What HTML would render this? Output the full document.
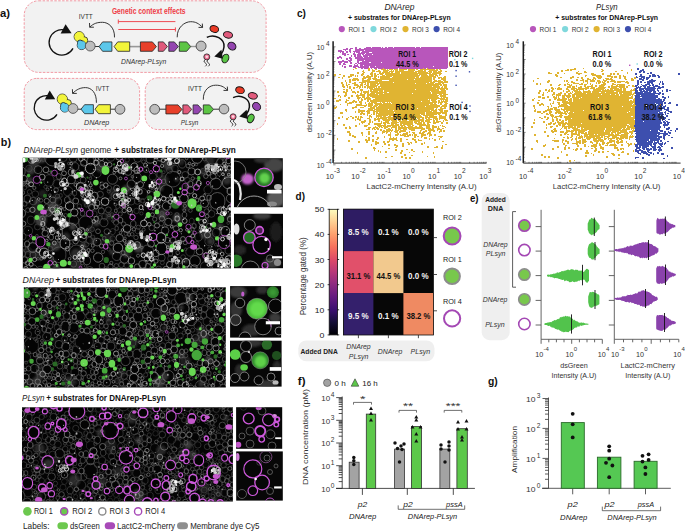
<!DOCTYPE html>
<html><head><meta charset="utf-8"><title>Figure</title>
<style>
html,body{margin:0;padding:0;background:#fff;width:685px;height:531px;overflow:hidden}
svg{display:block}
text{font-family:"Liberation Sans", sans-serif}
</style></head><body>
<svg width="685" height="531" viewBox="0 0 685 531" font-family='"Liberation Sans", sans-serif'>
<rect width="685" height="531" fill="#fff"/>
<defs><filter id="blur1" x="-50%" y="-50%" width="200%" height="200%"><feGaussianBlur stdDeviation="1"/></filter><filter id="blur05" x="-50%" y="-50%" width="200%" height="200%"><feGaussianBlur stdDeviation="0.5"/></filter><filter id="blur03" x="-50%" y="-50%" width="200%" height="200%"><feGaussianBlur stdDeviation="0.3"/></filter></defs>
<g fill="#f2f2f2" stroke="#f0909b" stroke-width="0.9" stroke-dasharray="2.5 1.4">
<rect x="24.2" y="0.8" width="241.9" height="71.6" rx="14.5"/>
<rect x="24.2" y="78.4" width="115.4" height="51.2" rx="12.5"/>
<rect x="145.2" y="77.8" width="120.9" height="51.8" rx="13"/>
</g>
<text x="0.0" y="16.8" font-size="11.5" font-weight="bold" fill="#111" textLength="10.0" lengthAdjust="spacingAndGlyphs">a)</text>
<g stroke="#ee4a52" stroke-width="1" fill="none">
<path d="M118.3,21.6H175.4M118.3,19.5V23.7M118.3,29.5H175.4M175.4,27.4V31.6"/>
</g>
<text x="111.9" y="13.9" font-size="8.2" font-weight="bold" fill="#ee3b45" textLength="73.7" lengthAdjust="spacingAndGlyphs">Genetic context effects</text>
<text x="78.8" y="19.2" font-size="7" fill="#333" textLength="14.0" lengthAdjust="spacingAndGlyphs">IVTT</text>
<text x="121.0" y="63.6" font-size="7.3" font-style="italic" fill="#333" textLength="45.2" lengthAdjust="spacingAndGlyphs">DNArep-PLsyn</text>
<text x="95.8" y="90.5" font-size="7" fill="#333" textLength="13.4" lengthAdjust="spacingAndGlyphs">IVTT</text>
<text x="188.0" y="90.5" font-size="7" fill="#333" textLength="14.0" lengthAdjust="spacingAndGlyphs">IVTT</text>
<text x="84.0" y="125.2" font-size="7.3" font-style="italic" fill="#333" textLength="25.3" lengthAdjust="spacingAndGlyphs">DNArep</text>
<text x="180.7" y="125.2" font-size="7.3" font-style="italic" fill="#333" textLength="17.7" lengthAdjust="spacingAndGlyphs">PLsyn</text>
<path d="M73,48.4A12.7,12.7 0 1 1 64.4,30.0" fill="none" stroke="#111" stroke-width="1.3"/>
<path d="M65.6,24.2L71.6,33.2L60.6,33.4Z" fill="#111"/>
<path d="M95,46.5H99.5" stroke="#333" stroke-width="1"/>
<path d="M129.7,46.6H140.4" stroke="#999" stroke-width="1.6"/>
<path d="M190.5,46.5H196.5" stroke="#999" stroke-width="1.4"/>
<g stroke="#222" stroke-width="0.8">
<circle cx="79.2" cy="36.7" r="5.1" fill="#f2f43a"/>
<circle cx="84.1" cy="40.4" r="3.7" fill="#f2f43a"/>
<circle cx="79.2" cy="36.7" r="4.7" fill="#f2f43a" stroke="none"/>
<circle cx="81.6" cy="45.2" r="4.4" fill="#5cc7ea"/>
<circle cx="80.1" cy="42.6" r="2.6" fill="#5cc7ea"/>
<circle cx="81.6" cy="45.2" r="4" fill="#5cc7ea" stroke="none"/>
<circle cx="90.2" cy="46.1" r="4.9" fill="#bdbdbd" stroke="#444"/>
</g>
<path d="M99,46.6L102.6,41.9H111.9V51.300000000000004H102.6Z" fill="#5cc7ea" stroke="#222" stroke-width="0.8"/>
<path d="M114.1,46.6L117.69999999999999,41.9H129.7V51.300000000000004H117.69999999999999Z" fill="#f2f43a" stroke="#222" stroke-width="0.8"/>
<path d="M140.4,41.9H152.4L156.4,46.6L152.4,51.300000000000004H140.4Z" fill="#e8402a" stroke="#222" stroke-width="0.8"/>
<path d="M158.3,41.9H163.4L167.4,46.6L163.4,51.300000000000004H158.3Z" fill="#e15a7c" stroke="#222" stroke-width="0.8"/>
<path d="M168.8,41.9H174.3L178.3,46.6L174.3,51.300000000000004H168.8Z" fill="#9446b0" stroke="#222" stroke-width="0.8"/>
<path d="M179.3,41.9H186.7L190.7,46.6L186.7,51.300000000000004H179.3Z" fill="#5cc544" stroke="#222" stroke-width="0.8"/>
<circle cx="201.1" cy="46.1" r="5" fill="#bdbdbd" stroke="#333" stroke-width="0.8"/>
<path d="M114.5,37.4C114.8,27.4 108.5,22.3 102.5,22.3C97.5,22.3 93.7,23.2 89.7,27.2" fill="none" stroke="#2a2a2a" stroke-width="0.95"/>
<path d="M89.5,23.0L89.7,27.2L93.9,27.2" fill="none" stroke="#2a2a2a" stroke-width="0.95"/>
<path d="M177.2,37.3C176.89999999999998,27.299999999999997 184.7,21.7 190.7,21.7C195.7,21.7 198.6,23.4 202.6,27.4" fill="none" stroke="#2a2a2a" stroke-width="0.95"/>
<path d="M198.5,27.4L202.6,27.4L202.29999999999998,23.599999999999998" fill="none" stroke="#2a2a2a" stroke-width="0.95"/>
<ellipse cx="214.3" cy="29" rx="4.4" ry="3.3" transform="rotate(18 214.3 29)" fill="#ea3a26" stroke="#151515" stroke-width="0.95"/>
<ellipse cx="228" cy="34.9" rx="4.6" ry="3.2" transform="rotate(12 228 34.9)" fill="#e25b7d" stroke="#151515" stroke-width="0.95"/>
<ellipse cx="231.9" cy="46.1" rx="4.3" ry="3.6" transform="rotate(40 231.9 46.1)" fill="#9446b0" stroke="#151515" stroke-width="0.95"/>
<ellipse cx="225.4" cy="58.5" rx="3.2" ry="4.5" transform="rotate(25 225.4 58.5)" fill="#58c444" stroke="#151515" stroke-width="0.95"/>
<path d="M206.8,37.3C214.8,33.3 225,39 224,47C223.5,51 222.9,51.8 221.4,53.8" fill="none" stroke="#111" stroke-width="1.5"/>
<path d="M214.3,56.4L221.4,49.8L222.20000000000002,54.099999999999994L222.6,58.8Z" fill="#111"/>
<circle cx="206.8" cy="56.9" r="3" fill="#ee6d90" stroke="#222" stroke-width="0.8"/>
<circle cx="206.8" cy="56.699999999999996" r="1.3" fill="#fcd9e3" filter="url(#blur05)"/>
<path d="M205.3,59.699999999999996c-1.6,1 -1.6,2.2 0,3.2c1.6,1 1.6,2.2 0,3.4M208.3,59.699999999999996c-1.6,1 -1.6,2.2 0,3.2c1.6,1 1.6,2.2 0,3.4" fill="none" stroke="#111" stroke-width="0.85"/>
<path d="M57,114.3A12.3,12.3 0 1 1 48.5,95.7" fill="none" stroke="#111" stroke-width="1.3"/>
<path d="M49.7,90.5L55.2,99.2L44.8,99.6Z" fill="#111"/>
<path d="M77.5,109.2H82" stroke="#333" stroke-width="1"/>
<path d="M110.4,109.2H116" stroke="#333" stroke-width="1"/>
<g stroke="#222" stroke-width="0.8">
<circle cx="62.3" cy="99.1" r="5.1" fill="#f2f43a"/>
<circle cx="67.7" cy="103.2" r="3.7" fill="#f2f43a"/>
<circle cx="62.3" cy="99.1" r="4.7" fill="#f2f43a" stroke="none"/>
<circle cx="64.8" cy="107.7" r="4.4" fill="#5cc7ea"/>
<circle cx="63.3" cy="105.10000000000001" r="2.6" fill="#5cc7ea"/>
<circle cx="64.8" cy="107.7" r="4" fill="#5cc7ea" stroke="none"/>
<circle cx="73" cy="108.5" r="4.9" fill="#bdbdbd" stroke="#444"/>
</g>
<path d="M81,109.2L84.6,104.7H93.4V113.7H84.6Z" fill="#5cc7ea" stroke="#222" stroke-width="0.8"/>
<path d="M95,109.2L98.6,104.7H110.4V113.7H98.6Z" fill="#f2f43a" stroke="#222" stroke-width="0.8"/>
<circle cx="120" cy="109.3" r="4.9" fill="#bdbdbd" stroke="#333" stroke-width="0.8"/>
<path d="M96.4,102.8C96.7,92.8 91.5,87.6 85.5,87.6C80.5,87.6 76.6,89.4 72.6,93.4" fill="none" stroke="#2a2a2a" stroke-width="0.95"/>
<path d="M72.39999999999999,89.2L72.6,93.4L76.8,93.4" fill="none" stroke="#2a2a2a" stroke-width="0.95"/>
<path d="M159,109.2H166" stroke="#333" stroke-width="1"/>
<path d="M213.5,109.2H219.5" stroke="#333" stroke-width="1"/>
<circle cx="154.7" cy="109.3" r="4.9" fill="#bdbdbd" stroke="#333" stroke-width="0.8"/>
<path d="M165.9,104.9H178L182,109.4L178,113.9H165.9Z" fill="#e8402a" stroke="#222" stroke-width="0.8"/>
<path d="M182.9,104.9H187.7L191.7,109.4L187.7,113.9H182.9Z" fill="#e15a7c" stroke="#222" stroke-width="0.8"/>
<path d="M193.1,104.9H197.9L201.9,109.4L197.9,113.9H193.1Z" fill="#9446b0" stroke="#222" stroke-width="0.8"/>
<path d="M203.3,104.9H209.6L213.6,109.4L209.6,113.9H203.3Z" fill="#5cc544" stroke="#222" stroke-width="0.8"/>
<circle cx="224" cy="109.1" r="4.8" fill="#bdbdbd" stroke="#333" stroke-width="0.8"/>
<path d="M203.3,99.7C203.0,89.7 209.7,85.2 215.7,85.2C220.7,85.2 223.6,86.4 227.6,90.4" fill="none" stroke="#2a2a2a" stroke-width="0.95"/>
<path d="M223.5,90.4L227.6,90.4L227.29999999999998,86.60000000000001" fill="none" stroke="#2a2a2a" stroke-width="0.95"/>
<ellipse cx="240" cy="90.2" rx="4.4" ry="3.3" transform="rotate(18 240 90.2)" fill="#ea3a26" stroke="#151515" stroke-width="0.95"/>
<ellipse cx="252.8" cy="95.8" rx="4.6" ry="3.2" transform="rotate(12 252.8 95.8)" fill="#e25b7d" stroke="#151515" stroke-width="0.95"/>
<ellipse cx="256.6" cy="106.5" rx="4.3" ry="3.6" transform="rotate(40 256.6 106.5)" fill="#9446b0" stroke="#151515" stroke-width="0.95"/>
<ellipse cx="250.7" cy="118.4" rx="3.2" ry="4.5" transform="rotate(25 250.7 118.4)" fill="#58c444" stroke="#151515" stroke-width="0.95"/>
<path d="M233.1,97.7C241.1,93.7 250.4,99 249.4,107C248.9,111 248.1,111.85 246.6,113.85" fill="none" stroke="#111" stroke-width="1.5"/>
<path d="M239.3,116.5L246.6,109.8L247.4,114.14999999999999L247.8,118.9Z" fill="#111"/>
<circle cx="233.1" cy="116.8" r="3" fill="#ee6d90" stroke="#222" stroke-width="0.8"/>
<circle cx="233.1" cy="116.6" r="1.3" fill="#fcd9e3" filter="url(#blur05)"/>
<path d="M231.6,119.6c-1.6,1 -1.6,2.2 0,3.2c1.6,1 1.6,2.2 0,3.4M234.6,119.6c-1.6,1 -1.6,2.2 0,3.2c1.6,1 1.6,2.2 0,3.4" fill="none" stroke="#111" stroke-width="0.85"/>
<text x="0.8" y="146.3" font-size="11.5" font-weight="bold" fill="#111" textLength="10.2" lengthAdjust="spacingAndGlyphs">b)</text>
<text x="23.5" y="152.6" font-size="8.9" font-style="italic" fill="#222" textLength="54.5" lengthAdjust="spacingAndGlyphs">DNArep-PLsyn</text>
<text x="80.4" y="152.6" font-size="8.9" fill="#222" textLength="30.9" lengthAdjust="spacingAndGlyphs">genome</text>
<text x="114.3" y="152.6" font-size="8.9" font-weight="bold" fill="#111" textLength="121.5" lengthAdjust="spacingAndGlyphs">+ substrates for DNArep-PLsyn</text>
<text x="22.6" y="282.6" font-size="8.9" font-style="italic" fill="#222" textLength="31.2" lengthAdjust="spacingAndGlyphs">DNArep</text>
<text x="55.5" y="282.6" font-size="8.9" font-weight="bold" fill="#111" textLength="121.0" lengthAdjust="spacingAndGlyphs">+ substrates for DNArep-PLsyn</text>
<text x="22.1" y="401.3" font-size="8.9" font-style="italic" fill="#222" textLength="22.3" lengthAdjust="spacingAndGlyphs">PLsyn</text>
<text x="46.3" y="401.3" font-size="8.9" font-weight="bold" fill="#111" textLength="119.7" lengthAdjust="spacingAndGlyphs">+ substrates for DNArep-PLsyn</text>
<clipPath id="cp11"><rect x="22.8" y="157.8" width="208.1" height="110.6"/></clipPath>
<rect x="22.8" y="157.8" width="208.1" height="110.6" fill="#040404"/>
<g clip-path="url(#cp11)">
<g filter="url(#blur1)"><circle cx="49.6" cy="213.0" r="4.4" fill="rgb(27,27,27)"/><circle cx="53.6" cy="260.5" r="2.3" fill="rgb(31,31,31)"/><circle cx="220.1" cy="226.6" r="3.5" fill="rgb(46,46,46)"/><circle cx="160.7" cy="188.2" r="2.6" fill="rgb(57,57,57)"/><circle cx="162.3" cy="214.5" r="5.3" fill="rgb(47,47,47)"/><circle cx="226.9" cy="180.4" r="4.2" fill="rgb(45,45,45)"/><circle cx="96.3" cy="223.2" r="2.9" fill="rgb(58,58,58)"/><circle cx="203.3" cy="172.0" r="3.9" fill="rgb(37,37,37)"/><circle cx="40.1" cy="256.9" r="3.7" fill="rgb(31,31,31)"/><circle cx="162.9" cy="180.2" r="5.6" fill="rgb(34,34,34)"/><circle cx="29.7" cy="180.0" r="3.4" fill="rgb(44,44,44)"/><circle cx="211.4" cy="234.9" r="3.4" fill="rgb(26,26,26)"/><circle cx="56.1" cy="268.0" r="3.8" fill="rgb(53,53,53)"/><circle cx="34.2" cy="161.6" r="5.4" fill="rgb(49,49,49)"/><circle cx="87.0" cy="192.9" r="2.4" fill="rgb(32,32,32)"/><circle cx="27.9" cy="250.6" r="3.9" fill="rgb(31,31,31)"/><circle cx="176.6" cy="179.4" r="2.2" fill="rgb(49,49,49)"/><circle cx="209.2" cy="160.8" r="5.2" fill="rgb(33,33,33)"/><circle cx="42.1" cy="159.8" r="3.2" fill="rgb(55,55,55)"/><circle cx="125.4" cy="252.1" r="2.9" fill="rgb(38,38,38)"/><circle cx="76.5" cy="266.0" r="5.8" fill="rgb(39,39,39)"/><circle cx="113.5" cy="192.6" r="5.0" fill="rgb(27,27,27)"/><circle cx="36.8" cy="202.5" r="3.0" fill="rgb(59,59,59)"/><circle cx="177.2" cy="218.2" r="4.6" fill="rgb(53,53,53)"/><circle cx="185.3" cy="260.4" r="2.6" fill="rgb(51,51,51)"/><circle cx="52.7" cy="206.8" r="5.1" fill="rgb(61,61,61)"/><circle cx="180.8" cy="161.7" r="3.4" fill="rgb(32,32,32)"/><circle cx="230.7" cy="173.7" r="3.0" fill="rgb(40,40,40)"/><circle cx="35.5" cy="254.1" r="4.5" fill="rgb(32,32,32)"/><circle cx="126.5" cy="166.5" r="4.4" fill="rgb(35,35,35)"/><circle cx="30.8" cy="170.5" r="4.2" fill="rgb(51,51,51)"/><circle cx="90.4" cy="229.0" r="3.4" fill="rgb(31,31,31)"/><circle cx="88.4" cy="201.5" r="5.7" fill="rgb(30,30,30)"/><circle cx="40.7" cy="219.9" r="5.9" fill="rgb(62,62,62)"/><circle cx="168.5" cy="165.2" r="5.2" fill="rgb(53,53,53)"/><circle cx="52.8" cy="209.2" r="2.2" fill="rgb(58,58,58)"/><circle cx="172.3" cy="246.8" r="5.0" fill="rgb(36,36,36)"/><circle cx="187.1" cy="185.4" r="2.6" fill="rgb(41,41,41)"/><circle cx="126.4" cy="189.4" r="4.4" fill="rgb(50,50,50)"/><circle cx="72.7" cy="226.7" r="3.4" fill="rgb(55,55,55)"/><circle cx="83.2" cy="246.1" r="3.7" fill="rgb(48,48,48)"/><circle cx="162.9" cy="215.1" r="3.0" fill="rgb(65,65,65)"/><circle cx="42.8" cy="193.7" r="4.2" fill="rgb(27,27,27)"/><circle cx="55.0" cy="246.2" r="5.1" fill="rgb(51,51,51)"/><circle cx="210.5" cy="241.4" r="3.2" fill="rgb(51,51,51)"/><circle cx="93.6" cy="240.7" r="3.5" fill="rgb(32,32,32)"/><circle cx="205.2" cy="234.2" r="5.0" fill="rgb(48,48,48)"/><circle cx="185.7" cy="207.3" r="4.3" fill="rgb(28,28,28)"/><circle cx="138.3" cy="247.9" r="4.8" fill="rgb(58,58,58)"/><circle cx="126.0" cy="255.3" r="2.4" fill="rgb(61,61,61)"/><circle cx="100.1" cy="167.9" r="4.5" fill="rgb(44,44,44)"/><circle cx="111.9" cy="252.0" r="2.6" fill="rgb(50,50,50)"/><circle cx="108.9" cy="216.2" r="4.0" fill="rgb(31,31,31)"/><circle cx="129.4" cy="253.1" r="2.7" fill="rgb(26,26,26)"/><circle cx="36.9" cy="208.7" r="5.9" fill="rgb(27,27,27)"/><circle cx="229.0" cy="217.1" r="2.5" fill="rgb(42,42,42)"/><circle cx="66.0" cy="236.8" r="4.2" fill="rgb(37,37,37)"/><circle cx="76.0" cy="253.7" r="5.1" fill="rgb(43,43,43)"/><circle cx="107.2" cy="239.4" r="5.9" fill="rgb(29,29,29)"/><circle cx="55.9" cy="197.9" r="4.0" fill="rgb(28,28,28)"/></g>
<g filter="url(#blur03)">
<path d="M64.6 200.0a2.8 2.8 0 1 0 5.5 0a2.8 2.8 0 1 0 -5.5 0M95.6 231.3a2.4 2.4 0 1 0 4.8 0a2.4 2.4 0 1 0 -4.8 0M190.8 268.8a3.5 3.5 0 1 0 6.9 0a3.5 3.5 0 1 0 -6.9 0M44.7 157.9a8.1 8.1 0 1 0 16.2 0a8.1 8.1 0 1 0 -16.2 0M39.5 219.0a2.9 2.9 0 1 0 5.8 0a2.9 2.9 0 1 0 -5.8 0M160.0 191.3a6.4 6.4 0 1 0 12.9 0a6.4 6.4 0 1 0 -12.9 0M109.4 243.0a2.2 2.2 0 1 0 4.5 0a2.2 2.2 0 1 0 -4.5 0M87.2 160.9a3.4 3.4 0 1 0 6.7 0a3.4 3.4 0 1 0 -6.7 0M34.1 169.7a4.0 4.0 0 1 0 8.0 0a4.0 4.0 0 1 0 -8.0 0M50.0 200.0a2.9 2.9 0 1 0 5.9 0a2.9 2.9 0 1 0 -5.9 0M87.6 234.5a1.9 1.9 0 1 0 3.7 0a1.9 1.9 0 1 0 -3.7 0M161.3 230.6a3.8 3.8 0 1 0 7.6 0a3.8 3.8 0 1 0 -7.6 0M182.8 210.2a1.4 1.4 0 1 0 2.9 0a1.4 1.4 0 1 0 -2.9 0M98.2 210.9a3.1 3.1 0 1 0 6.2 0a3.1 3.1 0 1 0 -6.2 0M183.1 242.6a2.1 2.1 0 1 0 4.2 0a2.1 2.1 0 1 0 -4.2 0M170.0 240.4a3.0 3.0 0 1 0 6.1 0a3.0 3.0 0 1 0 -6.1 0M39.8 258.8a1.4 1.4 0 1 0 2.8 0a1.4 1.4 0 1 0 -2.8 0M185.3 158.5a1.3 1.3 0 1 0 2.6 0a1.3 1.3 0 1 0 -2.6 0M182.2 214.9a2.3 2.3 0 1 0 4.5 0a2.3 2.3 0 1 0 -4.5 0M226.4 198.3a4.4 4.4 0 1 0 8.8 0a4.4 4.4 0 1 0 -8.8 0M107.5 179.2a5.0 5.0 0 1 0 10.0 0a5.0 5.0 0 1 0 -10.0 0M192.0 226.1a2.1 2.1 0 1 0 4.1 0a2.1 2.1 0 1 0 -4.1 0M83.2 260.5a3.7 3.7 0 1 0 7.3 0a3.7 3.7 0 1 0 -7.3 0M121.6 252.8a1.7 1.7 0 1 0 3.3 0a1.7 1.7 0 1 0 -3.3 0M155.3 201.5a2.5 2.5 0 1 0 5.0 0a2.5 2.5 0 1 0 -5.0 0M63.0 209.0a1.6 1.6 0 1 0 3.2 0a1.6 1.6 0 1 0 -3.2 0M206.5 225.8a2.4 2.4 0 1 0 4.9 0a2.4 2.4 0 1 0 -4.9 0M157.7 158.7a1.9 1.9 0 1 0 3.7 0a1.9 1.9 0 1 0 -3.7 0M46.1 189.4a1.4 1.4 0 1 0 2.9 0a1.4 1.4 0 1 0 -2.9 0M16.6 171.4a4.3 4.3 0 1 0 8.5 0a4.3 4.3 0 1 0 -8.5 0M113.6 188.1a3.0 3.0 0 1 0 6.0 0a3.0 3.0 0 1 0 -6.0 0M24.1 199.0a3.4 3.4 0 1 0 6.7 0a3.4 3.4 0 1 0 -6.7 0M165.5 199.4a1.9 1.9 0 1 0 3.8 0a1.9 1.9 0 1 0 -3.8 0M186.0 165.9a2.0 2.0 0 1 0 4.0 0a2.0 2.0 0 1 0 -4.0 0M183.2 205.9a1.6 1.6 0 1 0 3.3 0a1.6 1.6 0 1 0 -3.3 0M45.2 213.1a3.2 3.2 0 1 0 6.4 0a3.2 3.2 0 1 0 -6.4 0M211.3 254.8a1.3 1.3 0 1 0 2.6 0a1.3 1.3 0 1 0 -2.6 0M21.5 192.6a1.5 1.5 0 1 0 2.9 0a1.5 1.5 0 1 0 -2.9 0M53.8 190.0a2.3 2.3 0 1 0 4.6 0a2.3 2.3 0 1 0 -4.6 0M140.6 247.6a1.3 1.3 0 1 0 2.6 0a1.3 1.3 0 1 0 -2.6 0M109.7 262.9a1.6 1.6 0 1 0 3.2 0a1.6 1.6 0 1 0 -3.2 0" fill="none" stroke="rgb(140,140,140)" stroke-width="0.55"/>
<path d="M146.1 159.1a4.1 4.1 0 1 0 8.2 0a4.1 4.1 0 1 0 -8.2 0M187.8 184.0a2.5 2.5 0 1 0 4.9 0a2.5 2.5 0 1 0 -4.9 0M116.0 238.1a3.7 3.7 0 1 0 7.4 0a3.7 3.7 0 1 0 -7.4 0M200.5 203.5a4.0 4.0 0 1 0 8.0 0a4.0 4.0 0 1 0 -8.0 0M206.9 197.7a2.2 2.2 0 1 0 4.3 0a2.2 2.2 0 1 0 -4.3 0M189.7 260.9a5.3 5.3 0 1 0 10.7 0a5.3 5.3 0 1 0 -10.7 0M21.0 178.6a3.1 3.1 0 1 0 6.3 0a3.1 3.1 0 1 0 -6.3 0M164.6 221.9a3.7 3.7 0 1 0 7.4 0a3.7 3.7 0 1 0 -7.4 0M74.0 184.9a1.6 1.6 0 1 0 3.2 0a1.6 1.6 0 1 0 -3.2 0M191.8 157.2a5.4 5.4 0 1 0 10.7 0a5.4 5.4 0 1 0 -10.7 0M210.4 183.6a5.5 5.5 0 1 0 11.0 0a5.5 5.5 0 1 0 -11.0 0M227.3 219.1a2.8 2.8 0 1 0 5.7 0a2.8 2.8 0 1 0 -5.7 0M54.6 206.6a1.7 1.7 0 1 0 3.4 0a1.7 1.7 0 1 0 -3.4 0M62.3 231.7a7.8 7.8 0 1 0 15.5 0a7.8 7.8 0 1 0 -15.5 0M173.3 228.5a2.8 2.8 0 1 0 5.6 0a2.8 2.8 0 1 0 -5.6 0M72.8 201.0a2.9 2.9 0 1 0 5.9 0a2.9 2.9 0 1 0 -5.9 0M186.7 190.0a3.6 3.6 0 1 0 7.3 0a3.6 3.6 0 1 0 -7.3 0M44.1 200.9a2.6 2.6 0 1 0 5.2 0a2.6 2.6 0 1 0 -5.2 0M230.0 215.0a1.8 1.8 0 1 0 3.5 0a1.8 1.8 0 1 0 -3.5 0M134.3 267.5a3.0 3.0 0 1 0 5.9 0a3.0 3.0 0 1 0 -5.9 0M112.9 172.6a1.3 1.3 0 1 0 2.6 0a1.3 1.3 0 1 0 -2.6 0M163.2 269.1a2.9 2.9 0 1 0 5.8 0a2.9 2.9 0 1 0 -5.8 0M27.5 159.0a4.4 4.4 0 1 0 8.9 0a4.4 4.4 0 1 0 -8.9 0M187.9 171.4a3.6 3.6 0 1 0 7.2 0a3.6 3.6 0 1 0 -7.2 0M21.3 259.9a3.2 3.2 0 1 0 6.4 0a3.2 3.2 0 1 0 -6.4 0M127.8 212.0a2.3 2.3 0 1 0 4.5 0a2.3 2.3 0 1 0 -4.5 0M205.2 216.2a1.9 1.9 0 1 0 3.8 0a1.9 1.9 0 1 0 -3.8 0M222.4 182.9a5.8 5.8 0 1 0 11.6 0a5.8 5.8 0 1 0 -11.6 0M63.7 223.9a1.8 1.8 0 1 0 3.5 0a1.8 1.8 0 1 0 -3.5 0M16.1 213.3a4.7 4.7 0 1 0 9.4 0a4.7 4.7 0 1 0 -9.4 0M132.1 229.3a1.7 1.7 0 1 0 3.5 0a1.7 1.7 0 1 0 -3.5 0M68.2 258.8a1.3 1.3 0 1 0 2.7 0a1.3 1.3 0 1 0 -2.7 0M195.6 200.1a1.6 1.6 0 1 0 3.1 0a1.6 1.6 0 1 0 -3.1 0M91.5 245.5a1.4 1.4 0 1 0 2.7 0a1.4 1.4 0 1 0 -2.7 0M211.8 266.4a4.0 4.0 0 1 0 8.0 0a4.0 4.0 0 1 0 -8.0 0M98.5 157.7a2.7 2.7 0 1 0 5.5 0a2.7 2.7 0 1 0 -5.5 0M22.8 184.1a1.3 1.3 0 1 0 2.6 0a1.3 1.3 0 1 0 -2.6 0M92.6 204.0a1.3 1.3 0 1 0 2.6 0a1.3 1.3 0 1 0 -2.6 0M67.3 179.6a4.0 4.0 0 1 0 8.1 0a4.0 4.0 0 1 0 -8.1 0M159.4 218.5a2.5 2.5 0 1 0 5.1 0a2.5 2.5 0 1 0 -5.1 0M138.7 264.3a3.9 3.9 0 1 0 7.8 0a3.9 3.9 0 1 0 -7.8 0M120.1 259.0a4.3 4.3 0 1 0 8.6 0a4.3 4.3 0 1 0 -8.6 0M48.9 237.2a2.3 2.3 0 1 0 4.5 0a2.3 2.3 0 1 0 -4.5 0M187.6 267.6a1.8 1.8 0 1 0 3.6 0a1.8 1.8 0 1 0 -3.6 0M188.2 163.5a1.3 1.3 0 1 0 2.6 0a1.3 1.3 0 1 0 -2.6 0M72.9 241.2a2.7 2.7 0 1 0 5.4 0a2.7 2.7 0 1 0 -5.4 0M150.6 214.7a1.9 1.9 0 1 0 3.8 0a1.9 1.9 0 1 0 -3.8 0M99.9 187.0a2.2 2.2 0 1 0 4.5 0a2.2 2.2 0 1 0 -4.5 0M127.7 234.5a1.4 1.4 0 1 0 2.7 0a1.4 1.4 0 1 0 -2.7 0" fill="none" stroke="rgb(170,170,170)" stroke-width="0.55"/>
<path d="M112.3 256.1a4.4 4.4 0 1 0 8.8 0a4.4 4.4 0 1 0 -8.8 0M200.4 266.7a5.0 5.0 0 1 0 10.0 0a5.0 5.0 0 1 0 -10.0 0M67.5 163.5a1.3 1.3 0 1 0 2.6 0a1.3 1.3 0 1 0 -2.6 0M136.2 227.3a2.1 2.1 0 1 0 4.2 0a2.1 2.1 0 1 0 -4.2 0M158.7 206.5a1.3 1.3 0 1 0 2.6 0a1.3 1.3 0 1 0 -2.6 0M164.9 179.1a7.9 7.9 0 1 0 15.8 0a7.9 7.9 0 1 0 -15.8 0M121.5 202.5a1.3 1.3 0 1 0 2.6 0a1.3 1.3 0 1 0 -2.6 0M115.0 228.3a1.7 1.7 0 1 0 3.3 0a1.7 1.7 0 1 0 -3.3 0M175.8 260.6a3.2 3.2 0 1 0 6.5 0a3.2 3.2 0 1 0 -6.5 0M113.4 222.7a2.6 2.6 0 1 0 5.2 0a2.6 2.6 0 1 0 -5.2 0M85.9 270.2a3.7 3.7 0 1 0 7.4 0a3.7 3.7 0 1 0 -7.4 0M52.0 254.8a7.0 7.0 0 1 0 13.9 0a7.0 7.0 0 1 0 -13.9 0M22.8 203.7a2.1 2.1 0 1 0 4.1 0a2.1 2.1 0 1 0 -4.1 0M126.8 193.6a5.3 5.3 0 1 0 10.6 0a5.3 5.3 0 1 0 -10.6 0M198.9 229.9a2.1 2.1 0 1 0 4.3 0a2.1 2.1 0 1 0 -4.3 0M69.4 252.0a7.0 7.0 0 1 0 14.0 0a7.0 7.0 0 1 0 -14.0 0M29.5 201.1a3.7 3.7 0 1 0 7.4 0a3.7 3.7 0 1 0 -7.4 0M217.3 251.2a2.0 2.0 0 1 0 3.9 0a2.0 2.0 0 1 0 -3.9 0M175.0 215.1a2.0 2.0 0 1 0 3.9 0a2.0 2.0 0 1 0 -3.9 0M101.3 251.9a1.7 1.7 0 1 0 3.4 0a1.7 1.7 0 1 0 -3.4 0M162.1 181.4a1.9 1.9 0 1 0 3.7 0a1.9 1.9 0 1 0 -3.7 0M195.0 236.9a3.6 3.6 0 1 0 7.1 0a3.6 3.6 0 1 0 -7.1 0M158.2 257.7a3.5 3.5 0 1 0 7.0 0a3.5 3.5 0 1 0 -7.0 0M90.3 189.6a1.3 1.3 0 1 0 2.6 0a1.3 1.3 0 1 0 -2.6 0M132.8 177.6a4.3 4.3 0 1 0 8.5 0a4.3 4.3 0 1 0 -8.5 0M121.7 165.7a3.1 3.1 0 1 0 6.2 0a3.1 3.1 0 1 0 -6.2 0M220.4 258.5a1.3 1.3 0 1 0 2.6 0a1.3 1.3 0 1 0 -2.6 0M38.1 161.0a1.3 1.3 0 1 0 2.6 0a1.3 1.3 0 1 0 -2.6 0M97.5 222.1a1.3 1.3 0 1 0 2.6 0a1.3 1.3 0 1 0 -2.6 0M225.1 266.7a3.1 3.1 0 1 0 6.2 0a3.1 3.1 0 1 0 -6.2 0M105.5 209.8a2.9 2.9 0 1 0 5.8 0a2.9 2.9 0 1 0 -5.8 0M155.7 269.1a3.0 3.0 0 1 0 6.0 0a3.0 3.0 0 1 0 -6.0 0M25.5 210.1a2.3 2.3 0 1 0 4.6 0a2.3 2.3 0 1 0 -4.6 0M102.6 238.4a1.7 1.7 0 1 0 3.3 0a1.7 1.7 0 1 0 -3.3 0M195.1 164.4a1.3 1.3 0 1 0 2.6 0a1.3 1.3 0 1 0 -2.6 0M69.1 220.3a4.8 4.8 0 1 0 9.6 0a4.8 4.8 0 1 0 -9.6 0M206.3 169.3a1.5 1.5 0 1 0 2.9 0a1.5 1.5 0 1 0 -2.9 0M181.9 174.8a3.3 3.3 0 1 0 6.6 0a3.3 3.3 0 1 0 -6.6 0M216.6 161.7a3.2 3.2 0 1 0 6.4 0a3.2 3.2 0 1 0 -6.4 0M230.0 254.4a1.3 1.3 0 1 0 2.6 0a1.3 1.3 0 1 0 -2.6 0M216.9 261.0a1.9 1.9 0 1 0 3.7 0a1.9 1.9 0 1 0 -3.7 0M104.0 268.5a1.7 1.7 0 1 0 3.5 0a1.7 1.7 0 1 0 -3.5 0M48.5 195.3a1.4 1.4 0 1 0 2.8 0a1.4 1.4 0 1 0 -2.8 0M221.4 171.3a1.3 1.3 0 1 0 2.6 0a1.3 1.3 0 1 0 -2.6 0M130.4 234.3a1.8 1.8 0 1 0 3.6 0a1.8 1.8 0 1 0 -3.6 0M66.1 184.1a1.5 1.5 0 1 0 3.0 0a1.5 1.5 0 1 0 -3.0 0M186.6 194.5a1.6 1.6 0 1 0 3.2 0a1.6 1.6 0 1 0 -3.2 0M222.9 160.0a1.3 1.3 0 1 0 2.6 0a1.3 1.3 0 1 0 -2.6 0M35.6 235.8a1.3 1.3 0 1 0 2.6 0a1.3 1.3 0 1 0 -2.6 0M50.9 258.3a1.4 1.4 0 1 0 2.7 0a1.4 1.4 0 1 0 -2.7 0" fill="none" stroke="rgb(110,110,110)" stroke-width="0.55"/>
<path d="M93.5 257.5a4.7 4.7 0 1 0 9.4 0a4.7 4.7 0 1 0 -9.4 0M208.2 260.3a3.5 3.5 0 1 0 6.9 0a3.5 3.5 0 1 0 -6.9 0M20.6 223.7a2.6 2.6 0 1 0 5.2 0a2.6 2.6 0 1 0 -5.2 0M162.4 206.0a4.3 4.3 0 1 0 8.6 0a4.3 4.3 0 1 0 -8.6 0M198.7 222.2a2.7 2.7 0 1 0 5.4 0a2.7 2.7 0 1 0 -5.4 0M170.3 159.1a4.6 4.6 0 1 0 9.3 0a4.6 4.6 0 1 0 -9.3 0M107.3 164.8a2.3 2.3 0 1 0 4.7 0a2.3 2.3 0 1 0 -4.7 0M27.9 247.5a4.8 4.8 0 1 0 9.6 0a4.8 4.8 0 1 0 -9.6 0M80.6 162.9a3.2 3.2 0 1 0 6.4 0a3.2 3.2 0 1 0 -6.4 0M152.4 253.4a3.3 3.3 0 1 0 6.7 0a3.3 3.3 0 1 0 -6.7 0M68.2 172.3a3.5 3.5 0 1 0 7.0 0a3.5 3.5 0 1 0 -7.0 0M137.2 184.7a3.1 3.1 0 1 0 6.3 0a3.1 3.1 0 1 0 -6.3 0M118.2 220.2a2.3 2.3 0 1 0 4.5 0a2.3 2.3 0 1 0 -4.5 0M42.0 233.4a3.1 3.1 0 1 0 6.3 0a3.1 3.1 0 1 0 -6.3 0M24.7 244.0a2.5 2.5 0 1 0 4.9 0a2.5 2.5 0 1 0 -4.9 0M99.4 246.0a2.0 2.0 0 1 0 4.1 0a2.0 2.0 0 1 0 -4.1 0M122.0 210.5a2.2 2.2 0 1 0 4.4 0a2.2 2.2 0 1 0 -4.4 0M99.2 163.8a2.7 2.7 0 1 0 5.3 0a2.7 2.7 0 1 0 -5.3 0M196.2 251.4a3.4 3.4 0 1 0 6.8 0a3.4 3.4 0 1 0 -6.8 0M153.9 261.1a2.1 2.1 0 1 0 4.2 0a2.1 2.1 0 1 0 -4.2 0M119.1 178.4a1.4 1.4 0 1 0 2.8 0a1.4 1.4 0 1 0 -2.8 0M180.5 239.0a2.4 2.4 0 1 0 4.9 0a2.4 2.4 0 1 0 -4.9 0M81.8 198.7a1.5 1.5 0 1 0 3.1 0a1.5 1.5 0 1 0 -3.1 0M88.6 207.4a3.0 3.0 0 1 0 6.1 0a3.0 3.0 0 1 0 -6.1 0" fill="none" stroke="rgb(140,140,140)" stroke-width="0.75"/>
<path d="M45.1 221.7a8.3 8.3 0 1 0 16.5 0a8.3 8.3 0 1 0 -16.5 0M224.4 174.8a1.7 1.7 0 1 0 3.3 0a1.7 1.7 0 1 0 -3.3 0M89.9 175.1a1.3 1.3 0 1 0 2.6 0a1.3 1.3 0 1 0 -2.6 0M141.3 156.0a2.1 2.1 0 1 0 4.2 0a2.1 2.1 0 1 0 -4.2 0M204.9 241.3a4.5 4.5 0 1 0 9.0 0a4.5 4.5 0 1 0 -9.0 0M203.9 189.7a4.1 4.1 0 1 0 8.2 0a4.1 4.1 0 1 0 -8.2 0M167.7 258.5a3.0 3.0 0 1 0 6.1 0a3.0 3.0 0 1 0 -6.1 0M63.3 191.2a4.7 4.7 0 1 0 9.5 0a4.7 4.7 0 1 0 -9.5 0M138.1 193.9a4.7 4.7 0 1 0 9.3 0a4.7 4.7 0 1 0 -9.3 0M227.2 207.2a1.6 1.6 0 1 0 3.2 0a1.6 1.6 0 1 0 -3.2 0M78.8 168.1a3.2 3.2 0 1 0 6.3 0a3.2 3.2 0 1 0 -6.3 0M217.3 174.1a1.9 1.9 0 1 0 3.9 0a1.9 1.9 0 1 0 -3.9 0M124.8 159.8a2.3 2.3 0 1 0 4.6 0a2.3 2.3 0 1 0 -4.6 0M83.1 195.4a2.8 2.8 0 1 0 5.6 0a2.8 2.8 0 1 0 -5.6 0M220.2 169.0a1.3 1.3 0 1 0 2.6 0a1.3 1.3 0 1 0 -2.6 0M59.4 181.1a2.1 2.1 0 1 0 4.1 0a2.1 2.1 0 1 0 -4.1 0M226.8 223.1a1.3 1.3 0 1 0 2.7 0a1.3 1.3 0 1 0 -2.7 0M166.5 170.3a3.0 3.0 0 1 0 6.0 0a3.0 3.0 0 1 0 -6.0 0M26.5 185.9a1.3 1.3 0 1 0 2.6 0a1.3 1.3 0 1 0 -2.6 0M111.1 196.0a4.6 4.6 0 1 0 9.3 0a4.6 4.6 0 1 0 -9.3 0M189.4 221.1a2.4 2.4 0 1 0 4.7 0a2.4 2.4 0 1 0 -4.7 0M52.8 183.9a4.2 4.2 0 1 0 8.4 0a4.2 4.2 0 1 0 -8.4 0M89.9 229.3a2.3 2.3 0 1 0 4.6 0a2.3 2.3 0 1 0 -4.6 0M72.5 193.2a2.1 2.1 0 1 0 4.1 0a2.1 2.1 0 1 0 -4.1 0M98.1 217.4a1.9 1.9 0 1 0 3.9 0a1.9 1.9 0 1 0 -3.9 0M195.8 242.5a1.3 1.3 0 1 0 2.6 0a1.3 1.3 0 1 0 -2.6 0M141.0 200.8a1.7 1.7 0 1 0 3.3 0a1.7 1.7 0 1 0 -3.3 0M43.9 180.5a5.1 5.1 0 1 0 10.1 0a5.1 5.1 0 1 0 -10.1 0M69.5 245.4a1.7 1.7 0 1 0 3.4 0a1.7 1.7 0 1 0 -3.4 0M23.5 230.8a4.6 4.6 0 1 0 9.2 0a4.6 4.6 0 1 0 -9.2 0M34.5 226.9a3.0 3.0 0 1 0 6.0 0a3.0 3.0 0 1 0 -6.0 0M84.3 266.0a1.3 1.3 0 1 0 2.6 0a1.3 1.3 0 1 0 -2.6 0M205.9 156.9a6.3 6.3 0 1 0 12.5 0a6.3 6.3 0 1 0 -12.5 0M192.8 181.1a2.5 2.5 0 1 0 4.9 0a2.5 2.5 0 1 0 -4.9 0M107.4 249.4a1.4 1.4 0 1 0 2.7 0a1.4 1.4 0 1 0 -2.7 0M92.3 213.9a2.4 2.4 0 1 0 4.7 0a2.4 2.4 0 1 0 -4.7 0M185.8 251.8a4.3 4.3 0 1 0 8.7 0a4.3 4.3 0 1 0 -8.7 0M32.0 194.1a3.3 3.3 0 1 0 6.6 0a3.3 3.3 0 1 0 -6.6 0M64.1 215.3a1.5 1.5 0 1 0 2.9 0a1.5 1.5 0 1 0 -2.9 0M102.1 216.8a2.6 2.6 0 1 0 5.1 0a2.6 2.6 0 1 0 -5.1 0M89.9 202.6a1.3 1.3 0 1 0 2.6 0a1.3 1.3 0 1 0 -2.6 0M92.9 270.4a1.4 1.4 0 1 0 2.7 0a1.4 1.4 0 1 0 -2.7 0M184.4 249.3a1.3 1.3 0 1 0 2.6 0a1.3 1.3 0 1 0 -2.6 0M115.6 206.5a2.0 2.0 0 1 0 4.1 0a2.0 2.0 0 1 0 -4.1 0M201.4 225.8a1.5 1.5 0 1 0 2.9 0a1.5 1.5 0 1 0 -2.9 0M25.6 168.5a3.3 3.3 0 1 0 6.6 0a3.3 3.3 0 1 0 -6.6 0M124.2 233.7a1.5 1.5 0 1 0 2.9 0a1.5 1.5 0 1 0 -2.9 0M162.3 172.2a1.4 1.4 0 1 0 2.9 0a1.4 1.4 0 1 0 -2.9 0M171.4 168.6a3.4 3.4 0 1 0 6.8 0a3.4 3.4 0 1 0 -6.8 0M100.1 183.6a1.6 1.6 0 1 0 3.1 0a1.6 1.6 0 1 0 -3.1 0M27.3 220.3a3.6 3.6 0 1 0 7.1 0a3.6 3.6 0 1 0 -7.1 0M143.6 203.7a1.7 1.7 0 1 0 3.4 0a1.7 1.7 0 1 0 -3.4 0M225.8 168.7a2.8 2.8 0 1 0 5.6 0a2.8 2.8 0 1 0 -5.6 0M135.3 231.0a2.3 2.3 0 1 0 4.5 0a2.3 2.3 0 1 0 -4.5 0M160.2 213.6a1.8 1.8 0 1 0 3.5 0a1.8 1.8 0 1 0 -3.5 0M59.3 195.5a1.5 1.5 0 1 0 2.9 0a1.5 1.5 0 1 0 -2.9 0M92.7 173.4a4.2 4.2 0 1 0 8.4 0a4.2 4.2 0 1 0 -8.4 0M106.6 187.9a2.5 2.5 0 1 0 5.0 0a2.5 2.5 0 1 0 -5.0 0M19.8 219.0a1.3 1.3 0 1 0 2.6 0a1.3 1.3 0 1 0 -2.6 0M151.5 201.9a2.1 2.1 0 1 0 4.3 0a2.1 2.1 0 1 0 -4.3 0M214.5 244.8a1.3 1.3 0 1 0 2.6 0a1.3 1.3 0 1 0 -2.6 0M149.1 176.7a3.7 3.7 0 1 0 7.4 0a3.7 3.7 0 1 0 -7.4 0M58.2 231.8a2.1 2.1 0 1 0 4.2 0a2.1 2.1 0 1 0 -4.2 0M207.8 248.4a1.4 1.4 0 1 0 2.8 0a1.4 1.4 0 1 0 -2.8 0M84.7 205.3a1.5 1.5 0 1 0 2.9 0a1.5 1.5 0 1 0 -2.9 0M22.2 248.2a1.8 1.8 0 1 0 3.6 0a1.8 1.8 0 1 0 -3.6 0M77.2 206.6a2.2 2.2 0 1 0 4.3 0a2.2 2.2 0 1 0 -4.3 0M98.5 206.5a1.8 1.8 0 1 0 3.6 0a1.8 1.8 0 1 0 -3.6 0M124.1 265.5a2.6 2.6 0 1 0 5.2 0a2.6 2.6 0 1 0 -5.2 0M134.3 201.2a3.1 3.1 0 1 0 6.3 0a3.1 3.1 0 1 0 -6.3 0M180.7 257.2a2.4 2.4 0 1 0 4.9 0a2.4 2.4 0 1 0 -4.9 0M139.8 213.4a1.6 1.6 0 1 0 3.2 0a1.6 1.6 0 1 0 -3.2 0M200.7 170.9a2.6 2.6 0 1 0 5.2 0a2.6 2.6 0 1 0 -5.2 0M169.2 213.5a1.4 1.4 0 1 0 2.9 0a1.4 1.4 0 1 0 -2.9 0M84.0 244.4a2.4 2.4 0 1 0 4.8 0a2.4 2.4 0 1 0 -4.8 0M55.4 196.2a2.0 2.0 0 1 0 4.1 0a2.0 2.0 0 1 0 -4.1 0M124.7 204.7a2.1 2.1 0 1 0 4.1 0a2.1 2.1 0 1 0 -4.1 0M90.9 237.1a2.0 2.0 0 1 0 4.0 0a2.0 2.0 0 1 0 -4.0 0M27.3 191.9a2.2 2.2 0 1 0 4.5 0a2.2 2.2 0 1 0 -4.5 0M133.8 210.9a2.7 2.7 0 1 0 5.4 0a2.7 2.7 0 1 0 -5.4 0M76.2 182.9a1.3 1.3 0 1 0 2.6 0a1.3 1.3 0 1 0 -2.6 0M120.0 207.3a1.3 1.3 0 1 0 2.6 0a1.3 1.3 0 1 0 -2.6 0M184.6 180.2a2.8 2.8 0 1 0 5.6 0a2.8 2.8 0 1 0 -5.6 0M160.3 262.7a2.0 2.0 0 1 0 4.0 0a2.0 2.0 0 1 0 -4.0 0M150.9 190.6a1.3 1.3 0 1 0 2.6 0a1.3 1.3 0 1 0 -2.6 0M68.7 196.8a2.9 2.9 0 1 0 5.7 0a2.9 2.9 0 1 0 -5.7 0M221.8 157.5a1.6 1.6 0 1 0 3.2 0a1.6 1.6 0 1 0 -3.2 0M108.6 199.2a1.4 1.4 0 1 0 2.9 0a1.4 1.4 0 1 0 -2.9 0M59.8 158.0a3.6 3.6 0 1 0 7.2 0a3.6 3.6 0 1 0 -7.2 0M19.1 165.4a2.0 2.0 0 1 0 4.0 0a2.0 2.0 0 1 0 -4.0 0M22.8 187.8a1.9 1.9 0 1 0 3.8 0a1.9 1.9 0 1 0 -3.8 0M86.1 240.5a3.4 3.4 0 1 0 6.8 0a3.4 3.4 0 1 0 -6.8 0M203.5 220.8a2.4 2.4 0 1 0 4.8 0a2.4 2.4 0 1 0 -4.8 0M19.2 236.6a3.4 3.4 0 1 0 6.8 0a3.4 3.4 0 1 0 -6.8 0M41.0 158.9a2.5 2.5 0 1 0 5.1 0a2.5 2.5 0 1 0 -5.1 0M28.3 240.9a2.2 2.2 0 1 0 4.5 0a2.2 2.2 0 1 0 -4.5 0M43.8 186.9a1.6 1.6 0 1 0 3.2 0a1.6 1.6 0 1 0 -3.2 0M207.9 213.8a3.5 3.5 0 1 0 7.0 0a3.5 3.5 0 1 0 -7.0 0M44.1 206.9a2.7 2.7 0 1 0 5.4 0a2.7 2.7 0 1 0 -5.4 0M204.6 165.9a1.3 1.3 0 1 0 2.6 0a1.3 1.3 0 1 0 -2.6 0M110.0 238.5a2.7 2.7 0 1 0 5.4 0a2.7 2.7 0 1 0 -5.4 0M110.3 231.6a2.5 2.5 0 1 0 4.9 0a2.5 2.5 0 1 0 -4.9 0M127.5 201.3a3.7 3.7 0 1 0 7.4 0a3.7 3.7 0 1 0 -7.4 0M171.4 223.0a3.0 3.0 0 1 0 6.1 0a3.0 3.0 0 1 0 -6.1 0M36.9 269.5a3.3 3.3 0 1 0 6.6 0a3.3 3.3 0 1 0 -6.6 0M110.3 214.9a1.8 1.8 0 1 0 3.5 0a1.8 1.8 0 1 0 -3.5 0" fill="none" stroke="rgb(85,85,85)" stroke-width="0.55"/>
<path d="M156.1 248.5a5.4 5.4 0 1 0 10.7 0a5.4 5.4 0 1 0 -10.7 0M113.2 169.3a2.6 2.6 0 1 0 5.2 0a2.6 2.6 0 1 0 -5.2 0M85.0 200.2a3.1 3.1 0 1 0 6.2 0a3.1 3.1 0 1 0 -6.2 0M154.5 225.5a2.5 2.5 0 1 0 5.1 0a2.5 2.5 0 1 0 -5.1 0M143.5 165.1a1.9 1.9 0 1 0 3.8 0a1.9 1.9 0 1 0 -3.8 0M121.2 230.0a1.3 1.3 0 1 0 2.6 0a1.3 1.3 0 1 0 -2.6 0M208.4 168.8a3.6 3.6 0 1 0 7.3 0a3.6 3.6 0 1 0 -7.3 0M90.6 195.9a3.8 3.8 0 1 0 7.6 0a3.8 3.8 0 1 0 -7.6 0M43.0 169.8a2.9 2.9 0 1 0 5.9 0a2.9 2.9 0 1 0 -5.9 0M128.1 260.9a3.3 3.3 0 1 0 6.6 0a3.3 3.3 0 1 0 -6.6 0M94.1 218.8a2.1 2.1 0 1 0 4.1 0a2.1 2.1 0 1 0 -4.1 0M103.5 185.2a2.3 2.3 0 1 0 4.6 0a2.3 2.3 0 1 0 -4.6 0M191.7 164.8a1.5 1.5 0 1 0 3.0 0a1.5 1.5 0 1 0 -3.0 0M177.7 172.1a1.6 1.6 0 1 0 3.2 0a1.6 1.6 0 1 0 -3.2 0M179.1 230.2a1.6 1.6 0 1 0 3.3 0a1.6 1.6 0 1 0 -3.3 0M86.9 250.1a1.6 1.6 0 1 0 3.2 0a1.6 1.6 0 1 0 -3.2 0M61.6 173.3a2.4 2.4 0 1 0 4.8 0a2.4 2.4 0 1 0 -4.8 0M204.5 234.9a3.0 3.0 0 1 0 6.0 0a3.0 3.0 0 1 0 -6.0 0M166.5 264.6a3.1 3.1 0 1 0 6.3 0a3.1 3.1 0 1 0 -6.3 0M123.1 228.5a3.9 3.9 0 1 0 7.8 0a3.9 3.9 0 1 0 -7.8 0M185.6 229.8a1.3 1.3 0 1 0 2.6 0a1.3 1.3 0 1 0 -2.6 0M144.2 258.5a2.8 2.8 0 1 0 5.6 0a2.8 2.8 0 1 0 -5.6 0M123.1 240.8a1.5 1.5 0 1 0 3.0 0a1.5 1.5 0 1 0 -3.0 0M133.8 245.0a3.3 3.3 0 1 0 6.7 0a3.3 3.3 0 1 0 -6.7 0M57.6 166.3a3.6 3.6 0 1 0 7.1 0a3.6 3.6 0 1 0 -7.1 0M191.0 235.9a1.8 1.8 0 1 0 3.6 0a1.8 1.8 0 1 0 -3.6 0M160.5 165.9a1.6 1.6 0 1 0 3.2 0a1.6 1.6 0 1 0 -3.2 0M213.0 252.7a1.7 1.7 0 1 0 3.4 0a1.7 1.7 0 1 0 -3.4 0M52.4 243.0a1.9 1.9 0 1 0 3.8 0a1.9 1.9 0 1 0 -3.8 0M94.8 203.0a2.5 2.5 0 1 0 4.9 0a2.5 2.5 0 1 0 -4.9 0M147.6 243.7a3.4 3.4 0 1 0 6.8 0a3.4 3.4 0 1 0 -6.8 0M86.0 229.9a1.3 1.3 0 1 0 2.6 0a1.3 1.3 0 1 0 -2.6 0M29.8 209.8a2.6 2.6 0 1 0 5.3 0a2.6 2.6 0 1 0 -5.3 0M37.4 199.0a1.3 1.3 0 1 0 2.6 0a1.3 1.3 0 1 0 -2.6 0" fill="none" stroke="rgb(205,205,205)" stroke-width="0.55"/>
<path d="M161.4 198.6a2.3 2.3 0 1 0 4.6 0a2.3 2.3 0 1 0 -4.6 0M101.2 201.6a3.8 3.8 0 1 0 7.7 0a3.8 3.8 0 1 0 -7.7 0M28.8 184.3a2.3 2.3 0 1 0 4.7 0a2.3 2.3 0 1 0 -4.7 0M76.3 186.8a4.1 4.1 0 1 0 8.2 0a4.1 4.1 0 1 0 -8.2 0M225.0 259.5a3.9 3.9 0 1 0 7.8 0a3.9 3.9 0 1 0 -7.8 0M161.3 160.5a1.8 1.8 0 1 0 3.7 0a1.8 1.8 0 1 0 -3.7 0M219.1 228.7a1.3 1.3 0 1 0 2.7 0a1.3 1.3 0 1 0 -2.7 0M180.1 179.0a1.9 1.9 0 1 0 3.9 0a1.9 1.9 0 1 0 -3.9 0M182.3 262.8a3.7 3.7 0 1 0 7.3 0a3.7 3.7 0 1 0 -7.3 0M85.4 168.4a5.1 5.1 0 1 0 10.2 0a5.1 5.1 0 1 0 -10.2 0M140.5 223.5a3.3 3.3 0 1 0 6.7 0a3.3 3.3 0 1 0 -6.7 0M216.9 210.6a3.7 3.7 0 1 0 7.4 0a3.7 3.7 0 1 0 -7.4 0M58.3 235.0a1.3 1.3 0 1 0 2.6 0a1.3 1.3 0 1 0 -2.6 0M194.8 171.9a2.9 2.9 0 1 0 5.8 0a2.9 2.9 0 1 0 -5.8 0M29.2 264.4a2.0 2.0 0 1 0 4.0 0a2.0 2.0 0 1 0 -4.0 0M156.6 237.9a4.6 4.6 0 1 0 9.1 0a4.6 4.6 0 1 0 -9.1 0M139.2 207.3a1.9 1.9 0 1 0 3.7 0a1.9 1.9 0 1 0 -3.7 0M23.2 269.9a2.7 2.7 0 1 0 5.3 0a2.7 2.7 0 1 0 -5.3 0M192.5 195.7a2.1 2.1 0 1 0 4.2 0a2.1 2.1 0 1 0 -4.2 0M167.4 163.5a1.9 1.9 0 1 0 3.8 0a1.9 1.9 0 1 0 -3.8 0M65.4 206.0a4.2 4.2 0 1 0 8.4 0a4.2 4.2 0 1 0 -8.4 0M221.6 174.3a1.3 1.3 0 1 0 2.6 0a1.3 1.3 0 1 0 -2.6 0M39.2 252.8a4.7 4.7 0 1 0 9.5 0a4.7 4.7 0 1 0 -9.5 0M176.8 243.4a1.3 1.3 0 1 0 2.6 0a1.3 1.3 0 1 0 -2.6 0M80.7 246.5a1.4 1.4 0 1 0 2.8 0a1.4 1.4 0 1 0 -2.8 0M40.8 224.0a2.0 2.0 0 1 0 3.9 0a2.0 2.0 0 1 0 -3.9 0M94.0 162.6a2.2 2.2 0 1 0 4.3 0a2.2 2.2 0 1 0 -4.3 0M196.4 183.4a2.4 2.4 0 1 0 4.7 0a2.4 2.4 0 1 0 -4.7 0M153.3 163.0a1.7 1.7 0 1 0 3.4 0a1.7 1.7 0 1 0 -3.4 0M36.0 250.1a2.3 2.3 0 1 0 4.6 0a2.3 2.3 0 1 0 -4.6 0M147.3 191.8a1.3 1.3 0 1 0 2.7 0a1.3 1.3 0 1 0 -2.7 0M92.8 201.0a1.3 1.3 0 1 0 2.6 0a1.3 1.3 0 1 0 -2.6 0M229.8 239.6a2.3 2.3 0 1 0 4.7 0a2.3 2.3 0 1 0 -4.7 0M62.0 237.2a1.7 1.7 0 1 0 3.4 0a1.7 1.7 0 1 0 -3.4 0M175.0 218.6a2.2 2.2 0 1 0 4.3 0a2.2 2.2 0 1 0 -4.3 0M104.2 163.9a1.7 1.7 0 1 0 3.4 0a1.7 1.7 0 1 0 -3.4 0M153.9 156.7a2.2 2.2 0 1 0 4.4 0a2.2 2.2 0 1 0 -4.4 0M77.6 231.2a3.7 3.7 0 1 0 7.4 0a3.7 3.7 0 1 0 -7.4 0M209.8 251.2a1.8 1.8 0 1 0 3.7 0a1.8 1.8 0 1 0 -3.7 0M79.7 259.2a2.2 2.2 0 1 0 4.3 0a2.2 2.2 0 1 0 -4.3 0" fill="none" stroke="rgb(205,205,205)" stroke-width="0.75"/>
<path d="M78.8 238.4a3.9 3.9 0 1 0 7.8 0a3.9 3.9 0 1 0 -7.8 0M99.7 222.6a4.1 4.1 0 1 0 8.3 0a4.1 4.1 0 1 0 -8.3 0M188.6 210.5a1.8 1.8 0 1 0 3.6 0a1.8 1.8 0 1 0 -3.6 0M97.1 194.4a3.1 3.1 0 1 0 6.3 0a3.1 3.1 0 1 0 -6.3 0M178.6 163.9a3.6 3.6 0 1 0 7.1 0a3.6 3.6 0 1 0 -7.1 0M69.3 158.2a3.9 3.9 0 1 0 7.9 0a3.9 3.9 0 1 0 -7.9 0M78.7 222.9a7.0 7.0 0 1 0 14.0 0a7.0 7.0 0 1 0 -14.0 0M148.9 227.9a2.8 2.8 0 1 0 5.6 0a2.8 2.8 0 1 0 -5.6 0M208.3 208.7a1.5 1.5 0 1 0 2.9 0a1.5 1.5 0 1 0 -2.9 0M29.8 255.0a3.1 3.1 0 1 0 6.2 0a3.1 3.1 0 1 0 -6.2 0M212.5 232.6a3.8 3.8 0 1 0 7.5 0a3.8 3.8 0 1 0 -7.5 0M150.2 187.1a1.9 1.9 0 1 0 3.8 0a1.9 1.9 0 1 0 -3.8 0M19.6 253.6a3.0 3.0 0 1 0 6.0 0a3.0 3.0 0 1 0 -6.0 0M39.2 200.4a1.8 1.8 0 1 0 3.6 0a1.8 1.8 0 1 0 -3.6 0M141.6 161.7a1.9 1.9 0 1 0 3.8 0a1.9 1.9 0 1 0 -3.8 0M107.2 191.5a1.5 1.5 0 1 0 3.0 0a1.5 1.5 0 1 0 -3.0 0M106.5 157.1a4.1 4.1 0 1 0 8.2 0a4.1 4.1 0 1 0 -8.2 0M70.5 264.0a3.1 3.1 0 1 0 6.2 0a3.1 3.1 0 1 0 -6.2 0M133.9 158.5a3.7 3.7 0 1 0 7.5 0a3.7 3.7 0 1 0 -7.5 0M156.2 163.6a2.6 2.6 0 1 0 5.1 0a2.6 2.6 0 1 0 -5.1 0M175.9 252.7a1.9 1.9 0 1 0 3.8 0a1.9 1.9 0 1 0 -3.8 0M99.2 266.0a2.8 2.8 0 1 0 5.6 0a2.8 2.8 0 1 0 -5.6 0M168.4 253.8a2.1 2.1 0 1 0 4.1 0a2.1 2.1 0 1 0 -4.1 0M156.9 174.8a2.6 2.6 0 1 0 5.1 0a2.6 2.6 0 1 0 -5.1 0M43.6 228.9a1.9 1.9 0 1 0 3.9 0a1.9 1.9 0 1 0 -3.9 0M85.8 188.0a2.4 2.4 0 1 0 4.8 0a2.4 2.4 0 1 0 -4.8 0M203.2 195.0a1.3 1.3 0 1 0 2.6 0a1.3 1.3 0 1 0 -2.6 0M158.6 223.4a2.5 2.5 0 1 0 5.0 0a2.5 2.5 0 1 0 -5.0 0M225.1 250.1a3.5 3.5 0 1 0 6.9 0a3.5 3.5 0 1 0 -6.9 0M80.4 262.9a1.9 1.9 0 1 0 3.8 0a1.9 1.9 0 1 0 -3.8 0M141.6 251.0a6.0 6.0 0 1 0 12.0 0a6.0 6.0 0 1 0 -12.0 0M71.9 166.6a3.4 3.4 0 1 0 6.7 0a3.4 3.4 0 1 0 -6.7 0M104.1 231.6a2.9 2.9 0 1 0 5.9 0a2.9 2.9 0 1 0 -5.9 0M133.8 237.5a2.2 2.2 0 1 0 4.4 0a2.2 2.2 0 1 0 -4.4 0M47.6 172.8a1.5 1.5 0 1 0 3.0 0a1.5 1.5 0 1 0 -3.0 0M118.9 171.5a1.9 1.9 0 1 0 3.8 0a1.9 1.9 0 1 0 -3.8 0M30.3 268.8a3.4 3.4 0 1 0 6.7 0a3.4 3.4 0 1 0 -6.7 0M118.2 214.0a2.0 2.0 0 1 0 4.1 0a2.0 2.0 0 1 0 -4.1 0M83.4 156.8a1.3 1.3 0 1 0 2.6 0a1.3 1.3 0 1 0 -2.6 0M114.1 204.6a1.3 1.3 0 1 0 2.6 0a1.3 1.3 0 1 0 -2.6 0M143.3 169.7a2.7 2.7 0 1 0 5.5 0a2.7 2.7 0 1 0 -5.5 0M152.7 181.3a1.3 1.3 0 1 0 2.6 0a1.3 1.3 0 1 0 -2.6 0M48.2 248.7a2.2 2.2 0 1 0 4.5 0a2.2 2.2 0 1 0 -4.5 0M80.1 180.1a3.0 3.0 0 1 0 6.0 0a3.0 3.0 0 1 0 -6.0 0M43.2 214.9a1.6 1.6 0 1 0 3.1 0a1.6 1.6 0 1 0 -3.1 0M204.1 211.3a2.5 2.5 0 1 0 5.0 0a2.5 2.5 0 1 0 -5.0 0M89.1 178.3a1.3 1.3 0 1 0 2.6 0a1.3 1.3 0 1 0 -2.6 0M118.6 264.9a2.7 2.7 0 1 0 5.4 0a2.7 2.7 0 1 0 -5.4 0M114.1 265.8a2.2 2.2 0 1 0 4.4 0a2.2 2.2 0 1 0 -4.4 0M111.7 221.1a1.3 1.3 0 1 0 2.6 0a1.3 1.3 0 1 0 -2.6 0M142.2 229.6a1.5 1.5 0 1 0 3.0 0a1.5 1.5 0 1 0 -3.0 0M147.2 262.1a2.1 2.1 0 1 0 4.3 0a2.1 2.1 0 1 0 -4.3 0M25.3 254.5a2.6 2.6 0 1 0 5.1 0a2.6 2.6 0 1 0 -5.1 0M55.2 201.5a3.2 3.2 0 1 0 6.3 0a3.2 3.2 0 1 0 -6.3 0M87.5 193.0a1.3 1.3 0 1 0 2.6 0a1.3 1.3 0 1 0 -2.6 0M49.0 207.3a2.5 2.5 0 1 0 5.0 0a2.5 2.5 0 1 0 -5.0 0M164.4 225.6a1.4 1.4 0 1 0 2.9 0a1.4 1.4 0 1 0 -2.9 0M175.9 269.6a2.4 2.4 0 1 0 4.9 0a2.4 2.4 0 1 0 -4.9 0M203.1 159.4a1.5 1.5 0 1 0 3.0 0a1.5 1.5 0 1 0 -3.0 0M36.7 258.7a1.4 1.4 0 1 0 2.8 0a1.4 1.4 0 1 0 -2.8 0M121.3 224.1a2.3 2.3 0 1 0 4.6 0a2.3 2.3 0 1 0 -4.6 0M80.4 213.4a2.2 2.2 0 1 0 4.3 0a2.2 2.2 0 1 0 -4.3 0M107.7 215.3a1.3 1.3 0 1 0 2.6 0a1.3 1.3 0 1 0 -2.6 0" fill="none" stroke="rgb(85,85,85)" stroke-width="0.75"/>
<path d="M53.0 263.2a1.7 1.7 0 1 0 3.4 0a1.7 1.7 0 1 0 -3.4 0M86.1 255.3a1.3 1.3 0 1 0 2.6 0a1.3 1.3 0 1 0 -2.6 0M227.4 174.6a1.4 1.4 0 1 0 2.8 0a1.4 1.4 0 1 0 -2.8 0M182.2 220.9a2.4 2.4 0 1 0 4.9 0a2.4 2.4 0 1 0 -4.9 0M130.9 167.0a3.5 3.5 0 1 0 6.9 0a3.5 3.5 0 1 0 -6.9 0M170.4 226.8a1.3 1.3 0 1 0 2.6 0a1.3 1.3 0 1 0 -2.6 0M115.6 156.6a3.6 3.6 0 1 0 7.3 0a3.6 3.6 0 1 0 -7.3 0M139.6 232.6a1.7 1.7 0 1 0 3.4 0a1.7 1.7 0 1 0 -3.4 0M226.1 160.8a2.5 2.5 0 1 0 4.9 0a2.5 2.5 0 1 0 -4.9 0M92.0 221.4a1.8 1.8 0 1 0 3.6 0a1.8 1.8 0 1 0 -3.6 0M113.2 247.9a4.8 4.8 0 1 0 9.6 0a4.8 4.8 0 1 0 -9.6 0M179.6 198.6a4.3 4.3 0 1 0 8.6 0a4.3 4.3 0 1 0 -8.6 0M60.1 243.3a4.9 4.9 0 1 0 9.7 0a4.9 4.9 0 1 0 -9.7 0M70.6 212.5a3.7 3.7 0 1 0 7.4 0a3.7 3.7 0 1 0 -7.4 0M227.2 191.1a3.2 3.2 0 1 0 6.3 0a3.2 3.2 0 1 0 -6.3 0M151.6 208.7a1.3 1.3 0 1 0 2.6 0a1.3 1.3 0 1 0 -2.6 0M69.9 163.6a1.3 1.3 0 1 0 2.6 0a1.3 1.3 0 1 0 -2.6 0M80.8 195.2a1.3 1.3 0 1 0 2.6 0a1.3 1.3 0 1 0 -2.6 0M221.0 231.5a4.4 4.4 0 1 0 8.7 0a4.4 4.4 0 1 0 -8.7 0M55.5 237.7a1.5 1.5 0 1 0 2.9 0a1.5 1.5 0 1 0 -2.9 0M223.9 263.3a1.6 1.6 0 1 0 3.3 0a1.6 1.6 0 1 0 -3.3 0M228.7 234.5a3.2 3.2 0 1 0 6.4 0a3.2 3.2 0 1 0 -6.4 0M39.2 177.1a2.9 2.9 0 1 0 5.9 0a2.9 2.9 0 1 0 -5.9 0M137.2 171.8a1.5 1.5 0 1 0 3.0 0a1.5 1.5 0 1 0 -3.0 0M230.7 176.1a2.0 2.0 0 1 0 3.9 0a2.0 2.0 0 1 0 -3.9 0M78.6 159.0a2.2 2.2 0 1 0 4.5 0a2.2 2.2 0 1 0 -4.5 0M45.4 240.5a1.3 1.3 0 1 0 2.6 0a1.3 1.3 0 1 0 -2.6 0M32.5 259.5a2.1 2.1 0 1 0 4.2 0a2.1 2.1 0 1 0 -4.2 0M166.4 247.2a1.4 1.4 0 1 0 2.8 0a1.4 1.4 0 1 0 -2.8 0M124.8 244.2a1.3 1.3 0 1 0 2.6 0a1.3 1.3 0 1 0 -2.6 0M89.0 185.3a1.6 1.6 0 1 0 3.2 0a1.6 1.6 0 1 0 -3.2 0M199.7 198.5a2.4 2.4 0 1 0 4.9 0a2.4 2.4 0 1 0 -4.9 0M25.7 263.1a1.8 1.8 0 1 0 3.5 0a1.8 1.8 0 1 0 -3.5 0M206.6 173.4a2.0 2.0 0 1 0 4.0 0a2.0 2.0 0 1 0 -4.0 0M95.1 159.1a1.7 1.7 0 1 0 3.4 0a1.7 1.7 0 1 0 -3.4 0M26.0 182.4a1.5 1.5 0 1 0 3.0 0a1.5 1.5 0 1 0 -3.0 0M147.4 224.3a1.8 1.8 0 1 0 3.7 0a1.8 1.8 0 1 0 -3.7 0M94.0 207.0a2.0 2.0 0 1 0 4.0 0a2.0 2.0 0 1 0 -4.0 0M65.7 248.8a1.8 1.8 0 1 0 3.5 0a1.8 1.8 0 1 0 -3.5 0M220.4 254.0a1.8 1.8 0 1 0 3.6 0a1.8 1.8 0 1 0 -3.6 0" fill="none" stroke="rgb(170,170,170)" stroke-width="0.75"/>
<path d="M56.4 176.5a2.4 2.4 0 1 0 4.7 0a2.4 2.4 0 1 0 -4.7 0M209.8 201.0a7.6 7.6 0 1 0 15.1 0a7.6 7.6 0 1 0 -15.1 0M171.8 265.6a3.4 3.4 0 1 0 6.7 0a3.4 3.4 0 1 0 -6.7 0M130.6 223.8a2.7 2.7 0 1 0 5.3 0a2.7 2.7 0 1 0 -5.3 0M114.5 210.8a1.4 1.4 0 1 0 2.7 0a1.4 1.4 0 1 0 -2.7 0M57.6 240.9a1.5 1.5 0 1 0 3.0 0a1.5 1.5 0 1 0 -3.0 0M127.1 184.2a4.2 4.2 0 1 0 8.4 0a4.2 4.2 0 1 0 -8.4 0M219.6 269.9a1.9 1.9 0 1 0 3.9 0a1.9 1.9 0 1 0 -3.9 0M107.9 266.6a2.6 2.6 0 1 0 5.3 0a2.6 2.6 0 1 0 -5.3 0M203.6 176.2a2.2 2.2 0 1 0 4.5 0a2.2 2.2 0 1 0 -4.5 0M191.1 178.5a1.7 1.7 0 1 0 3.4 0a1.7 1.7 0 1 0 -3.4 0M93.3 242.1a3.9 3.9 0 1 0 7.8 0a3.9 3.9 0 1 0 -7.8 0M152.6 219.2a2.1 2.1 0 1 0 4.3 0a2.1 2.1 0 1 0 -4.3 0M123.7 238.3a1.3 1.3 0 1 0 2.6 0a1.3 1.3 0 1 0 -2.6 0M210.3 176.4a2.9 2.9 0 1 0 5.8 0a2.9 2.9 0 1 0 -5.8 0M77.1 260.4a1.3 1.3 0 1 0 2.6 0a1.3 1.3 0 1 0 -2.6 0M124.8 172.0a3.4 3.4 0 1 0 6.8 0a3.4 3.4 0 1 0 -6.8 0M142.4 237.8a1.3 1.3 0 1 0 2.6 0a1.3 1.3 0 1 0 -2.6 0M214.2 165.5a1.9 1.9 0 1 0 3.7 0a1.9 1.9 0 1 0 -3.7 0M145.2 266.1a2.7 2.7 0 1 0 5.4 0a2.7 2.7 0 1 0 -5.4 0M164.8 240.1a2.6 2.6 0 1 0 5.3 0a2.6 2.6 0 1 0 -5.3 0M136.5 255.7a1.5 1.5 0 1 0 3.1 0a1.5 1.5 0 1 0 -3.1 0M127.8 242.1a1.7 1.7 0 1 0 3.5 0a1.7 1.7 0 1 0 -3.5 0M153.8 186.2a2.9 2.9 0 1 0 5.8 0a2.9 2.9 0 1 0 -5.8 0M32.7 187.9a1.6 1.6 0 1 0 3.2 0a1.6 1.6 0 1 0 -3.2 0M195.6 247.1a1.9 1.9 0 1 0 3.7 0a1.9 1.9 0 1 0 -3.7 0M191.1 229.2a1.6 1.6 0 1 0 3.1 0a1.6 1.6 0 1 0 -3.1 0M90.7 250.7a1.7 1.7 0 1 0 3.5 0a1.7 1.7 0 1 0 -3.5 0M131.1 176.8a1.3 1.3 0 1 0 2.6 0a1.3 1.3 0 1 0 -2.6 0M164.3 157.0a2.8 2.8 0 1 0 5.6 0a2.8 2.8 0 1 0 -5.6 0M119.2 232.7a1.3 1.3 0 1 0 2.6 0a1.3 1.3 0 1 0 -2.6 0" fill="none" stroke="rgb(110,110,110)" stroke-width="0.75"/>
</g>
<g filter="url(#blur03)"><path d="M104.6 241.3a2.4 2.4 0 1 0 4.8 0a2.4 2.4 0 1 0 -4.8 0M101.6 170.4a3.9 3.9 0 1 0 7.7 0a3.9 3.9 0 1 0 -7.7 0M43.1 267.4a3.6 3.6 0 1 0 7.3 0a3.6 3.6 0 1 0 -7.3 0M169.7 246.6a2.7 2.7 0 1 0 5.4 0a2.7 2.7 0 1 0 -5.4 0M37.1 207.5a3.3 3.3 0 1 0 6.7 0a3.3 3.3 0 1 0 -6.7 0M195.6 219.2a2.0 2.0 0 1 0 4.1 0a2.0 2.0 0 1 0 -4.1 0M176.9 248.2a1.5 1.5 0 1 0 3.0 0a1.5 1.5 0 1 0 -3.0 0M125.1 248.6a4.2 4.2 0 1 0 8.4 0a4.2 4.2 0 1 0 -8.4 0M179.1 188.8a1.2 1.2 0 1 0 2.5 0a1.2 1.2 0 1 0 -2.5 0M211.5 224.7a2.4 2.4 0 1 0 4.7 0a2.4 2.4 0 1 0 -4.7 0M141.4 178.4a2.9 2.9 0 1 0 5.8 0a2.9 2.9 0 1 0 -5.8 0M117.8 269.2a1.1 1.1 0 1 0 2.2 0a1.1 1.1 0 1 0 -2.2 0M28.2 259.9a2.2 2.2 0 1 0 4.5 0a2.2 2.2 0 1 0 -4.5 0M59.8 263.3a3.5 3.5 0 1 0 7.1 0a3.5 3.5 0 1 0 -7.1 0M67.6 263.1a1.8 1.8 0 1 0 3.5 0a1.8 1.8 0 1 0 -3.5 0M34.4 217.4a2.5 2.5 0 1 0 5.0 0a2.5 2.5 0 1 0 -5.0 0M75.8 174.8a2.9 2.9 0 1 0 5.8 0a2.9 2.9 0 1 0 -5.8 0M127.9 167.4a1.2 1.2 0 1 0 2.5 0a1.2 1.2 0 1 0 -2.5 0M176.8 192.5a1.5 1.5 0 1 0 3.1 0a1.5 1.5 0 1 0 -3.1 0M182.4 267.2a1.5 1.5 0 1 0 2.9 0a1.5 1.5 0 1 0 -2.9 0M93.1 182.6a2.8 2.8 0 1 0 5.6 0a2.8 2.8 0 1 0 -5.6 0M187.4 231.8a1.6 1.6 0 1 0 3.2 0a1.6 1.6 0 1 0 -3.2 0M40.1 182.7a1.1 1.1 0 1 0 2.2 0a1.1 1.1 0 1 0 -2.2 0M154.9 211.8a2.1 2.1 0 1 0 4.1 0a2.1 2.1 0 1 0 -4.1 0M153.5 194.0a3.3 3.3 0 1 0 6.7 0a3.3 3.3 0 1 0 -6.7 0M145.8 215.0a2.5 2.5 0 1 0 4.9 0a2.5 2.5 0 1 0 -4.9 0M187.6 203.5a4.5 4.5 0 1 0 8.9 0a4.5 4.5 0 1 0 -8.9 0M31.6 238.2a2.3 2.3 0 1 0 4.6 0a2.3 2.3 0 1 0 -4.6 0M120.8 190.2a3.0 3.0 0 1 0 6.0 0a3.0 3.0 0 1 0 -6.0 0M177.6 224.6a2.4 2.4 0 1 0 4.9 0a2.4 2.4 0 1 0 -4.9 0M84.0 233.8a1.9 1.9 0 1 0 3.8 0a1.9 1.9 0 1 0 -3.8 0M214.9 238.4a2.2 2.2 0 1 0 4.4 0a2.2 2.2 0 1 0 -4.4 0M129.4 266.2a1.9 1.9 0 1 0 3.8 0a1.9 1.9 0 1 0 -3.8 0M152.7 264.9a1.7 1.7 0 1 0 3.5 0a1.7 1.7 0 1 0 -3.5 0M180.8 250.4a1.5 1.5 0 1 0 3.0 0a1.5 1.5 0 1 0 -3.0 0" fill="#68d852"/><path d="M21.3 158.9a3.3 3.3 0 1 0 6.6 0a3.3 3.3 0 1 0 -6.6 0M217.7 219.2a3.3 3.3 0 1 0 6.5 0a3.3 3.3 0 1 0 -6.5 0M195.9 208.2a3.1 3.1 0 1 0 6.1 0a3.1 3.1 0 1 0 -6.1 0M204.1 227.3a1.3 1.3 0 1 0 2.6 0a1.3 1.3 0 1 0 -2.6 0M40.0 212.6a1.2 1.2 0 1 0 2.4 0a1.2 1.2 0 1 0 -2.4 0M154.7 245.9a1.1 1.1 0 1 0 2.2 0a1.1 1.1 0 1 0 -2.2 0M26.8 175.6a1.8 1.8 0 1 0 3.6 0a1.8 1.8 0 1 0 -3.6 0M165.7 235.0a1.2 1.2 0 1 0 2.4 0a1.2 1.2 0 1 0 -2.4 0M150.7 267.8a1.7 1.7 0 1 0 3.4 0a1.7 1.7 0 1 0 -3.4 0M55.8 265.4a1.3 1.3 0 1 0 2.5 0a1.3 1.3 0 1 0 -2.5 0M197.2 178.0a1.6 1.6 0 1 0 3.1 0a1.6 1.6 0 1 0 -3.1 0M46.1 244.2a2.2 2.2 0 1 0 4.5 0a2.2 2.2 0 1 0 -4.5 0M121.2 199.2a1.4 1.4 0 1 0 2.8 0a1.4 1.4 0 1 0 -2.8 0M67.2 215.2a2.3 2.3 0 1 0 4.6 0a2.3 2.3 0 1 0 -4.6 0M82.1 255.5a1.5 1.5 0 1 0 3.0 0a1.5 1.5 0 1 0 -3.0 0" fill="#45a83a"/><path d="M54.1 210.9a2.9 2.9 0 1 0 5.8 0a2.9 2.9 0 1 0 -5.8 0M171.1 203.6a4.5 4.5 0 1 0 8.9 0a4.5 4.5 0 1 0 -8.9 0M42.9 195.8a2.0 2.0 0 1 0 4.1 0a2.0 2.0 0 1 0 -4.1 0M103.7 260.0a2.6 2.6 0 1 0 5.1 0a2.6 2.6 0 1 0 -5.1 0M113.0 164.4a1.1 1.1 0 1 0 2.2 0a1.1 1.1 0 1 0 -2.2 0M159.1 170.9a1.7 1.7 0 1 0 3.4 0a1.7 1.7 0 1 0 -3.4 0M146.9 198.1a2.7 2.7 0 1 0 5.5 0a2.7 2.7 0 1 0 -5.5 0M86.4 177.6a1.1 1.1 0 1 0 2.2 0a1.1 1.1 0 1 0 -2.2 0M100.0 235.3a1.5 1.5 0 1 0 3.1 0a1.5 1.5 0 1 0 -3.1 0M111.0 217.7a1.1 1.1 0 1 0 2.2 0a1.1 1.1 0 1 0 -2.2 0M50.0 171.4a1.1 1.1 0 1 0 2.2 0a1.1 1.1 0 1 0 -2.2 0M153.1 222.3a1.1 1.1 0 1 0 2.2 0a1.1 1.1 0 1 0 -2.2 0" fill="#2a6a26"/></g>
<g filter="url(#blur03)">
<path d="M165.9 213.3a1.6 1.6 0 1 0 3.2 0a1.6 1.6 0 1 0 -3.2 0M86.3 213.6a3.4 3.4 0 1 0 6.8 0a3.4 3.4 0 1 0 -6.8 0M120.3 161.0a1.7 1.7 0 1 0 3.4 0a1.7 1.7 0 1 0 -3.4 0M218.4 242.0a5.9 5.9 0 1 0 11.7 0a5.9 5.9 0 1 0 -11.7 0M33.2 179.8a3.7 3.7 0 1 0 7.4 0a3.7 3.7 0 1 0 -7.4 0M202.7 255.9a2.8 2.8 0 1 0 5.7 0a2.8 2.8 0 1 0 -5.7 0M148.0 207.7a1.8 1.8 0 1 0 3.7 0a1.8 1.8 0 1 0 -3.7 0M113.6 216.8a2.7 2.7 0 1 0 5.4 0a2.7 2.7 0 1 0 -5.4 0M193.2 232.7a1.5 1.5 0 1 0 3.1 0a1.5 1.5 0 1 0 -3.1 0M182.2 186.9a3.1 3.1 0 1 0 6.1 0a3.1 3.1 0 1 0 -6.1 0M79.2 267.4a1.3 1.3 0 1 0 2.6 0a1.3 1.3 0 1 0 -2.6 0M186.0 239.8a3.0 3.0 0 1 0 5.9 0a3.0 3.0 0 1 0 -5.9 0M51.6 173.1a2.9 2.9 0 1 0 5.8 0a2.9 2.9 0 1 0 -5.8 0M206.3 183.0a1.6 1.6 0 1 0 3.2 0a1.6 1.6 0 1 0 -3.2 0M149.5 172.1a1.5 1.5 0 1 0 3.0 0a1.5 1.5 0 1 0 -3.0 0M124.5 178.5a1.4 1.4 0 1 0 2.9 0a1.4 1.4 0 1 0 -2.9 0M29.3 235.8a1.3 1.3 0 1 0 2.6 0a1.3 1.3 0 1 0 -2.6 0M185.9 226.8a2.5 2.5 0 1 0 5.1 0a2.5 2.5 0 1 0 -5.1 0M225.0 156.3a2.5 2.5 0 1 0 5.0 0a2.5 2.5 0 1 0 -5.0 0" fill="none" stroke="#cc58da" stroke-width="0.7"/>
<path d="M193.6 187.3a2.8 2.8 0 1 0 5.7 0a2.8 2.8 0 1 0 -5.7 0M80.3 209.8a1.4 1.4 0 1 0 2.9 0a1.4 1.4 0 1 0 -2.9 0M190.6 242.1a1.7 1.7 0 1 0 3.4 0a1.7 1.7 0 1 0 -3.4 0M172.0 234.4a2.9 2.9 0 1 0 5.8 0a2.9 2.9 0 1 0 -5.8 0M36.0 241.9a4.5 4.5 0 1 0 8.9 0a4.5 4.5 0 1 0 -8.9 0M129.8 217.1a2.7 2.7 0 1 0 5.4 0a2.7 2.7 0 1 0 -5.4 0M139.2 169.2a1.7 1.7 0 1 0 3.3 0a1.7 1.7 0 1 0 -3.3 0M156.4 181.6a2.6 2.6 0 1 0 5.3 0a2.6 2.6 0 1 0 -5.3 0M181.9 192.2a2.7 2.7 0 1 0 5.5 0a2.7 2.7 0 1 0 -5.5 0M149.3 236.9a3.8 3.8 0 1 0 7.6 0a3.8 3.8 0 1 0 -7.6 0M153.1 168.7a3.2 3.2 0 1 0 6.4 0a3.2 3.2 0 1 0 -6.4 0M121.8 205.4a1.7 1.7 0 1 0 3.3 0a1.7 1.7 0 1 0 -3.3 0M47.9 262.9a2.3 2.3 0 1 0 4.6 0a2.3 2.3 0 1 0 -4.6 0M230.2 204.6a1.3 1.3 0 1 0 2.6 0a1.3 1.3 0 1 0 -2.6 0M103.6 246.5a2.2 2.2 0 1 0 4.3 0a2.2 2.2 0 1 0 -4.3 0M199.5 214.2a2.4 2.4 0 1 0 4.9 0a2.4 2.4 0 1 0 -4.9 0" fill="none" stroke="#cc58da" stroke-width="1.0"/>
</g>
<g filter="url(#blur03)"><path d="M131.2 193.6a0.5 0.5 0 1 0 1.0 0a0.5 0.5 0 1 0 -1.0 0M50.3 228.0a0.9 0.9 0 1 0 1.9 0a0.9 0.9 0 1 0 -1.9 0M215.9 165.0a1.0 1.0 0 1 0 1.9 0a1.0 1.0 0 1 0 -1.9 0M168.8 163.3a1.6 1.6 0 1 0 3.1 0a1.6 1.6 0 1 0 -3.1 0M152.0 206.8a0.8 0.8 0 1 0 1.6 0a0.8 0.8 0 1 0 -1.6 0M157.1 204.6a0.8 0.8 0 1 0 1.6 0a0.8 0.8 0 1 0 -1.6 0M214.6 165.5a1.7 1.7 0 1 0 3.3 0a1.7 1.7 0 1 0 -3.3 0M176.3 201.1a0.9 0.9 0 1 0 1.8 0a0.9 0.9 0 1 0 -1.8 0M55.4 218.2a1.7 1.7 0 1 0 3.4 0a1.7 1.7 0 1 0 -3.4 0M65.0 224.0a1.8 1.8 0 1 0 3.5 0a1.8 1.8 0 1 0 -3.5 0M205.3 258.2a1.7 1.7 0 1 0 3.4 0a1.7 1.7 0 1 0 -3.4 0M54.6 166.4a1.0 1.0 0 1 0 1.9 0a1.0 1.0 0 1 0 -1.9 0M29.5 157.4a2.0 2.0 0 1 0 3.9 0a2.0 2.0 0 1 0 -3.9 0M202.0 226.1a0.6 0.6 0 1 0 1.2 0a0.6 0.6 0 1 0 -1.2 0M173.3 199.7a1.4 1.4 0 1 0 2.7 0a1.4 1.4 0 1 0 -2.7 0M83.8 185.2a1.4 1.4 0 1 0 2.8 0a1.4 1.4 0 1 0 -2.8 0M208.6 262.1a2.0 2.0 0 1 0 3.9 0a2.0 2.0 0 1 0 -3.9 0M148.5 185.1a1.1 1.1 0 1 0 2.3 0a1.1 1.1 0 1 0 -2.3 0M63.3 225.4a0.8 0.8 0 1 0 1.7 0a0.8 0.8 0 1 0 -1.7 0M52.7 219.1a1.8 1.8 0 1 0 3.6 0a1.8 1.8 0 1 0 -3.6 0M87.2 194.4a1.9 1.9 0 1 0 3.9 0a1.9 1.9 0 1 0 -3.9 0M126.3 169.5a0.9 0.9 0 1 0 1.7 0a0.9 0.9 0 1 0 -1.7 0M199.4 231.6a1.4 1.4 0 1 0 2.8 0a1.4 1.4 0 1 0 -2.8 0M232.6 241.4a1.4 1.4 0 1 0 2.8 0a1.4 1.4 0 1 0 -2.8 0M169.2 249.9a2.0 2.0 0 1 0 3.9 0a2.0 2.0 0 1 0 -3.9 0M223.4 262.3a0.8 0.8 0 1 0 1.7 0a0.8 0.8 0 1 0 -1.7 0M177.0 260.9a1.6 1.6 0 1 0 3.2 0a1.6 1.6 0 1 0 -3.2 0M223.3 214.6a1.2 1.2 0 1 0 2.3 0a1.2 1.2 0 1 0 -2.3 0M120.3 193.2a1.4 1.4 0 1 0 2.8 0a1.4 1.4 0 1 0 -2.8 0M117.8 171.0a0.8 0.8 0 1 0 1.6 0a0.8 0.8 0 1 0 -1.6 0M177.0 203.4a1.9 1.9 0 1 0 3.8 0a1.9 1.9 0 1 0 -3.8 0M136.4 166.5a0.7 0.7 0 1 0 1.3 0a0.7 0.7 0 1 0 -1.3 0M177.1 247.1a1.9 1.9 0 1 0 3.7 0a1.9 1.9 0 1 0 -3.7 0M80.5 187.3a0.5 0.5 0 1 0 1.1 0a0.5 0.5 0 1 0 -1.1 0M146.6 237.6a1.2 1.2 0 1 0 2.3 0a1.2 1.2 0 1 0 -2.3 0M148.9 234.3a1.1 1.1 0 1 0 2.2 0a1.1 1.1 0 1 0 -2.2 0M211.1 168.1a1.7 1.7 0 1 0 3.5 0a1.7 1.7 0 1 0 -3.5 0M135.0 197.2a1.2 1.2 0 1 0 2.5 0a1.2 1.2 0 1 0 -2.5 0M150.4 252.8a0.8 0.8 0 1 0 1.5 0a0.8 0.8 0 1 0 -1.5 0M135.2 247.4a0.9 0.9 0 1 0 1.9 0a0.9 0.9 0 1 0 -1.9 0M61.7 184.9a1.8 1.8 0 1 0 3.6 0a1.8 1.8 0 1 0 -3.6 0M123.5 168.6a0.6 0.6 0 1 0 1.1 0a0.6 0.6 0 1 0 -1.1 0M60.5 190.5a0.6 0.6 0 1 0 1.3 0a0.6 0.6 0 1 0 -1.3 0M132.4 244.9a2.0 2.0 0 1 0 4.0 0a2.0 2.0 0 1 0 -4.0 0M150.5 203.4a2.0 2.0 0 1 0 3.9 0a2.0 2.0 0 1 0 -3.9 0M225.5 264.8a1.0 1.0 0 1 0 2.0 0a1.0 1.0 0 1 0 -2.0 0M79.8 191.9a2.0 2.0 0 1 0 4.0 0a2.0 2.0 0 1 0 -4.0 0M78.0 254.7a1.1 1.1 0 1 0 2.2 0a1.1 1.1 0 1 0 -2.2 0M122.5 195.9a1.1 1.1 0 1 0 2.2 0a1.1 1.1 0 1 0 -2.2 0M140.0 237.5a1.7 1.7 0 1 0 3.4 0a1.7 1.7 0 1 0 -3.4 0M208.6 169.7a0.5 0.5 0 1 0 1.1 0a0.5 0.5 0 1 0 -1.1 0M63.5 188.6a1.7 1.7 0 1 0 3.4 0a1.7 1.7 0 1 0 -3.4 0M47.3 254.9a1.1 1.1 0 1 0 2.2 0a1.1 1.1 0 1 0 -2.2 0M177.7 242.8a1.5 1.5 0 1 0 3.1 0a1.5 1.5 0 1 0 -3.1 0M51.9 229.1a0.6 0.6 0 1 0 1.3 0a0.6 0.6 0 1 0 -1.3 0M226.2 266.8a1.0 1.0 0 1 0 2.0 0a1.0 1.0 0 1 0 -2.0 0M168.5 157.5a1.4 1.4 0 1 0 2.9 0a1.4 1.4 0 1 0 -2.9 0M214.2 168.0a1.6 1.6 0 1 0 3.2 0a1.6 1.6 0 1 0 -3.2 0M210.0 224.2a1.2 1.2 0 1 0 2.3 0a1.2 1.2 0 1 0 -2.3 0M121.2 173.1a0.6 0.6 0 1 0 1.2 0a0.6 0.6 0 1 0 -1.2 0M219.9 253.5a0.6 0.6 0 1 0 1.2 0a0.6 0.6 0 1 0 -1.2 0M78.7 232.2a0.9 0.9 0 1 0 1.7 0a0.9 0.9 0 1 0 -1.7 0M124.6 169.5a2.0 2.0 0 1 0 4.0 0a2.0 2.0 0 1 0 -4.0 0M127.3 205.6a0.7 0.7 0 1 0 1.4 0a0.7 0.7 0 1 0 -1.4 0M168.7 162.8a0.7 0.7 0 1 0 1.4 0a0.7 0.7 0 1 0 -1.4 0M173.1 257.4a1.7 1.7 0 1 0 3.5 0a1.7 1.7 0 1 0 -3.5 0M203.4 227.0a1.2 1.2 0 1 0 2.4 0a1.2 1.2 0 1 0 -2.4 0M74.6 176.8a1.9 1.9 0 1 0 3.9 0a1.9 1.9 0 1 0 -3.9 0M54.3 167.0a1.3 1.3 0 1 0 2.6 0a1.3 1.3 0 1 0 -2.6 0M118.3 196.1a0.6 0.6 0 1 0 1.2 0a0.6 0.6 0 1 0 -1.2 0M116.3 189.8a1.2 1.2 0 1 0 2.4 0a1.2 1.2 0 1 0 -2.4 0M130.7 167.3a0.8 0.8 0 1 0 1.5 0a0.8 0.8 0 1 0 -1.5 0M217.0 171.0a1.1 1.1 0 1 0 2.2 0a1.1 1.1 0 1 0 -2.2 0M81.6 255.5a1.0 1.0 0 1 0 2.1 0a1.0 1.0 0 1 0 -2.1 0M213.0 167.0a1.4 1.4 0 1 0 2.8 0a1.4 1.4 0 1 0 -2.8 0M153.7 197.9a1.3 1.3 0 1 0 2.5 0a1.3 1.3 0 1 0 -2.5 0M218.1 260.3a1.6 1.6 0 1 0 3.2 0a1.6 1.6 0 1 0 -3.2 0M131.3 190.5a0.6 0.6 0 1 0 1.2 0a0.6 0.6 0 1 0 -1.2 0M164.8 159.8a1.1 1.1 0 1 0 2.3 0a1.1 1.1 0 1 0 -2.3 0M145.8 255.4a1.3 1.3 0 1 0 2.7 0a1.3 1.3 0 1 0 -2.7 0M139.5 234.4a1.8 1.8 0 1 0 3.5 0a1.8 1.8 0 1 0 -3.5 0M133.4 248.6a1.2 1.2 0 1 0 2.4 0a1.2 1.2 0 1 0 -2.4 0M224.5 170.2a1.2 1.2 0 1 0 2.4 0a1.2 1.2 0 1 0 -2.4 0M73.6 176.4a1.9 1.9 0 1 0 3.7 0a1.9 1.9 0 1 0 -3.7 0M38.2 157.4a1.1 1.1 0 1 0 2.2 0a1.1 1.1 0 1 0 -2.2 0" fill="rgb(210,210,210)"/><path d="M176.9 248.3a1.4 1.4 0 1 0 2.7 0a1.4 1.4 0 1 0 -2.7 0M167.8 153.2a1.7 1.7 0 1 0 3.4 0a1.7 1.7 0 1 0 -3.4 0M62.6 224.4a2.6 2.6 0 1 0 5.2 0a2.6 2.6 0 1 0 -5.2 0M141.1 255.2a2.2 2.2 0 1 0 4.4 0a2.2 2.2 0 1 0 -4.4 0M207.1 264.9a1.4 1.4 0 1 0 2.8 0a1.4 1.4 0 1 0 -2.8 0M224.1 212.9a1.3 1.3 0 1 0 2.6 0a1.3 1.3 0 1 0 -2.6 0M117.5 163.6a1.9 1.9 0 1 0 3.7 0a1.9 1.9 0 1 0 -3.7 0M202.9 221.1a1.7 1.7 0 1 0 3.5 0a1.7 1.7 0 1 0 -3.5 0M220.3 213.6a1.9 1.9 0 1 0 3.8 0a1.9 1.9 0 1 0 -3.8 0M173.8 247.9a1.5 1.5 0 1 0 3.1 0a1.5 1.5 0 1 0 -3.1 0M115.1 168.3a1.1 1.1 0 1 0 2.2 0a1.1 1.1 0 1 0 -2.2 0M59.6 183.7a2.4 2.4 0 1 0 4.8 0a2.4 2.4 0 1 0 -4.8 0M220.7 239.1a1.8 1.8 0 1 0 3.7 0a1.8 1.8 0 1 0 -3.7 0M49.9 229.1a1.9 1.9 0 1 0 3.8 0a1.9 1.9 0 1 0 -3.8 0M136.5 189.8a1.7 1.7 0 1 0 3.4 0a1.7 1.7 0 1 0 -3.4 0M122.4 167.0a1.9 1.9 0 1 0 3.7 0a1.9 1.9 0 1 0 -3.7 0M43.5 253.5a2.4 2.4 0 1 0 4.8 0a2.4 2.4 0 1 0 -4.8 0M58.9 164.9a1.9 1.9 0 1 0 3.7 0a1.9 1.9 0 1 0 -3.7 0M61.3 165.1a1.4 1.4 0 1 0 2.9 0a1.4 1.4 0 1 0 -2.9 0M61.8 181.2a2.6 2.6 0 1 0 5.1 0a2.6 2.6 0 1 0 -5.1 0M89.7 198.1a2.3 2.3 0 1 0 4.6 0a2.3 2.3 0 1 0 -4.6 0M147.1 255.2a2.3 2.3 0 1 0 4.5 0a2.3 2.3 0 1 0 -4.5 0M119.8 194.4a1.9 1.9 0 1 0 3.9 0a1.9 1.9 0 1 0 -3.9 0M80.6 189.1a1.2 1.2 0 1 0 2.5 0a1.2 1.2 0 1 0 -2.5 0M209.1 263.2a1.9 1.9 0 1 0 3.7 0a1.9 1.9 0 1 0 -3.7 0M81.5 190.3a2.2 2.2 0 1 0 4.5 0a2.2 2.2 0 1 0 -4.5 0M65.0 184.5a1.7 1.7 0 1 0 3.5 0a1.7 1.7 0 1 0 -3.5 0M208.6 251.9a1.2 1.2 0 1 0 2.3 0a1.2 1.2 0 1 0 -2.3 0M60.1 213.9a1.2 1.2 0 1 0 2.4 0a1.2 1.2 0 1 0 -2.4 0M145.4 204.4a2.0 2.0 0 1 0 4.0 0a2.0 2.0 0 1 0 -4.0 0M116.4 189.6a1.3 1.3 0 1 0 2.7 0a1.3 1.3 0 1 0 -2.7 0M205.0 167.1a1.9 1.9 0 1 0 3.8 0a1.9 1.9 0 1 0 -3.8 0M148.8 238.2a1.5 1.5 0 1 0 3.1 0a1.5 1.5 0 1 0 -3.1 0M55.2 212.6a2.3 2.3 0 1 0 4.7 0a2.3 2.3 0 1 0 -4.7 0M221.6 263.3a1.5 1.5 0 1 0 3.0 0a1.5 1.5 0 1 0 -3.0 0M57.8 167.8a2.1 2.1 0 1 0 4.3 0a2.1 2.1 0 1 0 -4.3 0M212.3 255.9a2.2 2.2 0 1 0 4.4 0a2.2 2.2 0 1 0 -4.4 0M174.2 201.7a1.3 1.3 0 1 0 2.6 0a1.3 1.3 0 1 0 -2.6 0M158.3 199.8a1.2 1.2 0 1 0 2.4 0a1.2 1.2 0 1 0 -2.4 0M47.9 256.4a1.6 1.6 0 1 0 3.3 0a1.6 1.6 0 1 0 -3.3 0M32.6 159.7a2.1 2.1 0 1 0 4.3 0a2.1 2.1 0 1 0 -4.3 0M227.0 236.9a2.1 2.1 0 1 0 4.1 0a2.1 2.1 0 1 0 -4.1 0M201.3 227.5a1.8 1.8 0 1 0 3.6 0a1.8 1.8 0 1 0 -3.6 0M73.6 234.1a2.4 2.4 0 1 0 4.8 0a2.4 2.4 0 1 0 -4.8 0M124.3 202.2a2.1 2.1 0 1 0 4.2 0a2.1 2.1 0 1 0 -4.2 0M123.5 166.1a2.3 2.3 0 1 0 4.6 0a2.3 2.3 0 1 0 -4.6 0M153.0 200.8a2.1 2.1 0 1 0 4.2 0a2.1 2.1 0 1 0 -4.2 0M174.5 161.0a2.4 2.4 0 1 0 4.9 0a2.4 2.4 0 1 0 -4.9 0M150.3 185.4a1.9 1.9 0 1 0 3.8 0a1.9 1.9 0 1 0 -3.8 0M85.1 193.6a2.4 2.4 0 1 0 4.7 0a2.4 2.4 0 1 0 -4.7 0M167.0 157.1a2.6 2.6 0 1 0 5.2 0a2.6 2.6 0 1 0 -5.2 0M119.1 203.0a2.1 2.1 0 1 0 4.1 0a2.1 2.1 0 1 0 -4.1 0M149.3 258.9a2.3 2.3 0 1 0 4.6 0a2.3 2.3 0 1 0 -4.6 0M77.5 257.2a1.8 1.8 0 1 0 3.6 0a1.8 1.8 0 1 0 -3.6 0" fill="none" stroke="rgb(250,250,250)" stroke-width="0.8"/><path d="M208.4 229.9a1.3 1.3 0 1 0 2.5 0a1.3 1.3 0 1 0 -2.5 0M220.7 261.3a1.9 1.9 0 1 0 3.8 0a1.9 1.9 0 1 0 -3.8 0M57.2 212.9a1.2 1.2 0 1 0 2.5 0a1.2 1.2 0 1 0 -2.5 0M174.0 258.9a1.8 1.8 0 1 0 3.7 0a1.8 1.8 0 1 0 -3.7 0M122.4 191.6a2.1 2.1 0 1 0 4.3 0a2.1 2.1 0 1 0 -4.3 0M132.1 247.0a1.3 1.3 0 1 0 2.6 0a1.3 1.3 0 1 0 -2.6 0M127.2 209.5a2.1 2.1 0 1 0 4.3 0a2.1 2.1 0 1 0 -4.3 0M225.0 265.6a2.2 2.2 0 1 0 4.3 0a2.2 2.2 0 1 0 -4.3 0M42.7 257.3a1.5 1.5 0 1 0 3.1 0a1.5 1.5 0 1 0 -3.1 0M57.1 210.5a2.2 2.2 0 1 0 4.3 0a2.2 2.2 0 1 0 -4.3 0M72.3 233.1a2.3 2.3 0 1 0 4.7 0a2.3 2.3 0 1 0 -4.7 0M134.2 190.0a2.5 2.5 0 1 0 5.0 0a2.5 2.5 0 1 0 -5.0 0M121.7 169.3a2.3 2.3 0 1 0 4.6 0a2.3 2.3 0 1 0 -4.6 0M173.5 257.5a1.4 1.4 0 1 0 2.8 0a1.4 1.4 0 1 0 -2.8 0M175.5 245.8a1.6 1.6 0 1 0 3.3 0a1.6 1.6 0 1 0 -3.3 0M135.2 193.3a1.4 1.4 0 1 0 2.7 0a1.4 1.4 0 1 0 -2.7 0M73.3 257.3a1.7 1.7 0 1 0 3.3 0a1.7 1.7 0 1 0 -3.3 0M145.3 239.5a2.0 2.0 0 1 0 4.0 0a2.0 2.0 0 1 0 -4.0 0M81.2 250.9a2.1 2.1 0 1 0 4.2 0a2.1 2.1 0 1 0 -4.2 0M151.2 185.6a1.3 1.3 0 1 0 2.5 0a1.3 1.3 0 1 0 -2.5 0M127.1 200.1a1.7 1.7 0 1 0 3.5 0a1.7 1.7 0 1 0 -3.5 0M127.8 244.2a1.1 1.1 0 1 0 2.2 0a1.1 1.1 0 1 0 -2.2 0M176.8 242.6a2.3 2.3 0 1 0 4.7 0a2.3 2.3 0 1 0 -4.7 0M214.0 167.6a2.0 2.0 0 1 0 4.0 0a2.0 2.0 0 1 0 -4.0 0M175.3 261.9a1.6 1.6 0 1 0 3.1 0a1.6 1.6 0 1 0 -3.1 0M79.9 254.2a2.3 2.3 0 1 0 4.6 0a2.3 2.3 0 1 0 -4.6 0M59.1 224.2a1.5 1.5 0 1 0 2.9 0a1.5 1.5 0 1 0 -2.9 0M71.9 174.5a1.3 1.3 0 1 0 2.5 0a1.3 1.3 0 1 0 -2.5 0M168.8 158.8a1.5 1.5 0 1 0 3.0 0a1.5 1.5 0 1 0 -3.0 0M173.2 155.1a1.1 1.1 0 1 0 2.2 0a1.1 1.1 0 1 0 -2.2 0M170.8 199.5a2.5 2.5 0 1 0 5.0 0a2.5 2.5 0 1 0 -5.0 0M117.1 195.9a1.7 1.7 0 1 0 3.4 0a1.7 1.7 0 1 0 -3.4 0M204.1 230.3a1.5 1.5 0 1 0 3.0 0a1.5 1.5 0 1 0 -3.0 0M221.3 210.3a2.4 2.4 0 1 0 4.7 0a2.4 2.4 0 1 0 -4.7 0M218.2 168.3a2.3 2.3 0 1 0 4.6 0a2.3 2.3 0 1 0 -4.6 0M149.9 259.5a1.5 1.5 0 1 0 3.0 0a1.5 1.5 0 1 0 -3.0 0M129.6 242.5a1.8 1.8 0 1 0 3.6 0a1.8 1.8 0 1 0 -3.6 0M155.0 189.6a1.3 1.3 0 1 0 2.6 0a1.3 1.3 0 1 0 -2.6 0M227.0 262.0a1.5 1.5 0 1 0 3.1 0a1.5 1.5 0 1 0 -3.1 0M121.6 203.8a1.2 1.2 0 1 0 2.5 0a1.2 1.2 0 1 0 -2.5 0M173.4 244.5a2.2 2.2 0 1 0 4.3 0a2.2 2.2 0 1 0 -4.3 0M61.7 226.7a1.4 1.4 0 1 0 2.7 0a1.4 1.4 0 1 0 -2.7 0M224.6 261.7a2.6 2.6 0 1 0 5.1 0a2.6 2.6 0 1 0 -5.1 0M35.1 159.0a1.2 1.2 0 1 0 2.5 0a1.2 1.2 0 1 0 -2.5 0M78.9 189.0a1.9 1.9 0 1 0 3.7 0a1.9 1.9 0 1 0 -3.7 0M127.6 246.0a2.0 2.0 0 1 0 3.9 0a2.0 2.0 0 1 0 -3.9 0M153.5 183.9a1.5 1.5 0 1 0 2.9 0a1.5 1.5 0 1 0 -2.9 0M57.7 220.8a1.6 1.6 0 1 0 3.2 0a1.6 1.6 0 1 0 -3.2 0M204.9 260.8a1.7 1.7 0 1 0 3.5 0a1.7 1.7 0 1 0 -3.5 0M227.9 207.3a2.5 2.5 0 1 0 5.0 0a2.5 2.5 0 1 0 -5.0 0M135.4 189.9a1.6 1.6 0 1 0 3.2 0a1.6 1.6 0 1 0 -3.2 0M214.7 253.6a1.3 1.3 0 1 0 2.6 0a1.3 1.3 0 1 0 -2.6 0" fill="none" stroke="rgb(210,210,210)" stroke-width="0.8"/><path d="M135.5 187.2a1.5 1.5 0 1 0 2.9 0a1.5 1.5 0 1 0 -2.9 0M177.0 243.1a0.8 0.8 0 1 0 1.5 0a0.8 0.8 0 1 0 -1.5 0M33.0 159.1a1.4 1.4 0 1 0 2.8 0a1.4 1.4 0 1 0 -2.8 0M148.0 257.3a1.3 1.3 0 1 0 2.7 0a1.3 1.3 0 1 0 -2.7 0M60.1 226.6a0.9 0.9 0 1 0 1.8 0a0.9 0.9 0 1 0 -1.8 0M57.2 214.2a0.6 0.6 0 1 0 1.1 0a0.6 0.6 0 1 0 -1.1 0M44.1 252.9a1.1 1.1 0 1 0 2.1 0a1.1 1.1 0 1 0 -2.1 0M225.8 209.0a1.0 1.0 0 1 0 2.0 0a1.0 1.0 0 1 0 -2.0 0M54.0 163.7a1.8 1.8 0 1 0 3.6 0a1.8 1.8 0 1 0 -3.6 0M223.8 166.8a1.3 1.3 0 1 0 2.6 0a1.3 1.3 0 1 0 -2.6 0M80.2 256.5a1.7 1.7 0 1 0 3.4 0a1.7 1.7 0 1 0 -3.4 0M227.3 237.4a1.8 1.8 0 1 0 3.6 0a1.8 1.8 0 1 0 -3.6 0M213.5 253.9a1.0 1.0 0 1 0 2.0 0a1.0 1.0 0 1 0 -2.0 0M129.4 195.6a0.7 0.7 0 1 0 1.5 0a0.7 0.7 0 1 0 -1.5 0M150.5 254.2a1.6 1.6 0 1 0 3.2 0a1.6 1.6 0 1 0 -3.2 0M71.3 171.6a1.5 1.5 0 1 0 2.9 0a1.5 1.5 0 1 0 -2.9 0M174.5 242.1a1.3 1.3 0 1 0 2.6 0a1.3 1.3 0 1 0 -2.6 0M224.0 264.6a1.4 1.4 0 1 0 2.9 0a1.4 1.4 0 1 0 -2.9 0M208.9 169.2a0.6 0.6 0 1 0 1.1 0a0.6 0.6 0 1 0 -1.1 0M212.8 170.5a1.6 1.6 0 1 0 3.1 0a1.6 1.6 0 1 0 -3.1 0M56.6 223.2a1.3 1.3 0 1 0 2.6 0a1.3 1.3 0 1 0 -2.6 0M173.3 259.2a1.0 1.0 0 1 0 2.0 0a1.0 1.0 0 1 0 -2.0 0M167.6 161.0a1.4 1.4 0 1 0 2.9 0a1.4 1.4 0 1 0 -2.9 0M206.5 165.8a1.9 1.9 0 1 0 3.7 0a1.9 1.9 0 1 0 -3.7 0M31.2 161.6a1.8 1.8 0 1 0 3.7 0a1.8 1.8 0 1 0 -3.7 0M80.8 176.2a1.5 1.5 0 1 0 3.0 0a1.5 1.5 0 1 0 -3.0 0M57.6 166.1a1.6 1.6 0 1 0 3.2 0a1.6 1.6 0 1 0 -3.2 0M223.4 212.6a1.2 1.2 0 1 0 2.4 0a1.2 1.2 0 1 0 -2.4 0M167.9 155.0a1.7 1.7 0 1 0 3.5 0a1.7 1.7 0 1 0 -3.5 0M225.4 260.2a1.5 1.5 0 1 0 3.1 0a1.5 1.5 0 1 0 -3.1 0M47.5 228.6a0.8 0.8 0 1 0 1.7 0a0.8 0.8 0 1 0 -1.7 0M54.1 214.9a1.8 1.8 0 1 0 3.6 0a1.8 1.8 0 1 0 -3.6 0M222.7 207.0a1.0 1.0 0 1 0 2.0 0a1.0 1.0 0 1 0 -2.0 0M88.0 252.9a0.8 0.8 0 1 0 1.6 0a0.8 0.8 0 1 0 -1.6 0M145.7 237.2a1.7 1.7 0 1 0 3.3 0a1.7 1.7 0 1 0 -3.3 0M173.8 201.5a1.8 1.8 0 1 0 3.7 0a1.8 1.8 0 1 0 -3.7 0M171.0 260.3a1.8 1.8 0 1 0 3.5 0a1.8 1.8 0 1 0 -3.5 0M40.5 224.3a1.1 1.1 0 1 0 2.2 0a1.1 1.1 0 1 0 -2.2 0M228.6 208.6a1.8 1.8 0 1 0 3.6 0a1.8 1.8 0 1 0 -3.6 0M222.1 260.4a1.5 1.5 0 1 0 2.9 0a1.5 1.5 0 1 0 -2.9 0M178.8 204.2a0.7 0.7 0 1 0 1.5 0a0.7 0.7 0 1 0 -1.5 0M206.5 256.1a1.4 1.4 0 1 0 2.8 0a1.4 1.4 0 1 0 -2.8 0M215.5 261.2a1.1 1.1 0 1 0 2.1 0a1.1 1.1 0 1 0 -2.1 0M119.1 196.4a0.9 0.9 0 1 0 1.8 0a0.9 0.9 0 1 0 -1.8 0M78.5 251.5a0.7 0.7 0 1 0 1.4 0a0.7 0.7 0 1 0 -1.4 0M209.8 262.6a1.7 1.7 0 1 0 3.3 0a1.7 1.7 0 1 0 -3.3 0M60.1 229.2a0.9 0.9 0 1 0 1.8 0a0.9 0.9 0 1 0 -1.8 0M116.1 165.7a0.7 0.7 0 1 0 1.3 0a0.7 0.7 0 1 0 -1.3 0M145.5 238.4a0.6 0.6 0 1 0 1.2 0a0.6 0.6 0 1 0 -1.2 0M156.0 187.2a0.7 0.7 0 1 0 1.4 0a0.7 0.7 0 1 0 -1.4 0M224.7 261.1a1.6 1.6 0 1 0 3.2 0a1.6 1.6 0 1 0 -3.2 0M74.0 239.0a1.8 1.8 0 1 0 3.5 0a1.8 1.8 0 1 0 -3.5 0M151.4 254.3a1.2 1.2 0 1 0 2.4 0a1.2 1.2 0 1 0 -2.4 0M206.3 260.6a1.6 1.6 0 1 0 3.2 0a1.6 1.6 0 1 0 -3.2 0M94.3 202.5a1.1 1.1 0 1 0 2.2 0a1.1 1.1 0 1 0 -2.2 0M171.0 259.5a1.2 1.2 0 1 0 2.3 0a1.2 1.2 0 1 0 -2.3 0M59.9 221.3a1.3 1.3 0 1 0 2.6 0a1.3 1.3 0 1 0 -2.6 0M210.9 254.9a0.5 0.5 0 1 0 1.0 0a0.5 0.5 0 1 0 -1.0 0M49.6 231.1a1.0 1.0 0 1 0 1.9 0a1.0 1.0 0 1 0 -1.9 0M136.5 198.4a1.6 1.6 0 1 0 3.2 0a1.6 1.6 0 1 0 -3.2 0M56.2 232.4a1.6 1.6 0 1 0 3.3 0a1.6 1.6 0 1 0 -3.3 0M89.1 190.4a0.8 0.8 0 1 0 1.6 0a0.8 0.8 0 1 0 -1.6 0" fill="rgb(170,170,170)"/><path d="M222.9 212.7a1.1 1.1 0 1 0 2.2 0a1.1 1.1 0 1 0 -2.2 0M91.9 200.1a1.1 1.1 0 1 0 2.1 0a1.1 1.1 0 1 0 -2.1 0M173.5 198.5a1.5 1.5 0 1 0 2.9 0a1.5 1.5 0 1 0 -2.9 0M135.3 191.9a1.1 1.1 0 1 0 2.2 0a1.1 1.1 0 1 0 -2.2 0M211.7 252.5a1.1 1.1 0 1 0 2.1 0a1.1 1.1 0 1 0 -2.1 0M219.8 169.2a0.7 0.7 0 1 0 1.3 0a0.7 0.7 0 1 0 -1.3 0M167.2 158.5a1.6 1.6 0 1 0 3.1 0a1.6 1.6 0 1 0 -3.1 0M133.8 193.9a1.7 1.7 0 1 0 3.3 0a1.7 1.7 0 1 0 -3.3 0M83.8 199.9a1.4 1.4 0 1 0 2.7 0a1.4 1.4 0 1 0 -2.7 0M122.5 173.6a1.0 1.0 0 1 0 2.0 0a1.0 1.0 0 1 0 -2.0 0M222.2 263.9a0.8 0.8 0 1 0 1.6 0a0.8 0.8 0 1 0 -1.6 0M217.4 266.2a0.8 0.8 0 1 0 1.5 0a0.8 0.8 0 1 0 -1.5 0M167.3 159.4a0.6 0.6 0 1 0 1.1 0a0.6 0.6 0 1 0 -1.1 0M226.3 263.2a0.7 0.7 0 1 0 1.4 0a0.7 0.7 0 1 0 -1.4 0M83.9 255.0a2.0 2.0 0 1 0 4.0 0a2.0 2.0 0 1 0 -4.0 0M135.3 248.7a0.6 0.6 0 1 0 1.3 0a0.6 0.6 0 1 0 -1.3 0M205.0 260.2a1.1 1.1 0 1 0 2.2 0a1.1 1.1 0 1 0 -2.2 0M205.3 261.7a0.6 0.6 0 1 0 1.3 0a0.6 0.6 0 1 0 -1.3 0M61.6 218.8a1.0 1.0 0 1 0 2.1 0a1.0 1.0 0 1 0 -2.1 0M62.4 164.3a1.0 1.0 0 1 0 2.0 0a1.0 1.0 0 1 0 -2.0 0M79.6 236.9a1.1 1.1 0 1 0 2.3 0a1.1 1.1 0 1 0 -2.3 0M205.0 230.5a1.7 1.7 0 1 0 3.4 0a1.7 1.7 0 1 0 -3.4 0M59.5 224.4a1.6 1.6 0 1 0 3.2 0a1.6 1.6 0 1 0 -3.2 0M210.9 165.8a0.9 0.9 0 1 0 1.8 0a0.9 0.9 0 1 0 -1.8 0M205.2 259.7a1.8 1.8 0 1 0 3.5 0a1.8 1.8 0 1 0 -3.5 0M219.4 261.3a1.6 1.6 0 1 0 3.3 0a1.6 1.6 0 1 0 -3.3 0M115.9 194.6a1.4 1.4 0 1 0 2.9 0a1.4 1.4 0 1 0 -2.9 0M201.8 230.2a1.5 1.5 0 1 0 3.0 0a1.5 1.5 0 1 0 -3.0 0M230.8 237.1a0.6 0.6 0 1 0 1.3 0a0.6 0.6 0 1 0 -1.3 0M212.1 258.5a1.9 1.9 0 1 0 3.9 0a1.9 1.9 0 1 0 -3.9 0M210.8 169.5a1.9 1.9 0 1 0 3.9 0a1.9 1.9 0 1 0 -3.9 0M150.5 252.2a0.8 0.8 0 1 0 1.5 0a0.8 0.8 0 1 0 -1.5 0M150.7 203.1a1.6 1.6 0 1 0 3.1 0a1.6 1.6 0 1 0 -3.1 0M85.8 201.8a2.0 2.0 0 1 0 3.9 0a2.0 2.0 0 1 0 -3.9 0M83.1 253.4a1.9 1.9 0 1 0 3.8 0a1.9 1.9 0 1 0 -3.8 0M220.2 267.0a1.4 1.4 0 1 0 2.8 0a1.4 1.4 0 1 0 -2.8 0M123.8 200.2a1.5 1.5 0 1 0 3.1 0a1.5 1.5 0 1 0 -3.1 0M217.4 264.4a0.7 0.7 0 1 0 1.4 0a0.7 0.7 0 1 0 -1.4 0M167.1 156.2a1.3 1.3 0 1 0 2.5 0a1.3 1.3 0 1 0 -2.5 0M130.1 189.1a0.5 0.5 0 1 0 1.1 0a0.5 0.5 0 1 0 -1.1 0M222.4 264.6a1.7 1.7 0 1 0 3.3 0a1.7 1.7 0 1 0 -3.3 0M147.5 202.7a0.9 0.9 0 1 0 1.8 0a0.9 0.9 0 1 0 -1.8 0M148.5 186.6a1.0 1.0 0 1 0 2.1 0a1.0 1.0 0 1 0 -2.1 0M176.5 201.9a0.8 0.8 0 1 0 1.5 0a0.8 0.8 0 1 0 -1.5 0M204.5 259.2a1.8 1.8 0 1 0 3.5 0a1.8 1.8 0 1 0 -3.5 0M126.6 166.3a0.5 0.5 0 1 0 1.1 0a0.5 0.5 0 1 0 -1.1 0M136.0 195.2a0.6 0.6 0 1 0 1.1 0a0.6 0.6 0 1 0 -1.1 0M150.9 182.5a1.1 1.1 0 1 0 2.1 0a1.1 1.1 0 1 0 -2.1 0M74.5 238.1a1.4 1.4 0 1 0 2.9 0a1.4 1.4 0 1 0 -2.9 0M21.7 160.2a1.9 1.9 0 1 0 3.7 0a1.9 1.9 0 1 0 -3.7 0M230.9 236.2a0.6 0.6 0 1 0 1.1 0a0.6 0.6 0 1 0 -1.1 0M145.5 240.1a1.4 1.4 0 1 0 2.8 0a1.4 1.4 0 1 0 -2.8 0M59.4 220.9a1.3 1.3 0 1 0 2.6 0a1.3 1.3 0 1 0 -2.6 0M61.7 220.4a1.8 1.8 0 1 0 3.7 0a1.8 1.8 0 1 0 -3.7 0M48.7 230.9a1.8 1.8 0 1 0 3.6 0a1.8 1.8 0 1 0 -3.6 0M223.3 214.1a1.3 1.3 0 1 0 2.7 0a1.3 1.3 0 1 0 -2.7 0M152.4 200.7a1.0 1.0 0 1 0 2.0 0a1.0 1.0 0 1 0 -2.0 0M129.6 242.4a0.8 0.8 0 1 0 1.6 0a0.8 0.8 0 1 0 -1.6 0M146.9 205.2a1.8 1.8 0 1 0 3.5 0a1.8 1.8 0 1 0 -3.5 0M169.0 159.4a1.1 1.1 0 1 0 2.2 0a1.1 1.1 0 1 0 -2.2 0M58.3 160.1a1.2 1.2 0 1 0 2.5 0a1.2 1.2 0 1 0 -2.5 0M217.9 166.9a0.8 0.8 0 1 0 1.7 0a0.8 0.8 0 1 0 -1.7 0M61.6 166.1a0.6 0.6 0 1 0 1.1 0a0.6 0.6 0 1 0 -1.1 0M171.4 201.1a0.8 0.8 0 1 0 1.6 0a0.8 0.8 0 1 0 -1.6 0M78.9 234.4a0.8 0.8 0 1 0 1.6 0a0.8 0.8 0 1 0 -1.6 0M231.4 264.6a1.5 1.5 0 1 0 3.1 0a1.5 1.5 0 1 0 -3.1 0M205.5 229.9a1.0 1.0 0 1 0 1.9 0a1.0 1.0 0 1 0 -1.9 0M175.5 201.0a1.0 1.0 0 1 0 1.9 0a1.0 1.0 0 1 0 -1.9 0M52.1 253.5a1.3 1.3 0 1 0 2.7 0a1.3 1.3 0 1 0 -2.7 0M229.2 209.1a1.1 1.1 0 1 0 2.1 0a1.1 1.1 0 1 0 -2.1 0M59.0 222.3a2.0 2.0 0 1 0 3.9 0a2.0 2.0 0 1 0 -3.9 0M223.2 266.4a1.0 1.0 0 1 0 2.1 0a1.0 1.0 0 1 0 -2.1 0M79.3 173.1a1.2 1.2 0 1 0 2.4 0a1.2 1.2 0 1 0 -2.4 0M59.4 168.4a0.7 0.7 0 1 0 1.4 0a0.7 0.7 0 1 0 -1.4 0M81.8 258.2a1.4 1.4 0 1 0 2.8 0a1.4 1.4 0 1 0 -2.8 0M80.0 173.5a1.9 1.9 0 1 0 3.9 0a1.9 1.9 0 1 0 -3.9 0" fill="rgb(250,250,250)"/><path d="M62.0 225.4a1.2 1.2 0 1 0 2.4 0a1.2 1.2 0 1 0 -2.4 0M215.5 171.0a1.1 1.1 0 1 0 2.3 0a1.1 1.1 0 1 0 -2.3 0M212.6 169.2a1.7 1.7 0 1 0 3.3 0a1.7 1.7 0 1 0 -3.3 0M220.2 258.5a1.4 1.4 0 1 0 2.9 0a1.4 1.4 0 1 0 -2.9 0M168.1 202.0a2.0 2.0 0 1 0 4.0 0a2.0 2.0 0 1 0 -4.0 0M55.0 215.0a1.7 1.7 0 1 0 3.4 0a1.7 1.7 0 1 0 -3.4 0M77.4 254.5a1.8 1.8 0 1 0 3.5 0a1.8 1.8 0 1 0 -3.5 0M169.4 196.0a1.7 1.7 0 1 0 3.5 0a1.7 1.7 0 1 0 -3.5 0M59.2 208.0a1.5 1.5 0 1 0 3.1 0a1.5 1.5 0 1 0 -3.1 0M123.9 199.4a2.2 2.2 0 1 0 4.3 0a2.2 2.2 0 1 0 -4.3 0M206.7 261.0a1.5 1.5 0 1 0 3.0 0a1.5 1.5 0 1 0 -3.0 0M50.1 229.5a2.0 2.0 0 1 0 3.9 0a2.0 2.0 0 1 0 -3.9 0M222.7 163.9a1.6 1.6 0 1 0 3.2 0a1.6 1.6 0 1 0 -3.2 0M134.1 170.3a2.6 2.6 0 1 0 5.1 0a2.6 2.6 0 1 0 -5.1 0M52.4 213.0a1.8 1.8 0 1 0 3.6 0a1.8 1.8 0 1 0 -3.6 0M171.2 156.8a1.4 1.4 0 1 0 2.9 0a1.4 1.4 0 1 0 -2.9 0M79.4 252.3a1.2 1.2 0 1 0 2.3 0a1.2 1.2 0 1 0 -2.3 0M132.3 194.6a1.7 1.7 0 1 0 3.4 0a1.7 1.7 0 1 0 -3.4 0M81.8 236.3a2.3 2.3 0 1 0 4.6 0a2.3 2.3 0 1 0 -4.6 0M89.1 192.5a1.8 1.8 0 1 0 3.5 0a1.8 1.8 0 1 0 -3.5 0M154.7 207.0a2.5 2.5 0 1 0 5.0 0a2.5 2.5 0 1 0 -5.0 0M123.2 206.5a1.3 1.3 0 1 0 2.6 0a1.3 1.3 0 1 0 -2.6 0M64.8 224.4a2.0 2.0 0 1 0 3.9 0a2.0 2.0 0 1 0 -3.9 0M199.4 227.3a2.3 2.3 0 1 0 4.7 0a2.3 2.3 0 1 0 -4.7 0M118.9 195.9a2.6 2.6 0 1 0 5.1 0a2.6 2.6 0 1 0 -5.1 0M212.9 171.9a2.1 2.1 0 1 0 4.2 0a2.1 2.1 0 1 0 -4.2 0M209.7 166.9a1.4 1.4 0 1 0 2.9 0a1.4 1.4 0 1 0 -2.9 0M121.4 200.3a2.3 2.3 0 1 0 4.6 0a2.3 2.3 0 1 0 -4.6 0M113.3 196.3a2.5 2.5 0 1 0 5.0 0a2.5 2.5 0 1 0 -5.0 0M50.1 231.6a2.5 2.5 0 1 0 4.9 0a2.5 2.5 0 1 0 -4.9 0M146.6 253.5a1.6 1.6 0 1 0 3.2 0a1.6 1.6 0 1 0 -3.2 0M208.2 260.7a2.5 2.5 0 1 0 5.0 0a2.5 2.5 0 1 0 -5.0 0M211.9 254.3a1.1 1.1 0 1 0 2.3 0a1.1 1.1 0 1 0 -2.3 0M218.1 262.3a2.2 2.2 0 1 0 4.5 0a2.2 2.2 0 1 0 -4.5 0M128.6 243.2a2.4 2.4 0 1 0 4.9 0a2.4 2.4 0 1 0 -4.9 0M78.0 231.6a1.9 1.9 0 1 0 3.9 0a1.9 1.9 0 1 0 -3.9 0M36.0 159.9a1.2 1.2 0 1 0 2.3 0a1.2 1.2 0 1 0 -2.3 0M42.0 229.0a1.2 1.2 0 1 0 2.4 0a1.2 1.2 0 1 0 -2.4 0M132.6 193.1a1.4 1.4 0 1 0 2.7 0a1.4 1.4 0 1 0 -2.7 0M223.5 166.6a1.9 1.9 0 1 0 3.8 0a1.9 1.9 0 1 0 -3.8 0M60.3 167.1a2.0 2.0 0 1 0 4.1 0a2.0 2.0 0 1 0 -4.1 0M213.0 167.6a1.7 1.7 0 1 0 3.4 0a1.7 1.7 0 1 0 -3.4 0M227.0 167.9a2.2 2.2 0 1 0 4.5 0a2.2 2.2 0 1 0 -4.5 0M204.1 255.2a2.3 2.3 0 1 0 4.5 0a2.3 2.3 0 1 0 -4.5 0M60.5 218.8a2.5 2.5 0 1 0 4.9 0a2.5 2.5 0 1 0 -4.9 0M205.2 170.2a1.5 1.5 0 1 0 3.0 0a1.5 1.5 0 1 0 -3.0 0M117.9 171.0a2.1 2.1 0 1 0 4.3 0a2.1 2.1 0 1 0 -4.3 0M121.4 172.2a1.8 1.8 0 1 0 3.6 0a1.8 1.8 0 1 0 -3.6 0M138.0 191.6a2.1 2.1 0 1 0 4.1 0a2.1 2.1 0 1 0 -4.1 0M84.5 188.5a1.8 1.8 0 1 0 3.5 0a1.8 1.8 0 1 0 -3.5 0M49.8 209.7a2.6 2.6 0 1 0 5.2 0a2.6 2.6 0 1 0 -5.2 0" fill="none" stroke="rgb(170,170,170)" stroke-width="0.8"/></g>
<path d="M217.2 246.0a0.8 0.8 0 1 0 1.6 0a0.8 0.8 0 1 0 -1.6 0M93.1 169.3a0.6 0.6 0 1 0 1.2 0a0.6 0.6 0 1 0 -1.2 0M130.2 214.3a0.5 0.5 0 1 0 0.9 0a0.5 0.5 0 1 0 -0.9 0M215.1 202.9a0.7 0.7 0 1 0 1.4 0a0.7 0.7 0 1 0 -1.4 0M149.0 256.6a0.8 0.8 0 1 0 1.5 0a0.8 0.8 0 1 0 -1.5 0M47.0 182.1a0.7 0.7 0 1 0 1.4 0a0.7 0.7 0 1 0 -1.4 0M129.7 256.9a0.5 0.5 0 1 0 0.9 0a0.5 0.5 0 1 0 -0.9 0M102.5 239.3a0.4 0.4 0 1 0 0.9 0a0.4 0.4 0 1 0 -0.9 0M138.2 168.3a0.6 0.6 0 1 0 1.2 0a0.6 0.6 0 1 0 -1.2 0M142.2 206.4a0.5 0.5 0 1 0 0.9 0a0.5 0.5 0 1 0 -0.9 0M209.5 262.2a0.4 0.4 0 1 0 0.8 0a0.4 0.4 0 1 0 -0.8 0M64.6 188.5a0.6 0.6 0 1 0 1.1 0a0.6 0.6 0 1 0 -1.1 0M169.2 206.9a0.7 0.7 0 1 0 1.4 0a0.7 0.7 0 1 0 -1.4 0M58.0 259.5a0.5 0.5 0 1 0 1.1 0a0.5 0.5 0 1 0 -1.1 0M204.1 245.6a0.6 0.6 0 1 0 1.1 0a0.6 0.6 0 1 0 -1.1 0M189.6 236.5a0.6 0.6 0 1 0 1.1 0a0.6 0.6 0 1 0 -1.1 0M38.9 184.9a0.4 0.4 0 1 0 0.8 0a0.4 0.4 0 1 0 -0.8 0M142.6 209.8a0.7 0.7 0 1 0 1.4 0a0.7 0.7 0 1 0 -1.4 0M210.3 187.8a0.4 0.4 0 1 0 0.8 0a0.4 0.4 0 1 0 -0.8 0M177.4 177.1a0.4 0.4 0 1 0 0.9 0a0.4 0.4 0 1 0 -0.9 0M202.7 203.4a0.6 0.6 0 1 0 1.2 0a0.6 0.6 0 1 0 -1.2 0M148.7 252.9a0.5 0.5 0 1 0 1.1 0a0.5 0.5 0 1 0 -1.1 0M216.3 213.6a0.6 0.6 0 1 0 1.2 0a0.6 0.6 0 1 0 -1.2 0M124.9 201.6a0.7 0.7 0 1 0 1.3 0a0.7 0.7 0 1 0 -1.3 0M69.7 167.4a0.6 0.6 0 1 0 1.1 0a0.6 0.6 0 1 0 -1.1 0M191.8 233.0a0.5 0.5 0 1 0 1.0 0a0.5 0.5 0 1 0 -1.0 0M51.0 190.2a0.5 0.5 0 1 0 1.0 0a0.5 0.5 0 1 0 -1.0 0M42.5 207.1a0.7 0.7 0 1 0 1.3 0a0.7 0.7 0 1 0 -1.3 0M121.9 160.0a0.4 0.4 0 1 0 0.8 0a0.4 0.4 0 1 0 -0.8 0M112.4 216.4a0.6 0.6 0 1 0 1.1 0a0.6 0.6 0 1 0 -1.1 0M95.8 240.3a0.6 0.6 0 1 0 1.2 0a0.6 0.6 0 1 0 -1.2 0M195.6 267.8a0.6 0.6 0 1 0 1.2 0a0.6 0.6 0 1 0 -1.2 0M154.8 249.7a0.7 0.7 0 1 0 1.4 0a0.7 0.7 0 1 0 -1.4 0M48.8 197.1a0.6 0.6 0 1 0 1.2 0a0.6 0.6 0 1 0 -1.2 0M78.2 208.3a0.8 0.8 0 1 0 1.7 0a0.8 0.8 0 1 0 -1.7 0M174.9 201.1a0.6 0.6 0 1 0 1.1 0a0.6 0.6 0 1 0 -1.1 0M199.8 183.5a0.7 0.7 0 1 0 1.4 0a0.7 0.7 0 1 0 -1.4 0M168.9 181.9a0.5 0.5 0 1 0 1.1 0a0.5 0.5 0 1 0 -1.1 0M125.9 193.9a0.8 0.8 0 1 0 1.6 0a0.8 0.8 0 1 0 -1.6 0M145.9 170.1a0.6 0.6 0 1 0 1.1 0a0.6 0.6 0 1 0 -1.1 0M48.0 207.7a0.7 0.7 0 1 0 1.4 0a0.7 0.7 0 1 0 -1.4 0M110.4 231.3a0.5 0.5 0 1 0 1.0 0a0.5 0.5 0 1 0 -1.0 0M54.1 191.9a0.8 0.8 0 1 0 1.5 0a0.8 0.8 0 1 0 -1.5 0M57.8 208.6a0.7 0.7 0 1 0 1.4 0a0.7 0.7 0 1 0 -1.4 0M136.0 177.3a0.6 0.6 0 1 0 1.2 0a0.6 0.6 0 1 0 -1.2 0M214.9 202.2a0.4 0.4 0 1 0 0.8 0a0.4 0.4 0 1 0 -0.8 0M145.1 217.6a0.8 0.8 0 1 0 1.5 0a0.8 0.8 0 1 0 -1.5 0M169.1 240.7a0.6 0.6 0 1 0 1.3 0a0.6 0.6 0 1 0 -1.3 0M107.9 233.3a0.8 0.8 0 1 0 1.6 0a0.8 0.8 0 1 0 -1.6 0M56.1 265.9a0.7 0.7 0 1 0 1.4 0a0.7 0.7 0 1 0 -1.4 0M209.0 211.5a0.4 0.4 0 1 0 0.8 0a0.4 0.4 0 1 0 -0.8 0M69.1 223.1a0.4 0.4 0 1 0 0.9 0a0.4 0.4 0 1 0 -0.9 0M211.9 186.1a0.7 0.7 0 1 0 1.4 0a0.7 0.7 0 1 0 -1.4 0M149.0 188.3a0.4 0.4 0 1 0 0.9 0a0.4 0.4 0 1 0 -0.9 0M28.8 201.2a0.8 0.8 0 1 0 1.6 0a0.8 0.8 0 1 0 -1.6 0M135.7 198.6a0.7 0.7 0 1 0 1.4 0a0.7 0.7 0 1 0 -1.4 0M162.7 239.8a0.7 0.7 0 1 0 1.3 0a0.7 0.7 0 1 0 -1.3 0M204.4 193.9a0.5 0.5 0 1 0 0.9 0a0.5 0.5 0 1 0 -0.9 0M115.5 268.3a0.7 0.7 0 1 0 1.4 0a0.7 0.7 0 1 0 -1.4 0M154.9 171.6a0.6 0.6 0 1 0 1.1 0a0.6 0.6 0 1 0 -1.1 0M153.6 192.6a0.5 0.5 0 1 0 0.9 0a0.5 0.5 0 1 0 -0.9 0M199.7 207.7a0.5 0.5 0 1 0 1.0 0a0.5 0.5 0 1 0 -1.0 0M138.2 201.0a0.8 0.8 0 1 0 1.6 0a0.8 0.8 0 1 0 -1.6 0M74.0 238.3a0.5 0.5 0 1 0 1.1 0a0.5 0.5 0 1 0 -1.1 0M74.0 190.7a0.6 0.6 0 1 0 1.2 0a0.6 0.6 0 1 0 -1.2 0M178.2 196.8a0.7 0.7 0 1 0 1.4 0a0.7 0.7 0 1 0 -1.4 0M226.2 229.8a0.7 0.7 0 1 0 1.5 0a0.7 0.7 0 1 0 -1.5 0M198.2 210.0a0.5 0.5 0 1 0 1.0 0a0.5 0.5 0 1 0 -1.0 0M223.9 178.3a0.8 0.8 0 1 0 1.6 0a0.8 0.8 0 1 0 -1.6 0M95.7 177.7a0.7 0.7 0 1 0 1.5 0a0.7 0.7 0 1 0 -1.5 0M219.0 176.7a0.4 0.4 0 1 0 0.9 0a0.4 0.4 0 1 0 -0.9 0M87.8 181.7a0.7 0.7 0 1 0 1.4 0a0.7 0.7 0 1 0 -1.4 0M31.7 200.4a0.6 0.6 0 1 0 1.2 0a0.6 0.6 0 1 0 -1.2 0M183.0 219.4a0.6 0.6 0 1 0 1.2 0a0.6 0.6 0 1 0 -1.2 0M212.1 252.5a0.7 0.7 0 1 0 1.3 0a0.7 0.7 0 1 0 -1.3 0M147.6 199.7a0.8 0.8 0 1 0 1.6 0a0.8 0.8 0 1 0 -1.6 0M143.9 182.6a0.5 0.5 0 1 0 1.1 0a0.5 0.5 0 1 0 -1.1 0M211.1 246.8a0.7 0.7 0 1 0 1.4 0a0.7 0.7 0 1 0 -1.4 0M176.8 254.6a0.4 0.4 0 1 0 0.7 0a0.4 0.4 0 1 0 -0.7 0M162.2 227.2a0.7 0.7 0 1 0 1.5 0a0.7 0.7 0 1 0 -1.5 0M100.2 182.6a0.6 0.6 0 1 0 1.3 0a0.6 0.6 0 1 0 -1.3 0M210.2 262.3a0.4 0.4 0 1 0 0.7 0a0.4 0.4 0 1 0 -0.7 0M96.2 253.0a0.4 0.4 0 1 0 0.8 0a0.4 0.4 0 1 0 -0.8 0M183.5 261.7a0.7 0.7 0 1 0 1.4 0a0.7 0.7 0 1 0 -1.4 0M202.0 158.6a0.4 0.4 0 1 0 0.7 0a0.4 0.4 0 1 0 -0.7 0M191.0 205.4a0.7 0.7 0 1 0 1.3 0a0.7 0.7 0 1 0 -1.3 0M105.7 163.1a0.4 0.4 0 1 0 0.8 0a0.4 0.4 0 1 0 -0.8 0M85.9 162.0a0.4 0.4 0 1 0 0.8 0a0.4 0.4 0 1 0 -0.8 0M50.1 187.4a0.8 0.8 0 1 0 1.6 0a0.8 0.8 0 1 0 -1.6 0M227.8 211.7a0.5 0.5 0 1 0 0.9 0a0.5 0.5 0 1 0 -0.9 0M146.5 165.5a0.8 0.8 0 1 0 1.6 0a0.8 0.8 0 1 0 -1.6 0M28.2 230.3a0.4 0.4 0 1 0 0.7 0a0.4 0.4 0 1 0 -0.7 0M41.8 218.9a0.7 0.7 0 1 0 1.4 0a0.7 0.7 0 1 0 -1.4 0M83.7 159.4a0.6 0.6 0 1 0 1.2 0a0.6 0.6 0 1 0 -1.2 0M135.7 183.4a0.8 0.8 0 1 0 1.6 0a0.8 0.8 0 1 0 -1.6 0M49.5 196.3a0.8 0.8 0 1 0 1.6 0a0.8 0.8 0 1 0 -1.6 0M113.6 203.2a0.7 0.7 0 1 0 1.4 0a0.7 0.7 0 1 0 -1.4 0M145.5 260.6a0.7 0.7 0 1 0 1.4 0a0.7 0.7 0 1 0 -1.4 0M175.1 178.6a0.7 0.7 0 1 0 1.3 0a0.7 0.7 0 1 0 -1.3 0M112.9 253.7a0.6 0.6 0 1 0 1.3 0a0.6 0.6 0 1 0 -1.3 0M85.1 184.9a0.7 0.7 0 1 0 1.4 0a0.7 0.7 0 1 0 -1.4 0M68.2 225.2a0.8 0.8 0 1 0 1.6 0a0.8 0.8 0 1 0 -1.6 0M213.4 173.4a0.4 0.4 0 1 0 0.8 0a0.4 0.4 0 1 0 -0.8 0M154.4 230.7a0.6 0.6 0 1 0 1.1 0a0.6 0.6 0 1 0 -1.1 0M143.8 219.2a0.8 0.8 0 1 0 1.6 0a0.8 0.8 0 1 0 -1.6 0M59.0 238.6a0.7 0.7 0 1 0 1.3 0a0.7 0.7 0 1 0 -1.3 0M90.1 182.2a0.6 0.6 0 1 0 1.2 0a0.6 0.6 0 1 0 -1.2 0M180.8 233.7a0.5 0.5 0 1 0 1.1 0a0.5 0.5 0 1 0 -1.1 0M230.0 265.1a0.8 0.8 0 1 0 1.6 0a0.8 0.8 0 1 0 -1.6 0M65.1 220.1a0.6 0.6 0 1 0 1.1 0a0.6 0.6 0 1 0 -1.1 0M64.9 243.1a0.8 0.8 0 1 0 1.6 0a0.8 0.8 0 1 0 -1.6 0M62.4 218.5a0.7 0.7 0 1 0 1.4 0a0.7 0.7 0 1 0 -1.4 0M225.5 245.6a0.7 0.7 0 1 0 1.5 0a0.7 0.7 0 1 0 -1.5 0M47.2 237.0a0.8 0.8 0 1 0 1.7 0a0.8 0.8 0 1 0 -1.7 0M71.7 191.8a0.5 0.5 0 1 0 0.9 0a0.5 0.5 0 1 0 -0.9 0" fill="#c8c8c8" opacity="0.85"/>
<g filter="url(#blur05)"><ellipse cx="43.6" cy="211.9" rx="3.3" ry="2.5" fill="#c458cc"/><ellipse cx="179.1" cy="203.3" rx="2.8" ry="2.2" fill="#c458cc"/><ellipse cx="82.0" cy="189.3" rx="2.2" ry="1.7" fill="#c458cc"/><ellipse cx="167.4" cy="252.0" rx="2.2" ry="1.7" fill="#c458cc"/><ellipse cx="193.6" cy="247.0" rx="3.5" ry="2.7" fill="#c458cc"/></g>
</g>
<clipPath id="cp12"><rect x="23.9" y="287.3" width="201.9" height="100.2"/></clipPath>
<rect x="23.9" y="287.3" width="201.9" height="100.2" fill="#040404"/>
<g clip-path="url(#cp12)">
<g filter="url(#blur1)"><circle cx="74.5" cy="382.2" r="2.8" fill="rgb(31,31,31)"/><circle cx="94.5" cy="310.4" r="4.7" fill="rgb(29,29,29)"/><circle cx="204.9" cy="373.3" r="2.0" fill="rgb(41,41,41)"/><circle cx="45.5" cy="313.1" r="3.7" fill="rgb(38,38,38)"/><circle cx="118.4" cy="380.2" r="3.0" fill="rgb(31,31,31)"/><circle cx="159.3" cy="382.2" r="5.7" fill="rgb(50,50,50)"/><circle cx="36.9" cy="381.2" r="4.6" fill="rgb(50,50,50)"/><circle cx="106.3" cy="309.3" r="5.2" fill="rgb(44,44,44)"/><circle cx="181.1" cy="307.5" r="2.5" fill="rgb(47,47,47)"/><circle cx="28.0" cy="382.0" r="2.5" fill="rgb(42,42,42)"/><circle cx="108.5" cy="319.8" r="2.7" fill="rgb(47,47,47)"/><circle cx="208.5" cy="360.3" r="4.4" fill="rgb(45,45,45)"/><circle cx="132.1" cy="343.2" r="5.6" fill="rgb(33,33,33)"/><circle cx="68.8" cy="382.2" r="5.8" fill="rgb(39,39,39)"/><circle cx="185.6" cy="361.8" r="5.8" fill="rgb(28,28,28)"/><circle cx="205.2" cy="337.4" r="3.8" fill="rgb(45,45,45)"/><circle cx="148.4" cy="331.0" r="3.2" fill="rgb(51,51,51)"/><circle cx="189.2" cy="297.6" r="3.6" fill="rgb(47,47,47)"/><circle cx="201.4" cy="383.7" r="3.0" fill="rgb(50,50,50)"/><circle cx="164.2" cy="294.1" r="2.8" fill="rgb(31,31,31)"/><circle cx="39.5" cy="356.2" r="3.2" fill="rgb(45,45,45)"/><circle cx="40.4" cy="374.6" r="4.8" fill="rgb(47,47,47)"/><circle cx="146.3" cy="333.2" r="2.8" fill="rgb(52,52,52)"/><circle cx="53.3" cy="339.5" r="2.5" fill="rgb(29,29,29)"/><circle cx="164.6" cy="376.4" r="3.8" fill="rgb(48,48,48)"/><circle cx="197.4" cy="341.0" r="5.1" fill="rgb(34,34,34)"/><circle cx="54.2" cy="306.2" r="2.0" fill="rgb(27,27,27)"/><circle cx="175.6" cy="377.8" r="2.2" fill="rgb(46,46,46)"/><circle cx="180.9" cy="355.6" r="4.0" fill="rgb(39,39,39)"/><circle cx="164.2" cy="311.9" r="5.0" fill="rgb(31,31,31)"/><circle cx="31.0" cy="380.9" r="2.4" fill="rgb(31,31,31)"/><circle cx="35.2" cy="288.3" r="2.5" fill="rgb(51,51,51)"/><circle cx="164.3" cy="327.9" r="2.0" fill="rgb(49,49,49)"/><circle cx="121.8" cy="372.9" r="4.0" fill="rgb(28,28,28)"/><circle cx="38.8" cy="366.4" r="2.9" fill="rgb(30,30,30)"/><circle cx="106.5" cy="313.5" r="3.1" fill="rgb(48,48,48)"/><circle cx="118.7" cy="387.1" r="2.4" fill="rgb(34,34,34)"/><circle cx="201.8" cy="330.9" r="5.1" fill="rgb(38,38,38)"/><circle cx="105.9" cy="376.1" r="3.3" fill="rgb(41,41,41)"/><circle cx="137.9" cy="291.6" r="2.4" fill="rgb(32,32,32)"/></g>
<g filter="url(#blur03)">
<path d="M159.8 345.6a2.8 2.8 0 1 0 5.6 0a2.8 2.8 0 1 0 -5.6 0M71.0 372.4a3.9 3.9 0 1 0 7.7 0a3.9 3.9 0 1 0 -7.7 0M159.2 289.0a2.7 2.7 0 1 0 5.3 0a2.7 2.7 0 1 0 -5.3 0M75.4 316.1a4.9 4.9 0 1 0 9.8 0a4.9 4.9 0 1 0 -9.8 0M182.1 332.7a1.8 1.8 0 1 0 3.6 0a1.8 1.8 0 1 0 -3.6 0M206.3 313.5a4.3 4.3 0 1 0 8.5 0a4.3 4.3 0 1 0 -8.5 0M182.8 371.3a1.8 1.8 0 1 0 3.6 0a1.8 1.8 0 1 0 -3.6 0M168.6 359.2a1.8 1.8 0 1 0 3.6 0a1.8 1.8 0 1 0 -3.6 0M75.0 341.5a9.2 9.2 0 1 0 18.4 0a9.2 9.2 0 1 0 -18.4 0M24.3 345.7a7.1 7.1 0 1 0 14.1 0a7.1 7.1 0 1 0 -14.1 0M25.2 334.3a3.2 3.2 0 1 0 6.4 0a3.2 3.2 0 1 0 -6.4 0M93.4 381.6a2.2 2.2 0 1 0 4.4 0a2.2 2.2 0 1 0 -4.4 0M203.2 321.2a3.6 3.6 0 1 0 7.1 0a3.6 3.6 0 1 0 -7.1 0M113.4 319.5a2.3 2.3 0 1 0 4.6 0a2.3 2.3 0 1 0 -4.6 0M63.0 315.8a3.6 3.6 0 1 0 7.2 0a3.6 3.6 0 1 0 -7.2 0M95.6 327.2a2.1 2.1 0 1 0 4.1 0a2.1 2.1 0 1 0 -4.1 0M106.6 322.0a2.3 2.3 0 1 0 4.7 0a2.3 2.3 0 1 0 -4.7 0M61.7 338.8a2.9 2.9 0 1 0 5.8 0a2.9 2.9 0 1 0 -5.8 0M121.3 389.1a2.8 2.8 0 1 0 5.6 0a2.8 2.8 0 1 0 -5.6 0M143.6 374.9a2.1 2.1 0 1 0 4.2 0a2.1 2.1 0 1 0 -4.2 0M101.2 335.5a1.7 1.7 0 1 0 3.4 0a1.7 1.7 0 1 0 -3.4 0M68.8 313.1a2.6 2.6 0 1 0 5.2 0a2.6 2.6 0 1 0 -5.2 0M123.1 382.5a2.9 2.9 0 1 0 5.7 0a2.9 2.9 0 1 0 -5.7 0M171.2 302.1a2.5 2.5 0 1 0 5.0 0a2.5 2.5 0 1 0 -5.0 0M169.7 355.3a2.0 2.0 0 1 0 4.0 0a2.0 2.0 0 1 0 -4.0 0M179.4 360.9a3.2 3.2 0 1 0 6.3 0a3.2 3.2 0 1 0 -6.3 0M190.5 330.2a2.1 2.1 0 1 0 4.2 0a2.1 2.1 0 1 0 -4.2 0M85.9 315.7a3.5 3.5 0 1 0 7.0 0a3.5 3.5 0 1 0 -7.0 0M132.7 293.3a3.1 3.1 0 1 0 6.2 0a3.1 3.1 0 1 0 -6.2 0M59.7 286.1a5.7 5.7 0 1 0 11.3 0a5.7 5.7 0 1 0 -11.3 0M108.2 294.5a4.2 4.2 0 1 0 8.4 0a4.2 4.2 0 1 0 -8.4 0M38.7 366.2a1.7 1.7 0 1 0 3.3 0a1.7 1.7 0 1 0 -3.3 0M35.4 341.0a1.5 1.5 0 1 0 3.0 0a1.5 1.5 0 1 0 -3.0 0M31.5 293.9a1.7 1.7 0 1 0 3.5 0a1.7 1.7 0 1 0 -3.5 0M198.6 301.5a3.4 3.4 0 1 0 6.8 0a3.4 3.4 0 1 0 -6.8 0M167.6 303.2a1.3 1.3 0 1 0 2.6 0a1.3 1.3 0 1 0 -2.6 0M159.2 323.9a1.3 1.3 0 1 0 2.6 0a1.3 1.3 0 1 0 -2.6 0M35.4 385.5a1.3 1.3 0 1 0 2.6 0a1.3 1.3 0 1 0 -2.6 0M191.3 364.2a1.3 1.3 0 1 0 2.6 0a1.3 1.3 0 1 0 -2.6 0M58.4 297.4a3.8 3.8 0 1 0 7.7 0a3.8 3.8 0 1 0 -7.7 0M182.7 291.3a2.2 2.2 0 1 0 4.5 0a2.2 2.2 0 1 0 -4.5 0M112.9 359.1a2.0 2.0 0 1 0 4.1 0a2.0 2.0 0 1 0 -4.1 0M20.9 357.1a4.8 4.8 0 1 0 9.6 0a4.8 4.8 0 1 0 -9.6 0M64.9 383.9a1.4 1.4 0 1 0 2.9 0a1.4 1.4 0 1 0 -2.9 0M59.7 317.2a2.1 2.1 0 1 0 4.3 0a2.1 2.1 0 1 0 -4.3 0M177.5 336.0a2.9 2.9 0 1 0 5.8 0a2.9 2.9 0 1 0 -5.8 0M164.8 338.3a2.0 2.0 0 1 0 3.9 0a2.0 2.0 0 1 0 -3.9 0M137.5 302.2a1.7 1.7 0 1 0 3.4 0a1.7 1.7 0 1 0 -3.4 0M48.5 289.6a4.1 4.1 0 1 0 8.2 0a4.1 4.1 0 1 0 -8.2 0M202.9 374.5a1.4 1.4 0 1 0 2.8 0a1.4 1.4 0 1 0 -2.8 0M68.6 328.0a5.2 5.2 0 1 0 10.4 0a5.2 5.2 0 1 0 -10.4 0M152.5 370.1a1.8 1.8 0 1 0 3.6 0a1.8 1.8 0 1 0 -3.6 0M170.4 315.0a1.7 1.7 0 1 0 3.3 0a1.7 1.7 0 1 0 -3.3 0M36.5 300.1a1.4 1.4 0 1 0 2.8 0a1.4 1.4 0 1 0 -2.8 0M58.3 323.7a2.0 2.0 0 1 0 4.1 0a2.0 2.0 0 1 0 -4.1 0M69.6 306.0a2.4 2.4 0 1 0 4.8 0a2.4 2.4 0 1 0 -4.8 0M112.3 328.5a1.3 1.3 0 1 0 2.6 0a1.3 1.3 0 1 0 -2.6 0M29.1 376.3a4.1 4.1 0 1 0 8.3 0a4.1 4.1 0 1 0 -8.3 0M224.7 353.7a1.5 1.5 0 1 0 3.0 0a1.5 1.5 0 1 0 -3.0 0M218.8 368.0a1.3 1.3 0 1 0 2.6 0a1.3 1.3 0 1 0 -2.6 0M186.1 376.2a1.6 1.6 0 1 0 3.2 0a1.6 1.6 0 1 0 -3.2 0M220.2 363.9a2.0 2.0 0 1 0 4.1 0a2.0 2.0 0 1 0 -4.1 0M55.5 360.3a2.0 2.0 0 1 0 4.1 0a2.0 2.0 0 1 0 -4.1 0M138.1 285.3a1.3 1.3 0 1 0 2.6 0a1.3 1.3 0 1 0 -2.6 0M72.0 350.2a4.0 4.0 0 1 0 8.1 0a4.0 4.0 0 1 0 -8.1 0M100.5 381.0a1.7 1.7 0 1 0 3.4 0a1.7 1.7 0 1 0 -3.4 0M24.3 383.8a1.6 1.6 0 1 0 3.1 0a1.6 1.6 0 1 0 -3.1 0M206.8 356.8a1.3 1.3 0 1 0 2.6 0a1.3 1.3 0 1 0 -2.6 0M197.9 285.5a1.6 1.6 0 1 0 3.3 0a1.6 1.6 0 1 0 -3.3 0M61.7 320.4a1.3 1.3 0 1 0 2.6 0a1.3 1.3 0 1 0 -2.6 0M48.1 362.3a2.4 2.4 0 1 0 4.8 0a2.4 2.4 0 1 0 -4.8 0M24.6 362.6a1.5 1.5 0 1 0 3.0 0a1.5 1.5 0 1 0 -3.0 0M113.0 340.2a2.5 2.5 0 1 0 5.0 0a2.5 2.5 0 1 0 -5.0 0M194.6 368.5a1.8 1.8 0 1 0 3.6 0a1.8 1.8 0 1 0 -3.6 0M158.4 334.5a2.7 2.7 0 1 0 5.4 0a2.7 2.7 0 1 0 -5.4 0M115.0 380.8a2.2 2.2 0 1 0 4.3 0a2.2 2.2 0 1 0 -4.3 0M75.8 377.4a2.7 2.7 0 1 0 5.5 0a2.7 2.7 0 1 0 -5.5 0M33.5 338.9a1.6 1.6 0 1 0 3.2 0a1.6 1.6 0 1 0 -3.2 0M54.3 327.3a2.6 2.6 0 1 0 5.1 0a2.6 2.6 0 1 0 -5.1 0M70.5 344.5a1.9 1.9 0 1 0 3.8 0a1.9 1.9 0 1 0 -3.8 0M145.5 371.1a1.7 1.7 0 1 0 3.4 0a1.7 1.7 0 1 0 -3.4 0M115.1 289.5a1.3 1.3 0 1 0 2.6 0a1.3 1.3 0 1 0 -2.6 0M50.2 332.9a1.3 1.3 0 1 0 2.6 0a1.3 1.3 0 1 0 -2.6 0M215.7 313.1a1.3 1.3 0 1 0 2.6 0a1.3 1.3 0 1 0 -2.6 0M111.4 301.0a1.3 1.3 0 1 0 2.6 0a1.3 1.3 0 1 0 -2.6 0M62.3 370.6a2.7 2.7 0 1 0 5.4 0a2.7 2.7 0 1 0 -5.4 0M130.8 343.0a2.5 2.5 0 1 0 4.9 0a2.5 2.5 0 1 0 -4.9 0M204.4 346.0a1.3 1.3 0 1 0 2.6 0a1.3 1.3 0 1 0 -2.6 0M47.3 285.6a1.4 1.4 0 1 0 2.7 0a1.4 1.4 0 1 0 -2.7 0M55.8 288.5a2.5 2.5 0 1 0 5.0 0a2.5 2.5 0 1 0 -5.0 0M72.0 321.0a2.2 2.2 0 1 0 4.4 0a2.2 2.2 0 1 0 -4.4 0M109.8 304.7a2.6 2.6 0 1 0 5.2 0a2.6 2.6 0 1 0 -5.2 0M203.4 295.5a2.3 2.3 0 1 0 4.6 0a2.3 2.3 0 1 0 -4.6 0M119.8 380.3a1.5 1.5 0 1 0 3.0 0a1.5 1.5 0 1 0 -3.0 0M148.4 387.0a1.5 1.5 0 1 0 3.0 0a1.5 1.5 0 1 0 -3.0 0M116.1 346.7a2.3 2.3 0 1 0 4.5 0a2.3 2.3 0 1 0 -4.5 0M116.2 336.7a2.0 2.0 0 1 0 4.0 0a2.0 2.0 0 1 0 -4.0 0M220.5 324.4a2.4 2.4 0 1 0 4.8 0a2.4 2.4 0 1 0 -4.8 0M136.5 340.9a1.3 1.3 0 1 0 2.6 0a1.3 1.3 0 1 0 -2.6 0M55.7 292.4a1.8 1.8 0 1 0 3.5 0a1.8 1.8 0 1 0 -3.5 0M149.4 309.8a1.3 1.3 0 1 0 2.6 0a1.3 1.3 0 1 0 -2.6 0M205.7 377.5a2.7 2.7 0 1 0 5.4 0a2.7 2.7 0 1 0 -5.4 0M220.2 291.6a1.6 1.6 0 1 0 3.2 0a1.6 1.6 0 1 0 -3.2 0M69.9 350.7a1.3 1.3 0 1 0 2.6 0a1.3 1.3 0 1 0 -2.6 0M105.7 329.6a1.3 1.3 0 1 0 2.6 0a1.3 1.3 0 1 0 -2.6 0M69.6 318.2a1.3 1.3 0 1 0 2.6 0a1.3 1.3 0 1 0 -2.6 0M78.9 302.3a1.9 1.9 0 1 0 3.9 0a1.9 1.9 0 1 0 -3.9 0M105.9 315.6a1.5 1.5 0 1 0 3.0 0a1.5 1.5 0 1 0 -3.0 0M179.0 368.0a1.3 1.3 0 1 0 2.6 0a1.3 1.3 0 1 0 -2.6 0M195.6 372.5a2.3 2.3 0 1 0 4.7 0a2.3 2.3 0 1 0 -4.7 0M43.7 318.3a2.1 2.1 0 1 0 4.3 0a2.1 2.1 0 1 0 -4.3 0M70.1 348.3a1.4 1.4 0 1 0 2.8 0a1.4 1.4 0 1 0 -2.8 0M168.6 341.4a1.6 1.6 0 1 0 3.2 0a1.6 1.6 0 1 0 -3.2 0M51.1 308.6a1.9 1.9 0 1 0 3.8 0a1.9 1.9 0 1 0 -3.8 0M221.5 354.6a1.4 1.4 0 1 0 2.8 0a1.4 1.4 0 1 0 -2.8 0M99.3 326.0a2.3 2.3 0 1 0 4.6 0a2.3 2.3 0 1 0 -4.6 0M21.1 371.3a1.6 1.6 0 1 0 3.2 0a1.6 1.6 0 1 0 -3.2 0M205.7 285.8a2.6 2.6 0 1 0 5.2 0a2.6 2.6 0 1 0 -5.2 0" fill="none" stroke="rgb(85,85,85)" stroke-width="0.55"/>
<path d="M106.5 289.6a1.7 1.7 0 1 0 3.4 0a1.7 1.7 0 1 0 -3.4 0M161.1 308.1a3.2 3.2 0 1 0 6.3 0a3.2 3.2 0 1 0 -6.3 0M95.8 291.3a5.4 5.4 0 1 0 10.7 0a5.4 5.4 0 1 0 -10.7 0M21.1 306.3a2.4 2.4 0 1 0 4.8 0a2.4 2.4 0 1 0 -4.8 0M213.6 363.6a2.9 2.9 0 1 0 5.8 0a2.9 2.9 0 1 0 -5.8 0M59.1 353.6a2.1 2.1 0 1 0 4.1 0a2.1 2.1 0 1 0 -4.1 0M191.1 304.2a2.7 2.7 0 1 0 5.5 0a2.7 2.7 0 1 0 -5.5 0M216.7 307.1a2.4 2.4 0 1 0 4.8 0a2.4 2.4 0 1 0 -4.8 0M41.0 312.7a2.6 2.6 0 1 0 5.2 0a2.6 2.6 0 1 0 -5.2 0M216.1 377.8a3.7 3.7 0 1 0 7.4 0a3.7 3.7 0 1 0 -7.4 0M54.4 335.4a1.9 1.9 0 1 0 3.8 0a1.9 1.9 0 1 0 -3.8 0M130.8 368.9a4.0 4.0 0 1 0 7.9 0a4.0 4.0 0 1 0 -7.9 0M113.5 353.6a2.6 2.6 0 1 0 5.2 0a2.6 2.6 0 1 0 -5.2 0M37.6 386.6a2.2 2.2 0 1 0 4.4 0a2.2 2.2 0 1 0 -4.4 0M183.2 287.0a1.9 1.9 0 1 0 3.7 0a1.9 1.9 0 1 0 -3.7 0M24.8 286.5a2.0 2.0 0 1 0 4.1 0a2.0 2.0 0 1 0 -4.1 0M157.3 339.2a2.4 2.4 0 1 0 4.8 0a2.4 2.4 0 1 0 -4.8 0M160.0 361.1a2.6 2.6 0 1 0 5.2 0a2.6 2.6 0 1 0 -5.2 0M224.8 345.4a2.7 2.7 0 1 0 5.4 0a2.7 2.7 0 1 0 -5.4 0M60.8 357.9a1.7 1.7 0 1 0 3.5 0a1.7 1.7 0 1 0 -3.5 0M208.1 290.1a1.7 1.7 0 1 0 3.3 0a1.7 1.7 0 1 0 -3.3 0M95.7 368.7a1.5 1.5 0 1 0 3.0 0a1.5 1.5 0 1 0 -3.0 0M150.3 323.7a2.3 2.3 0 1 0 4.6 0a2.3 2.3 0 1 0 -4.6 0M190.2 314.3a1.3 1.3 0 1 0 2.6 0a1.3 1.3 0 1 0 -2.6 0M182.2 385.2a3.4 3.4 0 1 0 6.8 0a3.4 3.4 0 1 0 -6.8 0M56.7 374.4a1.4 1.4 0 1 0 2.7 0a1.4 1.4 0 1 0 -2.7 0M139.6 385.1a1.3 1.3 0 1 0 2.6 0a1.3 1.3 0 1 0 -2.6 0M201.0 333.8a2.7 2.7 0 1 0 5.3 0a2.7 2.7 0 1 0 -5.3 0M79.9 322.7a1.3 1.3 0 1 0 2.6 0a1.3 1.3 0 1 0 -2.6 0M202.3 364.0a3.2 3.2 0 1 0 6.3 0a3.2 3.2 0 1 0 -6.3 0M132.0 299.6a1.9 1.9 0 1 0 3.7 0a1.9 1.9 0 1 0 -3.7 0M176.4 287.5a2.6 2.6 0 1 0 5.2 0a2.6 2.6 0 1 0 -5.2 0M67.8 335.2a1.3 1.3 0 1 0 2.6 0a1.3 1.3 0 1 0 -2.6 0M22.5 337.2a1.4 1.4 0 1 0 2.8 0a1.4 1.4 0 1 0 -2.8 0M45.3 299.9a2.2 2.2 0 1 0 4.5 0a2.2 2.2 0 1 0 -4.5 0M20.2 320.2a2.5 2.5 0 1 0 4.9 0a2.5 2.5 0 1 0 -4.9 0M176.1 375.6a2.1 2.1 0 1 0 4.2 0a2.1 2.1 0 1 0 -4.2 0M210.7 287.4a2.0 2.0 0 1 0 3.9 0a2.0 2.0 0 1 0 -3.9 0M71.7 355.3a2.2 2.2 0 1 0 4.3 0a2.2 2.2 0 1 0 -4.3 0M137.1 296.7a1.3 1.3 0 1 0 2.6 0a1.3 1.3 0 1 0 -2.6 0M147.0 319.1a1.9 1.9 0 1 0 3.8 0a1.9 1.9 0 1 0 -3.8 0M110.9 374.0a2.4 2.4 0 1 0 4.8 0a2.4 2.4 0 1 0 -4.8 0M108.5 315.3a1.5 1.5 0 1 0 3.0 0a1.5 1.5 0 1 0 -3.0 0M159.2 349.1a1.6 1.6 0 1 0 3.1 0a1.6 1.6 0 1 0 -3.1 0M127.1 385.5a1.9 1.9 0 1 0 3.8 0a1.9 1.9 0 1 0 -3.8 0M150.6 336.3a1.3 1.3 0 1 0 2.7 0a1.3 1.3 0 1 0 -2.7 0" fill="none" stroke="rgb(190,190,190)" stroke-width="0.75"/>
<path d="M192.0 289.2a3.1 3.1 0 1 0 6.2 0a3.1 3.1 0 1 0 -6.2 0M202.0 352.7a2.4 2.4 0 1 0 4.7 0a2.4 2.4 0 1 0 -4.7 0M174.1 369.1a1.5 1.5 0 1 0 3.0 0a1.5 1.5 0 1 0 -3.0 0M19.8 300.1a2.4 2.4 0 1 0 4.9 0a2.4 2.4 0 1 0 -4.9 0M177.3 382.4a3.0 3.0 0 1 0 6.0 0a3.0 3.0 0 1 0 -6.0 0M130.5 386.8a3.2 3.2 0 1 0 6.3 0a3.2 3.2 0 1 0 -6.3 0M174.0 330.0a1.9 1.9 0 1 0 3.7 0a1.9 1.9 0 1 0 -3.7 0M47.0 306.1a2.5 2.5 0 1 0 5.0 0a2.5 2.5 0 1 0 -5.0 0M94.0 372.5a2.1 2.1 0 1 0 4.2 0a2.1 2.1 0 1 0 -4.2 0M84.0 330.8a3.0 3.0 0 1 0 6.1 0a3.0 3.0 0 1 0 -6.1 0M154.6 355.3a1.8 1.8 0 1 0 3.6 0a1.8 1.8 0 1 0 -3.6 0M22.6 377.0a3.2 3.2 0 1 0 6.4 0a3.2 3.2 0 1 0 -6.4 0M223.2 377.5a2.2 2.2 0 1 0 4.4 0a2.2 2.2 0 1 0 -4.4 0M80.9 373.4a2.7 2.7 0 1 0 5.4 0a2.7 2.7 0 1 0 -5.4 0M91.1 377.1a2.4 2.4 0 1 0 4.8 0a2.4 2.4 0 1 0 -4.8 0M97.7 387.4a2.9 2.9 0 1 0 5.8 0a2.9 2.9 0 1 0 -5.8 0M67.5 320.8a1.7 1.7 0 1 0 3.4 0a1.7 1.7 0 1 0 -3.4 0M48.3 356.6a1.8 1.8 0 1 0 3.7 0a1.8 1.8 0 1 0 -3.7 0M186.1 361.9a1.3 1.3 0 1 0 2.6 0a1.3 1.3 0 1 0 -2.6 0M166.8 313.8a1.5 1.5 0 1 0 3.0 0a1.5 1.5 0 1 0 -3.0 0M203.3 285.4a1.5 1.5 0 1 0 3.1 0a1.5 1.5 0 1 0 -3.1 0M222.4 338.3a3.2 3.2 0 1 0 6.3 0a3.2 3.2 0 1 0 -6.3 0M36.7 305.8a2.7 2.7 0 1 0 5.3 0a2.7 2.7 0 1 0 -5.3 0M35.2 309.8a1.7 1.7 0 1 0 3.4 0a1.7 1.7 0 1 0 -3.4 0M54.8 355.1a2.0 2.0 0 1 0 4.1 0a2.0 2.0 0 1 0 -4.1 0M104.6 337.6a2.4 2.4 0 1 0 4.9 0a2.4 2.4 0 1 0 -4.9 0M138.1 375.4a2.0 2.0 0 1 0 4.1 0a2.0 2.0 0 1 0 -4.1 0M149.8 346.1a1.8 1.8 0 1 0 3.6 0a1.8 1.8 0 1 0 -3.6 0M42.8 382.1a2.1 2.1 0 1 0 4.2 0a2.1 2.1 0 1 0 -4.2 0M146.4 354.3a2.5 2.5 0 1 0 4.9 0a2.5 2.5 0 1 0 -4.9 0M36.4 360.6a3.5 3.5 0 1 0 7.1 0a3.5 3.5 0 1 0 -7.1 0M165.4 361.2a2.0 2.0 0 1 0 4.1 0a2.0 2.0 0 1 0 -4.1 0M139.1 350.1a1.4 1.4 0 1 0 2.9 0a1.4 1.4 0 1 0 -2.9 0M154.7 326.8a1.5 1.5 0 1 0 3.0 0a1.5 1.5 0 1 0 -3.0 0M164.1 323.1a1.9 1.9 0 1 0 3.8 0a1.9 1.9 0 1 0 -3.8 0M108.6 377.6a1.9 1.9 0 1 0 3.7 0a1.9 1.9 0 1 0 -3.7 0M42.1 329.3a2.3 2.3 0 1 0 4.5 0a2.3 2.3 0 1 0 -4.5 0M196.2 376.1a1.3 1.3 0 1 0 2.6 0a1.3 1.3 0 1 0 -2.6 0M215.3 315.8a1.7 1.7 0 1 0 3.4 0a1.7 1.7 0 1 0 -3.4 0M97.3 383.0a1.9 1.9 0 1 0 3.8 0a1.9 1.9 0 1 0 -3.8 0M45.5 359.8a1.6 1.6 0 1 0 3.3 0a1.6 1.6 0 1 0 -3.3 0M205.9 332.2a1.6 1.6 0 1 0 3.2 0a1.6 1.6 0 1 0 -3.2 0M132.5 330.6a1.7 1.7 0 1 0 3.4 0a1.7 1.7 0 1 0 -3.4 0M44.2 296.4a1.6 1.6 0 1 0 3.1 0a1.6 1.6 0 1 0 -3.1 0M155.8 381.5a2.1 2.1 0 1 0 4.1 0a2.1 2.1 0 1 0 -4.1 0M129.7 382.6a1.8 1.8 0 1 0 3.5 0a1.8 1.8 0 1 0 -3.5 0M90.5 386.2a1.5 1.5 0 1 0 3.1 0a1.5 1.5 0 1 0 -3.1 0M152.1 381.9a1.9 1.9 0 1 0 3.8 0a1.9 1.9 0 1 0 -3.8 0M68.5 323.5a1.3 1.3 0 1 0 2.6 0a1.3 1.3 0 1 0 -2.6 0M124.2 353.1a1.3 1.3 0 1 0 2.6 0a1.3 1.3 0 1 0 -2.6 0" fill="none" stroke="rgb(155,155,155)" stroke-width="0.55"/>
<path d="M55.0 344.3a3.9 3.9 0 1 0 7.9 0a3.9 3.9 0 1 0 -7.9 0M46.8 315.4a1.9 1.9 0 1 0 3.7 0a1.9 1.9 0 1 0 -3.7 0M199.9 374.6a1.5 1.5 0 1 0 3.1 0a1.5 1.5 0 1 0 -3.1 0M73.3 361.0a2.2 2.2 0 1 0 4.3 0a2.2 2.2 0 1 0 -4.3 0M39.6 323.0a3.3 3.3 0 1 0 6.6 0a3.3 3.3 0 1 0 -6.6 0M118.1 313.3a3.1 3.1 0 1 0 6.1 0a3.1 3.1 0 1 0 -6.1 0M88.9 366.6a1.9 1.9 0 1 0 3.9 0a1.9 1.9 0 1 0 -3.9 0M36.9 336.9a1.8 1.8 0 1 0 3.6 0a1.8 1.8 0 1 0 -3.6 0M114.9 331.7a2.3 2.3 0 1 0 4.6 0a2.3 2.3 0 1 0 -4.6 0M26.0 368.5a2.5 2.5 0 1 0 5.1 0a2.5 2.5 0 1 0 -5.1 0M207.3 373.5a1.9 1.9 0 1 0 3.7 0a1.9 1.9 0 1 0 -3.7 0M53.8 319.1a2.4 2.4 0 1 0 4.8 0a2.4 2.4 0 1 0 -4.8 0M126.8 353.8a3.2 3.2 0 1 0 6.5 0a3.2 3.2 0 1 0 -6.5 0M47.7 377.6a1.5 1.5 0 1 0 3.0 0a1.5 1.5 0 1 0 -3.0 0M41.1 287.7a1.5 1.5 0 1 0 3.1 0a1.5 1.5 0 1 0 -3.1 0M200.9 315.5a2.9 2.9 0 1 0 5.7 0a2.9 2.9 0 1 0 -5.7 0M77.5 356.5a1.8 1.8 0 1 0 3.5 0a1.8 1.8 0 1 0 -3.5 0M46.2 349.8a2.4 2.4 0 1 0 4.8 0a2.4 2.4 0 1 0 -4.8 0M57.1 366.3a2.8 2.8 0 1 0 5.6 0a2.8 2.8 0 1 0 -5.6 0M223.5 330.2a2.5 2.5 0 1 0 5.0 0a2.5 2.5 0 1 0 -5.0 0M61.4 375.7a1.5 1.5 0 1 0 3.0 0a1.5 1.5 0 1 0 -3.0 0M195.5 385.5a4.8 4.8 0 1 0 9.6 0a4.8 4.8 0 1 0 -9.6 0M86.9 355.7a1.3 1.3 0 1 0 2.6 0a1.3 1.3 0 1 0 -2.6 0M96.8 308.6a2.5 2.5 0 1 0 5.0 0a2.5 2.5 0 1 0 -5.0 0M68.4 300.5a2.5 2.5 0 1 0 5.1 0a2.5 2.5 0 1 0 -5.1 0M155.5 371.1a4.7 4.7 0 1 0 9.4 0a4.7 4.7 0 1 0 -9.4 0M132.8 354.1a4.3 4.3 0 1 0 8.5 0a4.3 4.3 0 1 0 -8.5 0M137.1 328.4a1.5 1.5 0 1 0 3.1 0a1.5 1.5 0 1 0 -3.1 0M92.8 388.6a2.3 2.3 0 1 0 4.5 0a2.3 2.3 0 1 0 -4.5 0M96.6 302.7a2.9 2.9 0 1 0 5.7 0a2.9 2.9 0 1 0 -5.7 0M70.0 339.7a2.1 2.1 0 1 0 4.3 0a2.1 2.1 0 1 0 -4.3 0M165.3 346.1a3.2 3.2 0 1 0 6.3 0a3.2 3.2 0 1 0 -6.3 0M44.8 291.6a2.2 2.2 0 1 0 4.4 0a2.2 2.2 0 1 0 -4.4 0M128.3 315.1a2.6 2.6 0 1 0 5.1 0a2.6 2.6 0 1 0 -5.1 0M178.9 324.7a3.4 3.4 0 1 0 6.8 0a3.4 3.4 0 1 0 -6.8 0M219.7 387.6a3.4 3.4 0 1 0 6.9 0a3.4 3.4 0 1 0 -6.9 0M35.2 332.0a2.4 2.4 0 1 0 4.7 0a2.4 2.4 0 1 0 -4.7 0M222.3 359.1a2.4 2.4 0 1 0 4.8 0a2.4 2.4 0 1 0 -4.8 0M63.8 363.7a2.2 2.2 0 1 0 4.5 0a2.2 2.2 0 1 0 -4.5 0M36.3 372.6a2.0 2.0 0 1 0 4.1 0a2.0 2.0 0 1 0 -4.1 0M144.1 294.3a2.2 2.2 0 1 0 4.4 0a2.2 2.2 0 1 0 -4.4 0M150.0 285.7a1.3 1.3 0 1 0 2.6 0a1.3 1.3 0 1 0 -2.6 0M60.8 306.6a2.1 2.1 0 1 0 4.1 0a2.1 2.1 0 1 0 -4.1 0M126.8 372.9a2.1 2.1 0 1 0 4.1 0a2.1 2.1 0 1 0 -4.1 0M23.3 317.1a3.4 3.4 0 1 0 6.9 0a3.4 3.4 0 1 0 -6.9 0M25.6 307.6a2.3 2.3 0 1 0 4.6 0a2.3 2.3 0 1 0 -4.6 0M77.5 362.7a1.4 1.4 0 1 0 2.7 0a1.4 1.4 0 1 0 -2.7 0M118.0 352.3a2.3 2.3 0 1 0 4.5 0a2.3 2.3 0 1 0 -4.5 0M84.7 389.5a3.6 3.6 0 1 0 7.3 0a3.6 3.6 0 1 0 -7.3 0M56.0 295.5a1.3 1.3 0 1 0 2.6 0a1.3 1.3 0 1 0 -2.6 0M208.8 381.6a3.1 3.1 0 1 0 6.1 0a3.1 3.1 0 1 0 -6.1 0M217.3 355.6a2.0 2.0 0 1 0 4.0 0a2.0 2.0 0 1 0 -4.0 0M125.9 319.8a2.0 2.0 0 1 0 4.0 0a2.0 2.0 0 1 0 -4.0 0M46.8 296.5a2.2 2.2 0 1 0 4.3 0a2.2 2.2 0 1 0 -4.3 0M61.6 379.1a1.5 1.5 0 1 0 3.0 0a1.5 1.5 0 1 0 -3.0 0M179.8 356.3a1.7 1.7 0 1 0 3.4 0a1.7 1.7 0 1 0 -3.4 0M147.7 305.6a2.9 2.9 0 1 0 5.7 0a2.9 2.9 0 1 0 -5.7 0M45.8 330.4a2.6 2.6 0 1 0 5.2 0a2.6 2.6 0 1 0 -5.2 0M201.0 326.7a1.4 1.4 0 1 0 2.8 0a1.4 1.4 0 1 0 -2.8 0M52.5 372.4a2.2 2.2 0 1 0 4.4 0a2.2 2.2 0 1 0 -4.4 0M27.9 352.8a1.4 1.4 0 1 0 2.8 0a1.4 1.4 0 1 0 -2.8 0M62.1 332.0a1.7 1.7 0 1 0 3.4 0a1.7 1.7 0 1 0 -3.4 0M189.5 378.4a1.8 1.8 0 1 0 3.7 0a1.8 1.8 0 1 0 -3.7 0M215.1 294.3a2.8 2.8 0 1 0 5.6 0a2.8 2.8 0 1 0 -5.6 0M136.8 381.7a1.9 1.9 0 1 0 3.7 0a1.9 1.9 0 1 0 -3.7 0M160.5 381.3a2.3 2.3 0 1 0 4.6 0a2.3 2.3 0 1 0 -4.6 0M121.1 376.2a3.2 3.2 0 1 0 6.4 0a3.2 3.2 0 1 0 -6.4 0M31.6 326.7a1.7 1.7 0 1 0 3.5 0a1.7 1.7 0 1 0 -3.5 0M63.9 388.4a1.5 1.5 0 1 0 3.1 0a1.5 1.5 0 1 0 -3.1 0M223.6 321.4a1.6 1.6 0 1 0 3.3 0a1.6 1.6 0 1 0 -3.3 0M141.4 356.0a1.9 1.9 0 1 0 3.8 0a1.9 1.9 0 1 0 -3.8 0M21.5 347.6a1.9 1.9 0 1 0 3.7 0a1.9 1.9 0 1 0 -3.7 0M131.8 335.3a1.7 1.7 0 1 0 3.4 0a1.7 1.7 0 1 0 -3.4 0M198.6 311.7a1.5 1.5 0 1 0 2.9 0a1.5 1.5 0 1 0 -2.9 0M73.6 366.2a1.9 1.9 0 1 0 3.7 0a1.9 1.9 0 1 0 -3.7 0M155.8 294.1a2.2 2.2 0 1 0 4.4 0a2.2 2.2 0 1 0 -4.4 0M197.6 334.4a1.7 1.7 0 1 0 3.4 0a1.7 1.7 0 1 0 -3.4 0M149.2 292.9a1.7 1.7 0 1 0 3.5 0a1.7 1.7 0 1 0 -3.5 0M53.2 323.4a1.6 1.6 0 1 0 3.2 0a1.6 1.6 0 1 0 -3.2 0M122.5 347.8a1.3 1.3 0 1 0 2.6 0a1.3 1.3 0 1 0 -2.6 0" fill="none" stroke="rgb(85,85,85)" stroke-width="0.75"/>
<path d="M223.8 348.9a1.3 1.3 0 1 0 2.6 0a1.3 1.3 0 1 0 -2.6 0M42.7 369.3a4.4 4.4 0 1 0 8.8 0a4.4 4.4 0 1 0 -8.8 0M206.0 369.0a1.8 1.8 0 1 0 3.7 0a1.8 1.8 0 1 0 -3.7 0M178.0 308.6a5.5 5.5 0 1 0 11.1 0a5.5 5.5 0 1 0 -11.1 0M67.6 387.8a3.1 3.1 0 1 0 6.2 0a3.1 3.1 0 1 0 -6.2 0M100.7 350.3a2.3 2.3 0 1 0 4.7 0a2.3 2.3 0 1 0 -4.7 0M175.1 379.6a1.5 1.5 0 1 0 3.0 0a1.5 1.5 0 1 0 -3.0 0M39.8 374.0a2.9 2.9 0 1 0 5.8 0a2.9 2.9 0 1 0 -5.8 0M126.3 334.3a3.0 3.0 0 1 0 6.0 0a3.0 3.0 0 1 0 -6.0 0M99.4 366.4a2.2 2.2 0 1 0 4.5 0a2.2 2.2 0 1 0 -4.5 0M143.8 309.2a1.3 1.3 0 1 0 2.6 0a1.3 1.3 0 1 0 -2.6 0M211.2 341.7a3.9 3.9 0 1 0 7.7 0a3.9 3.9 0 1 0 -7.7 0M129.7 303.9a2.8 2.8 0 1 0 5.6 0a2.8 2.8 0 1 0 -5.6 0M144.3 360.4a3.4 3.4 0 1 0 6.8 0a3.4 3.4 0 1 0 -6.8 0M216.6 286.7a3.3 3.3 0 1 0 6.7 0a3.3 3.3 0 1 0 -6.7 0M52.0 378.1a1.6 1.6 0 1 0 3.2 0a1.6 1.6 0 1 0 -3.2 0M169.2 310.7a3.3 3.3 0 1 0 6.6 0a3.3 3.3 0 1 0 -6.6 0M78.5 369.0a1.8 1.8 0 1 0 3.6 0a1.8 1.8 0 1 0 -3.6 0M138.6 289.9a3.0 3.0 0 1 0 5.9 0a3.0 3.0 0 1 0 -5.9 0M167.2 290.2a5.0 5.0 0 1 0 10.1 0a5.0 5.0 0 1 0 -10.1 0M217.1 389.0a1.7 1.7 0 1 0 3.4 0a1.7 1.7 0 1 0 -3.4 0M94.9 359.7a3.8 3.8 0 1 0 7.5 0a3.8 3.8 0 1 0 -7.5 0M170.7 349.5a3.4 3.4 0 1 0 6.9 0a3.4 3.4 0 1 0 -6.9 0M88.0 298.7a2.3 2.3 0 1 0 4.6 0a2.3 2.3 0 1 0 -4.6 0M171.0 321.3a1.9 1.9 0 1 0 3.7 0a1.9 1.9 0 1 0 -3.7 0M99.4 322.1a1.9 1.9 0 1 0 3.9 0a1.9 1.9 0 1 0 -3.9 0M142.6 383.7a2.4 2.4 0 1 0 4.9 0a2.4 2.4 0 1 0 -4.9 0M208.0 361.3a2.5 2.5 0 1 0 5.1 0a2.5 2.5 0 1 0 -5.1 0M208.4 333.5a1.8 1.8 0 1 0 3.7 0a1.8 1.8 0 1 0 -3.7 0M111.9 388.2a3.0 3.0 0 1 0 6.0 0a3.0 3.0 0 1 0 -6.0 0M94.9 295.6a1.3 1.3 0 1 0 2.6 0a1.3 1.3 0 1 0 -2.6 0M43.4 355.7a2.0 2.0 0 1 0 3.9 0a2.0 2.0 0 1 0 -3.9 0M166.2 385.9a2.2 2.2 0 1 0 4.4 0a2.2 2.2 0 1 0 -4.4 0M116.6 308.8a2.3 2.3 0 1 0 4.6 0a2.3 2.3 0 1 0 -4.6 0M142.6 341.7a1.4 1.4 0 1 0 2.8 0a1.4 1.4 0 1 0 -2.8 0M191.7 310.3a2.1 2.1 0 1 0 4.1 0a2.1 2.1 0 1 0 -4.1 0M189.2 297.4a4.0 4.0 0 1 0 8.0 0a4.0 4.0 0 1 0 -8.0 0M177.9 371.9a2.7 2.7 0 1 0 5.4 0a2.7 2.7 0 1 0 -5.4 0M46.5 321.3a1.3 1.3 0 1 0 2.7 0a1.3 1.3 0 1 0 -2.7 0M28.9 311.2a3.5 3.5 0 1 0 7.0 0a3.5 3.5 0 1 0 -7.0 0M220.7 295.4a3.8 3.8 0 1 0 7.5 0a3.8 3.8 0 1 0 -7.5 0M145.1 331.4a2.4 2.4 0 1 0 4.9 0a2.4 2.4 0 1 0 -4.9 0M75.6 289.7a3.0 3.0 0 1 0 6.0 0a3.0 3.0 0 1 0 -6.0 0M87.2 359.1a1.9 1.9 0 1 0 3.8 0a1.9 1.9 0 1 0 -3.8 0M163.7 291.5a1.5 1.5 0 1 0 3.0 0a1.5 1.5 0 1 0 -3.0 0M171.0 329.4a1.4 1.4 0 1 0 2.8 0a1.4 1.4 0 1 0 -2.8 0M55.5 379.0a2.7 2.7 0 1 0 5.5 0a2.7 2.7 0 1 0 -5.5 0M207.6 297.5a1.4 1.4 0 1 0 2.7 0a1.4 1.4 0 1 0 -2.7 0M186.6 299.7a1.4 1.4 0 1 0 2.7 0a1.4 1.4 0 1 0 -2.7 0M38.6 350.2a2.6 2.6 0 1 0 5.2 0a2.6 2.6 0 1 0 -5.2 0M73.4 336.6a1.9 1.9 0 1 0 3.9 0a1.9 1.9 0 1 0 -3.9 0M74.0 389.0a1.7 1.7 0 1 0 3.4 0a1.7 1.7 0 1 0 -3.4 0M224.9 383.5a2.7 2.7 0 1 0 5.4 0a2.7 2.7 0 1 0 -5.4 0M67.2 291.6a1.3 1.3 0 1 0 2.6 0a1.3 1.3 0 1 0 -2.6 0M166.5 351.6a2.4 2.4 0 1 0 4.7 0a2.4 2.4 0 1 0 -4.7 0M22.1 381.3a1.9 1.9 0 1 0 3.8 0a1.9 1.9 0 1 0 -3.8 0M165.4 300.9a1.9 1.9 0 1 0 3.8 0a1.9 1.9 0 1 0 -3.8 0M200.9 289.0a1.3 1.3 0 1 0 2.6 0a1.3 1.3 0 1 0 -2.6 0M39.5 300.0a2.8 2.8 0 1 0 5.6 0a2.8 2.8 0 1 0 -5.6 0M104.2 358.9a1.3 1.3 0 1 0 2.6 0a1.3 1.3 0 1 0 -2.6 0M179.7 351.9a2.3 2.3 0 1 0 4.5 0a2.3 2.3 0 1 0 -4.5 0M72.4 317.0a2.0 2.0 0 1 0 3.9 0a2.0 2.0 0 1 0 -3.9 0M102.3 332.1a1.3 1.3 0 1 0 2.6 0a1.3 1.3 0 1 0 -2.6 0" fill="none" stroke="rgb(190,190,190)" stroke-width="0.55"/>
<path d="M223.9 305.0a2.4 2.4 0 1 0 4.9 0a2.4 2.4 0 1 0 -4.9 0M200.3 379.2a3.2 3.2 0 1 0 6.5 0a3.2 3.2 0 1 0 -6.5 0M168.1 335.8a4.0 4.0 0 1 0 8.0 0a4.0 4.0 0 1 0 -8.0 0M61.7 346.6a4.1 4.1 0 1 0 8.2 0a4.1 4.1 0 1 0 -8.2 0M89.7 289.2a3.1 3.1 0 1 0 6.2 0a3.1 3.1 0 1 0 -6.2 0M141.5 366.1a2.6 2.6 0 1 0 5.2 0a2.6 2.6 0 1 0 -5.2 0M54.3 298.6a2.4 2.4 0 1 0 4.8 0a2.4 2.4 0 1 0 -4.8 0M127.5 293.8a2.6 2.6 0 1 0 5.2 0a2.6 2.6 0 1 0 -5.2 0M90.1 322.7a2.9 2.9 0 1 0 5.8 0a2.9 2.9 0 1 0 -5.8 0M30.4 368.5a4.2 4.2 0 1 0 8.4 0a4.2 4.2 0 1 0 -8.4 0M211.5 300.2a2.0 2.0 0 1 0 4.1 0a2.0 2.0 0 1 0 -4.1 0M225.0 318.7a1.3 1.3 0 1 0 2.6 0a1.3 1.3 0 1 0 -2.6 0M91.0 383.7a1.4 1.4 0 1 0 2.7 0a1.4 1.4 0 1 0 -2.7 0M205.9 327.7a2.7 2.7 0 1 0 5.5 0a2.7 2.7 0 1 0 -5.5 0M60.9 326.6a4.6 4.6 0 1 0 9.1 0a4.6 4.6 0 1 0 -9.1 0M150.8 313.4a5.2 5.2 0 1 0 10.4 0a5.2 5.2 0 1 0 -10.4 0M144.6 339.6a1.7 1.7 0 1 0 3.3 0a1.7 1.7 0 1 0 -3.3 0M164.1 368.8a2.2 2.2 0 1 0 4.3 0a2.2 2.2 0 1 0 -4.3 0M166.9 327.5a1.5 1.5 0 1 0 3.0 0a1.5 1.5 0 1 0 -3.0 0M108.6 358.1a1.3 1.3 0 1 0 2.6 0a1.3 1.3 0 1 0 -2.6 0M62.8 354.1a3.3 3.3 0 1 0 6.6 0a3.3 3.3 0 1 0 -6.6 0M133.8 308.1a1.3 1.3 0 1 0 2.6 0a1.3 1.3 0 1 0 -2.6 0M115.5 323.7a1.9 1.9 0 1 0 3.8 0a1.9 1.9 0 1 0 -3.8 0M114.4 313.0a1.5 1.5 0 1 0 3.0 0a1.5 1.5 0 1 0 -3.0 0M51.1 303.4a3.0 3.0 0 1 0 6.0 0a3.0 3.0 0 1 0 -6.0 0M150.9 350.5a3.5 3.5 0 1 0 7.0 0a3.5 3.5 0 1 0 -7.0 0M194.5 365.4a1.3 1.3 0 1 0 2.6 0a1.3 1.3 0 1 0 -2.6 0M81.6 354.3a2.9 2.9 0 1 0 5.8 0a2.9 2.9 0 1 0 -5.8 0M42.7 346.8a2.1 2.1 0 1 0 4.1 0a2.1 2.1 0 1 0 -4.1 0M33.4 354.6a1.8 1.8 0 1 0 3.5 0a1.8 1.8 0 1 0 -3.5 0M134.4 360.6a2.6 2.6 0 1 0 5.2 0a2.6 2.6 0 1 0 -5.2 0M206.7 353.4a2.0 2.0 0 1 0 4.1 0a2.0 2.0 0 1 0 -4.1 0M103.4 301.9a3.7 3.7 0 1 0 7.3 0a3.7 3.7 0 1 0 -7.3 0M62.5 312.2a1.4 1.4 0 1 0 2.7 0a1.4 1.4 0 1 0 -2.7 0M139.3 388.1a2.0 2.0 0 1 0 4.1 0a2.0 2.0 0 1 0 -4.1 0M225.0 301.0a1.3 1.3 0 1 0 2.6 0a1.3 1.3 0 1 0 -2.6 0M211.5 367.8a1.3 1.3 0 1 0 2.6 0a1.3 1.3 0 1 0 -2.6 0M183.9 328.3a1.8 1.8 0 1 0 3.7 0a1.8 1.8 0 1 0 -3.7 0M119.9 356.3a1.5 1.5 0 1 0 2.9 0a1.5 1.5 0 1 0 -2.9 0M107.5 340.4a1.3 1.3 0 1 0 2.6 0a1.3 1.3 0 1 0 -2.6 0M90.2 332.9a1.6 1.6 0 1 0 3.2 0a1.6 1.6 0 1 0 -3.2 0M69.5 295.4a1.8 1.8 0 1 0 3.6 0a1.8 1.8 0 1 0 -3.6 0M182.1 316.0a2.0 2.0 0 1 0 3.9 0a2.0 2.0 0 1 0 -3.9 0M211.0 337.9a1.3 1.3 0 1 0 2.6 0a1.3 1.3 0 1 0 -2.6 0M138.0 333.4a2.8 2.8 0 1 0 5.7 0a2.8 2.8 0 1 0 -5.7 0M24.0 310.9a1.6 1.6 0 1 0 3.3 0a1.6 1.6 0 1 0 -3.3 0M185.6 295.5a2.1 2.1 0 1 0 4.1 0a2.1 2.1 0 1 0 -4.1 0M204.6 299.8a2.2 2.2 0 1 0 4.4 0a2.2 2.2 0 1 0 -4.4 0M91.0 309.6a1.8 1.8 0 1 0 3.7 0a1.8 1.8 0 1 0 -3.7 0M80.7 380.2a1.3 1.3 0 1 0 2.6 0a1.3 1.3 0 1 0 -2.6 0" fill="none" stroke="rgb(105,105,105)" stroke-width="0.75"/>
<path d="M212.6 335.2a2.5 2.5 0 1 0 5.0 0a2.5 2.5 0 1 0 -5.0 0M103.2 382.7a3.7 3.7 0 1 0 7.4 0a3.7 3.7 0 1 0 -7.4 0M106.7 346.2a4.1 4.1 0 1 0 8.2 0a4.1 4.1 0 1 0 -8.2 0M64.6 366.9a1.3 1.3 0 1 0 2.6 0a1.3 1.3 0 1 0 -2.6 0M162.7 297.4a2.3 2.3 0 1 0 4.7 0a2.3 2.3 0 1 0 -4.7 0M103.8 326.2a2.2 2.2 0 1 0 4.5 0a2.2 2.2 0 1 0 -4.5 0M207.1 304.6a2.6 2.6 0 1 0 5.2 0a2.6 2.6 0 1 0 -5.2 0M49.6 388.0a3.4 3.4 0 1 0 6.8 0a3.4 3.4 0 1 0 -6.8 0M65.3 376.8a3.0 3.0 0 1 0 5.9 0a3.0 3.0 0 1 0 -5.9 0M146.9 313.9a1.6 1.6 0 1 0 3.1 0a1.6 1.6 0 1 0 -3.1 0M37.5 355.7a1.7 1.7 0 1 0 3.5 0a1.7 1.7 0 1 0 -3.5 0M101.5 346.0a2.8 2.8 0 1 0 5.7 0a2.8 2.8 0 1 0 -5.7 0M140.6 298.7a2.2 2.2 0 1 0 4.4 0a2.2 2.2 0 1 0 -4.4 0M185.9 320.4a5.3 5.3 0 1 0 10.6 0a5.3 5.3 0 1 0 -10.6 0M197.1 362.9a2.7 2.7 0 1 0 5.4 0a2.7 2.7 0 1 0 -5.4 0M28.0 321.5a3.9 3.9 0 1 0 7.8 0a3.9 3.9 0 1 0 -7.8 0M121.0 361.1a4.5 4.5 0 1 0 9.1 0a4.5 4.5 0 1 0 -9.1 0M24.9 326.7a3.2 3.2 0 1 0 6.4 0a3.2 3.2 0 1 0 -6.4 0M118.5 331.1a4.2 4.2 0 1 0 8.4 0a4.2 4.2 0 1 0 -8.4 0M131.8 288.2a2.7 2.7 0 1 0 5.4 0a2.7 2.7 0 1 0 -5.4 0M162.5 376.1a5.7 5.7 0 1 0 11.5 0a5.7 5.7 0 1 0 -11.5 0M27.9 298.5a1.3 1.3 0 1 0 2.6 0a1.3 1.3 0 1 0 -2.6 0M150.9 340.7a2.1 2.1 0 1 0 4.2 0a2.1 2.1 0 1 0 -4.2 0M122.5 307.7a3.0 3.0 0 1 0 6.0 0a3.0 3.0 0 1 0 -6.0 0M40.6 340.9a1.4 1.4 0 1 0 2.8 0a1.4 1.4 0 1 0 -2.8 0M188.1 388.7a3.1 3.1 0 1 0 6.1 0a3.1 3.1 0 1 0 -6.1 0M71.5 383.1a4.0 4.0 0 1 0 7.9 0a4.0 4.0 0 1 0 -7.9 0M196.6 347.5a2.1 2.1 0 1 0 4.2 0a2.1 2.1 0 1 0 -4.2 0M26.9 381.9a3.0 3.0 0 1 0 6.0 0a3.0 3.0 0 1 0 -6.0 0M193.4 387.4a1.6 1.6 0 1 0 3.2 0a1.6 1.6 0 1 0 -3.2 0M152.7 362.0a1.3 1.3 0 1 0 2.6 0a1.3 1.3 0 1 0 -2.6 0M173.9 306.0a2.0 2.0 0 1 0 4.1 0a2.0 2.0 0 1 0 -4.1 0M160.1 327.7a3.5 3.5 0 1 0 7.1 0a3.5 3.5 0 1 0 -7.1 0M153.8 365.6a2.2 2.2 0 1 0 4.4 0a2.2 2.2 0 1 0 -4.4 0M104.7 388.7a1.3 1.3 0 1 0 2.6 0a1.3 1.3 0 1 0 -2.6 0M73.8 378.0a1.3 1.3 0 1 0 2.6 0a1.3 1.3 0 1 0 -2.6 0M198.5 309.0a1.6 1.6 0 1 0 3.3 0a1.6 1.6 0 1 0 -3.3 0M184.0 350.9a2.0 2.0 0 1 0 4.0 0a2.0 2.0 0 1 0 -4.0 0M157.6 330.4a1.4 1.4 0 1 0 2.9 0a1.4 1.4 0 1 0 -2.9 0M40.5 344.4a1.3 1.3 0 1 0 2.6 0a1.3 1.3 0 1 0 -2.6 0M35.2 326.7a1.5 1.5 0 1 0 3.1 0a1.5 1.5 0 1 0 -3.1 0M91.8 346.3a1.3 1.3 0 1 0 2.6 0a1.3 1.3 0 1 0 -2.6 0M166.2 319.6a1.8 1.8 0 1 0 3.7 0a1.8 1.8 0 1 0 -3.7 0M142.5 315.7a2.7 2.7 0 1 0 5.5 0a2.7 2.7 0 1 0 -5.5 0M153.3 385.2a2.7 2.7 0 1 0 5.4 0a2.7 2.7 0 1 0 -5.4 0M144.7 290.0a2.5 2.5 0 1 0 5.0 0a2.5 2.5 0 1 0 -5.0 0M129.0 297.4a1.5 1.5 0 1 0 3.1 0a1.5 1.5 0 1 0 -3.1 0M119.5 384.0a2.1 2.1 0 1 0 4.3 0a2.1 2.1 0 1 0 -4.3 0M87.2 376.6a1.6 1.6 0 1 0 3.1 0a1.6 1.6 0 1 0 -3.1 0M223.5 310.9a3.1 3.1 0 1 0 6.2 0a3.1 3.1 0 1 0 -6.2 0M111.5 309.5a2.5 2.5 0 1 0 5.0 0a2.5 2.5 0 1 0 -5.0 0M146.8 299.4a1.5 1.5 0 1 0 2.9 0a1.5 1.5 0 1 0 -2.9 0M96.0 340.9a1.3 1.3 0 1 0 2.6 0a1.3 1.3 0 1 0 -2.6 0M156.4 361.1a1.6 1.6 0 1 0 3.3 0a1.6 1.6 0 1 0 -3.3 0M125.9 328.3a1.8 1.8 0 1 0 3.7 0a1.8 1.8 0 1 0 -3.7 0M209.8 321.3a1.3 1.3 0 1 0 2.6 0a1.3 1.3 0 1 0 -2.6 0M115.4 292.0a1.3 1.3 0 1 0 2.6 0a1.3 1.3 0 1 0 -2.6 0M213.5 373.4a1.3 1.3 0 1 0 2.6 0a1.3 1.3 0 1 0 -2.6 0M142.9 327.6a1.9 1.9 0 1 0 3.7 0a1.9 1.9 0 1 0 -3.7 0M153.7 320.4a2.6 2.6 0 1 0 5.3 0a2.6 2.6 0 1 0 -5.3 0M187.3 336.0a2.3 2.3 0 1 0 4.5 0a2.3 2.3 0 1 0 -4.5 0M125.8 302.2a2.1 2.1 0 1 0 4.1 0a2.1 2.1 0 1 0 -4.1 0M146.5 364.9a1.9 1.9 0 1 0 3.8 0a1.9 1.9 0 1 0 -3.8 0M82.5 322.3a1.3 1.3 0 1 0 2.6 0a1.3 1.3 0 1 0 -2.6 0M151.2 388.9a1.4 1.4 0 1 0 2.8 0a1.4 1.4 0 1 0 -2.8 0M199.9 318.3a1.3 1.3 0 1 0 2.6 0a1.3 1.3 0 1 0 -2.6 0M226.5 375.3a1.3 1.3 0 1 0 2.6 0a1.3 1.3 0 1 0 -2.6 0" fill="none" stroke="rgb(130,130,130)" stroke-width="0.55"/>
<path d="M174.7 298.4a6.2 6.2 0 1 0 12.4 0a6.2 6.2 0 1 0 -12.4 0M157.2 389.0a5.3 5.3 0 1 0 10.6 0a5.3 5.3 0 1 0 -10.6 0M133.1 317.0a4.9 4.9 0 1 0 9.8 0a4.9 4.9 0 1 0 -9.8 0M47.5 326.0a2.7 2.7 0 1 0 5.4 0a2.7 2.7 0 1 0 -5.4 0M42.6 336.6a4.2 4.2 0 1 0 8.5 0a4.2 4.2 0 1 0 -8.5 0M117.1 367.0a2.1 2.1 0 1 0 4.2 0a2.1 2.1 0 1 0 -4.2 0M192.1 337.7a3.3 3.3 0 1 0 6.6 0a3.3 3.3 0 1 0 -6.6 0M38.6 294.4a3.0 3.0 0 1 0 6.1 0a3.0 3.0 0 1 0 -6.1 0M98.6 377.8a1.7 1.7 0 1 0 3.4 0a1.7 1.7 0 1 0 -3.4 0M224.9 324.1a1.9 1.9 0 1 0 3.8 0a1.9 1.9 0 1 0 -3.8 0M80.4 287.6a4.7 4.7 0 1 0 9.4 0a4.7 4.7 0 1 0 -9.4 0M57.3 310.4a1.6 1.6 0 1 0 3.1 0a1.6 1.6 0 1 0 -3.1 0M140.3 338.3a2.4 2.4 0 1 0 4.7 0a2.4 2.4 0 1 0 -4.7 0M110.2 286.2a2.7 2.7 0 1 0 5.5 0a2.7 2.7 0 1 0 -5.5 0M19.8 367.3a2.2 2.2 0 1 0 4.4 0a2.2 2.2 0 1 0 -4.4 0M83.2 311.8a2.6 2.6 0 1 0 5.1 0a2.6 2.6 0 1 0 -5.1 0M81.1 377.9a1.3 1.3 0 1 0 2.6 0a1.3 1.3 0 1 0 -2.6 0M129.3 308.6a1.7 1.7 0 1 0 3.5 0a1.7 1.7 0 1 0 -3.5 0M119.2 370.2a2.0 2.0 0 1 0 4.0 0a2.0 2.0 0 1 0 -4.0 0M183.8 355.7a2.0 2.0 0 1 0 4.0 0a2.0 2.0 0 1 0 -4.0 0M146.4 327.0a2.3 2.3 0 1 0 4.5 0a2.3 2.3 0 1 0 -4.5 0M28.9 285.9a1.9 1.9 0 1 0 3.8 0a1.9 1.9 0 1 0 -3.8 0M90.5 371.9a2.0 2.0 0 1 0 3.9 0a2.0 2.0 0 1 0 -3.9 0M208.1 386.0a1.6 1.6 0 1 0 3.2 0a1.6 1.6 0 1 0 -3.2 0M194.1 325.1a3.7 3.7 0 1 0 7.3 0a3.7 3.7 0 1 0 -7.3 0M97.9 340.0a3.2 3.2 0 1 0 6.5 0a3.2 3.2 0 1 0 -6.5 0M48.5 375.1a1.6 1.6 0 1 0 3.1 0a1.6 1.6 0 1 0 -3.1 0M197.3 296.5a2.8 2.8 0 1 0 5.6 0a2.8 2.8 0 1 0 -5.6 0M149.8 299.2a1.6 1.6 0 1 0 3.1 0a1.6 1.6 0 1 0 -3.1 0M155.4 344.4a2.0 2.0 0 1 0 4.1 0a2.0 2.0 0 1 0 -4.1 0M211.9 323.8a1.9 1.9 0 1 0 3.8 0a1.9 1.9 0 1 0 -3.8 0M35.3 285.3a2.4 2.4 0 1 0 4.8 0a2.4 2.4 0 1 0 -4.8 0M116.3 374.8a2.8 2.8 0 1 0 5.6 0a2.8 2.8 0 1 0 -5.6 0M195.4 308.3a1.3 1.3 0 1 0 2.6 0a1.3 1.3 0 1 0 -2.6 0M136.2 334.8a1.3 1.3 0 1 0 2.6 0a1.3 1.3 0 1 0 -2.6 0M159.9 294.5a1.9 1.9 0 1 0 3.8 0a1.9 1.9 0 1 0 -3.8 0M159.5 353.6a2.0 2.0 0 1 0 4.0 0a2.0 2.0 0 1 0 -4.0 0M214.3 318.8a1.6 1.6 0 1 0 3.2 0a1.6 1.6 0 1 0 -3.2 0M201.3 308.7a3.3 3.3 0 1 0 6.6 0a3.3 3.3 0 1 0 -6.6 0M222.9 372.7a2.3 2.3 0 1 0 4.6 0a2.3 2.3 0 1 0 -4.6 0M160.3 285.5a1.4 1.4 0 1 0 2.7 0a1.4 1.4 0 1 0 -2.7 0M216.6 322.4a1.5 1.5 0 1 0 3.1 0a1.5 1.5 0 1 0 -3.1 0M219.6 383.5a1.4 1.4 0 1 0 2.9 0a1.4 1.4 0 1 0 -2.9 0M204.4 384.8a1.8 1.8 0 1 0 3.6 0a1.8 1.8 0 1 0 -3.6 0M118.9 324.4a2.0 2.0 0 1 0 4.0 0a2.0 2.0 0 1 0 -4.0 0M109.8 339.2a1.9 1.9 0 1 0 3.8 0a1.9 1.9 0 1 0 -3.8 0M171.3 343.1a3.1 3.1 0 1 0 6.2 0a3.1 3.1 0 1 0 -6.2 0M103.8 285.4a1.9 1.9 0 1 0 3.8 0a1.9 1.9 0 1 0 -3.8 0M101.3 318.5a1.3 1.3 0 1 0 2.6 0a1.3 1.3 0 1 0 -2.6 0M186.0 379.5a2.0 2.0 0 1 0 4.0 0a2.0 2.0 0 1 0 -4.0 0M138.6 305.6a2.3 2.3 0 1 0 4.6 0a2.3 2.3 0 1 0 -4.6 0M94.0 346.1a3.7 3.7 0 1 0 7.5 0a3.7 3.7 0 1 0 -7.5 0M197.6 288.3a1.4 1.4 0 1 0 2.8 0a1.4 1.4 0 1 0 -2.8 0M21.4 310.2a1.4 1.4 0 1 0 2.8 0a1.4 1.4 0 1 0 -2.8 0M49.6 347.6a2.2 2.2 0 1 0 4.4 0a2.2 2.2 0 1 0 -4.4 0M199.0 339.2a1.9 1.9 0 1 0 3.7 0a1.9 1.9 0 1 0 -3.7 0M185.2 313.8a1.9 1.9 0 1 0 3.7 0a1.9 1.9 0 1 0 -3.7 0" fill="none" stroke="rgb(105,105,105)" stroke-width="0.55"/>
<path d="M129.5 377.9a4.3 4.3 0 1 0 8.7 0a4.3 4.3 0 1 0 -8.7 0M129.5 325.0a3.7 3.7 0 1 0 7.5 0a3.7 3.7 0 1 0 -7.5 0M125.2 297.7a1.8 1.8 0 1 0 3.6 0a1.8 1.8 0 1 0 -3.6 0M117.5 342.0a1.8 1.8 0 1 0 3.7 0a1.8 1.8 0 1 0 -3.7 0M88.3 353.2a2.6 2.6 0 1 0 5.1 0a2.6 2.6 0 1 0 -5.1 0M211.2 385.6a1.7 1.7 0 1 0 3.4 0a1.7 1.7 0 1 0 -3.4 0M185.9 366.2a3.1 3.1 0 1 0 6.2 0a3.1 3.1 0 1 0 -6.2 0M113.9 301.1a4.9 4.9 0 1 0 9.7 0a4.9 4.9 0 1 0 -9.7 0M122.2 318.0a2.4 2.4 0 1 0 4.7 0a2.4 2.4 0 1 0 -4.7 0M137.2 366.3a2.2 2.2 0 1 0 4.5 0a2.2 2.2 0 1 0 -4.5 0M150.5 376.7a4.0 4.0 0 1 0 7.9 0a4.0 4.0 0 1 0 -7.9 0M213.0 347.9a3.1 3.1 0 1 0 6.2 0a3.1 3.1 0 1 0 -6.2 0M79.8 330.3a2.1 2.1 0 1 0 4.2 0a2.1 2.1 0 1 0 -4.2 0M92.0 364.2a2.4 2.4 0 1 0 4.7 0a2.4 2.4 0 1 0 -4.7 0M127.4 288.7a1.9 1.9 0 1 0 3.8 0a1.9 1.9 0 1 0 -3.8 0M110.3 332.3a2.6 2.6 0 1 0 5.3 0a2.6 2.6 0 1 0 -5.3 0M57.6 303.9a1.8 1.8 0 1 0 3.6 0a1.8 1.8 0 1 0 -3.6 0M152.3 334.0a3.2 3.2 0 1 0 6.3 0a3.2 3.2 0 1 0 -6.3 0M93.2 330.3a2.1 2.1 0 1 0 4.3 0a2.1 2.1 0 1 0 -4.3 0M56.4 332.0a2.6 2.6 0 1 0 5.1 0a2.6 2.6 0 1 0 -5.1 0M156.4 301.8a4.4 4.4 0 1 0 8.8 0a4.4 4.4 0 1 0 -8.8 0M186.9 287.2a1.6 1.6 0 1 0 3.2 0a1.6 1.6 0 1 0 -3.2 0M138.8 342.4a1.4 1.4 0 1 0 2.8 0a1.4 1.4 0 1 0 -2.8 0M173.9 387.8a1.6 1.6 0 1 0 3.3 0a1.6 1.6 0 1 0 -3.3 0M73.7 293.4a2.2 2.2 0 1 0 4.4 0a2.2 2.2 0 1 0 -4.4 0M196.3 318.6a1.3 1.3 0 1 0 2.6 0a1.3 1.3 0 1 0 -2.6 0M91.7 359.0a1.3 1.3 0 1 0 2.6 0a1.3 1.3 0 1 0 -2.6 0M172.4 326.5a1.3 1.3 0 1 0 2.6 0a1.3 1.3 0 1 0 -2.6 0M129.9 337.7a1.5 1.5 0 1 0 2.9 0a1.5 1.5 0 1 0 -2.9 0M174.1 322.1a1.4 1.4 0 1 0 2.8 0a1.4 1.4 0 1 0 -2.8 0M45.2 386.0a1.3 1.3 0 1 0 2.6 0a1.3 1.3 0 1 0 -2.6 0M75.9 322.4a1.3 1.3 0 1 0 2.6 0a1.3 1.3 0 1 0 -2.6 0" fill="none" stroke="rgb(155,155,155)" stroke-width="0.75"/>
<path d="M206.2 347.1a3.0 3.0 0 1 0 6.1 0a3.0 3.0 0 1 0 -6.1 0M85.4 384.5a1.9 1.9 0 1 0 3.8 0a1.9 1.9 0 1 0 -3.8 0M187.5 302.9a1.3 1.3 0 1 0 2.6 0a1.3 1.3 0 1 0 -2.6 0M104.6 364.8a2.4 2.4 0 1 0 4.7 0a2.4 2.4 0 1 0 -4.7 0M43.6 363.4a2.0 2.0 0 1 0 4.0 0a2.0 2.0 0 1 0 -4.0 0M185.8 331.7a2.3 2.3 0 1 0 4.6 0a2.3 2.3 0 1 0 -4.6 0M132.9 363.6a1.8 1.8 0 1 0 3.6 0a1.8 1.8 0 1 0 -3.6 0M213.6 329.5a4.7 4.7 0 1 0 9.4 0a4.7 4.7 0 1 0 -9.4 0M136.0 310.0a2.8 2.8 0 1 0 5.7 0a2.8 2.8 0 1 0 -5.7 0M112.1 381.8a1.3 1.3 0 1 0 2.7 0a1.3 1.3 0 1 0 -2.7 0M121.9 340.6a1.3 1.3 0 1 0 2.6 0a1.3 1.3 0 1 0 -2.6 0M170.2 382.8a2.8 2.8 0 1 0 5.6 0a2.8 2.8 0 1 0 -5.6 0M23.8 369.8a1.4 1.4 0 1 0 2.8 0a1.4 1.4 0 1 0 -2.8 0M35.1 381.7a2.6 2.6 0 1 0 5.3 0a2.6 2.6 0 1 0 -5.3 0M130.2 319.5a2.0 2.0 0 1 0 4.0 0a2.0 2.0 0 1 0 -4.0 0M30.2 385.8a2.2 2.2 0 1 0 4.3 0a2.2 2.2 0 1 0 -4.3 0M72.3 310.4a2.0 2.0 0 1 0 3.9 0a2.0 2.0 0 1 0 -3.9 0M77.8 388.8a2.2 2.2 0 1 0 4.5 0a2.2 2.2 0 1 0 -4.5 0M140.9 378.2a1.5 1.5 0 1 0 3.1 0a1.5 1.5 0 1 0 -3.1 0M44.0 377.4a1.7 1.7 0 1 0 3.4 0a1.7 1.7 0 1 0 -3.4 0M140.4 381.7a1.3 1.3 0 1 0 2.6 0a1.3 1.3 0 1 0 -2.6 0M121.7 351.0a1.8 1.8 0 1 0 3.7 0a1.8 1.8 0 1 0 -3.7 0M190.5 340.3a1.6 1.6 0 1 0 3.1 0a1.6 1.6 0 1 0 -3.1 0M94.2 311.6a1.3 1.3 0 1 0 2.6 0a1.3 1.3 0 1 0 -2.6 0M116.0 285.7a2.0 2.0 0 1 0 4.1 0a2.0 2.0 0 1 0 -4.1 0M47.3 384.9a1.8 1.8 0 1 0 3.7 0a1.8 1.8 0 1 0 -3.7 0M149.7 332.5a1.7 1.7 0 1 0 3.4 0a1.7 1.7 0 1 0 -3.4 0M142.5 304.6a2.1 2.1 0 1 0 4.2 0a2.1 2.1 0 1 0 -4.2 0M172.9 360.6a1.6 1.6 0 1 0 3.3 0a1.6 1.6 0 1 0 -3.3 0M162.5 355.5a1.3 1.3 0 1 0 2.6 0a1.3 1.3 0 1 0 -2.6 0M117.3 356.9a1.3 1.3 0 1 0 2.6 0a1.3 1.3 0 1 0 -2.6 0M86.1 302.5a1.3 1.3 0 1 0 2.6 0a1.3 1.3 0 1 0 -2.6 0" fill="none" stroke="rgb(130,130,130)" stroke-width="0.75"/>
</g>
<g filter="url(#blur03)"><path d="M121.1 345.3a1.5 1.5 0 1 0 2.9 0a1.5 1.5 0 1 0 -2.9 0M23.6 389.0a2.9 2.9 0 1 0 5.9 0a2.9 2.9 0 1 0 -5.9 0M219.3 299.4a1.9 1.9 0 1 0 3.7 0a1.9 1.9 0 1 0 -3.7 0M188.8 371.9a3.5 3.5 0 1 0 6.9 0a3.5 3.5 0 1 0 -6.9 0M76.5 296.1a1.8 1.8 0 1 0 3.6 0a1.8 1.8 0 1 0 -3.6 0M160.7 317.8a2.7 2.7 0 1 0 5.3 0a2.7 2.7 0 1 0 -5.3 0M80.3 362.9a3.8 3.8 0 1 0 7.6 0a3.8 3.8 0 1 0 -7.6 0M93.2 318.8a1.6 1.6 0 1 0 3.1 0a1.6 1.6 0 1 0 -3.1 0M95.0 352.2a2.9 2.9 0 1 0 5.9 0a2.9 2.9 0 1 0 -5.9 0M108.7 363.7a3.3 3.3 0 1 0 6.5 0a3.3 3.3 0 1 0 -6.5 0M35.1 295.8a1.6 1.6 0 1 0 3.3 0a1.6 1.6 0 1 0 -3.3 0M181.8 320.6a1.2 1.2 0 1 0 2.3 0a1.2 1.2 0 1 0 -2.3 0M125.4 343.0a2.8 2.8 0 1 0 5.7 0a2.8 2.8 0 1 0 -5.7 0M30.7 303.6a2.5 2.5 0 1 0 5.0 0a2.5 2.5 0 1 0 -5.0 0M48.0 343.4a2.2 2.2 0 1 0 4.4 0a2.2 2.2 0 1 0 -4.4 0M212.9 376.9a1.2 1.2 0 1 0 2.4 0a1.2 1.2 0 1 0 -2.4 0M84.8 322.6a2.8 2.8 0 1 0 5.7 0a2.8 2.8 0 1 0 -5.7 0M104.7 296.2a1.7 1.7 0 1 0 3.5 0a1.7 1.7 0 1 0 -3.5 0M87.3 381.3a1.4 1.4 0 1 0 2.8 0a1.4 1.4 0 1 0 -2.8 0M79.7 306.1a2.1 2.1 0 1 0 4.3 0a2.1 2.1 0 1 0 -4.3 0M103.8 353.5a3.7 3.7 0 1 0 7.4 0a3.7 3.7 0 1 0 -7.4 0M173.7 316.8a3.1 3.1 0 1 0 6.2 0a3.1 3.1 0 1 0 -6.2 0M199.9 369.8a3.2 3.2 0 1 0 6.4 0a3.2 3.2 0 1 0 -6.4 0M189.3 349.5a2.2 2.2 0 1 0 4.4 0a2.2 2.2 0 1 0 -4.4 0M75.8 308.8a2.0 2.0 0 1 0 4.1 0a2.0 2.0 0 1 0 -4.1 0M111.3 324.2a1.6 1.6 0 1 0 3.3 0a1.6 1.6 0 1 0 -3.3 0M152.9 296.5a1.9 1.9 0 1 0 3.9 0a1.9 1.9 0 1 0 -3.9 0M97.1 332.4a2.3 2.3 0 1 0 4.7 0a2.3 2.3 0 1 0 -4.7 0M162.8 351.1a1.9 1.9 0 1 0 3.7 0a1.9 1.9 0 1 0 -3.7 0M92.5 336.7a2.2 2.2 0 1 0 4.4 0a2.2 2.2 0 1 0 -4.4 0M50.9 317.7a1.6 1.6 0 1 0 3.3 0a1.6 1.6 0 1 0 -3.3 0M225.2 362.0a1.3 1.3 0 1 0 2.7 0a1.3 1.3 0 1 0 -2.7 0M130.2 285.5a1.2 1.2 0 1 0 2.3 0a1.2 1.2 0 1 0 -2.3 0M149.1 338.2a1.2 1.2 0 1 0 2.3 0a1.2 1.2 0 1 0 -2.3 0M201.3 359.8a1.6 1.6 0 1 0 3.2 0a1.6 1.6 0 1 0 -3.2 0M167.6 382.4a1.2 1.2 0 1 0 2.5 0a1.2 1.2 0 1 0 -2.5 0M39.3 309.3a1.2 1.2 0 1 0 2.3 0a1.2 1.2 0 1 0 -2.3 0M174.0 364.9a2.6 2.6 0 1 0 5.1 0a2.6 2.6 0 1 0 -5.1 0M210.0 295.7a1.8 1.8 0 1 0 3.6 0a1.8 1.8 0 1 0 -3.6 0M105.1 376.4a1.2 1.2 0 1 0 2.5 0a1.2 1.2 0 1 0 -2.5 0M175.9 340.3a1.5 1.5 0 1 0 3.1 0a1.5 1.5 0 1 0 -3.1 0M199.2 328.8a1.2 1.2 0 1 0 2.3 0a1.2 1.2 0 1 0 -2.3 0M139.5 324.1a1.7 1.7 0 1 0 3.5 0a1.7 1.7 0 1 0 -3.5 0M48.2 312.1a2.0 2.0 0 1 0 4.1 0a2.0 2.0 0 1 0 -4.1 0M100.0 313.9a2.6 2.6 0 1 0 5.2 0a2.6 2.6 0 1 0 -5.2 0M152.1 367.2a1.2 1.2 0 1 0 2.3 0a1.2 1.2 0 1 0 -2.3 0M219.0 344.7a1.2 1.2 0 1 0 2.4 0a1.2 1.2 0 1 0 -2.4 0M146.1 344.7a1.7 1.7 0 1 0 3.5 0a1.7 1.7 0 1 0 -3.5 0M80.5 293.4a1.2 1.2 0 1 0 2.3 0a1.2 1.2 0 1 0 -2.3 0M158.2 377.2a1.5 1.5 0 1 0 3.0 0a1.5 1.5 0 1 0 -3.0 0M222.3 314.5a1.8 1.8 0 1 0 3.6 0a1.8 1.8 0 1 0 -3.6 0M112.9 368.7a2.1 2.1 0 1 0 4.2 0a2.1 2.1 0 1 0 -4.2 0M87.0 294.0a1.9 1.9 0 1 0 3.8 0a1.9 1.9 0 1 0 -3.8 0M115.6 315.7a1.6 1.6 0 1 0 3.1 0a1.6 1.6 0 1 0 -3.1 0M92.9 314.7a1.3 1.3 0 1 0 2.6 0a1.3 1.3 0 1 0 -2.6 0M73.4 303.1a2.0 2.0 0 1 0 4.1 0a2.0 2.0 0 1 0 -4.1 0M61.6 334.6a1.2 1.2 0 1 0 2.5 0a1.2 1.2 0 1 0 -2.5 0M127.2 348.6a2.4 2.4 0 1 0 4.8 0a2.4 2.4 0 1 0 -4.8 0M102.2 307.4a1.7 1.7 0 1 0 3.5 0a1.7 1.7 0 1 0 -3.5 0M117.8 295.0a1.9 1.9 0 1 0 3.9 0a1.9 1.9 0 1 0 -3.9 0M81.0 295.6a1.2 1.2 0 1 0 2.3 0a1.2 1.2 0 1 0 -2.3 0M22.5 350.8a1.2 1.2 0 1 0 2.3 0a1.2 1.2 0 1 0 -2.3 0M216.6 303.0a1.9 1.9 0 1 0 3.7 0a1.9 1.9 0 1 0 -3.7 0M210.5 329.4a1.3 1.3 0 1 0 2.5 0a1.3 1.3 0 1 0 -2.5 0M146.4 302.6a1.4 1.4 0 1 0 2.9 0a1.4 1.4 0 1 0 -2.9 0M60.8 362.0a1.4 1.4 0 1 0 2.8 0a1.4 1.4 0 1 0 -2.8 0M80.9 309.5a1.4 1.4 0 1 0 2.7 0a1.4 1.4 0 1 0 -2.7 0M150.2 357.6a2.1 2.1 0 1 0 4.3 0a2.1 2.1 0 1 0 -4.3 0M82.4 298.5a1.8 1.8 0 1 0 3.5 0a1.8 1.8 0 1 0 -3.5 0M218.2 351.9a1.9 1.9 0 1 0 3.8 0a1.9 1.9 0 1 0 -3.8 0M217.6 338.2a2.1 2.1 0 1 0 4.3 0a2.1 2.1 0 1 0 -4.3 0M123.7 303.9a1.2 1.2 0 1 0 2.3 0a1.2 1.2 0 1 0 -2.3 0" fill="#68d852"/><path d="M87.5 306.0a2.7 2.7 0 1 0 5.4 0a2.7 2.7 0 1 0 -5.4 0M173.3 356.3a2.5 2.5 0 1 0 5.0 0a2.5 2.5 0 1 0 -5.0 0M224.0 365.0a1.7 1.7 0 1 0 3.4 0a1.7 1.7 0 1 0 -3.4 0M50.3 351.9a1.3 1.3 0 1 0 2.6 0a1.3 1.3 0 1 0 -2.6 0M70.1 291.2a1.3 1.3 0 1 0 2.7 0a1.3 1.3 0 1 0 -2.7 0M224.9 290.3a1.9 1.9 0 1 0 3.8 0a1.9 1.9 0 1 0 -3.8 0M183.2 366.9a1.3 1.3 0 1 0 2.6 0a1.3 1.3 0 1 0 -2.6 0M176.2 345.4a1.9 1.9 0 1 0 3.8 0a1.9 1.9 0 1 0 -3.8 0M54.6 383.4a1.6 1.6 0 1 0 3.3 0a1.6 1.6 0 1 0 -3.3 0M22.3 293.5a4.1 4.1 0 1 0 8.1 0a4.1 4.1 0 1 0 -8.1 0M101.8 370.7a2.9 2.9 0 1 0 5.8 0a2.9 2.9 0 1 0 -5.8 0M184.6 341.1a3.2 3.2 0 1 0 6.4 0a3.2 3.2 0 1 0 -6.4 0M29.5 361.2a2.1 2.1 0 1 0 4.1 0a2.1 2.1 0 1 0 -4.1 0M78.4 326.1a1.6 1.6 0 1 0 3.3 0a1.6 1.6 0 1 0 -3.3 0M191.5 355.1a5.2 5.2 0 1 0 10.5 0a5.2 5.2 0 1 0 -10.5 0M106.7 310.1a2.3 2.3 0 1 0 4.5 0a2.3 2.3 0 1 0 -4.5 0M50.3 339.2a1.7 1.7 0 1 0 3.4 0a1.7 1.7 0 1 0 -3.4 0M201.8 341.5a3.1 3.1 0 1 0 6.3 0a3.1 3.1 0 1 0 -6.3 0M132.9 338.6a2.1 2.1 0 1 0 4.2 0a2.1 2.1 0 1 0 -4.2 0M191.5 344.8a3.1 3.1 0 1 0 6.2 0a3.1 3.1 0 1 0 -6.2 0M105.7 332.8a1.2 1.2 0 1 0 2.3 0a1.2 1.2 0 1 0 -2.3 0M136.1 299.0a1.3 1.3 0 1 0 2.5 0a1.3 1.3 0 1 0 -2.5 0M180.6 344.8a1.3 1.3 0 1 0 2.6 0a1.3 1.3 0 1 0 -2.6 0M200.5 347.4a1.9 1.9 0 1 0 3.9 0a1.9 1.9 0 1 0 -3.9 0M67.5 359.5a1.2 1.2 0 1 0 2.4 0a1.2 1.2 0 1 0 -2.4 0M210.3 352.4a1.9 1.9 0 1 0 3.9 0a1.9 1.9 0 1 0 -3.9 0M34.8 319.7a2.4 2.4 0 1 0 4.8 0a2.4 2.4 0 1 0 -4.8 0M153.6 286.4a2.6 2.6 0 1 0 5.2 0a2.6 2.6 0 1 0 -5.2 0M148.0 380.0a2.1 2.1 0 1 0 4.2 0a2.1 2.1 0 1 0 -4.2 0M81.3 383.4a1.9 1.9 0 1 0 3.8 0a1.9 1.9 0 1 0 -3.8 0M158.3 357.3a2.0 2.0 0 1 0 4.0 0a2.0 2.0 0 1 0 -4.0 0M76.3 299.9a1.7 1.7 0 1 0 3.4 0a1.7 1.7 0 1 0 -3.4 0M194.7 377.8a1.2 1.2 0 1 0 2.3 0a1.2 1.2 0 1 0 -2.3 0M147.4 367.9a1.4 1.4 0 1 0 2.9 0a1.4 1.4 0 1 0 -2.9 0M149.2 384.1a1.2 1.2 0 1 0 2.3 0a1.2 1.2 0 1 0 -2.3 0M95.6 320.7a1.3 1.3 0 1 0 2.6 0a1.3 1.3 0 1 0 -2.6 0M43.5 343.0a1.8 1.8 0 1 0 3.6 0a1.8 1.8 0 1 0 -3.6 0M214.9 368.7a1.4 1.4 0 1 0 2.9 0a1.4 1.4 0 1 0 -2.9 0M55.9 314.3a2.6 2.6 0 1 0 5.1 0a2.6 2.6 0 1 0 -5.1 0M117.5 359.8a1.7 1.7 0 1 0 3.3 0a1.7 1.7 0 1 0 -3.3 0M101.8 377.7a1.8 1.8 0 1 0 3.7 0a1.8 1.8 0 1 0 -3.7 0M149.4 372.6a1.9 1.9 0 1 0 3.9 0a1.9 1.9 0 1 0 -3.9 0M143.8 321.8a1.2 1.2 0 1 0 2.3 0a1.2 1.2 0 1 0 -2.3 0M19.9 314.4a2.2 2.2 0 1 0 4.4 0a2.2 2.2 0 1 0 -4.4 0M145.7 335.4a1.8 1.8 0 1 0 3.6 0a1.8 1.8 0 1 0 -3.6 0M125.8 311.4a1.2 1.2 0 1 0 2.3 0a1.2 1.2 0 1 0 -2.3 0M154.1 290.9a1.7 1.7 0 1 0 3.5 0a1.7 1.7 0 1 0 -3.5 0M180.0 376.0a1.4 1.4 0 1 0 2.8 0a1.4 1.4 0 1 0 -2.8 0M67.3 382.7a1.8 1.8 0 1 0 3.7 0a1.8 1.8 0 1 0 -3.7 0M218.8 319.7a2.7 2.7 0 1 0 5.4 0a2.7 2.7 0 1 0 -5.4 0" fill="#45a83a"/><path d="M31.9 299.6a1.2 1.2 0 1 0 2.3 0a1.2 1.2 0 1 0 -2.3 0M60.9 383.6a2.1 2.1 0 1 0 4.3 0a2.1 2.1 0 1 0 -4.3 0M122.8 369.1a1.6 1.6 0 1 0 3.1 0a1.6 1.6 0 1 0 -3.1 0M119.3 288.0a4.2 4.2 0 1 0 8.4 0a4.2 4.2 0 1 0 -8.4 0M39.6 316.6a2.0 2.0 0 1 0 3.9 0a2.0 2.0 0 1 0 -3.9 0M159.6 365.7a1.3 1.3 0 1 0 2.5 0a1.3 1.3 0 1 0 -2.5 0M217.6 371.7a1.7 1.7 0 1 0 3.4 0a1.7 1.7 0 1 0 -3.4 0M52.5 364.1a2.5 2.5 0 1 0 5.0 0a2.5 2.5 0 1 0 -5.0 0M65.1 304.0a1.2 1.2 0 1 0 2.3 0a1.2 1.2 0 1 0 -2.3 0M181.6 379.4a1.4 1.4 0 1 0 2.8 0a1.4 1.4 0 1 0 -2.8 0M140.5 361.7a2.3 2.3 0 1 0 4.6 0a2.3 2.3 0 1 0 -4.6 0M122.6 325.7a1.7 1.7 0 1 0 3.5 0a1.7 1.7 0 1 0 -3.5 0M70.9 367.8a1.4 1.4 0 1 0 2.7 0a1.4 1.4 0 1 0 -2.7 0M150.1 289.6a1.5 1.5 0 1 0 3.0 0a1.5 1.5 0 1 0 -3.0 0M84.6 368.0a1.3 1.3 0 1 0 2.6 0a1.3 1.3 0 1 0 -2.6 0M225.6 315.8a1.5 1.5 0 1 0 3.0 0a1.5 1.5 0 1 0 -3.0 0M140.9 347.4a2.7 2.7 0 1 0 5.3 0a2.7 2.7 0 1 0 -5.3 0M213.8 379.1a1.2 1.2 0 1 0 2.3 0a1.2 1.2 0 1 0 -2.3 0M213.6 356.5a1.9 1.9 0 1 0 3.7 0a1.9 1.9 0 1 0 -3.7 0M23.3 324.5a1.3 1.3 0 1 0 2.5 0a1.3 1.3 0 1 0 -2.5 0M165.6 285.4a1.2 1.2 0 1 0 2.3 0a1.2 1.2 0 1 0 -2.3 0M167.5 366.3a1.9 1.9 0 1 0 3.8 0a1.9 1.9 0 1 0 -3.8 0M56.4 388.3a2.0 2.0 0 1 0 4.0 0a2.0 2.0 0 1 0 -4.0 0M89.8 327.0a1.5 1.5 0 1 0 3.1 0a1.5 1.5 0 1 0 -3.1 0M148.6 342.5a1.6 1.6 0 1 0 3.2 0a1.6 1.6 0 1 0 -3.2 0M51.3 369.0a1.3 1.3 0 1 0 2.5 0a1.3 1.3 0 1 0 -2.5 0M91.6 301.0a2.7 2.7 0 1 0 5.4 0a2.7 2.7 0 1 0 -5.4 0M132.5 346.8a1.2 1.2 0 1 0 2.3 0a1.2 1.2 0 1 0 -2.3 0M69.8 360.3a1.7 1.7 0 1 0 3.3 0a1.7 1.7 0 1 0 -3.3 0M21.6 286.9a1.6 1.6 0 1 0 3.1 0a1.6 1.6 0 1 0 -3.1 0M56.1 307.7a1.2 1.2 0 1 0 2.3 0a1.2 1.2 0 1 0 -2.3 0" fill="#2a6a26"/></g>
<g filter="url(#blur03)">
<path d="M165.5 332.0a1.3 1.3 0 1 0 2.6 0a1.3 1.3 0 1 0 -2.6 0" fill="none" stroke="#cc58da" stroke-width="0.7"/>
</g>
<g filter="url(#blur03)"><path d="M46.4 293.2a2.3 2.3 0 1 0 4.5 0a2.3 2.3 0 1 0 -4.5 0" fill="none" stroke="rgb(170,170,170)" stroke-width="0.8"/><path d="M220.9 305.1a0.8 0.8 0 1 0 1.7 0a0.8 0.8 0 1 0 -1.7 0M184.7 316.2a1.2 1.2 0 1 0 2.3 0a1.2 1.2 0 1 0 -2.3 0M217.9 307.7a1.2 1.2 0 1 0 2.4 0a1.2 1.2 0 1 0 -2.4 0M190.0 318.2a0.8 0.8 0 1 0 1.6 0a0.8 0.8 0 1 0 -1.6 0M221.4 305.6a1.1 1.1 0 1 0 2.3 0a1.1 1.1 0 1 0 -2.3 0M222.6 304.5a1.3 1.3 0 1 0 2.7 0a1.3 1.3 0 1 0 -2.7 0M186.7 319.9a1.5 1.5 0 1 0 3.1 0a1.5 1.5 0 1 0 -3.1 0M219.5 307.3a1.9 1.9 0 1 0 3.8 0a1.9 1.9 0 1 0 -3.8 0M192.0 318.2a1.2 1.2 0 1 0 2.3 0a1.2 1.2 0 1 0 -2.3 0M45.3 295.1a1.4 1.4 0 1 0 2.8 0a1.4 1.4 0 1 0 -2.8 0" fill="rgb(250,250,250)"/><path d="M47.6 286.6a1.8 1.8 0 1 0 3.5 0a1.8 1.8 0 1 0 -3.5 0M218.7 309.2a1.7 1.7 0 1 0 3.3 0a1.7 1.7 0 1 0 -3.3 0M181.9 318.4a1.5 1.5 0 1 0 2.9 0a1.5 1.5 0 1 0 -2.9 0M218.4 302.5a1.2 1.2 0 1 0 2.5 0a1.2 1.2 0 1 0 -2.5 0M47.5 294.7a1.5 1.5 0 1 0 2.9 0a1.5 1.5 0 1 0 -2.9 0" fill="none" stroke="rgb(210,210,210)" stroke-width="0.8"/><path d="M46.3 290.5a1.9 1.9 0 1 0 3.8 0a1.9 1.9 0 1 0 -3.8 0M223.7 304.1a1.4 1.4 0 1 0 2.8 0a1.4 1.4 0 1 0 -2.8 0M179.9 313.7a2.0 2.0 0 1 0 4.0 0a2.0 2.0 0 1 0 -4.0 0" fill="rgb(210,210,210)"/><path d="M188.7 318.5a1.6 1.6 0 1 0 3.2 0a1.6 1.6 0 1 0 -3.2 0M183.7 321.3a1.9 1.9 0 1 0 3.7 0a1.9 1.9 0 1 0 -3.7 0M214.6 303.4a2.5 2.5 0 1 0 5.1 0a2.5 2.5 0 1 0 -5.1 0M225.1 302.8a1.6 1.6 0 1 0 3.3 0a1.6 1.6 0 1 0 -3.3 0M217.5 308.1a1.3 1.3 0 1 0 2.7 0a1.3 1.3 0 1 0 -2.7 0" fill="none" stroke="rgb(250,250,250)" stroke-width="0.8"/><path d="M219.5 307.8a1.1 1.1 0 1 0 2.2 0a1.1 1.1 0 1 0 -2.2 0M219.6 308.2a1.0 1.0 0 1 0 2.0 0a1.0 1.0 0 1 0 -2.0 0M47.1 291.9a0.6 0.6 0 1 0 1.2 0a0.6 0.6 0 1 0 -1.2 0M215.6 308.0a1.9 1.9 0 1 0 3.8 0a1.9 1.9 0 1 0 -3.8 0M185.5 316.8a0.9 0.9 0 1 0 1.7 0a0.9 0.9 0 1 0 -1.7 0M47.0 293.9a1.7 1.7 0 1 0 3.3 0a1.7 1.7 0 1 0 -3.3 0" fill="rgb(170,170,170)"/></g>
<path d="M223.5 364.4a0.4 0.4 0 1 0 0.9 0a0.4 0.4 0 1 0 -0.9 0M186.2 302.3a0.8 0.8 0 1 0 1.6 0a0.8 0.8 0 1 0 -1.6 0M167.2 374.8a0.7 0.7 0 1 0 1.3 0a0.7 0.7 0 1 0 -1.3 0M27.9 346.7a0.5 0.5 0 1 0 0.9 0a0.5 0.5 0 1 0 -0.9 0M179.6 327.2a0.8 0.8 0 1 0 1.6 0a0.8 0.8 0 1 0 -1.6 0M79.9 304.8a0.4 0.4 0 1 0 0.9 0a0.4 0.4 0 1 0 -0.9 0M100.1 319.6a0.8 0.8 0 1 0 1.6 0a0.8 0.8 0 1 0 -1.6 0M48.4 310.1a0.4 0.4 0 1 0 0.7 0a0.4 0.4 0 1 0 -0.7 0M213.3 289.2a0.7 0.7 0 1 0 1.4 0a0.7 0.7 0 1 0 -1.4 0M208.4 304.3a0.7 0.7 0 1 0 1.4 0a0.7 0.7 0 1 0 -1.4 0M147.3 295.1a0.5 0.5 0 1 0 1.0 0a0.5 0.5 0 1 0 -1.0 0M202.0 371.8a0.6 0.6 0 1 0 1.2 0a0.6 0.6 0 1 0 -1.2 0M93.3 330.3a0.6 0.6 0 1 0 1.1 0a0.6 0.6 0 1 0 -1.1 0M41.3 326.0a0.7 0.7 0 1 0 1.3 0a0.7 0.7 0 1 0 -1.3 0M62.5 291.6a0.5 0.5 0 1 0 1.1 0a0.5 0.5 0 1 0 -1.1 0M72.2 298.2a0.8 0.8 0 1 0 1.6 0a0.8 0.8 0 1 0 -1.6 0M220.6 305.1a0.8 0.8 0 1 0 1.5 0a0.8 0.8 0 1 0 -1.5 0M215.0 324.6a0.4 0.4 0 1 0 0.7 0a0.4 0.4 0 1 0 -0.7 0M180.7 310.1a0.5 0.5 0 1 0 0.9 0a0.5 0.5 0 1 0 -0.9 0M224.8 377.8a0.6 0.6 0 1 0 1.1 0a0.6 0.6 0 1 0 -1.1 0M164.4 303.4a0.7 0.7 0 1 0 1.4 0a0.7 0.7 0 1 0 -1.4 0M212.2 383.3a0.6 0.6 0 1 0 1.2 0a0.6 0.6 0 1 0 -1.2 0M220.9 352.7a0.6 0.6 0 1 0 1.2 0a0.6 0.6 0 1 0 -1.2 0M147.1 300.8a0.8 0.8 0 1 0 1.6 0a0.8 0.8 0 1 0 -1.6 0M180.7 338.0a0.5 0.5 0 1 0 1.0 0a0.5 0.5 0 1 0 -1.0 0M135.7 323.0a0.5 0.5 0 1 0 1.0 0a0.5 0.5 0 1 0 -1.0 0M26.5 292.7a0.8 0.8 0 1 0 1.5 0a0.8 0.8 0 1 0 -1.5 0M101.6 362.2a0.6 0.6 0 1 0 1.3 0a0.6 0.6 0 1 0 -1.3 0M168.0 290.0a0.4 0.4 0 1 0 0.8 0a0.4 0.4 0 1 0 -0.8 0M82.7 343.8a0.4 0.4 0 1 0 0.8 0a0.4 0.4 0 1 0 -0.8 0M80.0 351.0a0.8 0.8 0 1 0 1.5 0a0.8 0.8 0 1 0 -1.5 0M51.6 357.0a0.5 0.5 0 1 0 0.9 0a0.5 0.5 0 1 0 -0.9 0M161.4 289.1a0.6 0.6 0 1 0 1.1 0a0.6 0.6 0 1 0 -1.1 0M174.3 359.7a0.8 0.8 0 1 0 1.6 0a0.8 0.8 0 1 0 -1.6 0M219.5 310.4a0.7 0.7 0 1 0 1.4 0a0.7 0.7 0 1 0 -1.4 0M164.1 353.2a0.6 0.6 0 1 0 1.3 0a0.6 0.6 0 1 0 -1.3 0M177.8 385.2a0.5 0.5 0 1 0 1.0 0a0.5 0.5 0 1 0 -1.0 0M83.4 363.5a0.4 0.4 0 1 0 0.8 0a0.4 0.4 0 1 0 -0.8 0M195.5 298.5a0.7 0.7 0 1 0 1.4 0a0.7 0.7 0 1 0 -1.4 0M59.6 383.9a0.7 0.7 0 1 0 1.3 0a0.7 0.7 0 1 0 -1.3 0M173.1 378.4a0.6 0.6 0 1 0 1.2 0a0.6 0.6 0 1 0 -1.2 0M163.8 365.8a0.6 0.6 0 1 0 1.2 0a0.6 0.6 0 1 0 -1.2 0M35.3 292.5a0.5 0.5 0 1 0 1.0 0a0.5 0.5 0 1 0 -1.0 0M216.8 314.1a0.7 0.7 0 1 0 1.3 0a0.7 0.7 0 1 0 -1.3 0M176.4 293.6a0.6 0.6 0 1 0 1.2 0a0.6 0.6 0 1 0 -1.2 0M88.5 342.9a0.8 0.8 0 1 0 1.5 0a0.8 0.8 0 1 0 -1.5 0M102.1 332.8a0.4 0.4 0 1 0 0.8 0a0.4 0.4 0 1 0 -0.8 0M210.7 302.0a0.6 0.6 0 1 0 1.2 0a0.6 0.6 0 1 0 -1.2 0M119.9 304.8a0.5 0.5 0 1 0 0.9 0a0.5 0.5 0 1 0 -0.9 0M133.0 329.9a0.6 0.6 0 1 0 1.2 0a0.6 0.6 0 1 0 -1.2 0M214.3 310.0a0.4 0.4 0 1 0 0.8 0a0.4 0.4 0 1 0 -0.8 0M151.8 326.0a0.6 0.6 0 1 0 1.2 0a0.6 0.6 0 1 0 -1.2 0M123.0 357.0a0.5 0.5 0 1 0 1.0 0a0.5 0.5 0 1 0 -1.0 0M137.8 384.6a0.7 0.7 0 1 0 1.5 0a0.7 0.7 0 1 0 -1.5 0M182.3 287.8a0.5 0.5 0 1 0 1.0 0a0.5 0.5 0 1 0 -1.0 0M145.6 383.4a0.8 0.8 0 1 0 1.7 0a0.8 0.8 0 1 0 -1.7 0M190.4 383.4a0.4 0.4 0 1 0 0.9 0a0.4 0.4 0 1 0 -0.9 0M43.8 381.1a0.4 0.4 0 1 0 0.9 0a0.4 0.4 0 1 0 -0.9 0M111.1 303.2a0.7 0.7 0 1 0 1.4 0a0.7 0.7 0 1 0 -1.4 0M71.6 299.1a0.8 0.8 0 1 0 1.5 0a0.8 0.8 0 1 0 -1.5 0M63.9 340.4a0.8 0.8 0 1 0 1.6 0a0.8 0.8 0 1 0 -1.6 0M44.7 295.3a0.8 0.8 0 1 0 1.6 0a0.8 0.8 0 1 0 -1.6 0M186.2 384.3a0.8 0.8 0 1 0 1.5 0a0.8 0.8 0 1 0 -1.5 0M67.5 343.0a0.8 0.8 0 1 0 1.7 0a0.8 0.8 0 1 0 -1.7 0M51.2 380.4a0.5 0.5 0 1 0 0.9 0a0.5 0.5 0 1 0 -0.9 0M68.5 313.3a0.8 0.8 0 1 0 1.6 0a0.8 0.8 0 1 0 -1.6 0M54.9 323.1a0.4 0.4 0 1 0 0.9 0a0.4 0.4 0 1 0 -0.9 0M91.7 305.4a0.4 0.4 0 1 0 0.7 0a0.4 0.4 0 1 0 -0.7 0M153.6 353.1a0.7 0.7 0 1 0 1.4 0a0.7 0.7 0 1 0 -1.4 0M215.4 359.7a0.6 0.6 0 1 0 1.2 0a0.6 0.6 0 1 0 -1.2 0M79.0 348.3a0.7 0.7 0 1 0 1.4 0a0.7 0.7 0 1 0 -1.4 0M178.8 357.2a0.6 0.6 0 1 0 1.2 0a0.6 0.6 0 1 0 -1.2 0M68.1 364.4a0.6 0.6 0 1 0 1.1 0a0.6 0.6 0 1 0 -1.1 0M61.3 361.9a0.5 0.5 0 1 0 1.1 0a0.5 0.5 0 1 0 -1.1 0M127.2 383.6a0.7 0.7 0 1 0 1.5 0a0.7 0.7 0 1 0 -1.5 0M24.7 373.6a0.4 0.4 0 1 0 0.7 0a0.4 0.4 0 1 0 -0.7 0M186.0 381.7a0.6 0.6 0 1 0 1.2 0a0.6 0.6 0 1 0 -1.2 0M125.0 335.9a0.8 0.8 0 1 0 1.6 0a0.8 0.8 0 1 0 -1.6 0M191.0 307.1a0.8 0.8 0 1 0 1.7 0a0.8 0.8 0 1 0 -1.7 0M207.1 295.6a0.4 0.4 0 1 0 0.9 0a0.4 0.4 0 1 0 -0.9 0M203.8 384.3a0.4 0.4 0 1 0 0.7 0a0.4 0.4 0 1 0 -0.7 0M165.4 296.1a0.8 0.8 0 1 0 1.6 0a0.8 0.8 0 1 0 -1.6 0M182.6 357.8a0.4 0.4 0 1 0 0.8 0a0.4 0.4 0 1 0 -0.8 0M178.8 363.8a0.5 0.5 0 1 0 1.0 0a0.5 0.5 0 1 0 -1.0 0M170.7 380.3a0.4 0.4 0 1 0 0.8 0a0.4 0.4 0 1 0 -0.8 0M70.6 310.5a0.6 0.6 0 1 0 1.1 0a0.6 0.6 0 1 0 -1.1 0M114.5 339.3a0.8 0.8 0 1 0 1.5 0a0.8 0.8 0 1 0 -1.5 0M70.2 355.0a0.6 0.6 0 1 0 1.2 0a0.6 0.6 0 1 0 -1.2 0M103.6 343.3a0.7 0.7 0 1 0 1.4 0a0.7 0.7 0 1 0 -1.4 0M215.9 317.9a0.4 0.4 0 1 0 0.8 0a0.4 0.4 0 1 0 -0.8 0M117.0 372.7a0.7 0.7 0 1 0 1.3 0a0.7 0.7 0 1 0 -1.3 0M116.4 343.5a0.7 0.7 0 1 0 1.4 0a0.7 0.7 0 1 0 -1.4 0M96.5 346.5a0.4 0.4 0 1 0 0.8 0a0.4 0.4 0 1 0 -0.8 0M47.0 360.5a0.8 0.8 0 1 0 1.6 0a0.8 0.8 0 1 0 -1.6 0M106.3 382.6a0.5 0.5 0 1 0 0.9 0a0.5 0.5 0 1 0 -0.9 0M180.1 369.2a0.4 0.4 0 1 0 0.7 0a0.4 0.4 0 1 0 -0.7 0M71.3 375.2a0.8 0.8 0 1 0 1.5 0a0.8 0.8 0 1 0 -1.5 0M45.9 336.9a0.5 0.5 0 1 0 1.0 0a0.5 0.5 0 1 0 -1.0 0M156.3 333.4a0.8 0.8 0 1 0 1.7 0a0.8 0.8 0 1 0 -1.7 0M94.7 341.0a0.7 0.7 0 1 0 1.4 0a0.7 0.7 0 1 0 -1.4 0M195.9 293.3a0.4 0.4 0 1 0 0.9 0a0.4 0.4 0 1 0 -0.9 0M142.9 321.4a0.5 0.5 0 1 0 1.1 0a0.5 0.5 0 1 0 -1.1 0M94.5 315.1a0.5 0.5 0 1 0 1.1 0a0.5 0.5 0 1 0 -1.1 0M29.5 339.1a0.8 0.8 0 1 0 1.6 0a0.8 0.8 0 1 0 -1.6 0M144.5 348.1a0.4 0.4 0 1 0 0.9 0a0.4 0.4 0 1 0 -0.9 0M174.8 354.1a0.4 0.4 0 1 0 0.7 0a0.4 0.4 0 1 0 -0.7 0M213.7 314.1a0.7 0.7 0 1 0 1.3 0a0.7 0.7 0 1 0 -1.3 0M99.9 336.1a0.6 0.6 0 1 0 1.1 0a0.6 0.6 0 1 0 -1.1 0M195.5 314.6a0.8 0.8 0 1 0 1.7 0a0.8 0.8 0 1 0 -1.7 0M73.2 374.7a0.8 0.8 0 1 0 1.6 0a0.8 0.8 0 1 0 -1.6 0M24.2 317.7a0.6 0.6 0 1 0 1.3 0a0.6 0.6 0 1 0 -1.3 0M197.5 348.8a0.5 0.5 0 1 0 1.0 0a0.5 0.5 0 1 0 -1.0 0M80.5 371.1a0.5 0.5 0 1 0 1.0 0a0.5 0.5 0 1 0 -1.0 0M36.5 370.0a0.4 0.4 0 1 0 0.8 0a0.4 0.4 0 1 0 -0.8 0M123.2 369.5a0.7 0.7 0 1 0 1.4 0a0.7 0.7 0 1 0 -1.4 0M203.4 330.1a0.6 0.6 0 1 0 1.2 0a0.6 0.6 0 1 0 -1.2 0M181.5 364.7a0.5 0.5 0 1 0 0.9 0a0.5 0.5 0 1 0 -0.9 0M70.5 360.6a0.7 0.7 0 1 0 1.3 0a0.7 0.7 0 1 0 -1.3 0M114.8 337.7a0.7 0.7 0 1 0 1.4 0a0.7 0.7 0 1 0 -1.4 0M211.2 378.6a0.5 0.5 0 1 0 1.0 0a0.5 0.5 0 1 0 -1.0 0M130.8 367.6a0.7 0.7 0 1 0 1.4 0a0.7 0.7 0 1 0 -1.4 0M93.3 303.0a0.6 0.6 0 1 0 1.3 0a0.6 0.6 0 1 0 -1.3 0M218.6 288.3a0.5 0.5 0 1 0 1.1 0a0.5 0.5 0 1 0 -1.1 0M90.0 307.7a0.4 0.4 0 1 0 0.8 0a0.4 0.4 0 1 0 -0.8 0M37.5 331.4a0.5 0.5 0 1 0 1.0 0a0.5 0.5 0 1 0 -1.0 0M203.6 367.0a0.7 0.7 0 1 0 1.5 0a0.7 0.7 0 1 0 -1.5 0" fill="#c8c8c8" opacity="0.85"/>
<g filter="url(#blur05)"></g>
</g>
<clipPath id="cp13"><rect x="22.0" y="407.3" width="210.9" height="94.2"/></clipPath>
<rect x="22.0" y="407.3" width="210.9" height="94.2" fill="#040404"/>
<g clip-path="url(#cp13)">
<g filter="url(#blur1)"><circle cx="204.4" cy="487.9" r="5.2" fill="rgb(33,33,33)"/><circle cx="38.3" cy="496.5" r="4.5" fill="rgb(26,26,26)"/><circle cx="214.0" cy="500.1" r="3.1" fill="rgb(48,48,48)"/><circle cx="39.4" cy="448.6" r="5.3" fill="rgb(37,37,37)"/><circle cx="131.2" cy="418.3" r="5.3" fill="rgb(39,39,39)"/><circle cx="74.4" cy="480.5" r="5.9" fill="rgb(41,41,41)"/><circle cx="177.5" cy="500.8" r="2.1" fill="rgb(42,42,42)"/><circle cx="226.0" cy="418.4" r="2.9" fill="rgb(41,41,41)"/><circle cx="174.3" cy="459.4" r="4.2" fill="rgb(27,27,27)"/><circle cx="177.9" cy="437.5" r="2.3" fill="rgb(52,52,52)"/><circle cx="161.1" cy="450.2" r="4.9" fill="rgb(39,39,39)"/><circle cx="48.3" cy="464.3" r="5.0" fill="rgb(46,46,46)"/><circle cx="138.3" cy="494.8" r="5.8" fill="rgb(50,50,50)"/><circle cx="100.4" cy="432.5" r="4.1" fill="rgb(44,44,44)"/><circle cx="55.9" cy="460.0" r="3.8" fill="rgb(26,26,26)"/><circle cx="110.3" cy="445.0" r="5.9" fill="rgb(27,27,27)"/><circle cx="217.8" cy="492.9" r="4.4" fill="rgb(31,31,31)"/><circle cx="188.9" cy="422.5" r="3.3" fill="rgb(44,44,44)"/><circle cx="111.7" cy="450.7" r="3.2" fill="rgb(27,27,27)"/><circle cx="98.1" cy="485.2" r="5.3" fill="rgb(28,28,28)"/><circle cx="138.6" cy="440.6" r="3.6" fill="rgb(53,53,53)"/><circle cx="192.7" cy="455.1" r="4.0" fill="rgb(51,51,51)"/><circle cx="101.1" cy="481.0" r="4.9" fill="rgb(46,46,46)"/><circle cx="118.1" cy="471.9" r="5.3" fill="rgb(34,34,34)"/><circle cx="183.0" cy="452.7" r="4.1" fill="rgb(39,39,39)"/><circle cx="101.1" cy="478.2" r="3.6" fill="rgb(31,31,31)"/><circle cx="188.1" cy="445.0" r="4.3" fill="rgb(53,53,53)"/><circle cx="158.6" cy="456.7" r="3.1" fill="rgb(45,45,45)"/></g>
<g filter="url(#blur03)">
<path d="M168.5 480.9a3.7 3.7 0 1 0 7.5 0a3.7 3.7 0 1 0 -7.5 0M190.6 437.0a4.4 4.4 0 1 0 8.8 0a4.4 4.4 0 1 0 -8.8 0M196.7 409.9a1.3 1.3 0 1 0 2.6 0a1.3 1.3 0 1 0 -2.6 0M49.1 454.7a3.6 3.6 0 1 0 7.2 0a3.6 3.6 0 1 0 -7.2 0M195.0 405.7a2.4 2.4 0 1 0 4.8 0a2.4 2.4 0 1 0 -4.8 0M76.1 485.1a4.8 4.8 0 1 0 9.6 0a4.8 4.8 0 1 0 -9.6 0M69.1 451.0a3.2 3.2 0 1 0 6.5 0a3.2 3.2 0 1 0 -6.5 0M118.4 405.4a5.3 5.3 0 1 0 10.7 0a5.3 5.3 0 1 0 -10.7 0M23.6 492.4a4.4 4.4 0 1 0 8.9 0a4.4 4.4 0 1 0 -8.9 0M142.7 405.6a2.2 2.2 0 1 0 4.4 0a2.2 2.2 0 1 0 -4.4 0M155.1 490.3a3.0 3.0 0 1 0 5.9 0a3.0 3.0 0 1 0 -5.9 0M149.2 460.6a2.2 2.2 0 1 0 4.5 0a2.2 2.2 0 1 0 -4.5 0M89.9 426.5a2.0 2.0 0 1 0 4.0 0a2.0 2.0 0 1 0 -4.0 0M17.4 421.1a3.6 3.6 0 1 0 7.2 0a3.6 3.6 0 1 0 -7.2 0M124.9 437.1a2.0 2.0 0 1 0 4.0 0a2.0 2.0 0 1 0 -4.0 0M20.1 453.9a1.5 1.5 0 1 0 3.0 0a1.5 1.5 0 1 0 -3.0 0M94.3 464.7a2.5 2.5 0 1 0 5.1 0a2.5 2.5 0 1 0 -5.1 0M108.5 456.3a3.1 3.1 0 1 0 6.2 0a3.1 3.1 0 1 0 -6.2 0M103.0 410.9a1.5 1.5 0 1 0 3.0 0a1.5 1.5 0 1 0 -3.0 0M224.1 499.1a1.7 1.7 0 1 0 3.4 0a1.7 1.7 0 1 0 -3.4 0M147.3 434.8a2.0 2.0 0 1 0 4.0 0a2.0 2.0 0 1 0 -4.0 0M95.7 408.8a2.8 2.8 0 1 0 5.5 0a2.8 2.8 0 1 0 -5.5 0M160.6 420.8a2.9 2.9 0 1 0 5.8 0a2.9 2.9 0 1 0 -5.8 0M133.8 437.0a3.0 3.0 0 1 0 5.9 0a3.0 3.0 0 1 0 -5.9 0M95.9 474.3a2.2 2.2 0 1 0 4.4 0a2.2 2.2 0 1 0 -4.4 0M203.3 405.4a3.9 3.9 0 1 0 7.8 0a3.9 3.9 0 1 0 -7.8 0M147.1 495.7a3.1 3.1 0 1 0 6.1 0a3.1 3.1 0 1 0 -6.1 0M215.6 436.3a3.3 3.3 0 1 0 6.6 0a3.3 3.3 0 1 0 -6.6 0M124.1 446.0a1.3 1.3 0 1 0 2.7 0a1.3 1.3 0 1 0 -2.7 0M218.7 461.1a1.3 1.3 0 1 0 2.6 0a1.3 1.3 0 1 0 -2.6 0M99.3 470.3a2.1 2.1 0 1 0 4.3 0a2.1 2.1 0 1 0 -4.3 0M146.0 425.9a2.0 2.0 0 1 0 3.9 0a2.0 2.0 0 1 0 -3.9 0M144.2 475.4a1.3 1.3 0 1 0 2.6 0a1.3 1.3 0 1 0 -2.6 0M53.5 409.7a1.3 1.3 0 1 0 2.6 0a1.3 1.3 0 1 0 -2.6 0M96.5 422.5a2.3 2.3 0 1 0 4.5 0a2.3 2.3 0 1 0 -4.5 0M178.8 461.1a1.5 1.5 0 1 0 3.0 0a1.5 1.5 0 1 0 -3.0 0M221.7 470.1a3.1 3.1 0 1 0 6.3 0a3.1 3.1 0 1 0 -6.3 0M18.4 408.2a2.0 2.0 0 1 0 4.0 0a2.0 2.0 0 1 0 -4.0 0M32.3 473.6a1.9 1.9 0 1 0 3.8 0a1.9 1.9 0 1 0 -3.8 0M139.4 419.8a2.9 2.9 0 1 0 5.9 0a2.9 2.9 0 1 0 -5.9 0M142.1 480.7a3.0 3.0 0 1 0 5.9 0a3.0 3.0 0 1 0 -5.9 0M201.3 490.0a2.9 2.9 0 1 0 5.9 0a2.9 2.9 0 1 0 -5.9 0M194.6 444.9a3.2 3.2 0 1 0 6.4 0a3.2 3.2 0 1 0 -6.4 0M142.0 484.4a1.5 1.5 0 1 0 3.0 0a1.5 1.5 0 1 0 -3.0 0M102.7 475.6a2.2 2.2 0 1 0 4.3 0a2.2 2.2 0 1 0 -4.3 0M193.8 428.8a2.2 2.2 0 1 0 4.4 0a2.2 2.2 0 1 0 -4.4 0M178.6 453.6a2.7 2.7 0 1 0 5.4 0a2.7 2.7 0 1 0 -5.4 0M41.8 426.5a1.4 1.4 0 1 0 2.7 0a1.4 1.4 0 1 0 -2.7 0M184.4 477.5a2.2 2.2 0 1 0 4.3 0a2.2 2.2 0 1 0 -4.3 0M75.7 477.0a3.0 3.0 0 1 0 5.9 0a3.0 3.0 0 1 0 -5.9 0M209.5 427.5a1.8 1.8 0 1 0 3.6 0a1.8 1.8 0 1 0 -3.6 0M83.9 433.1a1.9 1.9 0 1 0 3.7 0a1.9 1.9 0 1 0 -3.7 0M66.2 422.0a2.0 2.0 0 1 0 3.9 0a2.0 2.0 0 1 0 -3.9 0M170.4 498.1a1.8 1.8 0 1 0 3.7 0a1.8 1.8 0 1 0 -3.7 0M17.5 486.4a2.7 2.7 0 1 0 5.3 0a2.7 2.7 0 1 0 -5.3 0M161.6 458.9a2.4 2.4 0 1 0 4.9 0a2.4 2.4 0 1 0 -4.9 0M146.4 420.1a3.2 3.2 0 1 0 6.4 0a3.2 3.2 0 1 0 -6.4 0M35.8 473.8a2.0 2.0 0 1 0 3.9 0a2.0 2.0 0 1 0 -3.9 0M32.7 448.2a3.7 3.7 0 1 0 7.4 0a3.7 3.7 0 1 0 -7.4 0M204.9 496.2a2.1 2.1 0 1 0 4.1 0a2.1 2.1 0 1 0 -4.1 0M87.3 485.7a2.5 2.5 0 1 0 5.0 0a2.5 2.5 0 1 0 -5.0 0M93.7 443.8a1.7 1.7 0 1 0 3.4 0a1.7 1.7 0 1 0 -3.4 0M147.1 459.2a1.3 1.3 0 1 0 2.6 0a1.3 1.3 0 1 0 -2.6 0M139.6 498.3a1.4 1.4 0 1 0 2.8 0a1.4 1.4 0 1 0 -2.8 0M132.3 462.2a1.9 1.9 0 1 0 3.9 0a1.9 1.9 0 1 0 -3.9 0M53.2 483.4a2.2 2.2 0 1 0 4.4 0a2.2 2.2 0 1 0 -4.4 0M194.3 412.2a1.8 1.8 0 1 0 3.7 0a1.8 1.8 0 1 0 -3.7 0M38.6 480.7a2.9 2.9 0 1 0 5.9 0a2.9 2.9 0 1 0 -5.9 0M82.4 500.3a1.9 1.9 0 1 0 3.9 0a1.9 1.9 0 1 0 -3.9 0M39.7 458.8a1.9 1.9 0 1 0 3.9 0a1.9 1.9 0 1 0 -3.9 0M44.2 493.0a2.1 2.1 0 1 0 4.3 0a2.1 2.1 0 1 0 -4.3 0M56.0 494.3a1.3 1.3 0 1 0 2.6 0a1.3 1.3 0 1 0 -2.6 0M195.0 484.3a1.5 1.5 0 1 0 3.0 0a1.5 1.5 0 1 0 -3.0 0M62.4 449.0a2.8 2.8 0 1 0 5.6 0a2.8 2.8 0 1 0 -5.6 0M181.6 420.1a2.6 2.6 0 1 0 5.2 0a2.6 2.6 0 1 0 -5.2 0M26.0 453.5a3.0 3.0 0 1 0 6.0 0a3.0 3.0 0 1 0 -6.0 0M92.8 494.6a1.8 1.8 0 1 0 3.7 0a1.8 1.8 0 1 0 -3.7 0M51.3 427.4a1.6 1.6 0 1 0 3.2 0a1.6 1.6 0 1 0 -3.2 0M73.3 459.9a1.7 1.7 0 1 0 3.3 0a1.7 1.7 0 1 0 -3.3 0M197.2 487.5a1.3 1.3 0 1 0 2.6 0a1.3 1.3 0 1 0 -2.6 0M70.5 472.0a1.3 1.3 0 1 0 2.6 0a1.3 1.3 0 1 0 -2.6 0M147.9 413.1a1.7 1.7 0 1 0 3.3 0a1.7 1.7 0 1 0 -3.3 0M95.7 418.3a2.1 2.1 0 1 0 4.2 0a2.1 2.1 0 1 0 -4.2 0" fill="none" stroke="rgb(78,78,78)" stroke-width="0.55"/>
<path d="M85.4 440.4a1.9 1.9 0 1 0 3.8 0a1.9 1.9 0 1 0 -3.8 0M210.2 451.1a1.8 1.8 0 1 0 3.6 0a1.8 1.8 0 1 0 -3.6 0M42.3 436.5a2.7 2.7 0 1 0 5.3 0a2.7 2.7 0 1 0 -5.3 0M204.3 446.7a2.9 2.9 0 1 0 5.8 0a2.9 2.9 0 1 0 -5.8 0M169.2 425.2a2.8 2.8 0 1 0 5.6 0a2.8 2.8 0 1 0 -5.6 0M218.2 453.0a3.3 3.3 0 1 0 6.6 0a3.3 3.3 0 1 0 -6.6 0M56.8 438.9a1.5 1.5 0 1 0 3.0 0a1.5 1.5 0 1 0 -3.0 0M184.8 457.3a1.3 1.3 0 1 0 2.6 0a1.3 1.3 0 1 0 -2.6 0M115.7 406.0a1.3 1.3 0 1 0 2.6 0a1.3 1.3 0 1 0 -2.6 0M175.0 470.2a1.7 1.7 0 1 0 3.4 0a1.7 1.7 0 1 0 -3.4 0M55.7 469.1a3.3 3.3 0 1 0 6.6 0a3.3 3.3 0 1 0 -6.6 0M75.9 420.5a2.5 2.5 0 1 0 5.0 0a2.5 2.5 0 1 0 -5.0 0M25.0 412.6a1.4 1.4 0 1 0 2.8 0a1.4 1.4 0 1 0 -2.8 0M132.7 473.3a4.1 4.1 0 1 0 8.2 0a4.1 4.1 0 1 0 -8.2 0M54.5 444.4a3.4 3.4 0 1 0 6.8 0a3.4 3.4 0 1 0 -6.8 0M21.3 434.0a2.5 2.5 0 1 0 4.9 0a2.5 2.5 0 1 0 -4.9 0M126.4 465.1a1.6 1.6 0 1 0 3.3 0a1.6 1.6 0 1 0 -3.3 0M73.2 463.4a1.8 1.8 0 1 0 3.5 0a1.8 1.8 0 1 0 -3.5 0M62.4 497.5a1.7 1.7 0 1 0 3.5 0a1.7 1.7 0 1 0 -3.5 0M208.0 492.0a2.1 2.1 0 1 0 4.2 0a2.1 2.1 0 1 0 -4.2 0M126.7 429.8a2.2 2.2 0 1 0 4.4 0a2.2 2.2 0 1 0 -4.4 0M158.0 460.8a1.3 1.3 0 1 0 2.6 0a1.3 1.3 0 1 0 -2.6 0M203.0 434.1a1.6 1.6 0 1 0 3.2 0a1.6 1.6 0 1 0 -3.2 0M121.8 485.3a1.3 1.3 0 1 0 2.6 0a1.3 1.3 0 1 0 -2.6 0M64.5 413.7a2.3 2.3 0 1 0 4.7 0a2.3 2.3 0 1 0 -4.7 0M20.2 465.1a3.4 3.4 0 1 0 6.8 0a3.4 3.4 0 1 0 -6.8 0M80.1 502.8a1.9 1.9 0 1 0 3.7 0a1.9 1.9 0 1 0 -3.7 0M98.4 460.4a3.7 3.7 0 1 0 7.4 0a3.7 3.7 0 1 0 -7.4 0M72.7 428.4a3.1 3.1 0 1 0 6.2 0a3.1 3.1 0 1 0 -6.2 0M172.1 489.0a3.3 3.3 0 1 0 6.6 0a3.3 3.3 0 1 0 -6.6 0M196.8 421.0a1.5 1.5 0 1 0 3.0 0a1.5 1.5 0 1 0 -3.0 0M195.2 492.4a3.1 3.1 0 1 0 6.1 0a3.1 3.1 0 1 0 -6.1 0M186.3 467.4a2.4 2.4 0 1 0 4.7 0a2.4 2.4 0 1 0 -4.7 0M167.1 440.0a4.2 4.2 0 1 0 8.5 0a4.2 4.2 0 1 0 -8.5 0M220.9 493.0a3.6 3.6 0 1 0 7.3 0a3.6 3.6 0 1 0 -7.3 0M118.4 412.7a2.3 2.3 0 1 0 4.6 0a2.3 2.3 0 1 0 -4.6 0M213.1 409.3a3.1 3.1 0 1 0 6.3 0a3.1 3.1 0 1 0 -6.3 0M21.4 426.4a2.9 2.9 0 1 0 5.8 0a2.9 2.9 0 1 0 -5.8 0M70.2 419.6a2.2 2.2 0 1 0 4.5 0a2.2 2.2 0 1 0 -4.5 0M157.7 439.8a2.2 2.2 0 1 0 4.4 0a2.2 2.2 0 1 0 -4.4 0M118.2 502.2a1.4 1.4 0 1 0 2.7 0a1.4 1.4 0 1 0 -2.7 0M61.7 463.3a2.7 2.7 0 1 0 5.4 0a2.7 2.7 0 1 0 -5.4 0M186.9 429.4a1.6 1.6 0 1 0 3.1 0a1.6 1.6 0 1 0 -3.1 0M150.6 416.5a2.5 2.5 0 1 0 4.9 0a2.5 2.5 0 1 0 -4.9 0M225.8 462.3a2.2 2.2 0 1 0 4.5 0a2.2 2.2 0 1 0 -4.5 0M176.6 483.9a1.9 1.9 0 1 0 3.9 0a1.9 1.9 0 1 0 -3.9 0M159.2 500.7a2.1 2.1 0 1 0 4.1 0a2.1 2.1 0 1 0 -4.1 0M121.1 419.5a2.2 2.2 0 1 0 4.4 0a2.2 2.2 0 1 0 -4.4 0M148.8 485.9a1.3 1.3 0 1 0 2.6 0a1.3 1.3 0 1 0 -2.6 0M204.7 422.4a1.3 1.3 0 1 0 2.6 0a1.3 1.3 0 1 0 -2.6 0M60.9 430.0a1.3 1.3 0 1 0 2.6 0a1.3 1.3 0 1 0 -2.6 0M47.0 420.8a1.7 1.7 0 1 0 3.4 0a1.7 1.7 0 1 0 -3.4 0M142.3 492.0a2.5 2.5 0 1 0 5.0 0a2.5 2.5 0 1 0 -5.0 0M144.1 469.0a2.6 2.6 0 1 0 5.3 0a2.6 2.6 0 1 0 -5.3 0M94.6 497.8a2.9 2.9 0 1 0 5.7 0a2.9 2.9 0 1 0 -5.7 0M49.7 442.5a2.7 2.7 0 1 0 5.4 0a2.7 2.7 0 1 0 -5.4 0M231.4 467.5a2.2 2.2 0 1 0 4.3 0a2.2 2.2 0 1 0 -4.3 0M82.7 437.7a1.5 1.5 0 1 0 3.0 0a1.5 1.5 0 1 0 -3.0 0M174.8 423.7a1.5 1.5 0 1 0 2.9 0a1.5 1.5 0 1 0 -2.9 0M19.0 482.6a1.3 1.3 0 1 0 2.6 0a1.3 1.3 0 1 0 -2.6 0M116.8 433.3a3.2 3.2 0 1 0 6.3 0a3.2 3.2 0 1 0 -6.3 0M215.5 443.1a2.2 2.2 0 1 0 4.4 0a2.2 2.2 0 1 0 -4.4 0M212.6 426.6a1.3 1.3 0 1 0 2.6 0a1.3 1.3 0 1 0 -2.6 0M183.8 438.4a2.1 2.1 0 1 0 4.2 0a2.1 2.1 0 1 0 -4.2 0M158.6 463.3a1.9 1.9 0 1 0 3.9 0a1.9 1.9 0 1 0 -3.9 0M146.5 407.9a1.3 1.3 0 1 0 2.6 0a1.3 1.3 0 1 0 -2.6 0M30.7 465.7a1.6 1.6 0 1 0 3.2 0a1.6 1.6 0 1 0 -3.2 0M66.2 405.9a2.2 2.2 0 1 0 4.5 0a2.2 2.2 0 1 0 -4.5 0M38.9 443.4a1.4 1.4 0 1 0 2.8 0a1.4 1.4 0 1 0 -2.8 0M217.0 458.1a1.7 1.7 0 1 0 3.4 0a1.7 1.7 0 1 0 -3.4 0M128.8 439.8a1.5 1.5 0 1 0 3.1 0a1.5 1.5 0 1 0 -3.1 0M39.1 417.0a2.6 2.6 0 1 0 5.2 0a2.6 2.6 0 1 0 -5.2 0M104.9 461.7a1.7 1.7 0 1 0 3.5 0a1.7 1.7 0 1 0 -3.5 0M140.0 466.3a1.5 1.5 0 1 0 3.1 0a1.5 1.5 0 1 0 -3.1 0M42.0 501.9a1.6 1.6 0 1 0 3.3 0a1.6 1.6 0 1 0 -3.3 0M223.0 488.4a1.3 1.3 0 1 0 2.6 0a1.3 1.3 0 1 0 -2.6 0M47.1 489.8a2.1 2.1 0 1 0 4.1 0a2.1 2.1 0 1 0 -4.1 0M219.5 474.8a1.3 1.3 0 1 0 2.6 0a1.3 1.3 0 1 0 -2.6 0M117.3 451.7a1.3 1.3 0 1 0 2.6 0a1.3 1.3 0 1 0 -2.6 0M57.4 474.5a1.3 1.3 0 1 0 2.6 0a1.3 1.3 0 1 0 -2.6 0M227.9 488.4a1.9 1.9 0 1 0 3.8 0a1.9 1.9 0 1 0 -3.8 0M207.5 423.6a1.5 1.5 0 1 0 3.1 0a1.5 1.5 0 1 0 -3.1 0M84.8 489.0a2.4 2.4 0 1 0 4.7 0a2.4 2.4 0 1 0 -4.7 0M175.4 474.2a1.4 1.4 0 1 0 2.9 0a1.4 1.4 0 1 0 -2.9 0M194.8 467.5a2.3 2.3 0 1 0 4.5 0a2.3 2.3 0 1 0 -4.5 0" fill="none" stroke="rgb(60,60,60)" stroke-width="0.75"/>
<path d="M130.6 430.8a4.0 4.0 0 1 0 8.0 0a4.0 4.0 0 1 0 -8.0 0M128.0 443.8a2.9 2.9 0 1 0 5.8 0a2.9 2.9 0 1 0 -5.8 0M33.8 420.2a3.0 3.0 0 1 0 6.0 0a3.0 3.0 0 1 0 -6.0 0M166.4 410.9a1.8 1.8 0 1 0 3.5 0a1.8 1.8 0 1 0 -3.5 0M169.7 455.8a2.9 2.9 0 1 0 5.8 0a2.9 2.9 0 1 0 -5.8 0M210.1 422.7a2.1 2.1 0 1 0 4.1 0a2.1 2.1 0 1 0 -4.1 0M67.0 490.4a3.2 3.2 0 1 0 6.3 0a3.2 3.2 0 1 0 -6.3 0M72.4 470.6a2.8 2.8 0 1 0 5.5 0a2.8 2.8 0 1 0 -5.5 0M110.8 472.1a2.4 2.4 0 1 0 4.9 0a2.4 2.4 0 1 0 -4.9 0M197.3 471.5a2.2 2.2 0 1 0 4.3 0a2.2 2.2 0 1 0 -4.3 0M180.3 445.7a1.5 1.5 0 1 0 2.9 0a1.5 1.5 0 1 0 -2.9 0M115.2 411.0a2.1 2.1 0 1 0 4.1 0a2.1 2.1 0 1 0 -4.1 0M178.3 438.7a1.4 1.4 0 1 0 2.8 0a1.4 1.4 0 1 0 -2.8 0M50.8 469.6a1.3 1.3 0 1 0 2.7 0a1.3 1.3 0 1 0 -2.7 0M222.3 444.4a2.7 2.7 0 1 0 5.5 0a2.7 2.7 0 1 0 -5.5 0M49.5 498.3a2.0 2.0 0 1 0 4.0 0a2.0 2.0 0 1 0 -4.0 0M49.8 432.7a2.4 2.4 0 1 0 4.8 0a2.4 2.4 0 1 0 -4.8 0M220.9 465.3a2.7 2.7 0 1 0 5.4 0a2.7 2.7 0 1 0 -5.4 0M26.2 465.9a1.8 1.8 0 1 0 3.6 0a1.8 1.8 0 1 0 -3.6 0M227.1 422.5a3.5 3.5 0 1 0 7.1 0a3.5 3.5 0 1 0 -7.1 0M226.2 434.5a1.9 1.9 0 1 0 3.8 0a1.9 1.9 0 1 0 -3.8 0M31.6 421.7a1.5 1.5 0 1 0 3.1 0a1.5 1.5 0 1 0 -3.1 0M31.4 486.9a2.6 2.6 0 1 0 5.3 0a2.6 2.6 0 1 0 -5.3 0M32.2 502.0a2.3 2.3 0 1 0 4.7 0a2.3 2.3 0 1 0 -4.7 0M200.2 439.2a2.3 2.3 0 1 0 4.7 0a2.3 2.3 0 1 0 -4.7 0M83.5 417.9a1.9 1.9 0 1 0 3.8 0a1.9 1.9 0 1 0 -3.8 0M213.4 420.7a1.6 1.6 0 1 0 3.2 0a1.6 1.6 0 1 0 -3.2 0M219.3 407.2a1.8 1.8 0 1 0 3.6 0a1.8 1.8 0 1 0 -3.6 0M18.6 479.4a1.4 1.4 0 1 0 2.8 0a1.4 1.4 0 1 0 -2.8 0M86.7 436.0a2.8 2.8 0 1 0 5.5 0a2.8 2.8 0 1 0 -5.5 0M55.9 497.8a1.8 1.8 0 1 0 3.6 0a1.8 1.8 0 1 0 -3.6 0M122.8 482.0a2.6 2.6 0 1 0 5.3 0a2.6 2.6 0 1 0 -5.3 0M225.8 476.7a2.0 2.0 0 1 0 4.0 0a2.0 2.0 0 1 0 -4.0 0M182.6 431.2a1.4 1.4 0 1 0 2.8 0a1.4 1.4 0 1 0 -2.8 0M130.3 405.8a2.3 2.3 0 1 0 4.7 0a2.3 2.3 0 1 0 -4.7 0M120.8 470.0a1.4 1.4 0 1 0 2.7 0a1.4 1.4 0 1 0 -2.7 0M23.0 475.7a1.3 1.3 0 1 0 2.6 0a1.3 1.3 0 1 0 -2.6 0M141.9 444.0a2.7 2.7 0 1 0 5.4 0a2.7 2.7 0 1 0 -5.4 0M220.3 416.8a2.8 2.8 0 1 0 5.7 0a2.8 2.8 0 1 0 -5.7 0M169.5 447.1a1.3 1.3 0 1 0 2.6 0a1.3 1.3 0 1 0 -2.6 0M68.5 440.2a2.3 2.3 0 1 0 4.5 0a2.3 2.3 0 1 0 -4.5 0M213.3 501.3a1.3 1.3 0 1 0 2.6 0a1.3 1.3 0 1 0 -2.6 0M163.6 490.8a1.5 1.5 0 1 0 3.1 0a1.5 1.5 0 1 0 -3.1 0M217.8 464.4a1.6 1.6 0 1 0 3.2 0a1.6 1.6 0 1 0 -3.2 0M140.6 487.4a2.0 2.0 0 1 0 4.1 0a2.0 2.0 0 1 0 -4.1 0" fill="none" stroke="rgb(78,78,78)" stroke-width="0.75"/>
<path d="M90.1 498.7a2.7 2.7 0 1 0 5.4 0a2.7 2.7 0 1 0 -5.4 0M178.0 494.5a3.4 3.4 0 1 0 6.8 0a3.4 3.4 0 1 0 -6.8 0M36.4 409.1a3.3 3.3 0 1 0 6.6 0a3.3 3.3 0 1 0 -6.6 0M67.2 477.8a4.5 4.5 0 1 0 9.0 0a4.5 4.5 0 1 0 -9.0 0M183.5 414.2a1.5 1.5 0 1 0 3.0 0a1.5 1.5 0 1 0 -3.0 0M74.2 443.4a2.2 2.2 0 1 0 4.5 0a2.2 2.2 0 1 0 -4.5 0M44.4 416.0a1.3 1.3 0 1 0 2.6 0a1.3 1.3 0 1 0 -2.6 0M207.9 466.9a1.5 1.5 0 1 0 3.0 0a1.5 1.5 0 1 0 -3.0 0M223.7 413.3a3.2 3.2 0 1 0 6.5 0a3.2 3.2 0 1 0 -6.5 0M187.2 474.3a1.3 1.3 0 1 0 2.7 0a1.3 1.3 0 1 0 -2.7 0M168.2 503.3a1.9 1.9 0 1 0 3.9 0a1.9 1.9 0 1 0 -3.9 0M214.5 452.6a1.8 1.8 0 1 0 3.7 0a1.8 1.8 0 1 0 -3.7 0M107.9 494.4a2.3 2.3 0 1 0 4.6 0a2.3 2.3 0 1 0 -4.6 0M190.6 452.7a1.3 1.3 0 1 0 2.6 0a1.3 1.3 0 1 0 -2.6 0M61.6 481.6a2.8 2.8 0 1 0 5.6 0a2.8 2.8 0 1 0 -5.6 0M39.4 466.8a2.1 2.1 0 1 0 4.2 0a2.1 2.1 0 1 0 -4.2 0M105.6 444.1a2.2 2.2 0 1 0 4.3 0a2.2 2.2 0 1 0 -4.3 0M85.0 503.3a2.0 2.0 0 1 0 4.0 0a2.0 2.0 0 1 0 -4.0 0M60.0 487.3a3.0 3.0 0 1 0 6.0 0a3.0 3.0 0 1 0 -6.0 0M87.7 482.0a1.4 1.4 0 1 0 2.8 0a1.4 1.4 0 1 0 -2.8 0M195.2 451.9a2.0 2.0 0 1 0 3.9 0a2.0 2.0 0 1 0 -3.9 0M66.7 443.7a2.1 2.1 0 1 0 4.2 0a2.1 2.1 0 1 0 -4.2 0M118.9 496.1a3.8 3.8 0 1 0 7.6 0a3.8 3.8 0 1 0 -7.6 0M71.8 455.7a2.5 2.5 0 1 0 5.0 0a2.5 2.5 0 1 0 -5.0 0M53.5 429.9a1.3 1.3 0 1 0 2.6 0a1.3 1.3 0 1 0 -2.6 0M129.3 436.7a1.6 1.6 0 1 0 3.3 0a1.6 1.6 0 1 0 -3.3 0M114.0 500.2a2.5 2.5 0 1 0 5.0 0a2.5 2.5 0 1 0 -5.0 0M150.4 448.1a4.5 4.5 0 1 0 9.0 0a4.5 4.5 0 1 0 -9.0 0M117.7 446.4a2.6 2.6 0 1 0 5.1 0a2.6 2.6 0 1 0 -5.1 0M149.5 427.3a2.8 2.8 0 1 0 5.7 0a2.8 2.8 0 1 0 -5.7 0M86.4 445.5a4.0 4.0 0 1 0 7.9 0a4.0 4.0 0 1 0 -7.9 0M217.1 428.2a1.4 1.4 0 1 0 2.8 0a1.4 1.4 0 1 0 -2.8 0M100.1 424.5a2.4 2.4 0 1 0 4.8 0a2.4 2.4 0 1 0 -4.8 0M189.7 442.4a2.5 2.5 0 1 0 5.1 0a2.5 2.5 0 1 0 -5.1 0M31.3 470.5a1.7 1.7 0 1 0 3.4 0a1.7 1.7 0 1 0 -3.4 0M134.5 479.1a2.0 2.0 0 1 0 4.1 0a2.0 2.0 0 1 0 -4.1 0M211.9 483.1a2.6 2.6 0 1 0 5.3 0a2.6 2.6 0 1 0 -5.3 0M214.3 416.2a2.2 2.2 0 1 0 4.4 0a2.2 2.2 0 1 0 -4.4 0M221.5 484.3a2.1 2.1 0 1 0 4.3 0a2.1 2.1 0 1 0 -4.3 0M186.3 448.3a3.7 3.7 0 1 0 7.4 0a3.7 3.7 0 1 0 -7.4 0M184.4 408.0a3.5 3.5 0 1 0 7.0 0a3.5 3.5 0 1 0 -7.0 0M42.2 431.0a2.0 2.0 0 1 0 3.9 0a2.0 2.0 0 1 0 -3.9 0M52.3 459.6a2.7 2.7 0 1 0 5.4 0a2.7 2.7 0 1 0 -5.4 0M53.4 488.3a2.1 2.1 0 1 0 4.2 0a2.1 2.1 0 1 0 -4.2 0M45.0 451.3a2.0 2.0 0 1 0 4.0 0a2.0 2.0 0 1 0 -4.0 0M203.0 464.7a3.0 3.0 0 1 0 6.1 0a3.0 3.0 0 1 0 -6.1 0M136.9 482.1a2.3 2.3 0 1 0 4.7 0a2.3 2.3 0 1 0 -4.7 0M123.5 425.1a2.7 2.7 0 1 0 5.4 0a2.7 2.7 0 1 0 -5.4 0M98.0 434.8a2.3 2.3 0 1 0 4.6 0a2.3 2.3 0 1 0 -4.6 0M73.5 496.8a2.2 2.2 0 1 0 4.4 0a2.2 2.2 0 1 0 -4.4 0M27.4 476.9a1.4 1.4 0 1 0 2.8 0a1.4 1.4 0 1 0 -2.8 0M45.6 480.9a2.0 2.0 0 1 0 3.9 0a2.0 2.0 0 1 0 -3.9 0M105.7 451.3a2.9 2.9 0 1 0 5.8 0a2.9 2.9 0 1 0 -5.8 0M173.4 444.1a3.8 3.8 0 1 0 7.5 0a3.8 3.8 0 1 0 -7.5 0M152.8 433.4a2.7 2.7 0 1 0 5.4 0a2.7 2.7 0 1 0 -5.4 0M205.2 455.0a1.3 1.3 0 1 0 2.6 0a1.3 1.3 0 1 0 -2.6 0M113.6 468.6a3.9 3.9 0 1 0 7.7 0a3.9 3.9 0 1 0 -7.7 0M192.3 425.8a1.9 1.9 0 1 0 3.8 0a1.9 1.9 0 1 0 -3.8 0M107.8 420.7a3.2 3.2 0 1 0 6.4 0a3.2 3.2 0 1 0 -6.4 0M212.7 459.8a1.9 1.9 0 1 0 3.8 0a1.9 1.9 0 1 0 -3.8 0M85.0 414.1a3.2 3.2 0 1 0 6.4 0a3.2 3.2 0 1 0 -6.4 0M115.6 421.2a2.5 2.5 0 1 0 4.9 0a2.5 2.5 0 1 0 -4.9 0M18.6 446.2a1.7 1.7 0 1 0 3.5 0a1.7 1.7 0 1 0 -3.5 0M57.4 478.2a1.5 1.5 0 1 0 3.0 0a1.5 1.5 0 1 0 -3.0 0M66.6 427.9a1.7 1.7 0 1 0 3.4 0a1.7 1.7 0 1 0 -3.4 0M127.0 473.4a2.2 2.2 0 1 0 4.3 0a2.2 2.2 0 1 0 -4.3 0M36.5 503.0a2.4 2.4 0 1 0 4.9 0a2.4 2.4 0 1 0 -4.9 0M201.3 454.4a1.4 1.4 0 1 0 2.9 0a1.4 1.4 0 1 0 -2.9 0M67.9 495.5a1.8 1.8 0 1 0 3.5 0a1.8 1.8 0 1 0 -3.5 0M167.5 453.0a1.3 1.3 0 1 0 2.6 0a1.3 1.3 0 1 0 -2.6 0M150.7 410.8a2.0 2.0 0 1 0 4.0 0a2.0 2.0 0 1 0 -4.0 0M100.7 480.9a2.9 2.9 0 1 0 5.9 0a2.9 2.9 0 1 0 -5.9 0M157.5 429.0a2.6 2.6 0 1 0 5.3 0a2.6 2.6 0 1 0 -5.3 0M94.1 428.0a3.7 3.7 0 1 0 7.5 0a3.7 3.7 0 1 0 -7.5 0M127.7 409.2a2.1 2.1 0 1 0 4.3 0a2.1 2.1 0 1 0 -4.3 0M147.1 465.6a1.9 1.9 0 1 0 3.7 0a1.9 1.9 0 1 0 -3.7 0M228.5 437.1a2.5 2.5 0 1 0 5.1 0a2.5 2.5 0 1 0 -5.1 0M107.7 500.4a2.3 2.3 0 1 0 4.7 0a2.3 2.3 0 1 0 -4.7 0M223.0 434.3a1.3 1.3 0 1 0 2.6 0a1.3 1.3 0 1 0 -2.6 0M123.5 442.4a2.0 2.0 0 1 0 4.1 0a2.0 2.0 0 1 0 -4.1 0M45.7 430.7a2.2 2.2 0 1 0 4.5 0a2.2 2.2 0 1 0 -4.5 0M225.9 454.7a2.7 2.7 0 1 0 5.3 0a2.7 2.7 0 1 0 -5.3 0M44.7 442.5a1.3 1.3 0 1 0 2.6 0a1.3 1.3 0 1 0 -2.6 0M72.5 492.6a1.9 1.9 0 1 0 3.9 0a1.9 1.9 0 1 0 -3.9 0M105.6 407.3a2.0 2.0 0 1 0 3.9 0a2.0 2.0 0 1 0 -3.9 0M203.1 429.8a1.9 1.9 0 1 0 3.9 0a1.9 1.9 0 1 0 -3.9 0M197.6 418.3a1.4 1.4 0 1 0 2.8 0a1.4 1.4 0 1 0 -2.8 0M164.1 471.2a1.9 1.9 0 1 0 3.8 0a1.9 1.9 0 1 0 -3.8 0M35.1 479.7a2.0 2.0 0 1 0 4.0 0a2.0 2.0 0 1 0 -4.0 0M140.5 470.9a1.9 1.9 0 1 0 3.7 0a1.9 1.9 0 1 0 -3.7 0M79.2 493.6a1.4 1.4 0 1 0 2.7 0a1.4 1.4 0 1 0 -2.7 0M33.4 462.5a2.5 2.5 0 1 0 5.0 0a2.5 2.5 0 1 0 -5.0 0M180.9 406.5a1.5 1.5 0 1 0 3.0 0a1.5 1.5 0 1 0 -3.0 0M169.3 434.0a1.5 1.5 0 1 0 3.1 0a1.5 1.5 0 1 0 -3.1 0M98.5 492.4a1.9 1.9 0 1 0 3.7 0a1.9 1.9 0 1 0 -3.7 0M177.0 480.0a1.9 1.9 0 1 0 3.8 0a1.9 1.9 0 1 0 -3.8 0M141.7 474.5a1.5 1.5 0 1 0 3.0 0a1.5 1.5 0 1 0 -3.0 0M217.7 431.8a1.4 1.4 0 1 0 2.9 0a1.4 1.4 0 1 0 -2.9 0M151.0 476.3a2.2 2.2 0 1 0 4.3 0a2.2 2.2 0 1 0 -4.3 0M37.4 484.9a1.3 1.3 0 1 0 2.6 0a1.3 1.3 0 1 0 -2.6 0M199.2 495.6a1.3 1.3 0 1 0 2.6 0a1.3 1.3 0 1 0 -2.6 0M209.6 409.4a1.8 1.8 0 1 0 3.6 0a1.8 1.8 0 1 0 -3.6 0M91.8 413.4a2.4 2.4 0 1 0 4.8 0a2.4 2.4 0 1 0 -4.8 0M220.2 496.3a1.3 1.3 0 1 0 2.6 0a1.3 1.3 0 1 0 -2.6 0M55.4 412.9a1.7 1.7 0 1 0 3.4 0a1.7 1.7 0 1 0 -3.4 0M182.5 467.7a1.3 1.3 0 1 0 2.6 0a1.3 1.3 0 1 0 -2.6 0M200.0 410.5a2.9 2.9 0 1 0 5.8 0a2.9 2.9 0 1 0 -5.8 0M48.0 447.7a1.6 1.6 0 1 0 3.2 0a1.6 1.6 0 1 0 -3.2 0M140.5 406.5a1.3 1.3 0 1 0 2.6 0a1.3 1.3 0 1 0 -2.6 0M113.4 494.9a2.5 2.5 0 1 0 5.1 0a2.5 2.5 0 1 0 -5.1 0M214.4 431.2a1.3 1.3 0 1 0 2.6 0a1.3 1.3 0 1 0 -2.6 0" fill="none" stroke="rgb(60,60,60)" stroke-width="0.55"/>
<path d="M143.2 462.7a2.1 2.1 0 1 0 4.1 0a2.1 2.1 0 1 0 -4.1 0M179.8 435.2a2.9 2.9 0 1 0 5.8 0a2.9 2.9 0 1 0 -5.8 0M99.5 446.6a3.1 3.1 0 1 0 6.3 0a3.1 3.1 0 1 0 -6.3 0M160.3 415.5a2.2 2.2 0 1 0 4.3 0a2.2 2.2 0 1 0 -4.3 0M210.7 430.5a1.8 1.8 0 1 0 3.6 0a1.8 1.8 0 1 0 -3.6 0M30.9 477.6a2.6 2.6 0 1 0 5.2 0a2.6 2.6 0 1 0 -5.2 0M138.8 493.8a2.2 2.2 0 1 0 4.4 0a2.2 2.2 0 1 0 -4.4 0M129.5 415.1a4.5 4.5 0 1 0 9.1 0a4.5 4.5 0 1 0 -9.1 0M105.7 471.8a2.8 2.8 0 1 0 5.7 0a2.8 2.8 0 1 0 -5.7 0M99.1 476.4a2.1 2.1 0 1 0 4.2 0a2.1 2.1 0 1 0 -4.2 0M87.5 408.1a2.8 2.8 0 1 0 5.5 0a2.8 2.8 0 1 0 -5.5 0M33.8 469.1a3.4 3.4 0 1 0 6.9 0a3.4 3.4 0 1 0 -6.9 0M99.5 488.5a1.8 1.8 0 1 0 3.7 0a1.8 1.8 0 1 0 -3.7 0M27.6 445.0a2.7 2.7 0 1 0 5.3 0a2.7 2.7 0 1 0 -5.3 0M127.9 483.0a2.5 2.5 0 1 0 4.9 0a2.5 2.5 0 1 0 -4.9 0M103.3 500.4a1.3 1.3 0 1 0 2.6 0a1.3 1.3 0 1 0 -2.6 0M74.2 489.2a2.2 2.2 0 1 0 4.5 0a2.2 2.2 0 1 0 -4.5 0M227.9 468.5a1.9 1.9 0 1 0 3.9 0a1.9 1.9 0 1 0 -3.9 0M121.5 474.4a1.4 1.4 0 1 0 2.7 0a1.4 1.4 0 1 0 -2.7 0M100.0 497.5a2.6 2.6 0 1 0 5.3 0a2.6 2.6 0 1 0 -5.3 0M26.4 457.7a1.7 1.7 0 1 0 3.3 0a1.7 1.7 0 1 0 -3.3 0M176.4 456.4a1.6 1.6 0 1 0 3.2 0a1.6 1.6 0 1 0 -3.2 0M66.3 499.9a3.1 3.1 0 1 0 6.2 0a3.1 3.1 0 1 0 -6.2 0M126.6 433.6a1.5 1.5 0 1 0 3.0 0a1.5 1.5 0 1 0 -3.0 0M206.4 459.0a1.4 1.4 0 1 0 2.8 0a1.4 1.4 0 1 0 -2.8 0M231.2 431.2a2.3 2.3 0 1 0 4.5 0a2.3 2.3 0 1 0 -4.5 0M172.4 434.2a2.5 2.5 0 1 0 4.9 0a2.5 2.5 0 1 0 -4.9 0M120.6 449.6a2.6 2.6 0 1 0 5.3 0a2.6 2.6 0 1 0 -5.3 0M69.4 483.7a1.3 1.3 0 1 0 2.6 0a1.3 1.3 0 1 0 -2.6 0M147.2 440.2a2.1 2.1 0 1 0 4.1 0a2.1 2.1 0 1 0 -4.1 0M33.9 492.3a1.5 1.5 0 1 0 3.1 0a1.5 1.5 0 1 0 -3.1 0M168.2 458.1a1.4 1.4 0 1 0 2.7 0a1.4 1.4 0 1 0 -2.7 0M23.8 449.5a2.0 2.0 0 1 0 3.9 0a2.0 2.0 0 1 0 -3.9 0M163.5 502.9a1.6 1.6 0 1 0 3.3 0a1.6 1.6 0 1 0 -3.3 0M151.6 464.1a1.3 1.3 0 1 0 2.6 0a1.3 1.3 0 1 0 -2.6 0M204.8 412.1a2.6 2.6 0 1 0 5.3 0a2.6 2.6 0 1 0 -5.3 0M143.4 457.9a1.9 1.9 0 1 0 3.7 0a1.9 1.9 0 1 0 -3.7 0M197.8 432.8a2.6 2.6 0 1 0 5.2 0a2.6 2.6 0 1 0 -5.2 0M61.1 474.8a3.3 3.3 0 1 0 6.6 0a3.3 3.3 0 1 0 -6.6 0M61.1 417.6a2.1 2.1 0 1 0 4.1 0a2.1 2.1 0 1 0 -4.1 0M232.3 495.4a2.3 2.3 0 1 0 4.5 0a2.3 2.3 0 1 0 -4.5 0M201.8 496.4a1.3 1.3 0 1 0 2.6 0a1.3 1.3 0 1 0 -2.6 0M100.4 431.0a1.4 1.4 0 1 0 2.8 0a1.4 1.4 0 1 0 -2.8 0M184.3 471.2a2.1 2.1 0 1 0 4.1 0a2.1 2.1 0 1 0 -4.1 0M128.9 493.3a1.4 1.4 0 1 0 2.8 0a1.4 1.4 0 1 0 -2.8 0M168.2 472.5a1.7 1.7 0 1 0 3.5 0a1.7 1.7 0 1 0 -3.5 0M114.3 476.5a1.6 1.6 0 1 0 3.1 0a1.6 1.6 0 1 0 -3.1 0" fill="none" stroke="rgb(120,120,120)" stroke-width="0.75"/>
<path d="M227.7 409.5a2.5 2.5 0 1 0 5.0 0a2.5 2.5 0 1 0 -5.0 0M37.3 496.4a4.1 4.1 0 1 0 8.2 0a4.1 4.1 0 1 0 -8.2 0M230.1 484.8a2.9 2.9 0 1 0 5.9 0a2.9 2.9 0 1 0 -5.9 0M171.7 449.4a2.6 2.6 0 1 0 5.2 0a2.6 2.6 0 1 0 -5.2 0M53.9 434.1a2.0 2.0 0 1 0 4.0 0a2.0 2.0 0 1 0 -4.0 0M184.1 442.8a1.9 1.9 0 1 0 3.7 0a1.9 1.9 0 1 0 -3.7 0M55.1 453.5a4.6 4.6 0 1 0 9.3 0a4.6 4.6 0 1 0 -9.3 0M62.7 439.7a2.9 2.9 0 1 0 5.9 0a2.9 2.9 0 1 0 -5.9 0M108.4 440.9a3.0 3.0 0 1 0 6.1 0a3.0 3.0 0 1 0 -6.1 0M116.9 474.7a1.3 1.3 0 1 0 2.7 0a1.3 1.3 0 1 0 -2.7 0M225.5 430.1a2.9 2.9 0 1 0 5.8 0a2.9 2.9 0 1 0 -5.8 0M219.9 479.2a2.7 2.7 0 1 0 5.3 0a2.7 2.7 0 1 0 -5.3 0M83.1 454.2a2.9 2.9 0 1 0 5.7 0a2.9 2.9 0 1 0 -5.7 0M43.3 406.9a2.1 2.1 0 1 0 4.2 0a2.1 2.1 0 1 0 -4.2 0M78.5 464.7a1.6 1.6 0 1 0 3.2 0a1.6 1.6 0 1 0 -3.2 0M21.1 439.0a1.5 1.5 0 1 0 2.9 0a1.5 1.5 0 1 0 -2.9 0M232.4 434.7a1.4 1.4 0 1 0 2.8 0a1.4 1.4 0 1 0 -2.8 0M224.4 480.9a2.3 2.3 0 1 0 4.6 0a2.3 2.3 0 1 0 -4.6 0M122.6 429.2a1.4 1.4 0 1 0 2.8 0a1.4 1.4 0 1 0 -2.8 0M93.1 423.7a2.1 2.1 0 1 0 4.1 0a2.1 2.1 0 1 0 -4.1 0M66.9 452.5a1.4 1.4 0 1 0 2.9 0a1.4 1.4 0 1 0 -2.9 0M215.5 478.7a2.2 2.2 0 1 0 4.3 0a2.2 2.2 0 1 0 -4.3 0M97.4 501.5a2.0 2.0 0 1 0 4.1 0a2.0 2.0 0 1 0 -4.1 0M104.7 422.7a1.7 1.7 0 1 0 3.3 0a1.7 1.7 0 1 0 -3.3 0M124.6 485.4a1.4 1.4 0 1 0 2.9 0a1.4 1.4 0 1 0 -2.9 0M58.8 494.4a2.7 2.7 0 1 0 5.5 0a2.7 2.7 0 1 0 -5.5 0M156.2 463.9a1.3 1.3 0 1 0 2.6 0a1.3 1.3 0 1 0 -2.6 0" fill="none" stroke="rgb(98,98,98)" stroke-width="0.75"/>
<path d="M78.8 454.1a2.4 2.4 0 1 0 4.9 0a2.4 2.4 0 1 0 -4.9 0M112.2 414.0a2.5 2.5 0 1 0 5.1 0a2.5 2.5 0 1 0 -5.1 0M112.1 448.0a1.5 1.5 0 1 0 3.1 0a1.5 1.5 0 1 0 -3.1 0M152.6 423.0a3.9 3.9 0 1 0 7.8 0a3.9 3.9 0 1 0 -7.8 0M64.7 456.6a1.7 1.7 0 1 0 3.3 0a1.7 1.7 0 1 0 -3.3 0M123.6 477.6a2.3 2.3 0 1 0 4.7 0a2.3 2.3 0 1 0 -4.7 0M158.0 479.3a2.3 2.3 0 1 0 4.7 0a2.3 2.3 0 1 0 -4.7 0M71.1 446.4a2.3 2.3 0 1 0 4.5 0a2.3 2.3 0 1 0 -4.5 0M134.3 459.3a3.0 3.0 0 1 0 6.0 0a3.0 3.0 0 1 0 -6.0 0M142.8 423.9a2.1 2.1 0 1 0 4.2 0a2.1 2.1 0 1 0 -4.2 0M160.3 446.1a4.0 4.0 0 1 0 8.0 0a4.0 4.0 0 1 0 -8.0 0M215.3 464.2a1.3 1.3 0 1 0 2.6 0a1.3 1.3 0 1 0 -2.6 0M93.7 491.4a2.1 2.1 0 1 0 4.2 0a2.1 2.1 0 1 0 -4.2 0M100.3 485.6a1.5 1.5 0 1 0 2.9 0a1.5 1.5 0 1 0 -2.9 0M50.6 438.6a1.3 1.3 0 1 0 2.6 0a1.3 1.3 0 1 0 -2.6 0M86.5 460.7a4.0 4.0 0 1 0 8.0 0a4.0 4.0 0 1 0 -8.0 0M80.1 424.6a4.7 4.7 0 1 0 9.4 0a4.7 4.7 0 1 0 -9.4 0M200.5 476.1a1.8 1.8 0 1 0 3.6 0a1.8 1.8 0 1 0 -3.6 0M130.8 479.5a2.1 2.1 0 1 0 4.2 0a2.1 2.1 0 1 0 -4.2 0M182.2 503.1a3.2 3.2 0 1 0 6.3 0a3.2 3.2 0 1 0 -6.3 0M128.3 450.0a2.5 2.5 0 1 0 4.9 0a2.5 2.5 0 1 0 -4.9 0M211.3 488.0a1.5 1.5 0 1 0 3.0 0a1.5 1.5 0 1 0 -3.0 0M177.6 430.0a2.0 2.0 0 1 0 3.9 0a2.0 2.0 0 1 0 -3.9 0M168.4 492.5a1.3 1.3 0 1 0 2.6 0a1.3 1.3 0 1 0 -2.6 0M137.7 449.3a1.3 1.3 0 1 0 2.7 0a1.3 1.3 0 1 0 -2.7 0M197.2 414.2a2.6 2.6 0 1 0 5.2 0a2.6 2.6 0 1 0 -5.2 0M135.2 495.7a2.3 2.3 0 1 0 4.5 0a2.3 2.3 0 1 0 -4.5 0M146.7 474.7a1.7 1.7 0 1 0 3.4 0a1.7 1.7 0 1 0 -3.4 0M28.3 460.6a2.6 2.6 0 1 0 5.2 0a2.6 2.6 0 1 0 -5.2 0M111.5 484.6a3.9 3.9 0 1 0 7.9 0a3.9 3.9 0 1 0 -7.9 0M109.5 479.2a3.0 3.0 0 1 0 6.1 0a3.0 3.0 0 1 0 -6.1 0M143.5 453.4a1.8 1.8 0 1 0 3.5 0a1.8 1.8 0 1 0 -3.5 0M78.4 441.1a1.7 1.7 0 1 0 3.5 0a1.7 1.7 0 1 0 -3.5 0M175.4 426.9a2.1 2.1 0 1 0 4.2 0a2.1 2.1 0 1 0 -4.2 0M69.7 436.7a1.3 1.3 0 1 0 2.7 0a1.3 1.3 0 1 0 -2.7 0M72.9 438.2a1.5 1.5 0 1 0 2.9 0a1.5 1.5 0 1 0 -2.9 0M92.4 437.4a1.4 1.4 0 1 0 2.8 0a1.4 1.4 0 1 0 -2.8 0M52.7 448.1a1.3 1.3 0 1 0 2.6 0a1.3 1.3 0 1 0 -2.6 0M52.9 438.2a2.0 2.0 0 1 0 4.0 0a2.0 2.0 0 1 0 -4.0 0M172.6 429.6a1.3 1.3 0 1 0 2.6 0a1.3 1.3 0 1 0 -2.6 0M78.6 471.0a2.9 2.9 0 1 0 5.8 0a2.9 2.9 0 1 0 -5.8 0M139.6 460.4a2.0 2.0 0 1 0 4.1 0a2.0 2.0 0 1 0 -4.1 0" fill="none" stroke="rgb(150,150,150)" stroke-width="0.55"/>
<path d="M80.0 496.5a2.6 2.6 0 1 0 5.1 0a2.6 2.6 0 1 0 -5.1 0M100.5 452.8a2.7 2.7 0 1 0 5.3 0a2.7 2.7 0 1 0 -5.3 0M128.3 423.0a3.8 3.8 0 1 0 7.5 0a3.8 3.8 0 1 0 -7.5 0M73.6 503.4a3.5 3.5 0 1 0 7.0 0a3.5 3.5 0 1 0 -7.0 0M117.5 481.4a2.6 2.6 0 1 0 5.1 0a2.6 2.6 0 1 0 -5.1 0M23.2 502.0a4.0 4.0 0 1 0 8.0 0a4.0 4.0 0 1 0 -8.0 0M83.5 471.3a7.0 7.0 0 1 0 13.9 0a7.0 7.0 0 1 0 -13.9 0M37.5 476.7a1.8 1.8 0 1 0 3.6 0a1.8 1.8 0 1 0 -3.6 0M75.0 435.3a3.6 3.6 0 1 0 7.3 0a3.6 3.6 0 1 0 -7.3 0M39.2 471.6a2.7 2.7 0 1 0 5.5 0a2.7 2.7 0 1 0 -5.5 0M178.4 415.8a2.5 2.5 0 1 0 5.1 0a2.5 2.5 0 1 0 -5.1 0M39.4 454.4a3.4 3.4 0 1 0 6.8 0a3.4 3.4 0 1 0 -6.8 0M25.9 417.6a3.1 3.1 0 1 0 6.1 0a3.1 3.1 0 1 0 -6.1 0M159.6 407.9a3.9 3.9 0 1 0 7.8 0a3.9 3.9 0 1 0 -7.8 0M216.5 483.3a2.9 2.9 0 1 0 5.7 0a2.9 2.9 0 1 0 -5.7 0M35.8 440.1a2.8 2.8 0 1 0 5.7 0a2.8 2.8 0 1 0 -5.7 0M89.0 491.2a2.0 2.0 0 1 0 3.9 0a2.0 2.0 0 1 0 -3.9 0M80.8 476.8a3.0 3.0 0 1 0 5.9 0a3.0 3.0 0 1 0 -5.9 0M49.9 416.9a3.6 3.6 0 1 0 7.2 0a3.6 3.6 0 1 0 -7.2 0M185.1 496.4a2.2 2.2 0 1 0 4.4 0a2.2 2.2 0 1 0 -4.4 0M229.4 479.4a2.9 2.9 0 1 0 5.9 0a2.9 2.9 0 1 0 -5.9 0M159.0 434.7a3.3 3.3 0 1 0 6.6 0a3.3 3.3 0 1 0 -6.6 0M23.0 456.5a2.1 2.1 0 1 0 4.1 0a2.1 2.1 0 1 0 -4.1 0M189.6 412.2a2.1 2.1 0 1 0 4.1 0a2.1 2.1 0 1 0 -4.1 0M65.1 469.8a1.8 1.8 0 1 0 3.6 0a1.8 1.8 0 1 0 -3.6 0M199.1 467.7a2.2 2.2 0 1 0 4.5 0a2.2 2.2 0 1 0 -4.5 0M35.4 426.2a2.6 2.6 0 1 0 5.2 0a2.6 2.6 0 1 0 -5.2 0M44.4 470.8a2.7 2.7 0 1 0 5.4 0a2.7 2.7 0 1 0 -5.4 0M228.9 497.8a2.5 2.5 0 1 0 4.9 0a2.5 2.5 0 1 0 -4.9 0M89.8 430.3a2.1 2.1 0 1 0 4.1 0a2.1 2.1 0 1 0 -4.1 0M16.2 496.0a4.3 4.3 0 1 0 8.5 0a4.3 4.3 0 1 0 -8.5 0M33.2 498.0a1.7 1.7 0 1 0 3.3 0a1.7 1.7 0 1 0 -3.3 0M181.8 489.6a2.1 2.1 0 1 0 4.2 0a2.1 2.1 0 1 0 -4.2 0M110.8 451.5a2.4 2.4 0 1 0 4.9 0a2.4 2.4 0 1 0 -4.9 0M213.9 491.2a2.0 2.0 0 1 0 4.1 0a2.0 2.0 0 1 0 -4.1 0M210.8 496.3a2.0 2.0 0 1 0 4.0 0a2.0 2.0 0 1 0 -4.0 0M141.9 438.0a2.7 2.7 0 1 0 5.3 0a2.7 2.7 0 1 0 -5.3 0M190.5 469.1a1.9 1.9 0 1 0 3.8 0a1.9 1.9 0 1 0 -3.8 0M176.6 432.6a1.3 1.3 0 1 0 2.6 0a1.3 1.3 0 1 0 -2.6 0M129.0 467.9a2.8 2.8 0 1 0 5.7 0a2.8 2.8 0 1 0 -5.7 0M181.3 486.8a1.5 1.5 0 1 0 3.0 0a1.5 1.5 0 1 0 -3.0 0M124.7 416.5a1.9 1.9 0 1 0 3.7 0a1.9 1.9 0 1 0 -3.7 0M206.1 482.3a2.6 2.6 0 1 0 5.2 0a2.6 2.6 0 1 0 -5.2 0M137.6 441.5a1.3 1.3 0 1 0 2.6 0a1.3 1.3 0 1 0 -2.6 0M139.7 501.8a1.6 1.6 0 1 0 3.1 0a1.6 1.6 0 1 0 -3.1 0M148.7 455.9a3.0 3.0 0 1 0 6.1 0a3.0 3.0 0 1 0 -6.1 0M182.4 473.7a1.5 1.5 0 1 0 3.0 0a1.5 1.5 0 1 0 -3.0 0M45.7 439.8a2.6 2.6 0 1 0 5.1 0a2.6 2.6 0 1 0 -5.1 0M177.0 499.0a1.7 1.7 0 1 0 3.5 0a1.7 1.7 0 1 0 -3.5 0M63.6 443.8a1.4 1.4 0 1 0 2.8 0a1.4 1.4 0 1 0 -2.8 0M203.0 472.2a1.9 1.9 0 1 0 3.9 0a1.9 1.9 0 1 0 -3.9 0M163.0 426.9a2.4 2.4 0 1 0 4.8 0a2.4 2.4 0 1 0 -4.8 0M230.6 427.3a2.3 2.3 0 1 0 4.6 0a2.3 2.3 0 1 0 -4.6 0M216.6 447.3a3.3 3.3 0 1 0 6.6 0a3.3 3.3 0 1 0 -6.6 0M146.2 429.8a1.4 1.4 0 1 0 2.9 0a1.4 1.4 0 1 0 -2.9 0M64.6 418.9a1.7 1.7 0 1 0 3.4 0a1.7 1.7 0 1 0 -3.4 0M68.0 466.6a2.6 2.6 0 1 0 5.2 0a2.6 2.6 0 1 0 -5.2 0" fill="none" stroke="rgb(98,98,98)" stroke-width="0.55"/>
<path d="M152.7 469.3a4.4 4.4 0 1 0 8.8 0a4.4 4.4 0 1 0 -8.8 0M17.7 473.3a3.2 3.2 0 1 0 6.3 0a3.2 3.2 0 1 0 -6.3 0M149.1 489.3a1.3 1.3 0 1 0 2.6 0a1.3 1.3 0 1 0 -2.6 0M173.5 460.4a2.6 2.6 0 1 0 5.2 0a2.6 2.6 0 1 0 -5.2 0M208.4 443.7a3.8 3.8 0 1 0 7.6 0a3.8 3.8 0 1 0 -7.6 0M139.1 433.6a2.3 2.3 0 1 0 4.6 0a2.3 2.3 0 1 0 -4.6 0M23.9 473.1a2.0 2.0 0 1 0 3.9 0a2.0 2.0 0 1 0 -3.9 0M109.8 462.0a3.5 3.5 0 1 0 7.1 0a3.5 3.5 0 1 0 -7.1 0M48.5 411.7a1.6 1.6 0 1 0 3.2 0a1.6 1.6 0 1 0 -3.2 0M105.4 484.8a3.2 3.2 0 1 0 6.4 0a3.2 3.2 0 1 0 -6.4 0M138.6 426.8a3.0 3.0 0 1 0 6.0 0a3.0 3.0 0 1 0 -6.0 0M24.4 439.1a1.4 1.4 0 1 0 2.8 0a1.4 1.4 0 1 0 -2.8 0M183.6 427.5a1.8 1.8 0 1 0 3.6 0a1.8 1.8 0 1 0 -3.6 0M39.1 447.8a4.1 4.1 0 1 0 8.1 0a4.1 4.1 0 1 0 -8.1 0M45.8 501.8a2.2 2.2 0 1 0 4.4 0a2.2 2.2 0 1 0 -4.4 0M148.7 469.3a2.3 2.3 0 1 0 4.5 0a2.3 2.3 0 1 0 -4.5 0M135.8 453.7a3.8 3.8 0 1 0 7.5 0a3.8 3.8 0 1 0 -7.5 0M116.6 462.6a2.7 2.7 0 1 0 5.5 0a2.7 2.7 0 1 0 -5.5 0M167.3 407.1a3.4 3.4 0 1 0 6.9 0a3.4 3.4 0 1 0 -6.9 0M219.1 425.4a3.3 3.3 0 1 0 6.6 0a3.3 3.3 0 1 0 -6.6 0M110.3 490.0a1.6 1.6 0 1 0 3.3 0a1.6 1.6 0 1 0 -3.3 0M171.6 474.5a1.4 1.4 0 1 0 2.9 0a1.4 1.4 0 1 0 -2.9 0M80.2 460.3a2.6 2.6 0 1 0 5.1 0a2.6 2.6 0 1 0 -5.1 0M134.4 501.2a2.3 2.3 0 1 0 4.5 0a2.3 2.3 0 1 0 -4.5 0M118.2 439.6a3.1 3.1 0 1 0 6.3 0a3.1 3.1 0 1 0 -6.3 0M216.8 487.0a1.4 1.4 0 1 0 2.9 0a1.4 1.4 0 1 0 -2.9 0M175.9 502.7a1.5 1.5 0 1 0 3.0 0a1.5 1.5 0 1 0 -3.0 0M206.3 499.5a1.8 1.8 0 1 0 3.6 0a1.8 1.8 0 1 0 -3.6 0M216.4 494.3a1.9 1.9 0 1 0 3.8 0a1.9 1.9 0 1 0 -3.8 0M31.0 413.5a1.7 1.7 0 1 0 3.4 0a1.7 1.7 0 1 0 -3.4 0M167.0 489.5a1.6 1.6 0 1 0 3.1 0a1.6 1.6 0 1 0 -3.1 0M78.6 448.3a1.4 1.4 0 1 0 2.8 0a1.4 1.4 0 1 0 -2.8 0M194.6 488.9a1.5 1.5 0 1 0 3.0 0a1.5 1.5 0 1 0 -3.0 0M192.5 454.6a1.4 1.4 0 1 0 2.8 0a1.4 1.4 0 1 0 -2.8 0M197.6 428.4a2.0 2.0 0 1 0 4.1 0a2.0 2.0 0 1 0 -4.1 0M221.5 437.7a2.6 2.6 0 1 0 5.2 0a2.6 2.6 0 1 0 -5.2 0M138.3 445.9a2.3 2.3 0 1 0 4.7 0a2.3 2.3 0 1 0 -4.7 0M136.3 422.1a1.9 1.9 0 1 0 3.9 0a1.9 1.9 0 1 0 -3.9 0M116.4 454.6a1.9 1.9 0 1 0 3.9 0a1.9 1.9 0 1 0 -3.9 0M47.8 476.7a3.8 3.8 0 1 0 7.6 0a3.8 3.8 0 1 0 -7.6 0M94.1 440.1a3.2 3.2 0 1 0 6.3 0a3.2 3.2 0 1 0 -6.3 0M174.6 477.0a1.3 1.3 0 1 0 2.6 0a1.3 1.3 0 1 0 -2.6 0M222.0 410.6a1.3 1.3 0 1 0 2.7 0a1.3 1.3 0 1 0 -2.7 0M231.9 474.2a2.8 2.8 0 1 0 5.5 0a2.8 2.8 0 1 0 -5.5 0M181.1 466.0a1.3 1.3 0 1 0 2.6 0a1.3 1.3 0 1 0 -2.6 0M189.4 461.4a2.4 2.4 0 1 0 4.8 0a2.4 2.4 0 1 0 -4.8 0M28.9 424.0a2.1 2.1 0 1 0 4.2 0a2.1 2.1 0 1 0 -4.2 0M57.2 490.0a1.3 1.3 0 1 0 2.6 0a1.3 1.3 0 1 0 -2.6 0M192.6 472.9a2.2 2.2 0 1 0 4.3 0a2.2 2.2 0 1 0 -4.3 0M209.4 460.5a1.9 1.9 0 1 0 3.8 0a1.9 1.9 0 1 0 -3.8 0M52.7 502.3a1.3 1.3 0 1 0 2.6 0a1.3 1.3 0 1 0 -2.6 0M122.7 467.0a1.4 1.4 0 1 0 2.8 0a1.4 1.4 0 1 0 -2.8 0M223.7 449.7a2.0 2.0 0 1 0 4.1 0a2.0 2.0 0 1 0 -4.1 0M154.6 441.8a1.7 1.7 0 1 0 3.4 0a1.7 1.7 0 1 0 -3.4 0M210.5 436.7a3.0 3.0 0 1 0 6.0 0a3.0 3.0 0 1 0 -6.0 0M148.7 406.3a2.4 2.4 0 1 0 4.8 0a2.4 2.4 0 1 0 -4.8 0M33.8 455.3a2.2 2.2 0 1 0 4.4 0a2.2 2.2 0 1 0 -4.4 0M207.3 440.1a1.6 1.6 0 1 0 3.3 0a1.6 1.6 0 1 0 -3.3 0M208.4 489.0a1.4 1.4 0 1 0 2.8 0a1.4 1.4 0 1 0 -2.8 0" fill="none" stroke="rgb(120,120,120)" stroke-width="0.55"/>
<path d="M175.5 465.4a3.1 3.1 0 1 0 6.2 0a3.1 3.1 0 1 0 -6.2 0M180.1 481.0a2.6 2.6 0 1 0 5.2 0a2.6 2.6 0 1 0 -5.2 0M64.4 434.3a2.8 2.8 0 1 0 5.5 0a2.8 2.8 0 1 0 -5.5 0M31.6 457.2a1.5 1.5 0 1 0 3.1 0a1.5 1.5 0 1 0 -3.1 0M89.7 451.3a3.7 3.7 0 1 0 7.4 0a3.7 3.7 0 1 0 -7.4 0M206.1 417.7a3.7 3.7 0 1 0 7.4 0a3.7 3.7 0 1 0 -7.4 0M227.2 449.0a3.4 3.4 0 1 0 6.9 0a3.4 3.4 0 1 0 -6.9 0M25.9 409.0a1.7 1.7 0 1 0 3.5 0a1.7 1.7 0 1 0 -3.5 0M144.8 450.5a2.1 2.1 0 1 0 4.3 0a2.1 2.1 0 1 0 -4.3 0M16.0 414.2a4.2 4.2 0 1 0 8.4 0a4.2 4.2 0 1 0 -8.4 0M186.6 434.7a2.7 2.7 0 1 0 5.4 0a2.7 2.7 0 1 0 -5.4 0M157.6 474.7a2.4 2.4 0 1 0 4.9 0a2.4 2.4 0 1 0 -4.9 0M138.9 477.5a2.1 2.1 0 1 0 4.3 0a2.1 2.1 0 1 0 -4.3 0M108.9 407.5a2.3 2.3 0 1 0 4.6 0a2.3 2.3 0 1 0 -4.6 0M227.2 492.9a3.2 3.2 0 1 0 6.3 0a3.2 3.2 0 1 0 -6.3 0M94.0 456.9a2.1 2.1 0 1 0 4.3 0a2.1 2.1 0 1 0 -4.3 0M211.0 465.0a2.2 2.2 0 1 0 4.4 0a2.2 2.2 0 1 0 -4.4 0M222.2 406.2a1.7 1.7 0 1 0 3.3 0a1.7 1.7 0 1 0 -3.3 0M19.2 428.5a1.8 1.8 0 1 0 3.6 0a1.8 1.8 0 1 0 -3.6 0M162.1 466.9a2.0 2.0 0 1 0 4.0 0a2.0 2.0 0 1 0 -4.0 0M208.7 432.9a1.4 1.4 0 1 0 2.8 0a1.4 1.4 0 1 0 -2.8 0M157.1 457.0a2.8 2.8 0 1 0 5.6 0a2.8 2.8 0 1 0 -5.6 0M114.4 424.2a1.5 1.5 0 1 0 3.0 0a1.5 1.5 0 1 0 -3.0 0M23.7 421.5a2.0 2.0 0 1 0 4.0 0a2.0 2.0 0 1 0 -4.0 0M227.7 442.7a3.7 3.7 0 1 0 7.4 0a3.7 3.7 0 1 0 -7.4 0M137.0 408.5a1.9 1.9 0 1 0 3.9 0a1.9 1.9 0 1 0 -3.9 0M56.4 418.2a1.3 1.3 0 1 0 2.6 0a1.3 1.3 0 1 0 -2.6 0" fill="none" stroke="rgb(150,150,150)" stroke-width="0.75"/>
</g>
<g filter="url(#blur03)"></g>
<g filter="url(#blur03)">
<path d="M68.8 411.3a8.0 8.0 0 1 0 16.0 0a8.0 8.0 0 1 0 -16.0 0M101.9 430.6a8.3 8.3 0 1 0 16.6 0a8.3 8.3 0 1 0 -16.6 0M119.2 457.3a6.8 6.8 0 1 0 13.6 0a6.8 6.8 0 1 0 -13.6 0M47.0 485.6a2.7 2.7 0 1 0 5.3 0a2.7 2.7 0 1 0 -5.3 0M45.2 426.1a2.7 2.7 0 1 0 5.3 0a2.7 2.7 0 1 0 -5.3 0M166.9 430.2a2.8 2.8 0 1 0 5.6 0a2.8 2.8 0 1 0 -5.6 0M172.9 409.2a4.5 4.5 0 1 0 9.1 0a4.5 4.5 0 1 0 -9.1 0M153.0 407.8a3.4 3.4 0 1 0 6.7 0a3.4 3.4 0 1 0 -6.7 0M55.5 429.3a2.6 2.6 0 1 0 5.1 0a2.6 2.6 0 1 0 -5.1 0M194.0 460.2a4.8 4.8 0 1 0 9.5 0a4.8 4.8 0 1 0 -9.5 0M115.6 489.9a3.6 3.6 0 1 0 7.2 0a3.6 3.6 0 1 0 -7.2 0M41.8 461.6a5.9 5.9 0 1 0 11.9 0a5.9 5.9 0 1 0 -11.9 0M129.9 488.0a4.9 4.9 0 1 0 9.8 0a4.9 4.9 0 1 0 -9.8 0M165.7 465.0a4.9 4.9 0 1 0 9.8 0a4.9 4.9 0 1 0 -9.8 0M22.4 483.3a5.1 5.1 0 1 0 10.1 0a5.1 5.1 0 1 0 -10.1 0M104.2 491.1a2.8 2.8 0 1 0 5.6 0a2.8 2.8 0 1 0 -5.6 0M123.9 469.5a2.6 2.6 0 1 0 5.2 0a2.6 2.6 0 1 0 -5.2 0M190.7 405.7a1.3 1.3 0 1 0 2.6 0a1.3 1.3 0 1 0 -2.6 0M178.9 474.9a1.8 1.8 0 1 0 3.5 0a1.8 1.8 0 1 0 -3.5 0M197.8 482.4a3.6 3.6 0 1 0 7.2 0a3.6 3.6 0 1 0 -7.2 0M183.7 461.1a2.6 2.6 0 1 0 5.3 0a2.6 2.6 0 1 0 -5.3 0M124.4 500.1a5.0 5.0 0 1 0 10.0 0a5.0 5.0 0 1 0 -10.0 0M166.3 416.3a4.9 4.9 0 1 0 9.7 0a4.9 4.9 0 1 0 -9.7 0M99.4 416.2a3.0 3.0 0 1 0 6.1 0a3.0 3.0 0 1 0 -6.1 0M231.2 415.1a1.5 1.5 0 1 0 3.0 0a1.5 1.5 0 1 0 -3.0 0M48.3 493.7a3.1 3.1 0 1 0 6.2 0a3.1 3.1 0 1 0 -6.2 0M93.2 478.7a2.3 2.3 0 1 0 4.7 0a2.3 2.3 0 1 0 -4.7 0M221.8 457.8a2.9 2.9 0 1 0 5.7 0a2.9 2.9 0 1 0 -5.7 0M101.9 467.0a2.7 2.7 0 1 0 5.5 0a2.7 2.7 0 1 0 -5.5 0M29.2 408.6a3.8 3.8 0 1 0 7.6 0a3.8 3.8 0 1 0 -7.6 0M63.2 429.4a1.9 1.9 0 1 0 3.9 0a1.9 1.9 0 1 0 -3.9 0M163.9 478.0a2.4 2.4 0 1 0 4.8 0a2.4 2.4 0 1 0 -4.8 0M134.2 450.2a1.8 1.8 0 1 0 3.6 0a1.8 1.8 0 1 0 -3.6 0M134.0 465.8a2.8 2.8 0 1 0 5.6 0a2.8 2.8 0 1 0 -5.6 0M42.4 411.4a2.5 2.5 0 1 0 5.0 0a2.5 2.5 0 1 0 -5.0 0M118.4 416.1a1.6 1.6 0 1 0 3.3 0a1.6 1.6 0 1 0 -3.3 0M28.3 439.1a1.6 1.6 0 1 0 3.1 0a1.6 1.6 0 1 0 -3.1 0M126.0 448.6a1.3 1.3 0 1 0 2.7 0a1.3 1.3 0 1 0 -2.7 0M171.9 503.0a1.8 1.8 0 1 0 3.5 0a1.8 1.8 0 1 0 -3.5 0" fill="none" stroke="#cc58da" stroke-width="1.1"/>
<path d="M216.8 503.2a3.4 3.4 0 1 0 6.8 0a3.4 3.4 0 1 0 -6.8 0M50.0 405.4a3.4 3.4 0 1 0 6.8 0a3.4 3.4 0 1 0 -6.8 0M189.8 498.1a4.8 4.8 0 1 0 9.6 0a4.8 4.8 0 1 0 -9.6 0M142.3 502.8a5.0 5.0 0 1 0 10.0 0a5.0 5.0 0 1 0 -10.0 0M204.5 438.4a1.9 1.9 0 1 0 3.7 0a1.9 1.9 0 1 0 -3.7 0M56.8 424.1a4.6 4.6 0 1 0 9.1 0a4.6 4.6 0 1 0 -9.1 0M85.9 494.1a2.3 2.3 0 1 0 4.7 0a2.3 2.3 0 1 0 -4.7 0M89.7 418.9a2.3 2.3 0 1 0 4.6 0a2.3 2.3 0 1 0 -4.6 0M56.9 408.5a2.6 2.6 0 1 0 5.2 0a2.6 2.6 0 1 0 -5.2 0M92.1 485.1a4.0 4.0 0 1 0 8.0 0a4.0 4.0 0 1 0 -8.0 0M186.5 486.4a4.7 4.7 0 1 0 9.4 0a4.7 4.7 0 1 0 -9.4 0M28.4 432.4a5.3 5.3 0 1 0 10.5 0a5.3 5.3 0 1 0 -10.5 0M138.3 412.8a4.7 4.7 0 1 0 9.5 0a4.7 4.7 0 1 0 -9.5 0M102.0 407.8a2.1 2.1 0 1 0 4.2 0a2.1 2.1 0 1 0 -4.2 0M160.8 496.7a4.4 4.4 0 1 0 8.9 0a4.4 4.4 0 1 0 -8.9 0M153.9 500.7a2.1 2.1 0 1 0 4.1 0a2.1 2.1 0 1 0 -4.1 0M189.2 478.8a3.9 3.9 0 1 0 7.7 0a3.9 3.9 0 1 0 -7.7 0M51.1 423.5a1.3 1.3 0 1 0 2.6 0a1.3 1.3 0 1 0 -2.6 0M207.2 472.5a6.5 6.5 0 1 0 12.9 0a6.5 6.5 0 1 0 -12.9 0M162.4 485.3a3.8 3.8 0 1 0 7.5 0a3.8 3.8 0 1 0 -7.5 0M229.0 459.3a4.3 4.3 0 1 0 8.7 0a4.3 4.3 0 1 0 -8.7 0M151.3 483.4a4.5 4.5 0 1 0 9.0 0a4.5 4.5 0 1 0 -9.0 0M199.0 502.5a3.5 3.5 0 1 0 7.1 0a3.5 3.5 0 1 0 -7.1 0M208.1 502.3a2.7 2.7 0 1 0 5.4 0a2.7 2.7 0 1 0 -5.4 0M188.0 417.7a3.9 3.9 0 1 0 7.8 0a3.9 3.9 0 1 0 -7.8 0M38.4 487.8a3.8 3.8 0 1 0 7.6 0a3.8 3.8 0 1 0 -7.6 0M65.7 460.5a3.9 3.9 0 1 0 7.7 0a3.9 3.9 0 1 0 -7.7 0M104.6 415.7a3.2 3.2 0 1 0 6.5 0a3.2 3.2 0 1 0 -6.5 0M117.3 426.1a2.8 2.8 0 1 0 5.6 0a2.8 2.8 0 1 0 -5.6 0M123.8 490.2a3.3 3.3 0 1 0 6.5 0a3.3 3.3 0 1 0 -6.5 0M19.8 457.8a1.5 1.5 0 1 0 2.9 0a1.5 1.5 0 1 0 -2.9 0M89.3 455.6a1.8 1.8 0 1 0 3.7 0a1.8 1.8 0 1 0 -3.7 0M204.2 478.5a2.4 2.4 0 1 0 4.9 0a2.4 2.4 0 1 0 -4.9 0M226.9 485.1a1.3 1.3 0 1 0 2.6 0a1.3 1.3 0 1 0 -2.6 0M207.5 455.3a2.4 2.4 0 1 0 4.8 0a2.4 2.4 0 1 0 -4.8 0M201.3 418.0a2.5 2.5 0 1 0 4.9 0a2.5 2.5 0 1 0 -4.9 0M183.0 452.4a2.9 2.9 0 1 0 5.8 0a2.9 2.9 0 1 0 -5.8 0M155.0 417.1a1.8 1.8 0 1 0 3.7 0a1.8 1.8 0 1 0 -3.7 0M179.8 457.9a2.4 2.4 0 1 0 4.7 0a2.4 2.4 0 1 0 -4.7 0M185.9 491.5a2.2 2.2 0 1 0 4.4 0a2.2 2.2 0 1 0 -4.4 0" fill="none" stroke="#cc58da" stroke-width="1.45"/>
</g>
<g filter="url(#blur03)"><path d="M58.3 470.5a1.9 1.9 0 1 0 3.8 0a1.9 1.9 0 1 0 -3.8 0M64.4 468.9a2.1 2.1 0 1 0 4.2 0a2.1 2.1 0 1 0 -4.2 0M171.1 482.9a2.4 2.4 0 1 0 4.8 0a2.4 2.4 0 1 0 -4.8 0M179.6 482.5a1.4 1.4 0 1 0 2.7 0a1.4 1.4 0 1 0 -2.7 0" fill="none" stroke="rgb(250,250,250)" stroke-width="0.8"/><path d="M217.2 473.1a0.9 0.9 0 1 0 1.8 0a0.9 0.9 0 1 0 -1.8 0M170.0 491.5a1.9 1.9 0 1 0 3.9 0a1.9 1.9 0 1 0 -3.9 0M210.5 472.3a0.8 0.8 0 1 0 1.6 0a0.8 0.8 0 1 0 -1.6 0M177.0 482.1a1.2 1.2 0 1 0 2.4 0a1.2 1.2 0 1 0 -2.4 0M61.9 467.3a1.0 1.0 0 1 0 2.0 0a1.0 1.0 0 1 0 -2.0 0" fill="rgb(170,170,170)"/><path d="M175.2 484.9a1.0 1.0 0 1 0 2.0 0a1.0 1.0 0 1 0 -2.0 0M173.8 481.9a1.9 1.9 0 1 0 3.8 0a1.9 1.9 0 1 0 -3.8 0M175.3 491.3a0.6 0.6 0 1 0 1.3 0a0.6 0.6 0 1 0 -1.3 0M171.8 487.9a1.3 1.3 0 1 0 2.6 0a1.3 1.3 0 1 0 -2.6 0M213.7 471.6a1.1 1.1 0 1 0 2.1 0a1.1 1.1 0 1 0 -2.1 0M210.8 470.4a1.6 1.6 0 1 0 3.2 0a1.6 1.6 0 1 0 -3.2 0M66.6 465.5a0.6 0.6 0 1 0 1.3 0a0.6 0.6 0 1 0 -1.3 0M56.2 465.2a0.6 0.6 0 1 0 1.2 0a0.6 0.6 0 1 0 -1.2 0M64.0 465.0a0.6 0.6 0 1 0 1.2 0a0.6 0.6 0 1 0 -1.2 0M171.4 488.3a1.8 1.8 0 1 0 3.6 0a1.8 1.8 0 1 0 -3.6 0" fill="rgb(250,250,250)"/><path d="M173.4 489.3a1.8 1.8 0 1 0 3.5 0a1.8 1.8 0 1 0 -3.5 0M64.1 466.8a1.7 1.7 0 1 0 3.4 0a1.7 1.7 0 1 0 -3.4 0M169.4 487.7a2.6 2.6 0 1 0 5.1 0a2.6 2.6 0 1 0 -5.1 0M60.2 469.7a2.0 2.0 0 1 0 4.1 0a2.0 2.0 0 1 0 -4.1 0M170.8 481.2a1.9 1.9 0 1 0 3.8 0a1.9 1.9 0 1 0 -3.8 0M214.5 472.7a2.0 2.0 0 1 0 4.1 0a2.0 2.0 0 1 0 -4.1 0M214.5 472.3a2.5 2.5 0 1 0 5.1 0a2.5 2.5 0 1 0 -5.1 0" fill="none" stroke="rgb(210,210,210)" stroke-width="0.8"/><path d="M170.5 486.2a1.3 1.3 0 1 0 2.5 0a1.3 1.3 0 1 0 -2.5 0M167.3 490.0a1.7 1.7 0 1 0 3.3 0a1.7 1.7 0 1 0 -3.3 0M168.8 483.3a1.2 1.2 0 1 0 2.3 0a1.2 1.2 0 1 0 -2.3 0M213.4 472.7a1.3 1.3 0 1 0 2.6 0a1.3 1.3 0 1 0 -2.6 0M59.3 466.8a2.1 2.1 0 1 0 4.2 0a2.1 2.1 0 1 0 -4.2 0M216.3 469.1a2.0 2.0 0 1 0 4.0 0a2.0 2.0 0 1 0 -4.0 0M169.8 489.4a2.2 2.2 0 1 0 4.4 0a2.2 2.2 0 1 0 -4.4 0M215.4 470.2a2.6 2.6 0 1 0 5.1 0a2.6 2.6 0 1 0 -5.1 0" fill="none" stroke="rgb(170,170,170)" stroke-width="0.8"/><path d="M212.0 469.4a1.9 1.9 0 1 0 3.8 0a1.9 1.9 0 1 0 -3.8 0M214.1 472.6a1.5 1.5 0 1 0 3.0 0a1.5 1.5 0 1 0 -3.0 0M58.0 461.4a1.1 1.1 0 1 0 2.1 0a1.1 1.1 0 1 0 -2.1 0M172.7 489.9a0.8 0.8 0 1 0 1.6 0a0.8 0.8 0 1 0 -1.6 0M172.0 480.7a0.7 0.7 0 1 0 1.3 0a0.7 0.7 0 1 0 -1.3 0M217.4 470.0a1.1 1.1 0 1 0 2.2 0a1.1 1.1 0 1 0 -2.2 0" fill="rgb(210,210,210)"/></g>
<path d="M38.0 425.4a0.6 0.6 0 1 0 1.2 0a0.6 0.6 0 1 0 -1.2 0M112.7 463.7a0.6 0.6 0 1 0 1.3 0a0.6 0.6 0 1 0 -1.3 0M75.6 416.9a0.8 0.8 0 1 0 1.7 0a0.8 0.8 0 1 0 -1.7 0M163.0 462.8a0.7 0.7 0 1 0 1.3 0a0.7 0.7 0 1 0 -1.3 0M64.0 475.1a0.5 0.5 0 1 0 1.0 0a0.5 0.5 0 1 0 -1.0 0M31.0 465.6a0.5 0.5 0 1 0 0.9 0a0.5 0.5 0 1 0 -0.9 0M150.7 444.0a0.4 0.4 0 1 0 0.8 0a0.4 0.4 0 1 0 -0.8 0M132.6 429.5a0.7 0.7 0 1 0 1.3 0a0.7 0.7 0 1 0 -1.3 0M88.1 501.4a0.5 0.5 0 1 0 1.0 0a0.5 0.5 0 1 0 -1.0 0M118.8 486.0a0.7 0.7 0 1 0 1.5 0a0.7 0.7 0 1 0 -1.5 0M63.0 425.3a0.6 0.6 0 1 0 1.2 0a0.6 0.6 0 1 0 -1.2 0M140.0 417.2a0.4 0.4 0 1 0 0.8 0a0.4 0.4 0 1 0 -0.8 0M46.1 425.1a0.4 0.4 0 1 0 0.9 0a0.4 0.4 0 1 0 -0.9 0M104.3 416.9a0.4 0.4 0 1 0 0.8 0a0.4 0.4 0 1 0 -0.8 0M183.7 410.3a0.8 0.8 0 1 0 1.6 0a0.8 0.8 0 1 0 -1.6 0M104.8 412.7a0.5 0.5 0 1 0 1.1 0a0.5 0.5 0 1 0 -1.1 0M221.4 489.2a0.7 0.7 0 1 0 1.5 0a0.7 0.7 0 1 0 -1.5 0M74.1 453.1a0.6 0.6 0 1 0 1.1 0a0.6 0.6 0 1 0 -1.1 0M190.6 491.4a0.6 0.6 0 1 0 1.1 0a0.6 0.6 0 1 0 -1.1 0M128.8 436.4a0.7 0.7 0 1 0 1.4 0a0.7 0.7 0 1 0 -1.4 0M135.0 494.6a0.8 0.8 0 1 0 1.5 0a0.8 0.8 0 1 0 -1.5 0M40.4 432.5a0.8 0.8 0 1 0 1.5 0a0.8 0.8 0 1 0 -1.5 0M148.6 455.6a0.8 0.8 0 1 0 1.5 0a0.8 0.8 0 1 0 -1.5 0M84.5 491.8a0.6 0.6 0 1 0 1.3 0a0.6 0.6 0 1 0 -1.3 0M210.0 485.0a0.6 0.6 0 1 0 1.3 0a0.6 0.6 0 1 0 -1.3 0M95.0 418.9a0.8 0.8 0 1 0 1.6 0a0.8 0.8 0 1 0 -1.6 0M110.3 478.4a0.5 0.5 0 1 0 0.9 0a0.5 0.5 0 1 0 -0.9 0M140.1 427.3a0.7 0.7 0 1 0 1.4 0a0.7 0.7 0 1 0 -1.4 0M98.8 497.2a0.7 0.7 0 1 0 1.4 0a0.7 0.7 0 1 0 -1.4 0M43.7 469.1a0.7 0.7 0 1 0 1.3 0a0.7 0.7 0 1 0 -1.3 0M201.3 482.1a0.8 0.8 0 1 0 1.6 0a0.8 0.8 0 1 0 -1.6 0M145.5 424.0a0.8 0.8 0 1 0 1.7 0a0.8 0.8 0 1 0 -1.7 0M93.3 474.5a0.8 0.8 0 1 0 1.6 0a0.8 0.8 0 1 0 -1.6 0M117.0 474.3a0.5 0.5 0 1 0 1.0 0a0.5 0.5 0 1 0 -1.0 0M154.5 463.3a0.7 0.7 0 1 0 1.5 0a0.7 0.7 0 1 0 -1.5 0M126.6 485.5a0.4 0.4 0 1 0 0.9 0a0.4 0.4 0 1 0 -0.9 0M144.6 416.9a0.4 0.4 0 1 0 0.9 0a0.4 0.4 0 1 0 -0.9 0M200.8 477.3a0.5 0.5 0 1 0 0.9 0a0.5 0.5 0 1 0 -0.9 0M142.4 431.1a0.4 0.4 0 1 0 0.7 0a0.4 0.4 0 1 0 -0.7 0M215.3 443.5a0.4 0.4 0 1 0 0.8 0a0.4 0.4 0 1 0 -0.8 0M21.7 487.3a0.4 0.4 0 1 0 0.7 0a0.4 0.4 0 1 0 -0.7 0M156.7 413.4a0.8 0.8 0 1 0 1.7 0a0.8 0.8 0 1 0 -1.7 0M63.3 464.9a0.5 0.5 0 1 0 1.1 0a0.5 0.5 0 1 0 -1.1 0M79.8 498.4a0.8 0.8 0 1 0 1.7 0a0.8 0.8 0 1 0 -1.7 0M71.7 499.7a0.8 0.8 0 1 0 1.7 0a0.8 0.8 0 1 0 -1.7 0M161.0 410.8a0.5 0.5 0 1 0 1.0 0a0.5 0.5 0 1 0 -1.0 0M26.2 436.6a0.4 0.4 0 1 0 0.7 0a0.4 0.4 0 1 0 -0.7 0M128.9 442.7a0.6 0.6 0 1 0 1.3 0a0.6 0.6 0 1 0 -1.3 0M68.7 410.9a0.4 0.4 0 1 0 0.7 0a0.4 0.4 0 1 0 -0.7 0M154.1 471.3a0.7 0.7 0 1 0 1.4 0a0.7 0.7 0 1 0 -1.4 0M102.9 436.1a0.6 0.6 0 1 0 1.2 0a0.6 0.6 0 1 0 -1.2 0M222.6 484.2a0.4 0.4 0 1 0 0.8 0a0.4 0.4 0 1 0 -0.8 0M33.0 477.8a0.5 0.5 0 1 0 1.1 0a0.5 0.5 0 1 0 -1.1 0M26.0 427.8a0.7 0.7 0 1 0 1.4 0a0.7 0.7 0 1 0 -1.4 0M175.7 408.0a0.7 0.7 0 1 0 1.4 0a0.7 0.7 0 1 0 -1.4 0M100.5 469.0a0.4 0.4 0 1 0 0.8 0a0.4 0.4 0 1 0 -0.8 0M162.3 417.2a0.6 0.6 0 1 0 1.2 0a0.6 0.6 0 1 0 -1.2 0M31.7 496.3a0.7 0.7 0 1 0 1.3 0a0.7 0.7 0 1 0 -1.3 0M156.4 489.9a0.7 0.7 0 1 0 1.4 0a0.7 0.7 0 1 0 -1.4 0M178.0 471.8a0.6 0.6 0 1 0 1.2 0a0.6 0.6 0 1 0 -1.2 0M213.6 482.8a0.4 0.4 0 1 0 0.8 0a0.4 0.4 0 1 0 -0.8 0M172.2 500.8a0.4 0.4 0 1 0 0.7 0a0.4 0.4 0 1 0 -0.7 0M132.9 497.5a0.4 0.4 0 1 0 0.8 0a0.4 0.4 0 1 0 -0.8 0M139.6 436.4a0.5 0.5 0 1 0 1.0 0a0.5 0.5 0 1 0 -1.0 0M102.1 475.7a0.4 0.4 0 1 0 0.8 0a0.4 0.4 0 1 0 -0.8 0M186.2 423.6a0.7 0.7 0 1 0 1.5 0a0.7 0.7 0 1 0 -1.5 0M106.6 479.8a0.6 0.6 0 1 0 1.2 0a0.6 0.6 0 1 0 -1.2 0M142.8 457.1a0.7 0.7 0 1 0 1.5 0a0.7 0.7 0 1 0 -1.5 0M107.4 488.5a0.7 0.7 0 1 0 1.4 0a0.7 0.7 0 1 0 -1.4 0M56.9 501.4a0.8 0.8 0 1 0 1.5 0a0.8 0.8 0 1 0 -1.5 0M87.7 428.3a0.7 0.7 0 1 0 1.3 0a0.7 0.7 0 1 0 -1.3 0M177.4 494.9a0.4 0.4 0 1 0 0.7 0a0.4 0.4 0 1 0 -0.7 0M155.1 452.6a0.4 0.4 0 1 0 0.8 0a0.4 0.4 0 1 0 -0.8 0M34.7 439.2a0.5 0.5 0 1 0 0.9 0a0.5 0.5 0 1 0 -0.9 0M195.4 466.4a0.5 0.5 0 1 0 1.0 0a0.5 0.5 0 1 0 -1.0 0M226.5 415.3a0.4 0.4 0 1 0 0.7 0a0.4 0.4 0 1 0 -0.7 0M156.5 484.7a0.5 0.5 0 1 0 1.0 0a0.5 0.5 0 1 0 -1.0 0M182.2 451.6a0.8 0.8 0 1 0 1.6 0a0.8 0.8 0 1 0 -1.6 0M129.7 427.4a0.7 0.7 0 1 0 1.4 0a0.7 0.7 0 1 0 -1.4 0M215.9 432.0a0.4 0.4 0 1 0 0.9 0a0.4 0.4 0 1 0 -0.9 0M98.2 467.1a0.8 0.8 0 1 0 1.6 0a0.8 0.8 0 1 0 -1.6 0M75.9 433.6a0.8 0.8 0 1 0 1.5 0a0.8 0.8 0 1 0 -1.5 0M111.0 414.5a0.4 0.4 0 1 0 0.8 0a0.4 0.4 0 1 0 -0.8 0M44.9 467.2a0.8 0.8 0 1 0 1.5 0a0.8 0.8 0 1 0 -1.5 0M59.9 479.0a0.5 0.5 0 1 0 1.0 0a0.5 0.5 0 1 0 -1.0 0M98.7 488.0a0.7 0.7 0 1 0 1.4 0a0.7 0.7 0 1 0 -1.4 0M114.6 466.3a0.8 0.8 0 1 0 1.7 0a0.8 0.8 0 1 0 -1.7 0M43.9 464.4a0.8 0.8 0 1 0 1.7 0a0.8 0.8 0 1 0 -1.7 0M23.6 450.2a0.6 0.6 0 1 0 1.3 0a0.6 0.6 0 1 0 -1.3 0M174.4 500.5a0.7 0.7 0 1 0 1.4 0a0.7 0.7 0 1 0 -1.4 0" fill="#c8c8c8" opacity="0.85"/>
<g filter="url(#blur05)"><ellipse cx="120.4" cy="448.3" rx="1.3" ry="1.0" fill="#c458cc"/><ellipse cx="37.2" cy="409.0" rx="2.4" ry="1.9" fill="#c458cc"/><ellipse cx="134.2" cy="412.2" rx="2.0" ry="1.6" fill="#c458cc"/><ellipse cx="130.5" cy="455.7" rx="1.5" ry="1.1" fill="#c458cc"/><ellipse cx="215.8" cy="481.9" rx="2.6" ry="2.0" fill="#c458cc"/><ellipse cx="91.3" cy="498.1" rx="1.6" ry="1.2" fill="#c458cc"/><ellipse cx="215.9" cy="476.4" rx="3.1" ry="2.4" fill="#c458cc"/><ellipse cx="79.4" cy="444.2" rx="3.6" ry="2.8" fill="#c458cc"/><ellipse cx="191.4" cy="421.1" rx="3.8" ry="2.9" fill="#c458cc"/><ellipse cx="83.0" cy="490.9" rx="1.6" ry="1.2" fill="#c458cc"/><ellipse cx="72.8" cy="471.5" rx="2.5" ry="1.9" fill="#c458cc"/><ellipse cx="160.9" cy="424.7" rx="3.4" ry="2.6" fill="#c458cc"/><ellipse cx="38.6" cy="499.8" rx="3.6" ry="2.8" fill="#c458cc"/><ellipse cx="44.3" cy="489.8" rx="3.3" ry="2.5" fill="#c458cc"/><ellipse cx="228.9" cy="427.0" rx="3.5" ry="2.7" fill="#c458cc"/><ellipse cx="27.3" cy="410.6" rx="3.0" ry="2.3" fill="#c458cc"/><ellipse cx="208.3" cy="455.3" rx="2.3" ry="1.7" fill="#c458cc"/><ellipse cx="207.2" cy="417.2" rx="2.6" ry="2.0" fill="#c458cc"/><ellipse cx="37.0" cy="468.0" rx="1.9" ry="1.5" fill="#c458cc"/><ellipse cx="73.6" cy="460.1" rx="3.0" ry="2.3" fill="#c458cc"/><ellipse cx="106.1" cy="423.8" rx="2.3" ry="1.7" fill="#c458cc"/><ellipse cx="64.1" cy="498.9" rx="1.5" ry="1.2" fill="#c458cc"/></g>
</g>
<clipPath id="ci21"><rect x="234" y="158.2" width="48.8" height="49.0"/></clipPath>
<rect x="234" y="158.2" width="48.8" height="49.0" fill="#070707"/>
<g clip-path="url(#ci21)">
<g fill="none"></g>

<g filter="url(#blur1)">
<ellipse cx="274" cy="165" rx="10" ry="7" fill="#444"/>
<ellipse cx="262" cy="160" rx="8" ry="3" fill="#333"/>
<ellipse cx="276" cy="199" rx="9" ry="8" fill="#5a5a5a"/>
<ellipse cx="247.5" cy="179" rx="6.2" ry="5.6" fill="#c464cc"/>
</g>
<g filter="url(#blur05)">
<path d="M234,180c3,1 5,4 6,8c1,4 1,8 0,12" fill="none" stroke="#e8e8e8" stroke-width="2.2"/>
<ellipse cx="278" cy="187" rx="4" ry="3" fill="#bbb"/>
<ellipse cx="272" cy="204" rx="5" ry="2.5" fill="#888"/>
</g>
<circle cx="235" cy="172" r="11" fill="none" stroke="#8a8a8a" stroke-width="0.8"/>
<circle cx="254" cy="214" r="18" fill="none" stroke="#a0a0a0" stroke-width="1"/>
<circle cx="264" cy="177.4" r="9.2" fill="#2a7a28" stroke="#cc58da" stroke-width="1.3"/>
<circle cx="264.5" cy="178" r="5.2" fill="#62d04e" filter="url(#blur1)"/>
<rect x="267" y="189.8" width="14.6" height="3.7" fill="#fff"/>

</g>
<clipPath id="ci22"><rect x="234" y="213.8" width="49.0" height="54.4"/></clipPath>
<rect x="234" y="213.8" width="49.0" height="54.4" fill="#070707"/>
<g clip-path="url(#ci22)">
<g fill="none"></g>

<g filter="url(#blur1)">
<ellipse cx="262" cy="216" rx="9" ry="3.5" fill="#3a3a3a"/>
<ellipse cx="276" cy="232" rx="6" ry="10" fill="#1e1e1e"/>
<ellipse cx="240" cy="250" rx="6" ry="5" fill="#262626"/>
<ellipse cx="272" cy="263" rx="9" ry="5" fill="#3a3a3a"/>
</g>
<g filter="url(#blur05)">
<ellipse cx="236.5" cy="229" rx="3" ry="5.5" fill="#ddd"/>
<ellipse cx="277.5" cy="262.5" rx="3.6" ry="3.6" fill="#8a8a8a"/>
</g>
<circle cx="249.8" cy="225.1" r="5.5" fill="#060606" stroke="#a0a0a0" stroke-width="0.8"/>
<circle cx="259.6" cy="230.4" r="3.7" fill="#4a2050" stroke="#cc58da" stroke-width="1.7"/>
<circle cx="249.4" cy="237.4" r="5.8" fill="#246e24" stroke="#cc58da" stroke-width="1.3"/>
<circle cx="261.6" cy="245" r="8.7" fill="#060606" stroke="#cc58da" stroke-width="1.3"/>
<circle cx="266" cy="239.5" r="1.7" fill="#fff" filter="url(#blur05)"/>
<circle cx="268.5" cy="249" r="1" fill="#eee"/>
<circle cx="236.2" cy="260.7" r="6.2" fill="#2a7a2a"/>
<circle cx="250.3" cy="270" r="9" fill="none" stroke="#999" stroke-width="0.8"/>
<circle cx="265" cy="265.5" r="3" fill="none" stroke="#cc58da" stroke-width="1.1"/>
<circle cx="270" cy="258.5" r="3.6" fill="none" stroke="#999" stroke-width="0.6"/>
<rect x="272" y="256.2" width="10.2" height="2.2" fill="#fff"/>

</g>
<clipPath id="ci23"><rect x="230.1" y="286.1" width="51.0" height="51.5"/></clipPath>
<rect x="230.1" y="286.1" width="51.0" height="51.5" fill="#070707"/>
<g clip-path="url(#ci23)">
<g fill="none"></g>

<g filter="url(#blur1)">
<ellipse cx="238" cy="292" rx="9" ry="6" fill="#3a3a3a"/>
<ellipse cx="236" cy="310" rx="6" ry="8" fill="#333"/>
<ellipse cx="252" cy="330" rx="10" ry="6" fill="#2e2e2e"/>
<ellipse cx="275" cy="318" rx="6" ry="5" fill="#3a3a3a"/>
<ellipse cx="262" cy="290" rx="6" ry="4" fill="#2e2e2e"/>
</g>
<g stroke="#9a9a9a" stroke-width="0.8" fill="#060606">
<circle cx="275.5" cy="306" r="7"/>
<circle cx="263" cy="326.5" r="8.3"/>
<circle cx="240" cy="303" r="4.8"/>
<circle cx="245" cy="338" r="6"/>
<circle cx="279" cy="331" r="4"/>
</g>
<circle cx="235.7" cy="320.1" r="5.3" fill="#2a2a2a" stroke="#aaa" stroke-width="0.9"/>
<path d="M268,319a8.3,8.3 0 0 1 3,8" fill="none" stroke="#b060b8" stroke-width="0.9"/>
<circle cx="272.9" cy="292.3" r="6" fill="#2d7d2a"/>
<circle cx="272.9" cy="292.3" r="3.5" fill="#3a9a35" filter="url(#blur1)"/>
<circle cx="257" cy="308.7" r="10.4" fill="#4cbc3c" stroke="#8a8a8a" stroke-width="0.6"/>
<circle cx="257.5" cy="309" r="7.5" fill="#62da4c" filter="url(#blur1)"/>
<ellipse cx="242.8" cy="294" rx="1.6" ry="2.6" fill="#c05ccc" filter="url(#blur05)"/>
<rect x="265.8" y="321.2" width="14.2" height="3.1" fill="#fff"/>

</g>
<clipPath id="ci24"><rect x="230.0" y="340.7" width="51.6" height="45.9"/></clipPath>
<rect x="230.0" y="340.7" width="51.6" height="45.9" fill="#070707"/>
<g clip-path="url(#ci24)">
<g fill="none"></g>

<g filter="url(#blur1)">
<ellipse cx="252" cy="343" rx="10" ry="4" fill="#333"/>
<ellipse cx="240" cy="370" rx="5" ry="6" fill="#2c2c2c"/>
<ellipse cx="268" cy="384" rx="10" ry="4" fill="#333"/>
<ellipse cx="277" cy="366" rx="4" ry="5" fill="#2c2c2c"/>
</g>
<g stroke="#9a9a9a" stroke-width="0.8" fill="#060606">
<circle cx="246" cy="346" r="5.5"/>
<circle cx="246" cy="357" r="5.5"/>
<circle cx="244.4" cy="376.5" r="4.5"/>
<circle cx="258.6" cy="380.3" r="4.5"/>
<circle cx="235" cy="378" r="4.5"/>
<circle cx="271" cy="377" r="4"/>
</g>
<circle cx="266.9" cy="344.6" r="5.2" fill="#2a6a28"/>
<circle cx="276.6" cy="355.5" r="4.6" fill="#1f4f1e"/>
<circle cx="260.2" cy="360.3" r="8.5" fill="#2f8a2c" stroke="#8a8a8a" stroke-width="0.5"/>
<circle cx="260.5" cy="361.5" r="6" fill="#5ed04a" filter="url(#blur1)"/>
<circle cx="235.2" cy="354.5" r="5.3" fill="#5cd048"/>
<ellipse cx="244.1" cy="367.4" rx="3.8" ry="3.1" fill="#5cd048"/>
<ellipse cx="275.5" cy="382.4" rx="3" ry="2.2" fill="#bbb" filter="url(#blur05)"/>
<circle cx="249" cy="352" r="0.9" fill="#fff"/>
<rect x="269.7" y="367.1" width="11.6" height="3.7" fill="#fff"/>

</g>
<clipPath id="ci25"><rect x="236.1" y="407.2" width="46.1" height="41.6"/></clipPath>
<rect x="236.1" y="407.2" width="46.1" height="41.6" fill="#070707"/>
<g clip-path="url(#ci25)">
<g fill="none"><circle cx="243.5" cy="407.2" r="3.1" stroke="rgb(77,77,77)" stroke-width="0.5"/></g>

<g filter="url(#blur05)">
<ellipse cx="258.7" cy="408" rx="3" ry="2" fill="#c458cc"/>
<ellipse cx="238.3" cy="444.7" rx="3" ry="3" fill="#c458cc"/>
<ellipse cx="274.5" cy="416" rx="2.5" ry="2" fill="#d490d8"/>
</g>
<g fill="none" stroke="#cc58da">
<circle cx="248.7" cy="418.5" r="5.4" stroke-width="1.4"/>
<circle cx="268.6" cy="419.8" r="6" stroke-width="1.2"/>
<circle cx="277.2" cy="419.4" r="2.2" stroke-width="1.7"/>
<circle cx="276.3" cy="424.6" r="2.3" stroke-width="1.4"/>
<circle cx="260.2" cy="431.1" r="5.1" stroke-width="1.9"/>
<circle cx="261.7" cy="439.3" r="2.8" stroke-width="1.3"/>
</g>
<g fill="none" stroke="#888" stroke-width="0.6">
<circle cx="250" cy="431.1" r="4"/><circle cx="270.4" cy="434.3" r="4.5"/><circle cx="242" cy="436" r="3"/>
<circle cx="262" cy="411" r="4"/><circle cx="250" cy="444" r="4"/><circle cx="272" cy="446" r="4"/>
</g>
<rect x="275.2" y="437.3" width="6.1" height="1.8" fill="#fff"/>

</g>
<clipPath id="ci26"><rect x="236.2" y="451.4" width="46.6" height="49.2"/></clipPath>
<rect x="236.2" y="451.4" width="46.6" height="49.2" fill="#070707"/>
<g clip-path="url(#ci26)">
<g fill="none"><circle cx="259.1" cy="462.9" r="2.3" stroke="rgb(97,97,97)" stroke-width="0.5"/></g>

<g filter="url(#blur05)"><ellipse cx="237.5" cy="457" rx="2" ry="4" fill="#d080d8"/></g>
<g fill="none" stroke="#cc58da">
<circle cx="252.8" cy="468.9" r="9" stroke-width="1.2"/>
<circle cx="262.1" cy="482.5" r="7.3" stroke-width="1.3"/>
<circle cx="252.8" cy="490.7" r="4.8" stroke-width="1.2"/>
<circle cx="265.9" cy="456.8" r="6" stroke-width="0.7" stroke="#a060a8"/>
<circle cx="270" cy="503" r="5" stroke-width="0.9"/>
</g>
<g fill="none" stroke="#888" stroke-width="0.6">
<circle cx="267" cy="458" r="3"/><circle cx="270" cy="472" r="2.5"/><circle cx="270" cy="491" r="3.5"/>
<circle cx="242" cy="494" r="4.5"/><circle cx="276" cy="466" r="2"/>
</g>
<circle cx="255.6" cy="479" r="1.3" fill="#fff" filter="url(#blur05)"/>
<rect x="274.1" y="486.4" width="7.6" height="2.1" fill="#fff"/>

</g>
<circle cx="27.4" cy="511.4" r="4.3" fill="#6cc84e"/>
<circle cx="64.2" cy="511.4" r="3.6" fill="#6cc84e" stroke="#a84ab8" stroke-width="1.4"/>
<circle cx="102.3" cy="511.4" r="3.6" fill="#fff" stroke="#8a8a8a" stroke-width="1.4"/>
<circle cx="138.1" cy="511.4" r="3.6" fill="#fff" stroke="#a84ab8" stroke-width="1.4"/>
<text x="33.9" y="514.4" font-size="8.2" fill="#222" textLength="18.9" lengthAdjust="spacingAndGlyphs">ROI 1</text>
<text x="72.3" y="514.4" font-size="8.2" fill="#222" textLength="19.9" lengthAdjust="spacingAndGlyphs">ROI 2</text>
<text x="109.5" y="514.4" font-size="8.2" fill="#222" textLength="19.9" lengthAdjust="spacingAndGlyphs">ROI 3</text>
<text x="145.3" y="514.4" font-size="8.2" fill="#222" textLength="19.9" lengthAdjust="spacingAndGlyphs">ROI 4</text>
<text x="23.0" y="528.6" font-size="8.4" fill="#222" textLength="26.5" lengthAdjust="spacingAndGlyphs">Labels:</text>
<rect x="57.4" y="522.2" width="10.6" height="7" rx="3.5" fill="#6cc84e"/>
<text x="70.0" y="528.6" font-size="8.4" fill="#222" textLength="29.8" lengthAdjust="spacingAndGlyphs">dsGreen</text>
<rect x="104.7" y="522.2" width="10.4" height="7" rx="3.5" fill="#a84ab8"/>
<text x="117.0" y="528.6" font-size="8.4" fill="#222" textLength="58.0" lengthAdjust="spacingAndGlyphs">LactC2-mCherry</text>
<rect x="177" y="522.2" width="11" height="7" rx="3.5" fill="#8f8f8f"/>
<text x="190.2" y="528.6" font-size="8.4" fill="#222" textLength="69.2" lengthAdjust="spacingAndGlyphs">Membrane dye Cy5</text>
<text x="297.0" y="17.4" font-size="11.5" font-weight="bold" fill="#111" textLength="9.0" lengthAdjust="spacingAndGlyphs">c)</text>
<text x="384.4" y="9.9" font-size="8.4" font-style="italic" fill="#222" textLength="30.1" lengthAdjust="spacingAndGlyphs">DNArep</text>
<text x="348.1" y="19.6" font-size="7.3" font-weight="bold" fill="#111" textLength="102.5" lengthAdjust="spacingAndGlyphs">+ substrates for DNArep-PLsyn</text>
<text x="596.0" y="9.9" font-size="8.4" font-style="italic" fill="#222" textLength="21.6" lengthAdjust="spacingAndGlyphs">PLsyn</text>
<text x="555.2" y="19.6" font-size="7.3" font-weight="bold" fill="#111" textLength="102.9" lengthAdjust="spacingAndGlyphs">+ substrates for DNArep-PLsyn</text>
<circle cx="341.8" cy="29.1" r="3.1" fill="#b856bb"/>
<text x="348.4" y="31.8" font-size="7.2" fill="#333" textLength="16.8" lengthAdjust="spacingAndGlyphs">ROI 1</text>
<circle cx="373.5" cy="29.1" r="3.1" fill="#7fd8dc"/>
<text x="380.1" y="31.8" font-size="7.2" fill="#333" textLength="16.8" lengthAdjust="spacingAndGlyphs">ROI 2</text>
<circle cx="405.5" cy="29.1" r="3.1" fill="#e0b432"/>
<text x="412.1" y="31.8" font-size="7.2" fill="#333" textLength="16.8" lengthAdjust="spacingAndGlyphs">ROI 3</text>
<circle cx="436.6" cy="29.1" r="3.1" fill="#3d4fae"/>
<text x="443.2" y="31.8" font-size="7.2" fill="#333" textLength="16.8" lengthAdjust="spacingAndGlyphs">ROI 4</text>
<circle cx="533" cy="29.1" r="3.1" fill="#b856bb"/>
<text x="539.6" y="31.8" font-size="7.2" fill="#333" textLength="16.8" lengthAdjust="spacingAndGlyphs">ROI 1</text>
<circle cx="565.1" cy="29.1" r="3.1" fill="#7fd8dc"/>
<text x="571.7" y="31.8" font-size="7.2" fill="#333" textLength="16.8" lengthAdjust="spacingAndGlyphs">ROI 2</text>
<circle cx="596.6" cy="29.1" r="3.1" fill="#e0b432"/>
<text x="603.2" y="31.8" font-size="7.2" fill="#333" textLength="16.8" lengthAdjust="spacingAndGlyphs">ROI 3</text>
<circle cx="628" cy="29.1" r="3.1" fill="#3d4fae"/>
<text x="634.6" y="31.8" font-size="7.2" fill="#333" textLength="16.8" lengthAdjust="spacingAndGlyphs">ROI 4</text>
<path d="M333.1,41.3V163.1" fill="none" stroke="#1a1a1a" stroke-width="1.5"/>
<path d="M333.1,163.1H486.5" fill="none" stroke="#555" stroke-width="1.1"/>
<path d="M333.1,160.4h1.3M333.1,157.8h1.3M333.1,156.0h1.3M333.1,154.5h1.3M333.1,153.4h1.3M333.1,152.4h1.3M333.1,151.5h1.3M333.1,150.8h1.3M333.1,145.6h1.3M333.1,143.0h1.3M333.1,141.2h1.3M333.1,139.8h1.3M333.1,138.6h1.3M333.1,137.6h1.3M333.1,136.8h1.3M333.1,136.0h1.3M333.1,130.9h1.3M333.1,128.3h1.3M333.1,126.4h1.3M333.1,125.0h1.3M333.1,123.8h1.3M333.1,122.8h1.3M333.1,122.0h1.3M333.1,121.2h1.3M333.1,116.1h1.3M333.1,113.5h1.3M333.1,111.7h1.3M333.1,110.2h1.3M333.1,109.1h1.3M333.1,108.1h1.3M333.1,107.2h1.3M333.1,106.5h1.3M333.1,101.4h1.3M333.1,98.8h1.3M333.1,96.9h1.3M333.1,95.5h1.3M333.1,94.3h1.3M333.1,93.3h1.3M333.1,92.5h1.3M333.1,91.7h1.3M333.1,86.6h1.3M333.1,84.0h1.3M333.1,82.2h1.3M333.1,80.7h1.3M333.1,79.6h1.3M333.1,78.6h1.3M333.1,77.7h1.3M333.1,77.0h1.3M333.1,71.8h1.3M333.1,69.2h1.3M333.1,67.4h1.3M333.1,66.0h1.3M333.1,64.8h1.3M333.1,63.8h1.3M333.1,63.0h1.3M333.1,62.2h1.3M333.1,57.1h1.3M333.1,54.5h1.3M333.1,52.6h1.3M333.1,51.2h1.3M333.1,50.0h1.3M333.1,49.0h1.3M333.1,48.2h1.3M333.1,47.4h1.3M333.1,164.8h2.4M333.1,150.1h2.4M333.1,135.3h2.4M333.1,120.6h2.4M333.1,105.8h2.4M333.1,91.0h2.4M333.1,76.3h2.4M333.1,61.5h2.4M333.1,46.8h2.4M341.6,163.1v-1.3M346.1,163.1v-1.3M349.3,163.1v-1.3M351.8,163.1v-1.3M353.8,163.1v-1.3M355.5,163.1v-1.3M357.0,163.1v-1.3M358.3,163.1v-1.3M367.2,163.1v-1.3M371.7,163.1v-1.3M374.9,163.1v-1.3M377.4,163.1v-1.3M379.4,163.1v-1.3M381.1,163.1v-1.3M382.6,163.1v-1.3M383.9,163.1v-1.3M392.8,163.1v-1.3M397.3,163.1v-1.3M400.5,163.1v-1.3M403.0,163.1v-1.3M405.0,163.1v-1.3M406.7,163.1v-1.3M408.2,163.1v-1.3M409.5,163.1v-1.3M418.4,163.1v-1.3M422.9,163.1v-1.3M426.1,163.1v-1.3M428.6,163.1v-1.3M430.6,163.1v-1.3M432.3,163.1v-1.3M433.8,163.1v-1.3M435.1,163.1v-1.3M444.0,163.1v-1.3M448.5,163.1v-1.3M451.7,163.1v-1.3M454.2,163.1v-1.3M456.2,163.1v-1.3M457.9,163.1v-1.3M459.4,163.1v-1.3M460.7,163.1v-1.3M469.6,163.1v-1.3M474.1,163.1v-1.3M477.3,163.1v-1.3M479.8,163.1v-1.3M481.8,163.1v-1.3M483.5,163.1v-1.3M485.0,163.1v-1.3M486.3,163.1v-1.3" stroke="#222" stroke-width="0.5"/>
<text x="316.7" y="49.7" font-size="8" fill="#333" textLength="7.6" lengthAdjust="spacingAndGlyphs">10</text>
<text x="326.0" y="46.2" font-size="6.4" fill="#333">4</text>
<text x="316.7" y="79.2" font-size="8" fill="#333" textLength="7.6" lengthAdjust="spacingAndGlyphs">10</text>
<text x="326.0" y="75.7" font-size="6.4" fill="#333">2</text>
<text x="316.7" y="108.7" font-size="8" fill="#333" textLength="7.6" lengthAdjust="spacingAndGlyphs">10</text>
<text x="326.0" y="105.2" font-size="6.4" fill="#333">0</text>
<text x="316.7" y="138.2" font-size="8" fill="#333" textLength="7.6" lengthAdjust="spacingAndGlyphs">10</text>
<text x="326.0" y="134.7" font-size="6.4" fill="#333">-2</text>
<text x="316.7" y="167.7" font-size="8" fill="#333" textLength="7.6" lengthAdjust="spacingAndGlyphs">10</text>
<text x="326.0" y="164.2" font-size="6.4" fill="#333">-4</text>
<text transform="translate(312.2,92.1) rotate(-90)" x="-40.2" y="0" font-size="7.4" fill="#333" textLength="80.4" lengthAdjust="spacingAndGlyphs">dsGreen Intensity (A.U)</text>
<text x="366.6" y="188.7" font-size="7.8" fill="#333" textLength="110.0" lengthAdjust="spacingAndGlyphs">LactC2-mCherry Intensity (A.U)</text>
<text x="325.7" y="178.8" font-size="8" fill="#333" textLength="8.2" lengthAdjust="spacingAndGlyphs">10</text>
<text x="334.1" y="173.0" font-size="6.6" fill="#333">-3</text>
<text x="351.3" y="178.8" font-size="8" fill="#333" textLength="8.2" lengthAdjust="spacingAndGlyphs">10</text>
<text x="359.7" y="173.0" font-size="6.6" fill="#333">-2</text>
<text x="376.9" y="178.8" font-size="8" fill="#333" textLength="8.2" lengthAdjust="spacingAndGlyphs">10</text>
<text x="385.3" y="173.0" font-size="6.6" fill="#333">-1</text>
<text x="402.5" y="178.8" font-size="8" fill="#333" textLength="8.2" lengthAdjust="spacingAndGlyphs">10</text>
<text x="410.9" y="173.0" font-size="6.6" fill="#333">0</text>
<text x="428.1" y="178.8" font-size="8" fill="#333" textLength="8.2" lengthAdjust="spacingAndGlyphs">10</text>
<text x="436.5" y="173.0" font-size="6.6" fill="#333">1</text>
<text x="453.7" y="178.8" font-size="8" fill="#333" textLength="8.2" lengthAdjust="spacingAndGlyphs">10</text>
<text x="462.1" y="173.0" font-size="6.6" fill="#333">2</text>
<text x="479.3" y="178.8" font-size="8" fill="#333" textLength="8.2" lengthAdjust="spacingAndGlyphs">10</text>
<text x="487.7" y="173.0" font-size="6.6" fill="#333">3</text>
<path d="M523.3,41.3V163.1" fill="none" stroke="#1a1a1a" stroke-width="1.5"/>
<path d="M523.3,163.1H680.6" fill="none" stroke="#555" stroke-width="1.1"/>
<path d="M523.3,157.3h1.3M523.3,154.7h1.3M523.3,152.9h1.3M523.3,151.4h1.3M523.3,150.3h1.3M523.3,149.3h1.3M523.3,148.5h1.3M523.3,147.7h1.3M523.3,142.7h1.3M523.3,140.1h1.3M523.3,138.3h1.3M523.3,136.8h1.3M523.3,135.7h1.3M523.3,134.7h1.3M523.3,133.9h1.3M523.3,133.1h1.3M523.3,128.1h1.3M523.3,125.5h1.3M523.3,123.7h1.3M523.3,122.2h1.3M523.3,121.1h1.3M523.3,120.1h1.3M523.3,119.3h1.3M523.3,118.5h1.3M523.3,113.5h1.3M523.3,110.9h1.3M523.3,109.1h1.3M523.3,107.6h1.3M523.3,106.5h1.3M523.3,105.5h1.3M523.3,104.7h1.3M523.3,103.9h1.3M523.3,98.9h1.3M523.3,96.3h1.3M523.3,94.5h1.3M523.3,93.0h1.3M523.3,91.9h1.3M523.3,90.9h1.3M523.3,90.1h1.3M523.3,89.3h1.3M523.3,84.3h1.3M523.3,81.7h1.3M523.3,79.9h1.3M523.3,78.4h1.3M523.3,77.3h1.3M523.3,76.3h1.3M523.3,75.5h1.3M523.3,74.7h1.3M523.3,69.7h1.3M523.3,67.1h1.3M523.3,65.3h1.3M523.3,63.8h1.3M523.3,62.7h1.3M523.3,61.7h1.3M523.3,60.9h1.3M523.3,60.1h1.3M523.3,55.1h1.3M523.3,52.5h1.3M523.3,50.7h1.3M523.3,49.2h1.3M523.3,48.1h1.3M523.3,47.1h1.3M523.3,46.3h1.3M523.3,45.5h1.3M523.3,161.7h2.4M523.3,147.1h2.4M523.3,132.4h2.4M523.3,117.8h2.4M523.3,103.2h2.4M523.3,88.7h2.4M523.3,74.0h2.4M523.3,59.5h2.4M523.3,44.9h2.4M529.0,163.1v-1.3M532.4,163.1v-1.3M534.8,163.1v-1.3M536.6,163.1v-1.3M538.2,163.1v-1.3M539.4,163.1v-1.3M540.6,163.1v-1.3M541.5,163.1v-1.3M548.2,163.1v-1.3M551.6,163.1v-1.3M554.0,163.1v-1.3M555.9,163.1v-1.3M557.4,163.1v-1.3M558.7,163.1v-1.3M559.8,163.1v-1.3M560.8,163.1v-1.3M567.4,163.1v-1.3M570.8,163.1v-1.3M573.2,163.1v-1.3M575.1,163.1v-1.3M576.6,163.1v-1.3M577.9,163.1v-1.3M579.0,163.1v-1.3M580.0,163.1v-1.3M586.6,163.1v-1.3M590.0,163.1v-1.3M592.4,163.1v-1.3M594.3,163.1v-1.3M595.8,163.1v-1.3M597.1,163.1v-1.3M598.2,163.1v-1.3M599.2,163.1v-1.3M605.9,163.1v-1.3M609.3,163.1v-1.3M611.7,163.1v-1.3M613.5,163.1v-1.3M615.0,163.1v-1.3M616.3,163.1v-1.3M617.4,163.1v-1.3M618.4,163.1v-1.3M625.1,163.1v-1.3M628.5,163.1v-1.3M630.9,163.1v-1.3M632.7,163.1v-1.3M634.3,163.1v-1.3M635.5,163.1v-1.3M636.7,163.1v-1.3M637.6,163.1v-1.3M644.3,163.1v-1.3M647.7,163.1v-1.3M650.1,163.1v-1.3M652.0,163.1v-1.3M653.5,163.1v-1.3M654.8,163.1v-1.3M655.9,163.1v-1.3M656.9,163.1v-1.3M663.5,163.1v-1.3M666.9,163.1v-1.3M669.3,163.1v-1.3M671.2,163.1v-1.3M672.7,163.1v-1.3M674.0,163.1v-1.3M675.1,163.1v-1.3M676.1,163.1v-1.3" stroke="#222" stroke-width="0.5"/>
<text x="506.2" y="47.8" font-size="8" fill="#333" textLength="7.6" lengthAdjust="spacingAndGlyphs">10</text>
<text x="515.5" y="44.2" font-size="6.4" fill="#333">4</text>
<text x="506.2" y="77.0" font-size="8" fill="#333" textLength="7.6" lengthAdjust="spacingAndGlyphs">10</text>
<text x="515.5" y="73.5" font-size="6.4" fill="#333">2</text>
<text x="506.2" y="106.2" font-size="8" fill="#333" textLength="7.6" lengthAdjust="spacingAndGlyphs">10</text>
<text x="515.5" y="102.7" font-size="6.4" fill="#333">0</text>
<text x="506.2" y="135.3" font-size="8" fill="#333" textLength="7.6" lengthAdjust="spacingAndGlyphs">10</text>
<text x="515.5" y="131.8" font-size="6.4" fill="#333">-2</text>
<text x="506.2" y="164.6" font-size="8" fill="#333" textLength="7.6" lengthAdjust="spacingAndGlyphs">10</text>
<text x="515.5" y="161.1" font-size="6.4" fill="#333">-4</text>
<text transform="translate(500.5,92.4) rotate(-90)" x="-39.9" y="0" font-size="7.4" fill="#333" textLength="79.7" lengthAdjust="spacingAndGlyphs">dsGreen Intensity (A.U)</text>
<text x="552.8" y="188.7" font-size="7.8" fill="#333" textLength="107.6" lengthAdjust="spacingAndGlyphs">LactC2-mCherry Intensity (A.U)</text>
<text x="519.0" y="178.8" font-size="8" fill="#333" textLength="8.2" lengthAdjust="spacingAndGlyphs">10</text>
<text x="527.5" y="173.0" font-size="6.6" fill="#333">-4</text>
<text x="557.4" y="178.8" font-size="8" fill="#333" textLength="8.2" lengthAdjust="spacingAndGlyphs">10</text>
<text x="565.9" y="173.0" font-size="6.6" fill="#333">-2</text>
<text x="595.9" y="178.8" font-size="8" fill="#333" textLength="8.2" lengthAdjust="spacingAndGlyphs">10</text>
<text x="604.4" y="173.0" font-size="6.6" fill="#333">0</text>
<text x="634.3" y="178.8" font-size="8" fill="#333" textLength="8.2" lengthAdjust="spacingAndGlyphs">10</text>
<text x="642.8" y="173.0" font-size="6.6" fill="#333">2</text>
<text x="672.8" y="178.8" font-size="8" fill="#333" textLength="8.2" lengthAdjust="spacingAndGlyphs">10</text>
<text x="681.3" y="173.0" font-size="6.6" fill="#333">4</text>
<path d="M414 67.5h2M423 67.5h2M434 67.5h2M355 68.5h2M366 68.5h1M368 68.5h2M375 68.5h2M381 68.5h4M387 68.5h1M389 68.5h1M391 68.5h2M396 68.5h2M399 68.5h10M412 68.5h6M420 68.5h5M427 68.5h4M433 68.5h3M437 68.5h4M353 69.5h1M368 69.5h2M372 69.5h1M375 69.5h2M381 69.5h5M387 69.5h1M389 69.5h4M394 69.5h4M399 69.5h8M408 69.5h7M416 69.5h2M420 69.5h15M436 69.5h2M439 69.5h2M363 70.5h1M368 70.5h2M372 70.5h3M378 70.5h2M383 70.5h6M391 70.5h1M393 70.5h1M395 70.5h3M399 70.5h5M408 70.5h7M418 70.5h5M424 70.5h2M429 70.5h9M440 70.5h2M362 71.5h2M372 71.5h3M376 71.5h5M383 71.5h5M389 71.5h5M395 71.5h19M415 71.5h11M428 71.5h4M433 71.5h4M438 71.5h4M445 71.5h2M357 72.5h2M363 72.5h2M371 72.5h2M379 72.5h2M382 72.5h8M391 72.5h2M395 72.5h5M401 72.5h16M418 72.5h10M429 72.5h3M433 72.5h8M357 73.5h2M362 73.5h2M370 73.5h3M374 73.5h2M379 73.5h5M385 73.5h15M401 73.5h30M432 73.5h10M334 74.5h2M339 74.5h2M350 74.5h4M361 74.5h3M370 74.5h3M374 74.5h2M377 74.5h2M380 74.5h3M385 74.5h33M419 74.5h8M429 74.5h8M439 74.5h2M334 75.5h2M343 75.5h2M350 75.5h4M355 75.5h1M357 75.5h1M361 75.5h2M367 75.5h2M371 75.5h2M374 75.5h3M382 75.5h3M386 75.5h34M421 75.5h7M429 75.5h5M435 75.5h3M439 75.5h1M343 76.5h2M348 76.5h4M355 76.5h1M357 76.5h1M363 76.5h2M366 76.5h7M374 76.5h3M378 76.5h1M380 76.5h12M393 76.5h26M421 76.5h15M437 76.5h1M444 76.5h2M338 77.5h2M342 77.5h1M348 77.5h2M363 77.5h8M374 77.5h2M378 77.5h1M380 77.5h10M392 77.5h23M416 77.5h3M420 77.5h12M433 77.5h3M438 77.5h4M443 77.5h3M342 78.5h1M353 78.5h5M362 78.5h4M368 78.5h3M372 78.5h5M380 78.5h52M433 78.5h2M438 78.5h2M441 78.5h5M349 79.5h2M352 79.5h7M362 79.5h2M367 79.5h4M373 79.5h34M408 79.5h6M415 79.5h17M433 79.5h2M441 79.5h5M345 80.5h1M349 80.5h2M352 80.5h4M357 80.5h2M362 80.5h8M375 80.5h7M389 80.5h43M434 80.5h3M438 80.5h3M443 80.5h3M345 81.5h1M349 81.5h2M362 81.5h70M433 81.5h10M444 81.5h4M341 82.5h2M346 82.5h1M349 82.5h2M354 82.5h2M359 82.5h7M367 82.5h11M379 82.5h14M394 82.5h35M430 82.5h5M438 82.5h10M341 83.5h2M346 83.5h1M352 83.5h4M361 83.5h2M365 83.5h1M367 83.5h2M370 83.5h45M416 83.5h10M427 83.5h7M435 83.5h6M442 83.5h2M342 84.5h2M346 84.5h1M348 84.5h2M354 84.5h4M360 84.5h3M364 84.5h2M367 84.5h2M370 84.5h6M377 84.5h2M380 84.5h62M443 84.5h4M342 85.5h2M346 85.5h2M354 85.5h5M360 85.5h3M366 85.5h3M370 85.5h8M380 85.5h59M440 85.5h2M443 85.5h4M342 86.5h3M347 86.5h1M349 86.5h2M357 86.5h4M362 86.5h1M364 86.5h2M367 86.5h10M378 86.5h54M433 86.5h7M442 86.5h1M444 86.5h3M343 87.5h2M347 87.5h1M349 87.5h2M353 87.5h2M356 87.5h2M359 87.5h2M362 87.5h1M364 87.5h2M367 87.5h8M376 87.5h1M378 87.5h2M381 87.5h59M441 87.5h2M444 87.5h3M349 88.5h2M353 88.5h2M359 88.5h1M367 88.5h1M369 88.5h4M374 88.5h62M437 88.5h11M343 89.5h2M346 89.5h2M351 89.5h1M360 89.5h3M370 89.5h45M416 89.5h23M440 89.5h5M446 89.5h2M346 90.5h2M351 90.5h1M360 90.5h3M368 90.5h1M370 90.5h2M373 90.5h10M384 90.5h55M441 90.5h5M337 91.5h2M343 91.5h2M346 91.5h2M352 91.5h3M357 91.5h2M361 91.5h1M363 91.5h6M370 91.5h8M379 91.5h4M384 91.5h46M431 91.5h15M337 92.5h2M343 92.5h4M352 92.5h4M357 92.5h2M361 92.5h1M363 92.5h6M371 92.5h16M389 92.5h42M432 92.5h14M345 93.5h2M355 93.5h1M360 93.5h2M364 93.5h2M367 93.5h2M370 93.5h5M376 93.5h7M384 93.5h28M413 93.5h18M432 93.5h14M345 94.5h2M357 94.5h1M360 94.5h5M367 94.5h11M379 94.5h58M439 94.5h3M443 94.5h5M338 95.5h2M344 95.5h3M351 95.5h2M356 95.5h9M367 95.5h72M440 95.5h6M338 96.5h1M340 96.5h1M344 96.5h2M351 96.5h2M356 96.5h3M362 96.5h3M367 96.5h2M370 96.5h68M440 96.5h6M340 97.5h1M348 97.5h2M357 97.5h4M362 97.5h3M366 97.5h4M372 97.5h67M441 97.5h1M443 97.5h5M334 98.5h2M348 98.5h2M357 98.5h3M361 98.5h1M364 98.5h7M375 98.5h70M446 98.5h2M339 99.5h2M346 99.5h1M358 99.5h1M361 99.5h2M364 99.5h2M367 99.5h4M373 99.5h55M429 99.5h1M431 99.5h6M440 99.5h8M336 100.5h5M346 100.5h3M353 100.5h2M358 100.5h1M361 100.5h2M367 100.5h2M370 100.5h60M431 100.5h5M438 100.5h2M441 100.5h1M443 100.5h1M445 100.5h3M336 101.5h3M345 101.5h2M352 101.5h5M359 101.5h3M367 101.5h2M370 101.5h51M422 101.5h8M432 101.5h5M438 101.5h2M441 101.5h7M345 102.5h2M349 102.5h5M355 102.5h2M359 102.5h3M365 102.5h1M369 102.5h1M371 102.5h6M380 102.5h1M382 102.5h3M387 102.5h1M389 102.5h1M391 102.5h46M438 102.5h5M444 102.5h3M347 103.5h5M360 103.5h2M365 103.5h1M368 103.5h5M374 103.5h8M383 103.5h8M392 103.5h41M434 103.5h2M438 103.5h1M440 103.5h2M445 103.5h3M340 104.5h1M347 104.5h1M356 104.5h6M366 104.5h1M368 104.5h5M375 104.5h54M430 104.5h7M440 104.5h2M444 104.5h3M347 105.5h1M356 105.5h11M368 105.5h5M374 105.5h4M379 105.5h61M442 105.5h5M336 106.5h1M355 106.5h2M364 106.5h2M368 106.5h4M373 106.5h4M378 106.5h20M399 106.5h26M426 106.5h14M441 106.5h6M334 107.5h3M352 107.5h5M360 107.5h4M370 107.5h5M376 107.5h62M440 107.5h2M444 107.5h2M334 108.5h2M352 108.5h2M368 108.5h7M376 108.5h41M418 108.5h16M436 108.5h1M440 108.5h6M345 109.5h2M358 109.5h2M368 109.5h5M374 109.5h14M389 109.5h45M435 109.5h2M438 109.5h5M345 110.5h2M358 110.5h7M367 110.5h8M376 110.5h17M394 110.5h36M431 110.5h6M439 110.5h4M444 110.5h4M346 111.5h1M355 111.5h1M358 111.5h7M366 111.5h4M373 111.5h59M433 111.5h4M440 111.5h3M444 111.5h4M340 112.5h3M355 112.5h1M358 112.5h2M361 112.5h2M367 112.5h3M373 112.5h2M376 112.5h2M379 112.5h15M395 112.5h30M426 112.5h21M340 113.5h3M360 113.5h5M367 113.5h3M373 113.5h2M376 113.5h49M426 113.5h15M442 113.5h5M360 114.5h2M363 114.5h2M367 114.5h1M371 114.5h1M373 114.5h2M376 114.5h1M378 114.5h42M421 114.5h4M426 114.5h11M438 114.5h2M445 114.5h2M367 115.5h1M369 115.5h2M376 115.5h12M389 115.5h32M423 115.5h11M439 115.5h3M445 115.5h2M342 116.5h1M350 116.5h2M355 116.5h2M358 116.5h1M360 116.5h2M369 116.5h3M376 116.5h6M383 116.5h3M388 116.5h3M393 116.5h29M425 116.5h3M429 116.5h8M439 116.5h7M338 117.5h2M342 117.5h1M348 117.5h1M352 117.5h2M355 117.5h2M358 117.5h1M360 117.5h3M369 117.5h1M371 117.5h1M376 117.5h1M378 117.5h1M380 117.5h44M425 117.5h12M439 117.5h7M338 118.5h2M346 118.5h2M352 118.5h2M357 118.5h2M360 118.5h1M367 118.5h3M374 118.5h2M377 118.5h10M388 118.5h15M405 118.5h11M417 118.5h3M422 118.5h2M425 118.5h2M428 118.5h2M433 118.5h5M439 118.5h7M346 119.5h2M355 119.5h1M357 119.5h4M369 119.5h2M374 119.5h6M382 119.5h14M398 119.5h3M402 119.5h15M418 119.5h6M426 119.5h6M433 119.5h1M435 119.5h3M439 119.5h1M444 119.5h3M355 120.5h1M359 120.5h2M364 120.5h2M369 120.5h2M374 120.5h2M378 120.5h2M383 120.5h7M391 120.5h6M398 120.5h3M402 120.5h5M409 120.5h15M425 120.5h5M433 120.5h2M436 120.5h2M443 120.5h1M445 120.5h3M361 121.5h5M369 121.5h2M372 121.5h1M378 121.5h2M381 121.5h1M385 121.5h4M392 121.5h5M399 121.5h14M414 121.5h6M421 121.5h3M425 121.5h5M433 121.5h2M436 121.5h5M443 121.5h1M361 122.5h4M369 122.5h2M372 122.5h1M381 122.5h1M383 122.5h6M391 122.5h8M400 122.5h13M414 122.5h3M418 122.5h4M423 122.5h2M427 122.5h4M433 122.5h6M441 122.5h2M446 122.5h2M337 123.5h1M359 123.5h1M362 123.5h1M368 123.5h2M374 123.5h8M383 123.5h3M387 123.5h3M391 123.5h6M400 123.5h13M415 123.5h7M423 123.5h2M427 123.5h2M433 123.5h3M441 123.5h2M446 123.5h2M337 124.5h1M343 124.5h2M359 124.5h1M368 124.5h2M374 124.5h7M384 124.5h2M391 124.5h3M395 124.5h4M400 124.5h2M403 124.5h10M417 124.5h9M427 124.5h3M343 125.5h2M355 125.5h2M364 125.5h4M377 125.5h9M387 125.5h12M400 125.5h5M407 125.5h4M412 125.5h2M419 125.5h11M432 125.5h2M440 125.5h1M442 125.5h1M349 126.5h1M355 126.5h2M364 126.5h3M375 126.5h1M378 126.5h4M383 126.5h8M392 126.5h5M398 126.5h2M401 126.5h2M404 126.5h2M408 126.5h5M415 126.5h2M419 126.5h3M426 126.5h4M432 126.5h5M438 126.5h1M442 126.5h3M345 127.5h2M349 127.5h2M368 127.5h3M373 127.5h5M379 127.5h1M381 127.5h2M384 127.5h4M391 127.5h6M398 127.5h25M426 127.5h4M432 127.5h5M438 127.5h1M445 127.5h1M345 128.5h2M349 128.5h2M368 128.5h2M372 128.5h3M376 128.5h3M384 128.5h2M388 128.5h2M391 128.5h1M395 128.5h2M398 128.5h9M408 128.5h17M426 128.5h5M432 128.5h2M437 128.5h3M442 128.5h2M366 129.5h4M372 129.5h1M374 129.5h2M377 129.5h2M380 129.5h2M386 129.5h5M392 129.5h1M395 129.5h2M398 129.5h3M403 129.5h4M409 129.5h6M421 129.5h4M428 129.5h6M437 129.5h5M380 130.5h2M383 130.5h2M386 130.5h7M395 130.5h4M400 130.5h6M411 130.5h4M420 130.5h2M425 130.5h2M428 130.5h7M437 130.5h1M440 130.5h2M443 130.5h2M347 131.5h3M368 131.5h2M376 131.5h1M382 131.5h8M391 131.5h1M394 131.5h4M399 131.5h7M409 131.5h1M420 131.5h1M423 131.5h4M429 131.5h2M433 131.5h2M439 131.5h3M443 131.5h2M347 132.5h3M361 132.5h2M368 132.5h2M375 132.5h2M382 132.5h3M386 132.5h2M390 132.5h1M395 132.5h3M399 132.5h2M406 132.5h2M409 132.5h1M412 132.5h3M419 132.5h2M422 132.5h3M428 132.5h3M439 132.5h1M349 133.5h2M361 133.5h2M368 133.5h2M375 133.5h2M382 133.5h1M386 133.5h1M390 133.5h1M397 133.5h2M403 133.5h5M413 133.5h2M419 133.5h5M427 133.5h4M349 134.5h2M362 134.5h1M368 134.5h2M388 134.5h3M395 134.5h4M400 134.5h1M402 134.5h6M409 134.5h2M412 134.5h1M414 134.5h3M421 134.5h5M427 134.5h1M429 134.5h3M434 134.5h2M349 135.5h2M352 135.5h2M362 135.5h1M372 135.5h2M388 135.5h3M395 135.5h3M400 135.5h6M407 135.5h4M412 135.5h1M414 135.5h3M421 135.5h5M429 135.5h3M434 135.5h2M352 136.5h4M366 136.5h1M372 136.5h2M384 136.5h1M390 136.5h1M404 136.5h5M414 136.5h2M417 136.5h2M421 136.5h2M429 136.5h1M438 136.5h5M354 137.5h2M368 137.5h2M377 137.5h2M384 137.5h1M390 137.5h1M393 137.5h1M396 137.5h1M414 137.5h2M421 137.5h1M424 137.5h3M440 137.5h2M337 138.5h1M368 138.5h2M377 138.5h2M389 138.5h8M400 138.5h2M412 138.5h2M424 138.5h3M429 138.5h1M432 138.5h1M439 138.5h1M337 139.5h1M365 139.5h2M368 139.5h2M372 139.5h2M376 139.5h2M389 139.5h8M400 139.5h2M406 139.5h2M412 139.5h4M418 139.5h1M429 139.5h1M434 139.5h2M439 139.5h1M348 140.5h2M365 140.5h5M372 140.5h2M389 140.5h1M392 140.5h2M396 140.5h2M400 140.5h2M414 140.5h2M418 140.5h4M434 140.5h2M348 141.5h2M358 141.5h2M366 141.5h2M372 141.5h2M375 141.5h2M383 141.5h2M387 141.5h3M400 141.5h2M415 141.5h2M442 141.5h2M358 142.5h2M366 142.5h2M375 142.5h4M383 142.5h2M387 142.5h2M407 142.5h2M410 142.5h2M415 142.5h2M424 142.5h1M375 143.5h4M384 143.5h2M402 143.5h2M408 143.5h2M411 143.5h1M421 143.5h2M424 143.5h1M371 144.5h1M375 144.5h2M384 144.5h2M388 144.5h2M394 144.5h2M402 144.5h2M408 144.5h2M421 144.5h2M445 144.5h2M371 145.5h1M388 145.5h2M394 145.5h4M402 145.5h2M442 145.5h1M382 146.5h1M396 146.5h2M402 146.5h2M427 146.5h2M436 146.5h2M442 146.5h1M373 147.5h2M395 147.5h2M427 147.5h2M434 147.5h4M441 147.5h2M351 148.5h2M373 148.5h3M388 148.5h2M441 148.5h2M351 149.5h2M374 149.5h1M395 149.5h2M406 149.5h2M411 149.5h2M374 150.5h1M378 150.5h1M395 150.5h2M401 150.5h2M411 150.5h2M378 151.5h1M380 151.5h1M385 151.5h2M401 151.5h2M413 151.5h2M422 151.5h1M357 152.5h1M380 152.5h1M385 152.5h2M400 152.5h2M409 152.5h1M422 152.5h1M433 152.5h1M357 153.5h1M400 153.5h2M433 153.5h1M404 154.5h2M404 155.5h2M411 155.5h2M391 156.5h2M401 156.5h2M427 156.5h1M434 156.5h1M365 157.5h2M385 157.5h2M401 157.5h2M405 157.5h2M409 157.5h2M434 157.5h1M365 158.5h2M405 158.5h2M409 158.5h2" stroke="#e0b432" stroke-width="1"/>
<path d="M355 47.5h2M366 47.5h5M372 47.5h9M382 47.5h1M385 47.5h2M388 47.5h5M394 47.5h21M416 47.5h4M421 47.5h27M346 48.5h2M350 48.5h3M355 48.5h2M359 48.5h2M364 48.5h84M343 49.5h5M349 49.5h2M355 49.5h93M338 50.5h4M345 50.5h1M349 50.5h2M355 50.5h9M365 50.5h83M338 51.5h6M346 51.5h2M349 51.5h2M353 51.5h7M362 51.5h86M340 52.5h1M342 52.5h2M346 52.5h2M350 52.5h1M354 52.5h1M356 52.5h4M361 52.5h8M372 52.5h76M342 53.5h4M353 53.5h2M358 53.5h7M366 53.5h82M342 54.5h4M347 54.5h2M353 54.5h3M357 54.5h4M362 54.5h2M365 54.5h7M373 54.5h75M344 55.5h2M351 55.5h1M354 55.5h2M357 55.5h4M363 55.5h85M339 56.5h2M351 56.5h1M354 56.5h2M357 56.5h5M363 56.5h5M369 56.5h79M337 57.5h5M349 57.5h2M355 57.5h8M364 57.5h84M337 58.5h2M341 58.5h1M346 58.5h2M349 58.5h3M355 58.5h93M346 59.5h2M350 59.5h2M357 59.5h91M342 60.5h2M348 60.5h4M357 60.5h7M365 60.5h83M338 61.5h10M349 61.5h2M357 61.5h2M362 61.5h86M338 62.5h4M344 62.5h4M350 62.5h2M357 62.5h2M360 62.5h9M371 62.5h10M382 62.5h66M339 63.5h2M343 63.5h2M350 63.5h2M355 63.5h2M358 63.5h90M339 64.5h2M343 64.5h3M354 64.5h1M357 64.5h1M360 64.5h88M342 65.5h1M349 65.5h3M354 65.5h4M360 65.5h3M364 65.5h84M342 66.5h1M344 66.5h2M349 66.5h3M353 66.5h6M360 66.5h9M370 66.5h5M376 66.5h57M434 66.5h14M344 67.5h2M353 67.5h3M358 67.5h11M370 67.5h78M361 68.5h2M364 68.5h4M371 68.5h1M374 68.5h3M378 68.5h5M384 68.5h14M399 68.5h24M424 68.5h2M428 68.5h19" stroke="#b856bb" stroke-width="1"/>
<rect x="455.4" y="69.9" width="1.4" height="1.4" fill="#3d4fae"/>
<rect x="468.8" y="71.1" width="1.4" height="1.4" fill="#3d4fae"/>
<rect x="455.4" y="75.5" width="1.4" height="1.4" fill="#3d4fae"/>
<rect x="455.4" y="84.6" width="1.4" height="1.4" fill="#3d4fae"/>
<rect x="461.4" y="101.7" width="1.4" height="1.4" fill="#3d4fae"/>
<rect x="469.3" y="105.3" width="1.4" height="1.4" fill="#3d4fae"/>
<rect x="469.3" y="110.7" width="1.4" height="1.4" fill="#3d4fae"/>
<rect x="454.1" y="58.9" width="1.4" height="1.4" fill="#7fd8dc"/>
<rect x="471.9" y="57.7" width="1.4" height="1.4" fill="#7fd8dc"/>
<rect x="441.5" y="47.5" width="1.4" height="1.4" fill="#b856bb"/>
<rect x="453.9" y="50.5" width="1.4" height="1.4" fill="#b856bb"/>
<rect x="443.7" y="53.4" width="1.4" height="1.4" fill="#b856bb"/>
<path d="M574 68.5h2M583 68.5h1M567 69.5h2M570 69.5h6M601 69.5h2M631 69.5h1M561 70.5h2M565 70.5h4M570 70.5h2M602 70.5h2M621 70.5h2M631 70.5h1M561 71.5h2M578 71.5h1M584 71.5h2M601 71.5h2M615 71.5h2M548 72.5h2M557 72.5h2M576 72.5h2M584 72.5h3M627 72.5h1M548 73.5h4M557 73.5h2M564 73.5h1M576 73.5h6M591 73.5h3M602 73.5h2M610 73.5h2M613 73.5h2M617 73.5h2M627 73.5h1M555 74.5h2M578 74.5h2M591 74.5h5M602 74.5h2M610 74.5h2M613 74.5h2M617 74.5h2M555 75.5h3M585 75.5h2M592 75.5h9M607 75.5h4M619 75.5h2M623 75.5h1M556 76.5h2M572 76.5h2M585 76.5h1M596 76.5h6M607 76.5h6M614 76.5h3M619 76.5h2M623 76.5h3M560 77.5h2M570 77.5h4M577 77.5h2M581 77.5h2M593 77.5h2M597 77.5h5M611 77.5h2M614 77.5h3M619 77.5h2M624 77.5h2M634 77.5h2M537 78.5h2M570 78.5h2M581 78.5h2M587 78.5h2M593 78.5h3M598 78.5h3M605 78.5h4M610 78.5h2M619 78.5h2M624 78.5h2M631 78.5h2M634 78.5h2M576 79.5h2M582 79.5h2M587 79.5h4M592 79.5h2M595 79.5h1M603 79.5h1M606 79.5h7M625 79.5h2M631 79.5h3M533 80.5h1M548 80.5h2M564 80.5h1M566 80.5h2M576 80.5h2M580 80.5h4M585 80.5h3M590 80.5h5M597 80.5h3M603 80.5h4M611 80.5h4M631 80.5h3M533 81.5h1M547 81.5h3M564 81.5h1M566 81.5h2M571 81.5h2M583 81.5h1M585 81.5h3M590 81.5h5M597 81.5h4M602 81.5h1M604 81.5h2M607 81.5h2M610 81.5h6M617 81.5h8M626 81.5h2M547 82.5h2M568 82.5h1M571 82.5h4M583 82.5h1M587 82.5h1M596 82.5h1M598 82.5h3M602 82.5h3M607 82.5h2M614 82.5h2M617 82.5h4M625 82.5h4M536 83.5h2M540 83.5h1M567 83.5h1M573 83.5h6M581 83.5h2M587 83.5h1M590 83.5h1M596 83.5h1M598 83.5h2M603 83.5h3M612 83.5h2M627 83.5h2M536 84.5h2M540 84.5h1M550 84.5h2M559 84.5h2M564 84.5h2M567 84.5h3M571 84.5h1M579 84.5h4M584 84.5h3M590 84.5h1M592 84.5h1M601 84.5h5M612 84.5h4M617 84.5h8M550 85.5h2M558 85.5h2M564 85.5h2M569 85.5h3M576 85.5h1M584 85.5h2M591 85.5h2M595 85.5h2M599 85.5h6M611 85.5h2M616 85.5h2M619 85.5h6M628 85.5h2M632 85.5h2M567 86.5h4M572 86.5h3M576 86.5h1M580 86.5h2M584 86.5h2M587 86.5h6M595 86.5h2M599 86.5h5M608 86.5h2M611 86.5h14M626 86.5h2M632 86.5h4M551 87.5h2M558 87.5h2M567 87.5h4M572 87.5h3M578 87.5h4M585 87.5h4M591 87.5h4M598 87.5h8M608 87.5h2M611 87.5h6M619 87.5h6M626 87.5h2M551 88.5h3M555 88.5h1M557 88.5h5M566 88.5h2M571 88.5h6M578 88.5h11M590 88.5h5M596 88.5h9M610 88.5h9M620 88.5h2M623 88.5h3M634 88.5h2M545 89.5h2M549 89.5h1M552 89.5h2M557 89.5h5M566 89.5h3M571 89.5h4M576 89.5h8M585 89.5h2M593 89.5h11M605 89.5h1M607 89.5h2M610 89.5h3M614 89.5h8M623 89.5h3M631 89.5h1M633 89.5h3M539 90.5h2M545 90.5h2M548 90.5h2M551 90.5h2M563 90.5h1M568 90.5h2M573 90.5h5M579 90.5h1M583 90.5h1M588 90.5h2M593 90.5h8M602 90.5h20M623 90.5h3M630 90.5h5M539 91.5h2M548 91.5h2M551 91.5h2M563 91.5h1M566 91.5h4M572 91.5h1M574 91.5h7M583 91.5h8M592 91.5h22M616 91.5h16M538 92.5h2M543 92.5h1M547 92.5h1M553 92.5h2M560 92.5h2M566 92.5h2M570 92.5h1M572 92.5h1M575 92.5h7M583 92.5h8M592 92.5h7M601 92.5h4M606 92.5h12M619 92.5h13M634 92.5h2M538 93.5h2M543 93.5h1M553 93.5h2M558 93.5h4M564 93.5h2M568 93.5h4M574 93.5h12M587 93.5h31M619 93.5h3M623 93.5h9M633 93.5h3M542 94.5h2M552 94.5h3M556 94.5h5M564 94.5h2M568 94.5h2M572 94.5h29M602 94.5h8M611 94.5h4M616 94.5h3M620 94.5h14M542 95.5h2M552 95.5h1M556 95.5h5M562 95.5h9M572 95.5h3M576 95.5h43M620 95.5h11M632 95.5h1M634 95.5h1M538 96.5h3M547 96.5h2M553 96.5h2M556 96.5h1M558 96.5h1M562 96.5h3M566 96.5h5M572 96.5h3M576 96.5h53M631 96.5h2M538 97.5h3M542 97.5h3M547 97.5h2M553 97.5h4M558 97.5h1M562 97.5h3M567 97.5h3M572 97.5h9M582 97.5h16M599 97.5h34M534 98.5h1M542 98.5h3M554 98.5h3M558 98.5h2M562 98.5h5M568 98.5h1M570 98.5h2M573 98.5h6M580 98.5h53M634 98.5h1M532 99.5h2M549 99.5h2M554 99.5h2M557 99.5h10M568 99.5h4M573 99.5h56M633 99.5h3M532 100.5h2M538 100.5h2M549 100.5h2M557 100.5h9M568 100.5h4M573 100.5h56M630 100.5h2M633 100.5h3M553 101.5h1M562 101.5h6M569 101.5h3M573 101.5h63M537 102.5h2M553 102.5h1M557 102.5h3M562 102.5h74M537 103.5h2M541 103.5h2M550 103.5h1M552 103.5h2M558 103.5h2M563 103.5h70M634 103.5h2M539 104.5h5M550 104.5h1M558 104.5h2M561 104.5h6M569 104.5h63M633 104.5h3M533 105.5h2M539 105.5h2M543 105.5h1M551 105.5h1M559 105.5h9M570 105.5h66M533 106.5h2M547 106.5h2M551 106.5h1M558 106.5h64M623 106.5h13M534 107.5h1M548 107.5h1M553 107.5h4M558 107.5h1M564 107.5h67M632 107.5h4M534 108.5h1M548 108.5h1M550 108.5h3M554 108.5h3M561 108.5h1M564 108.5h71M535 109.5h1M547 109.5h6M554 109.5h6M561 109.5h75M534 110.5h2M545 110.5h6M555 110.5h5M563 110.5h2M566 110.5h17M584 110.5h52M534 111.5h2M537 111.5h4M543 111.5h4M549 111.5h3M556 111.5h5M564 111.5h4M570 111.5h59M630 111.5h6M537 112.5h4M543 112.5h2M549 112.5h3M555 112.5h8M564 112.5h2M567 112.5h1M569 112.5h4M574 112.5h53M628 112.5h7M541 113.5h2M546 113.5h2M549 113.5h2M555 113.5h2M558 113.5h9M568 113.5h68M546 114.5h3M550 114.5h3M560 114.5h2M565 114.5h2M569 114.5h67M550 115.5h4M559 115.5h4M568 115.5h68M544 116.5h2M551 116.5h3M555 116.5h7M564 116.5h67M633 116.5h3M539 117.5h2M544 117.5h2M547 117.5h2M552 117.5h1M554 117.5h3M560 117.5h2M564 117.5h72M541 118.5h2M547 118.5h2M552 118.5h1M556 118.5h2M565 118.5h6M572 118.5h64M534 119.5h1M546 119.5h2M552 119.5h2M556 119.5h2M559 119.5h2M565 119.5h69M534 120.5h1M552 120.5h2M556 120.5h2M559 120.5h2M562 120.5h2M565 120.5h2M568 120.5h68M543 121.5h2M552 121.5h2M557 121.5h2M561 121.5h3M568 121.5h68M533 122.5h2M543 122.5h2M550 122.5h2M555 122.5h1M557 122.5h7M565 122.5h2M568 122.5h68M533 123.5h2M548 123.5h4M553 123.5h3M558 123.5h23M582 123.5h53M546 124.5h1M548 124.5h3M553 124.5h2M558 124.5h3M562 124.5h4M567 124.5h60M629 124.5h6M546 125.5h1M556 125.5h2M559 125.5h2M562 125.5h3M568 125.5h61M630 125.5h6M531 126.5h2M550 126.5h3M556 126.5h2M562 126.5h11M574 126.5h2M577 126.5h49M627 126.5h9M531 127.5h2M546 127.5h1M550 127.5h2M562 127.5h1M564 127.5h3M568 127.5h8M577 127.5h3M581 127.5h31M613 127.5h13M627 127.5h9M546 128.5h1M554 128.5h2M561 128.5h1M564 128.5h3M568 128.5h2M572 128.5h6M581 128.5h2M584 128.5h21M606 128.5h16M623 128.5h2M626 128.5h4M631 128.5h5M553 129.5h3M560 129.5h1M566 129.5h1M573 129.5h7M581 129.5h24M606 129.5h15M622 129.5h8M631 129.5h1M633 129.5h1M551 130.5h2M554 130.5h3M566 130.5h4M571 130.5h16M589 130.5h15M605 130.5h22M632 130.5h3M544 131.5h2M551 131.5h6M560 131.5h4M566 131.5h8M575 131.5h2M578 131.5h7M588 131.5h16M605 131.5h6M612 131.5h7M620 131.5h7M629 131.5h7M544 132.5h2M552 132.5h2M560 132.5h4M565 132.5h3M571 132.5h2M575 132.5h2M578 132.5h6M585 132.5h2M588 132.5h22M611 132.5h5M617 132.5h11M629 132.5h4M564 133.5h3M571 133.5h6M578 133.5h2M581 133.5h6M588 133.5h22M611 133.5h2M615 133.5h1M617 133.5h4M624 133.5h5M631 133.5h2M534 134.5h2M555 134.5h1M560 134.5h2M564 134.5h2M567 134.5h2M571 134.5h9M584 134.5h10M595 134.5h2M598 134.5h16M615 134.5h4M621 134.5h7M631 134.5h1M534 135.5h2M547 135.5h2M560 135.5h2M571 135.5h2M577 135.5h3M581 135.5h1M584 135.5h4M589 135.5h16M608 135.5h20M630 135.5h1M632 135.5h1M547 136.5h2M567 136.5h1M571 136.5h2M576 136.5h1M579 136.5h4M584 136.5h16M601 136.5h2M604 136.5h6M612 136.5h5M620 136.5h8M629 136.5h5M563 137.5h2M567 137.5h2M570 137.5h2M576 137.5h1M578 137.5h5M584 137.5h1M586 137.5h9M596 137.5h7M604 137.5h1M607 137.5h2M612 137.5h7M620 137.5h8M629 137.5h4M554 138.5h1M567 138.5h2M572 138.5h1M575 138.5h2M578 138.5h3M582 138.5h1M586 138.5h5M593 138.5h8M604 138.5h3M608 138.5h7M616 138.5h8M625 138.5h3M629 138.5h1M562 139.5h2M571 139.5h2M575 139.5h2M582 139.5h4M587 139.5h3M593 139.5h4M598 139.5h5M604 139.5h2M608 139.5h1M610 139.5h2M616 139.5h2M619 139.5h3M629 139.5h1M536 140.5h2M552 140.5h7M562 140.5h2M565 140.5h2M571 140.5h1M576 140.5h1M579 140.5h2M582 140.5h4M593 140.5h11M609 140.5h6M617 140.5h2M621 140.5h2M536 141.5h2M554 141.5h5M562 141.5h1M565 141.5h4M576 141.5h5M582 141.5h5M590 141.5h2M594 141.5h5M600 141.5h4M609 141.5h6M616 141.5h3M620 141.5h3M626 141.5h1M537 142.5h1M562 142.5h1M567 142.5h2M576 142.5h5M582 142.5h4M590 142.5h3M596 142.5h2M602 142.5h3M607 142.5h5M614 142.5h1M616 142.5h7M626 142.5h1M563 143.5h2M567 143.5h2M572 143.5h6M579 143.5h2M582 143.5h2M592 143.5h1M596 143.5h2M599 143.5h1M602 143.5h3M606 143.5h3M614 143.5h1M617 143.5h2M627 143.5h2M630 143.5h2M634 143.5h1M545 144.5h1M563 144.5h2M576 144.5h2M584 144.5h2M593 144.5h4M599 144.5h2M602 144.5h2M607 144.5h1M610 144.5h6M621 144.5h2M628 144.5h4M634 144.5h1M543 145.5h3M565 145.5h2M577 145.5h2M584 145.5h2M591 145.5h6M599 145.5h2M605 145.5h3M609 145.5h8M621 145.5h2M628 145.5h2M543 146.5h2M557 146.5h2M565 146.5h1M577 146.5h2M584 146.5h2M588 146.5h1M591 146.5h6M600 146.5h2M614 146.5h2M628 146.5h1M557 147.5h2M564 147.5h2M568 147.5h2M594 147.5h2M600 147.5h4M614 147.5h4M531 148.5h2M552 148.5h2M564 148.5h2M568 148.5h2M576 148.5h2M580 148.5h2M591 148.5h2M595 148.5h2M600 148.5h4M614 148.5h4M620 148.5h4M531 149.5h2M552 149.5h2M564 149.5h2M573 149.5h1M575 149.5h3M580 149.5h2M595 149.5h2M602 149.5h2M617 149.5h2M620 149.5h2M623 149.5h1M575 150.5h2M586 150.5h2M594 150.5h3M617 150.5h2M633 150.5h1M561 151.5h1M586 151.5h2M594 151.5h2M598 151.5h2M602 151.5h2M607 151.5h2M622 151.5h2M633 151.5h1M561 152.5h1M585 152.5h4M598 152.5h2M602 152.5h2M621 152.5h3M585 153.5h4M591 153.5h1M611 153.5h3M627 153.5h2M541 154.5h2M566 154.5h2M593 154.5h1M612 154.5h3M618 154.5h2M627 154.5h2M541 155.5h2M566 155.5h2M585 155.5h2M593 155.5h1M613 155.5h2M618 155.5h2M544 156.5h2M548 156.5h2M585 156.5h2M606 156.5h2M544 157.5h2M548 157.5h2M557 157.5h2M606 157.5h2M557 158.5h2M618 158.5h2M569 160.5h2M574 160.5h1M569 161.5h2" stroke="#e0b432" stroke-width="1"/>
<path d="M637 68.5h2M637 69.5h2M642 69.5h2M640 70.5h4M639 71.5h3M643 71.5h2M639 72.5h2M643 72.5h2M650 72.5h2M635 73.5h2M647 73.5h2M650 73.5h2M678 73.5h2M635 74.5h2M640 74.5h2M652 74.5h3M678 74.5h2M640 75.5h2M649 75.5h2M652 75.5h4M657 75.5h2M636 76.5h1M639 76.5h6M649 76.5h2M652 76.5h4M658 76.5h2M636 77.5h2M641 77.5h4M646 77.5h4M658 77.5h2M639 78.5h3M643 78.5h2M646 78.5h3M639 79.5h5M646 79.5h2M651 79.5h2M637 80.5h2M642 80.5h2M649 80.5h7M637 81.5h2M640 81.5h2M647 81.5h8M660 81.5h1M662 81.5h1M637 82.5h2M640 82.5h2M644 82.5h2M647 82.5h6M660 82.5h1M662 82.5h1M637 83.5h2M647 83.5h3M651 83.5h2M659 83.5h1M662 83.5h2M637 84.5h2M641 84.5h1M645 84.5h5M652 84.5h2M659 84.5h1M662 84.5h2M635 85.5h3M642 85.5h5M649 85.5h2M652 85.5h2M655 85.5h3M635 86.5h2M638 86.5h1M640 86.5h2M643 86.5h3M647 86.5h3M653 86.5h7M662 86.5h2M636 87.5h5M644 87.5h2M647 87.5h8M658 87.5h6M635 88.5h3M639 88.5h17M657 88.5h4M635 89.5h2M639 89.5h5M645 89.5h10M657 89.5h1M666 89.5h2M635 90.5h3M639 90.5h3M643 90.5h2M646 90.5h9M657 90.5h2M662 90.5h1M666 90.5h2M669 90.5h2M635 91.5h3M640 91.5h8M649 91.5h3M653 91.5h3M658 91.5h1M662 91.5h1M666 91.5h2M635 92.5h8M644 92.5h7M653 92.5h3M659 92.5h2M635 93.5h26M662 93.5h2M636 94.5h19M658 94.5h2M662 94.5h2M635 95.5h5M641 95.5h17M635 96.5h23M662 96.5h2M668 96.5h1M635 97.5h5M642 97.5h16M662 97.5h4M668 97.5h1M635 98.5h21M658 98.5h2M664 98.5h2M635 99.5h27M663 99.5h2M635 100.5h27M663 100.5h2M635 101.5h29M635 102.5h28M664 102.5h2M669 102.5h2M635 103.5h20M656 103.5h7M664 103.5h2M668 103.5h3M635 104.5h21M658 104.5h2M661 104.5h2M676 104.5h2M636 105.5h10M647 105.5h9M657 105.5h3M662 105.5h1M665 105.5h1M676 105.5h2M635 106.5h24M660 106.5h2M663 106.5h3M635 107.5h30M667 107.5h2M635 108.5h30M667 108.5h2M635 109.5h27M664 109.5h5M635 110.5h27M666 110.5h3M635 111.5h25M665 111.5h1M668 111.5h4M635 112.5h23M659 112.5h4M664 112.5h2M670 112.5h2M635 113.5h28M665 113.5h1M667 113.5h2M635 114.5h29M665 114.5h1M635 115.5h25M661 115.5h2M666 115.5h2M635 116.5h29M666 116.5h2M635 117.5h31M635 118.5h31M635 119.5h26M662 119.5h3M668 119.5h2M635 120.5h26M662 120.5h1M665 120.5h1M635 121.5h8M644 121.5h17M663 121.5h2M666 121.5h2M635 122.5h27M663 122.5h3M667 122.5h3M635 123.5h27M664 123.5h2M667 123.5h2M635 124.5h25M663 124.5h6M634 125.5h26M663 125.5h5M634 126.5h27M664 126.5h1M635 127.5h26M664 127.5h1M668 127.5h2M635 128.5h25M666 128.5h4M676 128.5h2M635 129.5h25M666 129.5h3M676 129.5h2M635 130.5h15M651 130.5h7M659 130.5h4M670 130.5h2M675 130.5h1M634 131.5h24M660 131.5h3M664 131.5h2M668 131.5h1M675 131.5h1M636 132.5h24M664 132.5h2M668 132.5h3M635 133.5h33M669 133.5h2M636 134.5h21M658 134.5h2M663 134.5h5M636 135.5h23M663 135.5h3M668 135.5h2M635 136.5h27M663 136.5h2M635 137.5h22M658 137.5h4M663 137.5h2M671 137.5h2M636 138.5h24M663 138.5h2M635 139.5h14M650 139.5h10M664 139.5h1M636 140.5h13M650 140.5h9M660 140.5h2M636 141.5h11M648 141.5h5M654 141.5h1M657 141.5h2M660 141.5h2M667 141.5h2M637 142.5h16M654 142.5h5M662 142.5h1M665 142.5h1M637 143.5h15M653 143.5h4M658 143.5h5M664 143.5h2M635 144.5h17M653 144.5h3M659 144.5h4M664 144.5h1M635 145.5h3M639 145.5h10M650 145.5h2M654 145.5h2M660 145.5h2M635 146.5h3M639 146.5h2M642 146.5h7M651 146.5h5M658 146.5h2M661 146.5h2M636 147.5h5M642 147.5h5M652 147.5h4M657 147.5h4M671 147.5h2M636 148.5h4M642 148.5h3M646 148.5h3M650 148.5h2M653 148.5h3M659 148.5h2M671 148.5h2M635 149.5h2M639 149.5h2M643 149.5h2M646 149.5h6M653 149.5h4M658 149.5h4M635 150.5h8M647 150.5h3M653 150.5h3M658 150.5h4M635 151.5h4M641 151.5h5M647 151.5h2M659 151.5h1M637 152.5h2M641 152.5h6M648 152.5h4M657 152.5h2M638 153.5h3M643 153.5h5M650 153.5h2M653 153.5h1M657 153.5h2M661 153.5h3M640 154.5h1M646 154.5h4M653 154.5h1M661 154.5h3M648 155.5h2M667 155.5h1M667 156.5h1M635 157.5h4M642 157.5h2M635 158.5h1M642 158.5h2M663 158.5h2" stroke="#3d4fae" stroke-width="1"/>
<rect x="629" y="64.6" width="1.4" height="1.4" fill="#b856bb"/>
<rect x="636.5" y="63.3" width="1.4" height="1.4" fill="#7fd8dc"/>
<rect x="656" y="53" width="1.4" height="1.4" fill="#7fd8dc"/>
<rect x="659" y="59" width="1.4" height="1.4" fill="#7fd8dc"/>
<text x="398.2" y="57.0" font-size="8.3" font-weight="bold" fill="#111" textLength="17.8" lengthAdjust="spacingAndGlyphs">ROI 1</text>
<text x="396.0" y="66.8" font-size="8.3" font-weight="bold" fill="#111" textLength="22.9" lengthAdjust="spacingAndGlyphs">44.5 %</text>
<text x="448.8" y="57.0" font-size="8.3" font-weight="bold" fill="#111" textLength="18.6" lengthAdjust="spacingAndGlyphs">ROI 2</text>
<text x="449.0" y="66.8" font-size="8.3" font-weight="bold" fill="#111" textLength="18.4" lengthAdjust="spacingAndGlyphs">0.1 %</text>
<text x="395.6" y="109.7" font-size="8.3" font-weight="bold" fill="#111" textLength="19.0" lengthAdjust="spacingAndGlyphs">ROI 3</text>
<text x="393.0" y="119.5" font-size="8.3" font-weight="bold" fill="#111" textLength="22.8" lengthAdjust="spacingAndGlyphs">55.4 %</text>
<text x="449.2" y="109.7" font-size="8.3" font-weight="bold" fill="#111" textLength="18.4" lengthAdjust="spacingAndGlyphs">ROI 4</text>
<text x="449.2" y="119.5" font-size="8.3" font-weight="bold" fill="#111" textLength="18.4" lengthAdjust="spacingAndGlyphs">0.1 %</text>
<text x="592.6" y="57.0" font-size="8.3" font-weight="bold" fill="#111" textLength="18.8" lengthAdjust="spacingAndGlyphs">ROI 1</text>
<text x="592.6" y="66.8" font-size="8.3" font-weight="bold" fill="#111" textLength="18.8" lengthAdjust="spacingAndGlyphs">0.0 %</text>
<text x="643.7" y="57.0" font-size="8.3" font-weight="bold" fill="#111" textLength="18.8" lengthAdjust="spacingAndGlyphs">ROI 2</text>
<text x="643.7" y="66.8" font-size="8.3" font-weight="bold" fill="#111" textLength="18.8" lengthAdjust="spacingAndGlyphs">0.0 %</text>
<text x="590.0" y="109.7" font-size="8.3" font-weight="bold" fill="#111" textLength="19.0" lengthAdjust="spacingAndGlyphs">ROI 3</text>
<text x="588.3" y="119.5" font-size="8.3" font-weight="bold" fill="#111" textLength="22.7" lengthAdjust="spacingAndGlyphs">61.8 %</text>
<text x="643.9" y="109.7" font-size="8.3" font-weight="bold" fill="#111" textLength="18.5" lengthAdjust="spacingAndGlyphs">ROI 4</text>
<text x="641.4" y="119.5" font-size="8.3" font-weight="bold" fill="#111" textLength="23.0" lengthAdjust="spacingAndGlyphs">38.2 %</text>
<text x="295.6" y="200.3" font-size="11.5" font-weight="bold" fill="#111" textLength="9.4" lengthAdjust="spacingAndGlyphs">d)</text>
<linearGradient id="magma" x1="0" y1="0" x2="0" y2="1"><stop offset="0.00" stop-color="#fcfdbf"/><stop offset="0.10" stop-color="#fecf92"/><stop offset="0.20" stop-color="#fe9f6d"/><stop offset="0.30" stop-color="#f7705c"/><stop offset="0.40" stop-color="#de4968"/><stop offset="0.50" stop-color="#b73779"/><stop offset="0.60" stop-color="#8c2981"/><stop offset="0.70" stop-color="#641a80"/><stop offset="0.80" stop-color="#3b0f70"/><stop offset="0.90" stop-color="#140e36"/><stop offset="1.00" stop-color="#000004"/></linearGradient>
<rect x="329.2" y="209.3" width="8.4" height="125.6" fill="url(#magma)" stroke="#111" stroke-width="0.8"/>
<text x="319.5" y="337.9" font-size="8" fill="#222" textLength="4.9" lengthAdjust="spacingAndGlyphs">0</text>
<text x="314.8" y="312.8" font-size="8" fill="#222" textLength="9.6" lengthAdjust="spacingAndGlyphs">10</text>
<text x="314.8" y="287.7" font-size="8" fill="#222" textLength="9.6" lengthAdjust="spacingAndGlyphs">20</text>
<text x="314.8" y="262.5" font-size="8" fill="#222" textLength="9.6" lengthAdjust="spacingAndGlyphs">30</text>
<text x="314.8" y="237.4" font-size="8" fill="#222" textLength="9.6" lengthAdjust="spacingAndGlyphs">40</text>
<text x="314.8" y="212.3" font-size="8" fill="#222" textLength="9.6" lengthAdjust="spacingAndGlyphs">50</text>
<path d="M327.6,334.9h2M337.2,334.9h2M327.6,309.8h2M337.2,309.8h2M327.6,284.7h2M337.2,284.7h2M327.6,259.5h2M337.2,259.5h2M327.6,234.4h2M337.2,234.4h2M327.6,209.3h2M337.2,209.3h2" stroke="#111" stroke-width="0.8"/>
<text transform="translate(306.0,276.3) rotate(-90)" x="-39.0" y="0" font-size="8.2" fill="#333" textLength="78.0" lengthAdjust="spacingAndGlyphs">Percentage gated (%)</text>
<rect x="343.4" y="209.1" width="90.0" height="125.9" fill="#070707"/>
<rect x="343.4" y="209.1" width="30.0" height="42.0" fill="#2e1c63"/>
<rect x="343.4" y="251.1" width="30.0" height="42.0" fill="#e1506a"/>
<rect x="373.4" y="251.1" width="30.0" height="42.0" fill="#f2c98e"/>
<rect x="343.4" y="293.0" width="30.0" height="42.0" fill="#34206c"/>
<rect x="403.4" y="293.0" width="30.0" height="42.0" fill="#ef8a62"/>
<rect x="343.4" y="209.1" width="90.0" height="125.9" fill="none" stroke="#111" stroke-width="0.8"/>
<text x="348.1" y="234.9" font-size="8.8" font-weight="bold" fill="#f4f4f4" textLength="20.5" lengthAdjust="spacingAndGlyphs">8.5 %</text>
<text x="378.1" y="234.9" font-size="8.8" font-weight="bold" fill="#f4f4f4" textLength="20.5" lengthAdjust="spacingAndGlyphs">0.1 %</text>
<text x="408.1" y="234.9" font-size="8.8" font-weight="bold" fill="#f4f4f4" textLength="20.5" lengthAdjust="spacingAndGlyphs">0.0 %</text>
<text x="346.4" y="278.5" font-size="8.8" font-weight="bold" fill="#111" textLength="24.0" lengthAdjust="spacingAndGlyphs">31.1 %</text>
<text x="376.4" y="278.5" font-size="8.8" font-weight="bold" fill="#111" textLength="24.0" lengthAdjust="spacingAndGlyphs">44.5 %</text>
<text x="408.1" y="278.5" font-size="8.8" font-weight="bold" fill="#f4f4f4" textLength="20.5" lengthAdjust="spacingAndGlyphs">0.0 %</text>
<text x="348.1" y="319.1" font-size="8.8" font-weight="bold" fill="#f4f4f4" textLength="20.5" lengthAdjust="spacingAndGlyphs">9.5 %</text>
<text x="378.1" y="319.1" font-size="8.8" font-weight="bold" fill="#f4f4f4" textLength="20.5" lengthAdjust="spacingAndGlyphs">0.1 %</text>
<text x="406.4" y="319.1" font-size="8.8" font-weight="bold" fill="#111" textLength="24.0" lengthAdjust="spacingAndGlyphs">38.2 %</text>
<path d="M358.4,335v3.2M388.4,335v3.2M418.4,335v3.2M433.4,237.6h3.6M433.4,274.5h3.6M433.4,310.8h3.6" stroke="#222" stroke-width="0.8"/>
<rect x="298.3" y="340.5" width="136.2" height="20.8" rx="8" fill="#efefef"/>
<text x="300.5" y="354.3" font-size="7.6" font-weight="bold" fill="#222" textLength="37.3" lengthAdjust="spacingAndGlyphs">Added DNA</text>
<text x="346.2" y="349.0" font-size="7.4" font-style="italic" fill="#333" textLength="24.5" lengthAdjust="spacingAndGlyphs">DNArep</text>
<text x="348.8" y="359.2" font-size="7.4" font-style="italic" fill="#333" textLength="19.5" lengthAdjust="spacingAndGlyphs">PLsyn</text>
<text x="377.8" y="354.1" font-size="7.4" font-style="italic" fill="#333" textLength="24.5" lengthAdjust="spacingAndGlyphs">DNArep</text>
<text x="410.6" y="354.1" font-size="7.4" font-style="italic" fill="#333" textLength="19.5" lengthAdjust="spacingAndGlyphs">PLsyn</text>
<text x="442.9" y="219.8" font-size="7.6" fill="#222" textLength="19.0" lengthAdjust="spacingAndGlyphs">ROI 2</text>
<text x="442.9" y="261.9" font-size="7.6" fill="#222" textLength="19.0" lengthAdjust="spacingAndGlyphs">ROI 1</text>
<text x="442.9" y="304.0" font-size="7.6" fill="#222" textLength="19.0" lengthAdjust="spacingAndGlyphs">ROI 4</text>
<circle cx="452.1" cy="236" r="8.4" fill="#78c84c" stroke="#a448b4" stroke-width="2"/>
<circle cx="452.1" cy="276.3" r="7.8" fill="#78c84c" stroke="#8c8c8c" stroke-width="2"/>
<circle cx="452.1" cy="318.4" r="8.1" fill="#fff" stroke="#a448b4" stroke-width="2"/>
<text x="470.0" y="202.3" font-size="11.5" font-weight="bold" fill="#111" textLength="8.6" lengthAdjust="spacingAndGlyphs">e)</text>
<rect x="481.7" y="193" width="28" height="147.2" rx="8" fill="#efefef"/>
<text x="485.2" y="202.0" font-size="7.6" font-weight="bold" fill="#222" textLength="20.5" lengthAdjust="spacingAndGlyphs">Added</text>
<text x="487.8" y="211.2" font-size="7.6" font-weight="bold" fill="#222" textLength="15.5" lengthAdjust="spacingAndGlyphs">DNA</text>
<text x="483.2" y="246.8" font-size="7.4" font-style="italic" fill="#333" textLength="24.5" lengthAdjust="spacingAndGlyphs">DNArep</text>
<text x="485.8" y="256.0" font-size="7.4" font-style="italic" fill="#333" textLength="19.5" lengthAdjust="spacingAndGlyphs">PLsyn</text>
<text x="482.8" y="302.0" font-size="7.4" font-style="italic" fill="#333" textLength="24.5" lengthAdjust="spacingAndGlyphs">DNArep</text>
<text x="485.2" y="327.0" font-size="7.4" font-style="italic" fill="#333" textLength="19.5" lengthAdjust="spacingAndGlyphs">PLsyn</text>
<path d="M516,211.6H512.6V287.2H516" fill="none" stroke="#333" stroke-width="0.8"/>
<circle cx="524.4" cy="225.6" r="5.7" fill="#78c84c" stroke="#a448b4" stroke-width="1.6"/>
<circle cx="524.4" cy="250.1" r="5.7" fill="#fff" stroke="#a448b4" stroke-width="1.6"/>
<circle cx="524.4" cy="274.6" r="5.7" fill="#78c84c" stroke="#8c8c8c" stroke-width="1.6"/>
<circle cx="524.4" cy="299.4" r="5.7" fill="#78c84c" stroke="#8c8c8c" stroke-width="1.6"/>
<circle cx="524.4" cy="324" r="5.7" fill="#fff" stroke="#a448b4" stroke-width="1.6"/>
<path d="M541.1,209.8V339.3H602.3M541.1,226.6h-5.5M541.1,251.1h-5.5M541.1,275.6h-5.5M541.1,300.4h-5.5M541.1,325.0h-5.5M541.1,339.3v4.5M548.8,339.3v3M556.4,339.3v3M564.0,339.3v3M571.7,339.3v4.5M579.4,339.3v3M587.0,339.3v3M594.6,339.3v3M602.3,339.3v4.5" fill="none" stroke="#555" stroke-width="0.9"/>
<path d="M614.3,209.8V339.3H678.8M614.3,226.6h-5.5M614.3,251.1h-5.5M614.3,275.6h-5.5M614.3,300.4h-5.5M614.3,325.0h-5.5M614.3,339.3v4.5M623.5,339.3v3M632.7,339.3v3M641.9,339.3v3M651.2,339.3v4.5M660.4,339.3v3M669.6,339.3v3M678.8,339.3v3" fill="none" stroke="#555" stroke-width="0.9"/>
<text x="535.3" y="357.0" font-size="7.4" fill="#333" textLength="8.0" lengthAdjust="spacingAndGlyphs">10</text>
<text x="543.6" y="350.8" font-size="6" fill="#333">-4</text>
<text x="565.5" y="357.0" font-size="7.4" fill="#333" textLength="8.0" lengthAdjust="spacingAndGlyphs">10</text>
<text x="573.8" y="350.8" font-size="6" fill="#333">0</text>
<text x="597.7" y="357.0" font-size="7.4" fill="#333" textLength="8.0" lengthAdjust="spacingAndGlyphs">10</text>
<text x="606.0" y="350.8" font-size="6" fill="#333">4</text>
<text x="610.9" y="357.0" font-size="7.4" fill="#333" textLength="8.0" lengthAdjust="spacingAndGlyphs">10</text>
<text x="619.2" y="350.8" font-size="6" fill="#333">-3</text>
<text x="636.0" y="357.0" font-size="7.4" fill="#333" textLength="8.0" lengthAdjust="spacingAndGlyphs">10</text>
<text x="644.3" y="350.8" font-size="6" fill="#333">0</text>
<text x="673.2" y="357.0" font-size="7.4" fill="#333" textLength="8.0" lengthAdjust="spacingAndGlyphs">10</text>
<text x="681.5" y="350.8" font-size="6" fill="#333">4</text>
<text x="560.2" y="367.8" font-size="7.8" fill="#333" textLength="27.5" lengthAdjust="spacingAndGlyphs">dsGreen</text>
<text x="551.5" y="377.9" font-size="7.8" fill="#333" textLength="45.0" lengthAdjust="spacingAndGlyphs">Intensity (A.U)</text>
<text x="620.5" y="367.8" font-size="7.8" fill="#333" textLength="54.5" lengthAdjust="spacingAndGlyphs">LactC2-mCherry</text>
<text x="625.3" y="377.9" font-size="7.8" fill="#333" textLength="45.0" lengthAdjust="spacingAndGlyphs">Intensity (A.U)</text>
<polygon points="587.7,223.6 588.4,221.9 589.1,220.0 589.8,219.2 590.5,219.6 591.2,217.8 591.9,218.0 592.6,218.4 593.3,218.9 594.0,218.7 594.7,219.2 595.4,219.6 596.1,220.6 596.8,221.7 597.5,222.5 598.2,223.0 598.9,224.4 599.6,224.9 599.6,228.5 598.9,229.8 598.2,229.6 597.5,230.6 596.8,231.7 596.1,232.6 595.4,233.1 594.7,233.8 594.0,234.7 593.3,234.3 592.6,234.5 591.9,235.5 591.2,234.8 590.5,234.5 589.8,233.6 589.1,233.4 588.4,231.3 587.7,229.7" fill="#52c34c"/>
<polygon points="587.7,248.7 588.4,245.9 589.1,244.3 589.8,243.7 590.5,243.6 591.2,242.4 591.9,242.6 592.6,242.2 593.3,243.0 594.0,242.9 594.7,244.1 595.4,244.3 596.1,245.1 596.8,246.4 597.5,247.1 598.2,248.0 598.9,248.5 599.6,249.2 599.6,253.4 598.9,254.3 598.2,254.1 597.5,254.8 596.8,256.0 596.1,256.3 595.4,257.7 594.7,258.3 594.0,258.8 593.3,259.7 592.6,259.6 591.9,259.6 591.2,258.9 590.5,258.1 589.8,258.0 589.1,257.5 588.4,256.1 587.7,254.0" fill="#52c34c"/>
<polygon points="547.0,274.8 547.7,274.7 548.4,274.6 549.1,274.7 549.8,274.7 550.5,274.3 551.2,274.3 551.9,274.3 552.6,274.0 553.3,273.8 554.0,273.5 554.7,273.7 555.4,273.2 556.1,273.5 556.8,272.5 557.5,272.2 558.2,272.9 558.9,272.2 559.6,272.2 560.3,271.9 561.0,271.7 561.7,271.1 562.4,271.1 563.1,271.4 563.8,270.8 564.5,270.7 565.2,270.8 565.9,270.3 566.6,270.2 567.3,269.5 568.0,269.9 568.7,269.5 569.4,270.2 570.1,269.9 570.8,269.2 571.5,269.3 572.2,269.1 572.9,269.8 573.6,269.6 574.3,270.4 575.0,269.8 575.7,269.7 576.4,269.7 577.1,270.1 577.8,269.7 578.5,270.7 579.2,270.8 579.9,270.4 580.6,270.8 581.3,270.4 582.0,270.8 582.7,271.1 583.4,272.0 584.1,271.7 584.8,270.5 585.5,270.0 586.2,269.0 586.9,268.8 587.6,269.0 588.3,269.6 589.0,270.3 589.0,280.8 588.3,281.5 587.6,282.8 586.9,282.6 586.2,282.5 585.5,281.6 584.8,280.3 584.1,279.4 583.4,279.8 582.7,279.6 582.0,279.7 581.3,280.4 580.6,280.0 579.9,280.3 579.2,281.2 578.5,280.6 577.8,281.3 577.1,281.6 576.4,281.7 575.7,281.8 575.0,281.8 574.3,282.2 573.6,281.9 572.9,281.4 572.2,281.2 571.5,282.0 570.8,282.1 570.1,282.2 569.4,282.2 568.7,281.4 568.0,280.8 567.3,281.2 566.6,280.3 565.9,281.1 565.2,280.5 564.5,281.4 563.8,279.6 563.1,280.1 562.4,279.9 561.7,279.5 561.0,280.1 560.3,279.1 559.6,279.0 558.9,278.9 558.2,278.4 557.5,278.2 556.8,278.3 556.1,277.9 555.4,278.1 554.7,278.2 554.0,278.2 553.3,277.4 552.6,277.6 551.9,277.0 551.2,277.2 550.5,277.2 549.8,276.2 549.1,277.0 548.4,276.7 547.7,276.4 547.0,276.3" fill="#52c34c"/>
<polygon points="588.2,296.6 588.9,294.4 589.6,292.2 590.3,292.1 591.0,292.2 591.7,292.3 592.4,291.7 593.1,292.1 593.8,292.0 594.5,292.5 595.2,293.1 595.9,293.3 596.6,293.2 597.3,294.2 598.0,294.2 598.7,294.6 599.4,295.7 599.4,304.1 598.7,304.7 598.0,304.8 597.3,305.6 596.6,305.6 595.9,306.6 595.2,305.5 594.5,306.0 593.8,306.6 593.1,307.1 592.4,307.5 591.7,308.0 591.0,307.4 590.3,307.4 589.6,307.0 588.9,305.3 588.2,302.2" fill="#52c34c"/>
<polygon points="544.3,323.7 545.0,323.2 545.7,323.0 546.4,323.1 547.1,322.7 547.8,322.4 548.5,322.4 549.2,322.2 549.9,322.2 550.6,321.9 551.3,322.2 552.0,321.5 552.7,320.9 553.4,320.9 554.1,320.1 554.8,320.2 555.5,320.2 556.2,320.0 556.9,319.6 557.6,319.0 558.3,318.7 559.0,319.3 559.7,317.8 560.4,317.1 561.1,317.6 561.8,316.8 562.5,317.1 563.2,316.2 563.9,316.8 564.6,316.5 565.3,315.8 566.0,315.9 566.7,316.5 567.4,316.1 568.1,316.5 568.8,316.5 569.5,316.5 570.2,316.8 570.9,318.1 571.6,318.5 572.3,318.5 573.0,319.2 573.7,320.6 574.4,319.6 575.1,320.7 575.8,320.7 576.5,321.2 577.2,321.4 577.9,321.4 578.6,322.6 579.3,322.4 580.0,322.9 580.7,322.6 581.4,322.6 582.1,322.6 582.8,323.0 583.5,322.6 584.2,323.1 584.9,323.2 585.6,323.4 586.3,323.5 587.0,323.6 587.7,323.7 588.4,323.7 588.4,324.7 587.7,324.8 587.0,324.8 586.3,324.8 585.6,324.8 584.9,324.9 584.2,324.9 583.5,325.3 582.8,325.4 582.1,325.4 581.4,325.9 580.7,325.6 580.0,325.4 579.3,326.8 578.6,326.8 577.9,326.0 577.2,327.2 576.5,327.6 575.8,327.5 575.1,327.8 574.4,328.0 573.7,329.1 573.0,329.4 572.3,330.1 571.6,329.8 570.9,330.5 570.2,330.7 569.5,331.1 568.8,331.9 568.1,332.2 567.4,332.1 566.7,331.8 566.0,332.3 565.3,331.6 564.6,332.3 563.9,331.7 563.2,332.4 562.5,331.4 561.8,331.9 561.1,330.7 560.4,330.9 559.7,330.2 559.0,330.3 558.3,329.2 557.6,329.7 556.9,329.5 556.2,329.0 555.5,329.1 554.8,328.4 554.1,327.8 553.4,327.8 552.7,327.3 552.0,328.1 551.3,326.7 550.6,327.1 549.9,325.4 549.2,326.1 548.5,326.0 547.8,325.8 547.1,325.2 546.4,325.0 545.7,325.1 545.0,324.9 544.3,324.5" fill="#52c34c"/>
<path d="M594.3,217.6V236M595,242V260.2M582.5,264.8V285.3M595,290V309M571.5,314.4V333.6" stroke="#111" stroke-width="0.9"/>
<polygon points="656.4,220.6 657.1,218.4 657.8,217.8 658.5,218.7 659.2,219.5 659.9,218.8 660.6,218.8 661.3,219.0 662.0,218.5 662.7,218.8 663.4,218.7 664.1,218.7 664.8,218.2 665.5,219.0 666.2,219.5 666.9,220.9 667.6,221.4 668.3,222.0 669.0,222.4 669.7,223.6 670.4,223.5 671.1,223.7 671.8,224.2 672.5,224.1 673.2,224.8 673.9,224.8 674.6,225.1 675.3,225.2 675.3,227.2 674.6,227.2 673.9,227.3 673.2,228.0 672.5,227.5 671.8,228.2 671.1,228.7 670.4,229.0 669.7,229.8 669.0,230.6 668.3,231.2 667.6,231.9 666.9,232.3 666.2,232.8 665.5,233.5 664.8,233.7 664.1,233.6 663.4,233.3 662.7,234.3 662.0,234.3 661.3,234.0 660.6,234.6 659.9,234.4 659.2,234.5 658.5,233.8 657.8,233.6 657.1,233.7 656.4,232.6" fill="#8a42ac"/>
<polygon points="614.3,249.5 615.0,249.5 615.7,249.1 616.4,249.1 617.1,249.1 617.8,249.4 618.5,248.8 619.2,248.7 619.9,248.6 620.6,248.5 621.3,248.5 622.0,248.0 622.7,248.3 623.4,248.3 624.1,247.3 624.8,247.7 625.5,247.5 626.2,247.0 626.9,246.4 627.6,246.1 628.3,246.3 629.0,247.1 629.7,245.8 630.4,245.5 631.1,245.9 631.8,245.5 632.5,245.9 633.2,245.5 633.9,245.1 634.6,244.8 635.3,244.6 636.0,244.2 636.7,244.2 637.4,243.4 638.1,244.2 638.8,243.0 639.5,242.9 640.2,243.0 640.9,242.9 641.6,242.4 642.3,242.6 643.0,242.0 643.7,242.2 644.4,242.7 645.1,241.9 645.8,242.3 646.5,242.5 647.2,242.1 647.9,242.5 648.6,243.4 649.3,243.5 650.0,243.7 650.7,243.9 651.4,244.1 652.1,244.6 652.8,245.0 653.5,245.9 654.2,245.9 654.9,246.3 655.6,246.6 656.3,247.2 657.0,247.5 657.7,248.2 658.4,248.2 658.4,251.6 657.7,252.5 657.0,252.9 656.3,254.0 655.6,253.3 654.9,254.5 654.2,254.7 653.5,255.3 652.8,254.9 652.1,255.9 651.4,255.7 650.7,256.2 650.0,256.9 649.3,257.1 648.6,257.0 647.9,257.6 647.2,257.6 646.5,258.4 645.8,257.7 645.1,257.7 644.4,258.2 643.7,257.7 643.0,257.5 642.3,258.4 641.6,257.6 640.9,258.2 640.2,258.1 639.5,257.6 638.8,256.5 638.1,256.7 637.4,256.5 636.7,255.9 636.0,256.2 635.3,256.2 634.6,255.9 633.9,255.1 633.2,254.9 632.5,254.5 631.8,255.2 631.1,254.9 630.4,254.3 629.7,254.6 629.0,254.2 628.3,254.2 627.6,253.0 626.9,253.4 626.2,252.8 625.5,253.1 624.8,252.8 624.1,253.2 623.4,252.4 622.7,252.4 622.0,252.4 621.3,252.2 620.6,251.6 619.9,252.2 619.2,251.5 618.5,251.8 617.8,251.4 617.1,251.2 616.4,251.4 615.7,251.0 615.0,251.1 614.3,250.7" fill="#8a42ac"/>
<polygon points="656.2,268.5 656.9,266.9 657.6,265.9 658.3,266.3 659.0,266.4 659.7,265.7 660.4,266.6 661.1,266.5 661.8,266.3 662.5,265.8 663.2,266.6 663.9,266.6 664.6,267.1 665.3,267.5 666.0,267.4 666.7,268.1 667.4,269.5 668.1,269.8 668.8,271.4 669.5,271.6 670.2,271.6 670.9,272.6 671.6,272.6 672.3,272.6 673.0,273.0 673.7,273.3 674.4,273.4 675.1,273.7 675.8,274.0 675.8,275.5 675.1,275.6 674.4,276.0 673.7,276.6 673.0,276.4 672.3,276.2 671.6,276.9 670.9,277.4 670.2,277.3 669.5,278.0 668.8,278.5 668.1,279.8 667.4,280.4 666.7,281.5 666.0,282.1 665.3,282.7 664.6,283.2 663.9,283.5 663.2,283.1 662.5,283.8 661.8,283.6 661.1,283.9 660.4,283.1 659.7,284.3 659.0,283.5 658.3,283.9 657.6,283.4 656.9,283.2 656.2,281.5" fill="#8a42ac"/>
<polygon points="614.3,298.1 615.0,297.8 615.7,298.0 616.4,298.1 617.1,297.6 617.8,297.6 618.5,297.8 619.2,297.7 619.9,297.3 620.6,297.5 621.3,297.3 622.0,296.6 622.7,296.3 623.4,296.3 624.1,296.6 624.8,296.0 625.5,296.5 626.2,295.6 626.9,295.9 627.6,294.7 628.3,295.1 629.0,294.9 629.7,294.9 630.4,294.4 631.1,294.9 631.8,294.7 632.5,294.7 633.2,294.0 633.9,294.2 634.6,293.7 635.3,293.4 636.0,292.8 636.7,293.8 637.4,293.3 638.1,292.3 638.8,291.6 639.5,291.8 640.2,291.6 640.9,291.4 641.6,290.6 642.3,290.6 643.0,290.5 643.7,290.0 644.4,290.9 645.1,290.6 645.8,290.9 646.5,291.4 647.2,291.3 647.9,291.9 648.6,291.9 649.3,292.2 650.0,292.9 650.7,293.2 651.4,293.8 652.1,295.1 652.8,295.3 653.5,295.4 654.2,296.0 654.9,296.2 655.6,296.9 656.3,296.5 657.0,297.3 657.7,297.7 657.7,300.1 657.0,300.1 656.3,301.0 655.6,301.1 654.9,300.9 654.2,301.8 653.5,301.6 652.8,302.4 652.1,303.0 651.4,304.2 650.7,304.1 650.0,304.1 649.3,305.3 648.6,305.4 647.9,305.5 647.2,305.7 646.5,306.4 645.8,306.0 645.1,306.0 644.4,307.0 643.7,306.8 643.0,306.3 642.3,306.7 641.6,305.8 640.9,306.3 640.2,306.0 639.5,304.8 638.8,305.0 638.1,304.4 637.4,304.9 636.7,304.3 636.0,303.9 635.3,304.0 634.6,304.0 633.9,303.3 633.2,302.9 632.5,302.7 631.8,303.2 631.1,302.3 630.4,302.0 629.7,302.8 629.0,302.6 628.3,302.3 627.6,301.7 626.9,302.2 626.2,302.0 625.5,301.9 624.8,301.7 624.1,300.9 623.4,301.0 622.7,300.9 622.0,300.6 621.3,300.7 620.6,300.1 619.9,300.0 619.2,299.7 618.5,300.1 617.8,299.9 617.1,299.8 616.4,299.9 615.7,299.5 615.0,299.3 614.3,299.3" fill="#8a42ac"/>
<polygon points="656.2,317.1 656.9,315.3 657.6,315.1 658.3,315.5 659.0,315.0 659.7,314.9 660.4,314.9 661.1,315.1 661.8,315.0 662.5,314.7 663.2,315.9 663.9,315.2 664.6,315.8 665.3,316.0 666.0,316.7 666.7,317.0 667.4,317.9 668.1,318.0 668.8,318.4 669.5,319.6 670.2,319.3 670.9,320.3 671.6,320.8 672.3,320.7 673.0,321.1 673.7,321.1 674.4,321.2 675.1,321.8 675.8,321.9 675.8,323.4 675.1,323.8 674.4,324.0 673.7,324.2 673.0,324.3 672.3,324.2 671.6,324.8 670.9,325.4 670.2,325.4 669.5,325.4 668.8,326.4 668.1,326.7 667.4,328.0 666.7,328.1 666.0,329.6 665.3,329.4 664.6,329.4 663.9,330.0 663.2,329.6 662.5,330.9 661.8,330.7 661.1,330.9 660.4,330.8 659.7,330.6 659.0,330.4 658.3,330.1 657.6,329.8 656.9,329.7 656.2,328.6" fill="#8a42ac"/>
<path d="M665.4,216.5V236M648.5,240V260M665.5,264.5V285M645.5,289V308M664.5,313V332" stroke="#111" stroke-width="0.9"/>
<text x="297.8" y="385.3" font-size="11.5" font-weight="bold" fill="#111" textLength="7.7" lengthAdjust="spacingAndGlyphs">f)</text>
<circle cx="327.2" cy="382.8" r="3.7" fill="#a2a2a2" stroke="#444" stroke-width="0.6"/>
<text x="334.5" y="385.6" font-size="7.8" fill="#222" textLength="11.2" lengthAdjust="spacingAndGlyphs">0 h</text>
<path d="M355,378.8L358.8,386.2H351.2Z" fill="#5cc84a" stroke="#333" stroke-width="0.6"/>
<text x="362.3" y="385.6" font-size="7.8" fill="#222" textLength="15.5" lengthAdjust="spacingAndGlyphs">16 h</text>
<text transform="translate(308.1,437.0) rotate(-90)" x="-48.0" y="0" font-size="7.8" fill="#333" textLength="96.0" lengthAdjust="spacingAndGlyphs">DNA concentration (pM)</text>
<path d="M342.2,396.5V488.4M336,488.4H474.9M342.2,481.6h-3.5M342.2,477.6h-3.5M342.2,474.7h-3.5M342.2,472.5h-3.5M342.2,470.7h-3.5M342.2,469.2h-3.5M342.2,467.9h-3.5M342.2,466.7h-3.5M342.2,458.9h-3.5M342.2,454.9h-3.5M342.2,452.0h-3.5M342.2,449.8h-3.5M342.2,448.0h-3.5M342.2,446.5h-3.5M342.2,445.2h-3.5M342.2,444.0h-3.5M342.2,436.2h-3.5M342.2,432.2h-3.5M342.2,429.3h-3.5M342.2,427.1h-3.5M342.2,425.3h-3.5M342.2,423.8h-3.5M342.2,422.5h-3.5M342.2,421.3h-3.5M342.2,413.5h-3.5M342.2,409.5h-3.5M342.2,406.6h-3.5M342.2,404.4h-3.5M342.2,402.6h-3.5M342.2,401.1h-3.5M342.2,399.8h-3.5M342.2,398.6h-3.5M342.2,488.4h-6M342.2,465.7h-6M342.2,443.0h-6M342.2,420.3h-6M342.2,397.6h-6M362.4,488.4v6.5M407.3,488.4v6.5M453.3,488.4v6.5" fill="none" stroke="#222" stroke-width="0.8"/>
<text x="321.3" y="491.7" font-size="7.6" fill="#333" textLength="8.9" lengthAdjust="spacingAndGlyphs">10</text>
<text x="330.8" y="487.6" font-size="6.6" fill="#333">0</text>
<text x="321.3" y="469.0" font-size="7.6" fill="#333" textLength="8.9" lengthAdjust="spacingAndGlyphs">10</text>
<text x="330.8" y="464.9" font-size="6.6" fill="#333">1</text>
<text x="321.3" y="446.3" font-size="7.6" fill="#333" textLength="8.9" lengthAdjust="spacingAndGlyphs">10</text>
<text x="330.8" y="442.2" font-size="6.6" fill="#333">2</text>
<text x="321.3" y="423.6" font-size="7.6" fill="#333" textLength="8.9" lengthAdjust="spacingAndGlyphs">10</text>
<text x="330.8" y="419.5" font-size="6.6" fill="#333">3</text>
<text x="321.3" y="400.9" font-size="7.6" fill="#333" textLength="8.9" lengthAdjust="spacingAndGlyphs">10</text>
<text x="330.8" y="396.8" font-size="6.6" fill="#333">4</text>
<rect x="349.2" y="462.2" width="9.9" height="26.2" fill="#a3a3a3" stroke="#333" stroke-width="0.8"/>
<rect x="366.3" y="414.1" width="9.4" height="74.3" fill="#5cc84a" stroke="#333" stroke-width="0.8"/>
<rect x="394.6" y="449.1" width="9.9" height="39.3" fill="#a3a3a3" stroke="#333" stroke-width="0.8"/>
<rect x="411.4" y="426.5" width="10.2" height="61.9" fill="#5cc84a" stroke="#333" stroke-width="0.8"/>
<rect x="439.9" y="449.1" width="9.9" height="39.3" fill="#a3a3a3" stroke="#333" stroke-width="0.8"/>
<rect x="456.9" y="428.7" width="10.4" height="59.7" fill="#5cc84a" stroke="#333" stroke-width="0.8"/>
<g fill="#111"><circle cx="353.8" cy="457.6" r="1.75"/><circle cx="353.8" cy="460.8" r="1.75"/><circle cx="353.8" cy="464.6" r="1.75"/><circle cx="395" cy="443" r="1.75"/><circle cx="401" cy="446" r="1.75"/><circle cx="404" cy="444" r="1.75"/><circle cx="397.5" cy="448.4" r="1.75"/><circle cx="402" cy="449.4" r="1.75"/><circle cx="399.5" cy="462" r="1.75"/><circle cx="441" cy="445" r="1.75"/><circle cx="441" cy="449" r="1.75"/><circle cx="449" cy="442" r="1.75"/><circle cx="449" cy="446" r="1.75"/><circle cx="449" cy="450" r="1.75"/><circle cx="445" cy="462" r="1.75"/></g>
<g fill="#111"><path d="M371,406.59999999999997l2,3.5h-4z"/><path d="M371,411.4l2,3.5h-4z"/><path d="M371,417.9l2,3.5h-4z"/><path d="M416.3,414.9l2,3.5h-4z"/><path d="M416.3,417.9l2,3.5h-4z"/><path d="M412.5,424.9l2,3.5h-4z"/><path d="M420.5,424.9l2,3.5h-4z"/><path d="M416.3,431.9l2,3.5h-4z"/><path d="M416.3,438.9l2,3.5h-4z"/><path d="M458,419.9l2,3.5h-4z"/><path d="M466.5,418.9l2,3.5h-4z"/><path d="M458,426.9l2,3.5h-4z"/><path d="M466.5,426.9l2,3.5h-4z"/><path d="M462,434.9l2,3.5h-4z"/><path d="M462,437.9l2,3.5h-4z"/></g>
<path d="M353.5,404.6v-2.2H371.5v2.2M399,412.6v-2.2H416.5v2.2M444.2,412.6v-2.2H461.8v2.2" fill="none" stroke="#333" stroke-width="0.7"/>
<text x="359.9" y="402.0" font-size="9.5" fill="#333" textLength="5.5" lengthAdjust="spacingAndGlyphs">*</text>
<text x="403.0" y="409.2" font-size="9.5" fill="#333" textLength="10.0" lengthAdjust="spacingAndGlyphs">**</text>
<text x="445.8" y="409.2" font-size="9.5" fill="#333" textLength="14.5" lengthAdjust="spacingAndGlyphs">***</text>
<text x="357.8" y="506.6" font-size="7.8" font-style="italic" fill="#222" textLength="9.5" lengthAdjust="spacingAndGlyphs">p2</text>
<text x="403.2" y="506.6" font-size="7.8" font-style="italic" fill="#222" textLength="9.5" lengthAdjust="spacingAndGlyphs">p2</text>
<text x="446.1" y="506.6" font-size="7.8" font-style="italic" fill="#222" textLength="16.5" lengthAdjust="spacingAndGlyphs">pssA</text>
<text x="349.0" y="519.0" font-size="7.8" font-style="italic" fill="#222" textLength="27.3" lengthAdjust="spacingAndGlyphs">DNArep</text>
<text x="407.8" y="519.0" font-size="7.8" font-style="italic" fill="#222" textLength="49.4" lengthAdjust="spacingAndGlyphs">DNArep-PLsyn</text>
<path d="M398.2,505.4V509.3H464.7V505.4" fill="none" stroke="#333" stroke-width="0.7"/>
<text x="488.0" y="385.0" font-size="11.5" font-weight="bold" fill="#111" textLength="9.8" lengthAdjust="spacingAndGlyphs">g)</text>
<text transform="translate(516.8,449.5) rotate(-90)" x="-23.5" y="0" font-size="7.8" fill="#333" textLength="47.0" lengthAdjust="spacingAndGlyphs">Amplification</text>
<path d="M548.5,397.5V488.3M542,488.3H670.8M548.5,479.3h-3.5M548.5,474.0h-3.5M548.5,470.3h-3.5M548.5,467.4h-3.5M548.5,465.0h-3.5M548.5,463.0h-3.5M548.5,461.3h-3.5M548.5,459.7h-3.5M548.5,449.3h-3.5M548.5,444.1h-3.5M548.5,440.3h-3.5M548.5,437.4h-3.5M548.5,435.0h-3.5M548.5,433.0h-3.5M548.5,431.3h-3.5M548.5,429.8h-3.5M548.5,419.4h-3.5M548.5,414.1h-3.5M548.5,410.4h-3.5M548.5,407.5h-3.5M548.5,405.1h-3.5M548.5,403.1h-3.5M548.5,401.4h-3.5M548.5,399.8h-3.5M548.5,488.3h-6M548.5,458.4h-6M548.5,428.4h-6M548.5,398.5h-6M572.7,488.3v6M609.2,488.3v6M645.5,488.3v6" fill="none" stroke="#333" stroke-width="0.8"/>
<text x="526.0" y="491.6" font-size="7.6" fill="#333" textLength="9.5" lengthAdjust="spacingAndGlyphs">10</text>
<text x="536.8" y="487.5" font-size="6.6" fill="#333">0</text>
<text x="526.0" y="461.7" font-size="7.6" fill="#333" textLength="9.5" lengthAdjust="spacingAndGlyphs">10</text>
<text x="536.8" y="457.6" font-size="6.6" fill="#333">1</text>
<text x="526.0" y="431.7" font-size="7.6" fill="#333" textLength="9.5" lengthAdjust="spacingAndGlyphs">10</text>
<text x="536.8" y="427.6" font-size="6.6" fill="#333">2</text>
<text x="526.0" y="401.8" font-size="7.6" fill="#333" textLength="9.5" lengthAdjust="spacingAndGlyphs">10</text>
<text x="536.8" y="397.7" font-size="6.6" fill="#333">3</text>
<rect x="561.3" y="422.6" width="23.0" height="65.7" fill="#55c853" stroke="#2a6a2a" stroke-width="0.9"/>
<rect x="597.4" y="457.2" width="23.5" height="31.1" fill="#55c853" stroke="#2a6a2a" stroke-width="0.9"/>
<rect x="634.1" y="461.3" width="23.0" height="27.0" fill="#55c853" stroke="#2a6a2a" stroke-width="0.9"/>
<g fill="#111"><circle cx="572.7" cy="413.8" r="1.9"/><circle cx="572.7" cy="424.3" r="1.9"/><circle cx="572.7" cy="437.4" r="1.9"/><circle cx="609.2" cy="446.3" r="1.9"/><circle cx="609.2" cy="450.7" r="1.9"/><circle cx="609.2" cy="458.7" r="1.9"/><circle cx="606" cy="462.8" r="1.9"/><circle cx="612.4" cy="465.5" r="1.9"/><circle cx="609.2" cy="477.2" r="1.9"/><circle cx="642.5" cy="455.8" r="1.9"/><circle cx="648.6" cy="454.3" r="1.9"/><circle cx="642.5" cy="461.6" r="1.9"/><circle cx="648.6" cy="459.9" r="1.9"/><circle cx="645.4" cy="467.4" r="1.9"/><circle cx="645.4" cy="474" r="1.9"/></g>
<text x="567.6" y="507.3" font-size="7.8" font-style="italic" fill="#222" textLength="10.2" lengthAdjust="spacingAndGlyphs">p2</text>
<text x="604.4" y="507.3" font-size="7.8" font-style="italic" fill="#222" textLength="10.2" lengthAdjust="spacingAndGlyphs">p2</text>
<text x="637.8" y="507.3" font-size="7.8" font-style="italic" fill="#222" textLength="16.3" lengthAdjust="spacingAndGlyphs">pssA</text>
<text x="560.1" y="520.0" font-size="7.8" font-style="italic" fill="#222" textLength="27.3" lengthAdjust="spacingAndGlyphs">DNArep</text>
<text x="607.3" y="520.0" font-size="7.8" font-style="italic" fill="#222" textLength="49.4" lengthAdjust="spacingAndGlyphs">DNArep-PLsyn</text>
<path d="M602.3,506.6V510.7H660.6V506.6" fill="none" stroke="#333" stroke-width="0.7"/>
</svg>
</body></html>
